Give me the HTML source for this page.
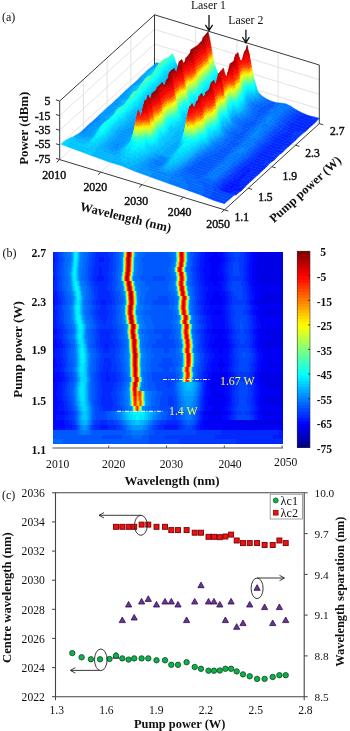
<!DOCTYPE html>
<html lang="en"><head><meta charset="utf-8"><title>Dual-wavelength laser spectra</title>
<style>html,body{margin:0;padding:0;background:#fff}svg{display:block}text{font-family:"Liberation Serif","DejaVu Serif",serif}</style></head>
<body>
<svg width="350" height="731" viewBox="0 0 350 731" font-size="12" fill="#111">
<rect width="350" height="731" fill="#fff"/>
<g id="pa-frame">
<path d="M59.7 144.9L154.5 58.7" stroke="#dcdcdc" stroke-width="0.8" fill="none"/>
<path d="M154.5 58.7L319.3 109" stroke="#dcdcdc" stroke-width="0.8" fill="none"/>
<path d="M83.4 138L83.4 79.4" stroke="#dcdcdc" stroke-width="0.8" fill="none"/>
<path d="M195.7 86L195.7 27.4" stroke="#dcdcdc" stroke-width="0.8" fill="none"/>
<path d="M100.9 172.2L195.7 86" stroke="#dcdcdc" stroke-width="0.8" fill="none"/>
<path d="M83.4 138L248.2 188.2" stroke="#dcdcdc" stroke-width="0.8" fill="none"/>
<path d="M59.7 130.3L154.5 44.1" stroke="#dcdcdc" stroke-width="0.8" fill="none"/>
<path d="M154.5 44.1L319.3 94.3" stroke="#dcdcdc" stroke-width="0.8" fill="none"/>
<path d="M107.1 116.5L107.1 57.9" stroke="#dcdcdc" stroke-width="0.8" fill="none"/>
<path d="M236.9 98.5L236.9 39.9" stroke="#dcdcdc" stroke-width="0.8" fill="none"/>
<path d="M142.1 184.7L236.9 98.5" stroke="#dcdcdc" stroke-width="0.8" fill="none"/>
<path d="M107.1 116.5L271.9 166.7" stroke="#dcdcdc" stroke-width="0.8" fill="none"/>
<path d="M59.7 115.6L154.5 29.4" stroke="#dcdcdc" stroke-width="0.8" fill="none"/>
<path d="M154.5 29.4L319.3 79.7" stroke="#dcdcdc" stroke-width="0.8" fill="none"/>
<path d="M130.8 94.9L130.8 36.3" stroke="#dcdcdc" stroke-width="0.8" fill="none"/>
<path d="M278.1 111L278.1 52.4" stroke="#dcdcdc" stroke-width="0.8" fill="none"/>
<path d="M183.3 197.2L278.1 111" stroke="#dcdcdc" stroke-width="0.8" fill="none"/>
<path d="M130.8 94.9L295.6 145.2" stroke="#dcdcdc" stroke-width="0.8" fill="none"/>
<path d="M59.7 159.6L154.5 73.4" stroke="#dcdcdc" stroke-width="0.8" fill="none"/>
<path d="M154.5 73.4L319.3 123.6" stroke="#dcdcdc" stroke-width="0.8" fill="none"/>
<path d="M59.7 101L154.5 14.8" stroke="#3a3a3a" stroke-width="1" fill="none"/>
<path d="M154.5 14.8L319.3 65" stroke="#3a3a3a" stroke-width="1" fill="none"/>
<path d="M154.5 73.4L154.5 14.8" stroke="#3a3a3a" stroke-width="1" fill="none"/>
<path d="M59.7 159.6L59.7 101" stroke="#3a3a3a" stroke-width="1" fill="none"/>
<path d="M319.3 123.6L319.3 65" stroke="#3a3a3a" stroke-width="1" fill="none"/>
<path d="M59.7 159.6L224.5 209.8" stroke="#3a3a3a" stroke-width="1" fill="none"/>
<path d="M224.5 209.8L319.3 123.6" stroke="#3a3a3a" stroke-width="1" fill="none"/>
<path d="M59.7 159.6L56.7 162.3" stroke="#3a3a3a" stroke-width="1" fill="none"/>
<path d="M224.5 209.8L228.3 211" stroke="#3a3a3a" stroke-width="1" fill="none"/>
<path d="M59.7 159.6L55.9 158.4" stroke="#3a3a3a" stroke-width="1" fill="none"/>
<path d="M100.9 172.2L97.9 174.8" stroke="#3a3a3a" stroke-width="1" fill="none"/>
<path d="M248.2 188.2L252 189.4" stroke="#3a3a3a" stroke-width="1" fill="none"/>
<path d="M59.7 144.9L55.9 143.8" stroke="#3a3a3a" stroke-width="1" fill="none"/>
<path d="M142.1 184.7L139.1 187.4" stroke="#3a3a3a" stroke-width="1" fill="none"/>
<path d="M271.9 166.7L275.7 167.9" stroke="#3a3a3a" stroke-width="1" fill="none"/>
<path d="M59.7 130.3L55.9 129.1" stroke="#3a3a3a" stroke-width="1" fill="none"/>
<path d="M183.3 197.2L180.3 199.9" stroke="#3a3a3a" stroke-width="1" fill="none"/>
<path d="M295.6 145.2L299.4 146.3" stroke="#3a3a3a" stroke-width="1" fill="none"/>
<path d="M59.7 115.6L55.9 114.5" stroke="#3a3a3a" stroke-width="1" fill="none"/>
<path d="M224.5 209.8L221.5 212.5" stroke="#3a3a3a" stroke-width="1" fill="none"/>
<path d="M319.3 123.6L323.1 124.8" stroke="#3a3a3a" stroke-width="1" fill="none"/>
<path d="M59.7 101L55.9 99.8" stroke="#3a3a3a" stroke-width="1" fill="none"/>
</g>
<g id="pa-surf" fill="currentColor" stroke="currentColor" stroke-width=".5" stroke-linejoin="round">
<path color="#0097ff" d="M153.7 65.2l2 .3 2.4-2.4-2.1-.3z"/>
<path color="#00a7ff" d="M155.7 65.5l3.6 .1 2.4-2.5-3.6 0z"/>
<path color="#28ffd7" d="M168.6 57.4l1-.2 2.4-2.6-1 .2z"/>
<path color="#38ffc7" d="M169.6 57.2l1.1-.1 2.3-2.6-1 .1z"/>
<path color="#28ffd7" d="M170.7 57.1l.5 1.3 2.4-2.6-.6-1.3z"/>
<path color="#18ffe7" d="M171.2 58.4l.5 1.6 2.4-2.8-.5-1.4z"/>
<path color="#08fff7" d="M171.7 60l.5 1.7 2.4-2.7-.5-1.8z"/>
<path color="#00f7ff" d="M172.2 61.7l.5 1.7 2.4-2.6-.5-1.8z"/>
<path color="#00e7ff" d="M172.7 63.4l.5 1.1 2.4-2.6-.5-1.1z"/>
<path color="#00d7ff" d="M173.2 64.5l1.1 2.3 2.3-2.7-1-2.2z"/>
<path color="#00c7ff" d="M174.3 66.8l.5 1.2 2 1.5 2.4-2.7-2-1.5-.6-1.2z"/>
<path color="#00b7ff" d="M176.8 69.5l3.7 2.6 2.3-2.5-3.6-2.8z"/>
<path color="#970000" d="M205.7 34.5l.5 2.3 2.4-2.8-.5-2.4z"/>
<path color="#a70000" d="M206.2 36.8l.5 2.4 2.4-2.9-.5-2.3z"/>
<path color="#b70000" d="M206.7 39.2l.5 2.3 2.4-2.8-.5-2.4z"/>
<path color="#d70000" d="M207.2 41.5l.6 2.4 2.3-2.9-.5-2.3z"/>
<path color="#e70000" d="M207.8 43.9l.5 3.1 2.3-2.9-.5-3.1z"/>
<path color="#ff0800" d="M208.3 47l.5 3.1 2.4-2.9-.6-3.1z"/>
<path color="#ff2800" d="M208.8 50.1l.5 3 2.4-2.8-.5-3.1z"/>
<path color="#ff5800" d="M209.3 53.1l.5 3.1 2.4-2.8-.5-3.1z"/>
<path color="#ffa700" d="M209.8 56.2l.5 2.5 2.4-2.8-.5-2.5z"/>
<path color="#ffe700" d="M210.3 58.7l.5 2.6 2.4-2.9-.5-2.5z"/>
<path color="#d7ff28" d="M210.8 61.3l.6 2.5 2.3-2.9-.5-2.5z"/>
<path color="#a7ff58" d="M211.4 63.8l.5 2.5 2.3-2.8-.5-2.6z"/>
<path color="#87ff78" d="M211.9 66.3l.5 1.5 2.4-2.8-.6-1.5z"/>
<path color="#58ffa7" d="M212.4 67.8l.5 1.5 2.4-2.8-.5-1.5z"/>
<path color="#38ffc7" d="M212.9 69.3l.5 1.5 2.4-2.8-.5-1.5z"/>
<path color="#28ffd7" d="M213.4 70.8l.5 1.7 2.4-3-.5-1.5z"/>
<path color="#08fff7" d="M213.9 72.5l1.1 2.4 2.3-2.9-1-2.5z"/>
<path color="#00f7ff" d="M215 74.9l.5 1.2 2.3-2.9-.5-1.2z"/>
<path color="#00e7ff" d="M215.5 76.1l.5 1.2 1 1.1 2.4-2.7-1-1.2-.6-1.3z"/>
<path color="#c70000" d="M245.4 53.9l.5-2.3 .8-4.1-.5 2z"/>
<path color="#b70000" d="M245.9 51.6l.5-2.3 .8-3.8-.5 2z"/>
<path color="#a70000" d="M246.4 49.3l.5 .9 .8-2.4-.5-2.3z"/>
<path color="#b70000" d="M246.9 50.2l.5 .9 .8-.9-.5-2.4z"/>
<path color="#c70000" d="M247.4 51.1l.6 .9 .7 .5-.5-2.3z"/>
<path color="#d70000" d="M248 52l.5 .9 .8 2-.6-2.4z"/>
<path color="#f70000" d="M248.5 52.9l.5 2.8 .8 2.3-.5-3.1z"/>
<path color="#ff0800" d="M249 55.7l.5 2.9 .8 2.4-.5-3z"/>
<path color="#ff2800" d="M249.5 58.6l.5 2.8 .8 2.7-.5-3.1z"/>
<path color="#ff5800" d="M250 61.4l.5 2.9 .8 2.9-.5-3.1z"/>
<path color="#ff9700" d="M250.5 64.3l.5 2.7 .8 2.7-.5-2.5z"/>
<path color="#ffe700" d="M251 67l.6 2.7 .8 2.6-.6-2.6z"/>
<path color="#d7ff28" d="M251.6 69.7l.5 2.7 .8 2.4-.5-2.5z"/>
<path color="#a7ff58" d="M252.1 72.4l.5 2.7 .8 2.2-.5-2.5z"/>
<path color="#78ff87" d="M252.6 75.1l.5 1.9 .8 1.9-.5-1.6z"/>
<path color="#58ffa7" d="M253.1 77l.5 1.9 .8 1.6-.5-1.6z"/>
<path color="#28ffd7" d="M253.6 78.9l.5 1.9 .8 1.5-.5-1.8z"/>
<path color="#18ffe7" d="M254.1 80.8l.6 2.1 .7 1.6-.5-2.2z"/>
<path color="#00f7ff" d="M254.7 82.9l.5 1.7 .8 1.4-.6-1.5z"/>
<path color="#00e7ff" d="M255.2 84.6l.5 1.7 .8 1.2-.5-1.5z"/>
<path color="#00d7ff" d="M255.7 86.3l.5 1.7 .8 1-.5-1.5z"/>
<path color="#d70000" d="M247.7 50.9l.5 2.6 .8 2.2-.5-2.8z"/>
<path color="#e70000" d="M248.2 53.5l.5 2.6 .8 2.5-.5-2.9z"/>
<path color="#ff0800" d="M248.7 56.1l.5 2.6 .8 2.7-.5-2.8z"/>
<path color="#ff2800" d="M249.2 58.7l.5 2.6 .8 3-.5-2.9z"/>
<path color="#ff3800" d="M249.7 61.3l.6 2.9 .7 2.8-.5-2.7z"/>
<path color="#ff8700" d="M250.3 64.2l.5 2.9 .8 2.6-.6-2.7z"/>
<path color="#ffd700" d="M250.8 67.1l.5 2.9 .8 2.4-.5-2.7z"/>
<path color="#e7ff18" d="M251.3 70l.5 2.9 .8 2.2-.5-2.7z"/>
<path color="#b7ff48" d="M251.8 72.9l.5 2.2 .8 1.9-.5-1.9z"/>
<path color="#87ff78" d="M252.3 75.1l.5 2.2 .8 1.6-.5-1.9z"/>
<path color="#68ff97" d="M252.8 77.3l.5 2.2 .8 1.3-.5-1.9z"/>
<path color="#38ffc7" d="M253.3 79.5l.6 2.3 .8 1.1-.6-2.1z"/>
<path color="#18ffe7" d="M253.9 81.8l.5 1.4 .8 1.4-.5-1.7z"/>
<path color="#00f7ff" d="M254.4 83.2l.5 2 .8 1.1-.5-1.7z"/>
<path color="#00f7ff" d="M254.9 85.2l.5 1.9 .8 .9-.5-1.7z"/>
<path color="#b70000" d="M246.9 49l.5 2.3 .8 2.2-.5-2.6z"/>
<path color="#d70000" d="M247.4 51.3l.5 2.4 .8 2.4-.5-2.6z"/>
<path color="#e70000" d="M247.9 53.7l.5 2.3 .8 2.7-.5-2.6z"/>
<path color="#f70000" d="M248.4 56l.6 2.4 .7 2.9-.5-2.6z"/>
<path color="#ff1800" d="M248.9 58.4l.5 3.1 .8 2.7-.6-2.9z"/>
<path color="#ff3800" d="M249.5 61.5l.5 3 .8 2.6-.5-2.9z"/>
<path color="#ff7800" d="M250 64.5l.5 3.1 .8 2.4-.5-2.9z"/>
<path color="#ffc700" d="M250.5 67.6l.5 3.1 .8 2.2-.5-2.9z"/>
<path color="#f7ff08" d="M251 70.7l.5 2.5 .8 1.9-.5-2.2z"/>
<path color="#c7ff38" d="M251.5 73.2l.5 2.6 .8 1.5-.5-2.2z"/>
<path color="#97ff68" d="M252 75.8l.6 2.5 .7 1.2-.5-2.2z"/>
<path color="#58ffa7" d="M252.6 78.3l.5 2.5 .8 1-.6-2.3z"/>
<path color="#38ffc7" d="M253.1 80.8l.5 1.6 .8 .8-.5-1.4z"/>
<path color="#18ffe7" d="M253.6 82.4l.5 1.6 .8 1.2-.5-2z"/>
<path color="#08fff7" d="M254.1 84l.5 2.1 .8 1-.5-1.9z"/>
<path color="#00e7ff" d="M254.6 86.1l.5 2.2 2.4 2.2-.5-1.5z"/>
<path color="#00d7ff" d="M255.1 88.3l.5 1.5 2.4 1.6-.5-.9z"/>
<path color="#00c7ff" d="M255.6 89.8l1.1 3 2.3 .3-1-1.7z"/>
<path color="#00b7ff" d="M256.7 92.8l.5 1.4 2.4-.4-.6-.7z"/>
<path color="#00a7ff" d="M257.2 94.2l1 1.7 2.4-1.2-1-.9z"/>
<path color="#0097ff" d="M258.2 95.9l1.6 1.8 2.3-1.7-1.5-1.3z"/>
<path color="#0087ff" d="M259.8 97.7l2 1.6 2.4-1.8-2.1-1.5z"/>
<path color="#0078ff" d="M261.8 99.3l2.6 1.8 2.4-2-2.6-1.6z"/>
<path color="#0068ff" d="M264.4 101.1l4.6 2.5 2.4-2.3-4.6-2.2z"/>
<path color="#0058ff" d="M269 103.6l5.2 1.6 2.4-2.4-5.2-1.5z"/>
<path color="#0068ff" d="M274.2 105.2l4.1 .4 2.4-2.5-4.1-.3z"/>
<path color="#0078ff" d="M278.3 105.6l3.6 .2 2.1 .5 4.1 2 2.4-2.2-4.2-2.1-2-.6-3.6-.3z"/>
<path color="#0068ff" d="M288.1 108.3l2.6 1.7 2.3-2.2-2.5-1.7z"/>
<path color="#0058ff" d="M290.7 110l3.1 2 2.3-2.3-3.1-1.9z"/>
<path color="#0048ff" d="M293.8 112l3.6 2.1 2.3-2.4-3.6-2z"/>
<path color="#0038ff" d="M297.4 114.1l4.1 2.2 2.3-2.6-4.1-2z"/>
<path color="#0028ff" d="M301.5 116.3l5.1 1.9 5.2 1.2 2.4-2.5-5.2-1.2-5.2-2z"/>
<path color="#0038ff" d="M311.8 119.4l5.1 1.4 2.4-2.5-5.1-1.4z"/>
<path color="#0097ff" d="M151.3 67.2l2.6 .2 2.3-1.9-2.5-.3z"/>
<path color="#00a7ff" d="M153.9 67.4l2.6 0 2.3-1.8-2.6-.1z"/>
<path color="#28ffd7" d="M166.2 58.5l.6 .2 2.3-1.4-.5 .1z"/>
<path color="#38ffc7" d="M166.8 58.7l1.5 .6 2.4-2.2-1.6 .2z"/>
<path color="#28ffd7" d="M168.3 59.3l.5 1.4 2.4-2.3-.5-1.3z"/>
<path color="#18ffe7" d="M168.8 60.7l.5 1.8 2.4-2.5-.5-1.6z"/>
<path color="#00f7ff" d="M169.3 62.5l.5 1.8 2.4-2.6-.5-1.7z"/>
<path color="#00e7ff" d="M169.8 64.3l.6 1.9 2.3-2.8-.5-1.7z"/>
<path color="#00e7ff" d="M170.4 66.2l.5 .9 2.3-2.6-.5-1.1z"/>
<path color="#00d7ff" d="M170.9 67.1l1 1.9 2.4-2.2-1.1-2.3z"/>
<path color="#00c7ff" d="M171.9 69l.5 .9 2.1 1.5 2.3-1.9-2-1.5-.5-1.2z"/>
<path color="#00b7ff" d="M174.5 71.4l3.1 2.4 2.3-2-3.1-2.3z"/>
<path color="#970000" d="M203.3 37.2l.5 2.3 2.4-2.7-.5-2.3z"/>
<path color="#b70000" d="M203.8 39.5l.6 2.4 2.3-2.7-.5-2.4z"/>
<path color="#c70000" d="M204.3 41.9l.5 2.4 2.3-2.8-.5-2.3z"/>
<path color="#d70000" d="M204.9 44.3l.5 2.3 2.4-2.7-.6-2.4z"/>
<path color="#f70000" d="M205.4 46.6l.5 3.1 2.4-2.7-.5-3.1z"/>
<path color="#ff1800" d="M205.9 49.7l.5 3.1 2.4-2.7-.5-3.1z"/>
<path color="#ff3800" d="M206.4 52.8l.5 3.1 2.4-2.8-.5-3z"/>
<path color="#ff6800" d="M206.9 55.9l.5 3 2.4-2.7-.5-3.1z"/>
<path color="#ffb700" d="M207.4 58.9l.6 2.6 2.3-2.8-.5-2.5z"/>
<path color="#fff700" d="M208 61.5l.5 2.5 2.3-2.7-.5-2.6z"/>
<path color="#c7ff38" d="M208.5 64l.5 2.5 2.4-2.7-.6-2.5z"/>
<path color="#97ff68" d="M209 66.5l.5 2.5 2.4-2.7-.5-2.5z"/>
<path color="#78ff87" d="M209.5 69l.5 1.4 2.4-2.6-.5-1.5z"/>
<path color="#58ffa7" d="M210 70.4l.5 1.5 2.4-2.6-.5-1.5z"/>
<path color="#38ffc7" d="M210.5 71.9l.5 1.5 2.4-2.6-.5-1.5z"/>
<path color="#18ffe7" d="M211 73.4l.6 1.9 2.3-2.8-.5-1.7z"/>
<path color="#08fff7" d="M211.6 75.3l.5 1.1 2.3-2.7-.5-1.2z"/>
<path color="#00f7ff" d="M212.1 76.4l1 2.3 2.4-2.6-1.1-2.4z"/>
<path color="#00e7ff" d="M213.1 78.7l1 1.7 2.4-2.5-1-1.8z"/>
<path color="#00d7ff" d="M214.1 80.4l1.6 1.5 1.5 .9 2.4-2.3-1.6-.9-1.5-1.7z"/>
<path color="#a70000" d="M244.5 51.7l.5 2.4 2.4-2.8-.5-2.3z"/>
<path color="#c70000" d="M245 54.1l.6 2.3 2.3-2.7-.5-2.4z"/>
<path color="#d70000" d="M245.6 56.4l.5 2.4 2.3-2.8-.5-2.3z"/>
<path color="#f70000" d="M246.1 58.8l.5 2.3 2.4-2.7-.6-2.4z"/>
<path color="#ff0800" d="M246.6 61.1l.5 3.1 2.4-2.7-.5-3.1z"/>
<path color="#ff2800" d="M247.1 64.2l.5 3.1 2.4-2.8-.5-3z"/>
<path color="#ff4800" d="M247.6 67.3l.5 3.1 2.4-2.8-.5-3.1z"/>
<path color="#ffa700" d="M248.1 70.4l.5 3.1 2.4-2.8-.5-3.1z"/>
<path color="#fff700" d="M248.6 73.5l.6 2.5 2.3-2.8-.5-2.5z"/>
<path color="#d7ff28" d="M249.2 76l.5 2.5 2.3-2.7-.5-2.6z"/>
<path color="#a7ff58" d="M249.7 78.5l.5 2.5 2.4-2.7-.6-2.5z"/>
<path color="#68ff97" d="M250.2 81l.5 2.6 2.4-2.8-.5-2.5z"/>
<path color="#38ffc7" d="M250.7 83.6l.5 1.5 2.4-2.7-.5-1.6z"/>
<path color="#28ffd7" d="M251.2 85.1l.5 1.8 2.4-2.9-.5-1.6z"/>
<path color="#08fff7" d="M251.7 86.9l.5 2.2 2.4-3-.5-2.1z"/>
<path color="#00f7ff" d="M252.2 89.1l.6 2.1 2.3-2.9-.5-2.2z"/>
<path color="#00e7ff" d="M252.8 91.2l.5 1.4 2.3-2.8-.5-1.5z"/>
<path color="#00d7ff" d="M253.3 92.6l.5 1.5 2.4-2.8-.6-1.5z"/>
<path color="#00c7ff" d="M253.8 94.1l.5 1.5 2.4-2.8-.5-1.5z"/>
<path color="#00b7ff" d="M254.3 95.6l1 2.2 2.4-2.7-1-2.3z"/>
<path color="#00a7ff" d="M255.3 97.8l1.1 1.3 2.3-2.6-1-1.4z"/>
<path color="#0097ff" d="M256.4 99.1l1 1 2.4-2.4-1.1-1.2z"/>
<path color="#0087ff" d="M257.4 100.1l2.1 1.6 2.3-2.4-2-1.6z"/>
<path color="#0078ff" d="M259.5 101.7l2.5 1.7 2.4-2.3-2.6-1.8z"/>
<path color="#0068ff" d="M262 103.4l4.2 2.1 2.3-2.2-4.1-2.2z"/>
<path color="#0058ff" d="M266.2 105.5l3 1.2 3.6 .7 2.4-2-3.6-.8-3.1-1.3z"/>
<path color="#0068ff" d="M272.8 107.4l3.6 .1 2.4-1.9-3.6-.2z"/>
<path color="#0078ff" d="M276.4 107.5l3.1 .3 2.1 .6 3.6 2 2.4-2.4-3.6-1.7-2.1-.5-3.1-.2z"/>
<path color="#0068ff" d="M285.2 110.4l2.6 1.7 2.4-2.4-2.6-1.7z"/>
<path color="#0058ff" d="M287.8 112.1l3.1 1.9 2.3-2.3-3-2z"/>
<path color="#0048ff" d="M290.9 114l3.1 1.8 2.3-2.2-3.1-1.9z"/>
<path color="#0038ff" d="M294 115.8l4.1 2.3 2.4-2.3-4.2-2.2z"/>
<path color="#0028ff" d="M298.1 118.1l6.2 2.4 10.3 2.6 2.3-2.3-10.3-2.6-6.1-2.4z"/>
<path color="#0097ff" d="M148.9 69.1l1.1 0 2.3-1.8-1-.1z"/>
<path color="#00a7ff" d="M150 69.1l3.1-.1 2.3-1.6-3.1-.1z"/>
<path color="#00b7ff" d="M153.1 69l3-.6 2.4-1.3-3.1 .3z"/>
<path color="#48ffb7" d="M163.9 59.5l.5 .5 2.4-1.3-.6-.2z"/>
<path color="#38ffc7" d="M164.4 60l1.5 1.5 2.4-2.2-1.5-.6z"/>
<path color="#28ffd7" d="M165.9 61.5l.5 1.4 2.4-2.2-.5-1.4z"/>
<path color="#18ffe7" d="M166.4 62.9l.6 1.9 2.3-2.3-.5-1.8z"/>
<path color="#00f7ff" d="M167 64.8l.5 1.9 2.3-2.4-.5-1.8z"/>
<path color="#00e7ff" d="M167.5 66.7l.5 1.9 2.4-2.4-.6-1.9z"/>
<path color="#00e7ff" d="M168 68.6l.5 .7 2.4-2.2-.5-.9z"/>
<path color="#00d7ff" d="M168.5 69.3l1 1.5 2.4-1.8-1-1.9z"/>
<path color="#00c7ff" d="M169.5 70.8l3.1 2.7 2.4-1.7-2.6-1.9-.5-.9z"/>
<path color="#a70000" d="M202 43.1l.5-2.3 .8-3.6-.5 2z"/>
<path color="#a70000" d="M202.5 40.8l.5 .9 .8-2.2-.5-2.3z"/>
<path color="#b70000" d="M203 41.7l.6 .9 .8-.7-.6-2.4z"/>
<path color="#c70000" d="M203.6 42.6l.5 .8 .8 .9-.5-2.4z"/>
<path color="#d70000" d="M204.1 43.4l.5 .9 .8 2.3-.5-2.3z"/>
<path color="#e70000" d="M204.6 44.3l.5 2.9 .8 2.5-.5-3.1z"/>
<path color="#ff0800" d="M205.1 47.2l.5 2.8 .8 2.8-.5-3.1z"/>
<path color="#ff2800" d="M205.6 50l.5 2.9 .8 3-.5-3.1z"/>
<path color="#ff3800" d="M206.1 52.9l.5 2.8 .8 3.2-.5-3z"/>
<path color="#ff8700" d="M206.7 55.7l.6 2.7 .8 3.1-.6-2.6z"/>
<path color="#ffc700" d="M207.2 58.4l.5 2.7 .8 2.9-.5-2.5z"/>
<path color="#e7ff18" d="M207.7 61.1l.5 2.7 .8 2.7-.5-2.5z"/>
<path color="#b7ff48" d="M208.2 63.8l.5 2.7 .8 2.5-.5-2.5z"/>
<path color="#87ff78" d="M208.7 66.5l.5 1.8 .8 2.1-.5-1.4z"/>
<path color="#68ff97" d="M209.2 68.3l.5 1.8 .8 1.8-.5-1.5z"/>
<path color="#48ffb7" d="M209.7 70.1l.6 1.8 .7 1.5-.5-1.5z"/>
<path color="#28ffd7" d="M210.3 71.9l.5 1.9 .8 1.5-.6-1.9z"/>
<path color="#08fff7" d="M211.3 74.9l.5 1.4 .8 1.3-.5-1.2z"/>
<path color="#00f7ff" d="M211.8 76.3l.5 1.4 .8 1-.5-1.1z"/>
<path color="#c70000" d="M203.8 42.1l.5 2.6 .8 2.5-.5-2.9z"/>
<path color="#e70000" d="M204.3 44.7l.5 2.6 .8 2.7-.5-2.8z"/>
<path color="#f70000" d="M204.8 47.3l.5 2.5 .8 3.1-.5-2.9z"/>
<path color="#ff1800" d="M205.3 49.8l.6 2.6 .7 3.3-.5-2.8z"/>
<path color="#ff3800" d="M205.9 52.4l.5 2.9 .8 3.1-.6-2.7z"/>
<path color="#ff6800" d="M206.4 55.3l.5 2.9 .8 2.9-.5-2.7z"/>
<path color="#ffb700" d="M206.9 58.2l.5 2.9 .8 2.7-.5-2.7z"/>
<path color="#fff700" d="M207.4 61.1l.5 2.9 .8 2.5-.5-2.7z"/>
<path color="#d7ff28" d="M207.9 64l.5 2.2 .8 2.1-.5-1.8z"/>
<path color="#a7ff58" d="M208.4 66.2l.6 2.1 .7 1.8-.5-1.8z"/>
<path color="#87ff78" d="M208.9 68.3l.5 2.2 .8 1.4-.6-1.8z"/>
<path color="#58ffa7" d="M209.5 70.5l.5 2.2 .8 1.1-.5-1.9z"/>
<path color="#38ffc7" d="M210 72.7l.5 1.2 .8 1-.5-1.1z"/>
<path color="#18ffe7" d="M210.5 73.9l.5 1.3 .8 1.1-.5-1.4z"/>
<path color="#08fff7" d="M211 75.2l.5 1.6 .8 .9-.5-1.4z"/>
<path color="#a70000" d="M203 39.8l.5 2.3 .8 2.6-.5-2.6z"/>
<path color="#c70000" d="M203.5 42.1l.5 2.4 .8 2.8-.5-2.6z"/>
<path color="#d70000" d="M204 44.5l.6 2.3 .7 3-.5-2.5z"/>
<path color="#f70000" d="M204.6 46.8l.5 2.4 .8 3.2-.6-2.6z"/>
<path color="#ff0800" d="M205.1 49.2l.5 3.1 .8 3-.5-2.9z"/>
<path color="#ff2800" d="M205.6 52.3l.5 3.1 .8 2.8-.5-2.9z"/>
<path color="#ff4800" d="M206.1 55.4l.5 3.1 .8 2.6-.5-2.9z"/>
<path color="#ff9700" d="M206.6 58.5l.5 3 .8 2.5-.5-2.9z"/>
<path color="#ffe700" d="M207.1 61.5l.5 2.5 .8 2.2-.5-2.2z"/>
<path color="#e7ff18" d="M207.6 64l.6 2.6 .8 1.7-.6-2.1z"/>
<path color="#b7ff48" d="M208.2 66.6l.5 2.5 .8 1.4-.5-2.2z"/>
<path color="#87ff78" d="M208.7 69.1l.5 2.5 .8 1.1-.5-2.2z"/>
<path color="#58ffa7" d="M209.2 71.6l.5 1.4 .8 .9-.5-1.2z"/>
<path color="#38ffc7" d="M209.7 73l.5 1.5 .8 .7-.5-1.3z"/>
<path color="#28ffd7" d="M210.2 74.5l.5 1.5 .8 .8-.5-1.6z"/>
<path color="#00f7ff" d="M210.7 76l.5 1.8 2.4 2-.5-1.1z"/>
<path color="#00f7ff" d="M211.2 77.8l.6 1.2 2.3 1.4-.5-.6z"/>
<path color="#00e7ff" d="M211.8 79l1 2.3 2.4 .1-1.1-1z"/>
<path color="#00d7ff" d="M212.8 81.3l.5 1.2 2.6 2.4 2.4-1.5-3.1-2z"/>
<path color="#e70000" d="M242.5 59.2l.5-1 .5-2.4-.5 2z"/>
<path color="#d70000" d="M243 58.2l.5-1 .5-3.5-.5 2.1z"/>
<path color="#c70000" d="M243.5 57.2l.5-1 .5-4.5-.5 2z"/>
<path color="#c70000" d="M244 56.2l.6 2.4 .4-4.5-.5-2.4z"/>
<path color="#d70000" d="M244.6 58.6l.5 2.4 .5-4.6-.6-2.3z"/>
<path color="#f70000" d="M245.1 61l.5 2.4 .5-4.6-.5-2.4z"/>
<path color="#ff0800" d="M245.6 63.4l.5 2.4 .5-4.7-.5-2.3z"/>
<path color="#ff2800" d="M246.1 65.8l.5 2.7 .5-4.3-.5-3.1z"/>
<path color="#ff3800" d="M246.6 68.5l.5 2.8 .5-4-.5-3.1z"/>
<path color="#ff8700" d="M247.1 71.3l.6 2.8 .4-3.7-.5-3.1z"/>
<path color="#ffd700" d="M247.7 74.1l.5 2.8 .4-3.4-.5-3.1z"/>
<path color="#e7ff18" d="M248.2 76.9l.5 2.2 .5-3.1-.6-2.5z"/>
<path color="#b7ff48" d="M248.7 79.1l.5 2.2 .5-2.8-.5-2.5z"/>
<path color="#87ff78" d="M249.2 81.3l.5 2.3 .5-2.6-.5-2.5z"/>
<path color="#48ffb7" d="M249.7 83.6l.5 2.2 .5-2.2-.5-2.6z"/>
<path color="#28ffd7" d="M250.2 85.8l.5 1.7 .5-2.4-.5-1.5z"/>
<path color="#08fff7" d="M250.7 87.5l.6 1.9 .4-2.5-.5-1.8z"/>
<path color="#00f7ff" d="M251.3 89.4l.5 1.8 .4-2.1-.5-2.2z"/>
<path color="#00e7ff" d="M251.8 91.2l.5 1.9 .5-1.9-.6-2.1z"/>
<path color="#00d7ff" d="M252.3 93.1l.5 1.3 .5-1.8-.5-1.4z"/>
<path color="#00c7ff" d="M252.8 94.4l1 2.5 .5-1.3-1-3z"/>
<path color="#f70000" d="M241.5 60.7l.5 0 .5-1.5-.5 1.1z"/>
<path color="#f70000" d="M242 60.7l.5 0 .5-2.5-.5 1z"/>
<path color="#e70000" d="M242.5 60.7l.6 0 .4-3.5-.5 1z"/>
<path color="#e70000" d="M243.1 60.7l.5 0 .4-4.5-.5 1z"/>
<path color="#e70000" d="M243.6 60.7l.5 2.4 .5-4.5-.6-2.4z"/>
<path color="#ff0800" d="M244.1 63.1l.5 2.4 .5-4.5-.5-2.4z"/>
<path color="#ff1800" d="M244.6 65.5l.5 2.5 .5-4.6-.5-2.4z"/>
<path color="#ff3800" d="M245.1 68l.5 2.4 .5-4.6-.5-2.4z"/>
<path color="#ff5800" d="M245.6 70.4l.5 2.5 .5-4.4-.5-2.7z"/>
<path color="#ffa700" d="M246.1 72.9l.6 2.4 .4-4-.5-2.8z"/>
<path color="#ffe700" d="M246.7 75.3l.5 2.5 .5-3.7-.6-2.8z"/>
<path color="#d7ff28" d="M247.2 77.8l.5 2.5 .5-3.4-.5-2.8z"/>
<path color="#a7ff58" d="M247.7 80.3l.5 1.9 .5-3.1-.5-2.2z"/>
<path color="#78ff87" d="M248.2 82.2l.5 2 .5-2.9-.5-2.2z"/>
<path color="#48ffb7" d="M248.7 84.2l.5 1.9 .5-2.5-.5-2.3z"/>
<path color="#28ffd7" d="M249.2 86.1l.6 2.5 .4-2.8-.5-2.2z"/>
<path color="#08fff7" d="M249.8 88.6l.5 1.6 .4-2.7-.5-1.7z"/>
<path color="#00f7ff" d="M250.3 90.2l.5 1.6 .5-2.4-.6-1.9z"/>
<path color="#00e7ff" d="M250.8 91.8l.5 1.6 .5-2.2-.5-1.8z"/>
<path color="#00d7ff" d="M251.3 93.4l.5 1.6 .5-1.9-.5-1.9z"/>
<path color="#00c7ff" d="M251.8 95l1 2.2 .5-1.5-1-2.6z"/>
<path color="#00b7ff" d="M252.8 97.2l.6 1 .4-1.3-.5-1.2z"/>
<path color="#f70000" d="M240.5 60.8l.5 .3 .6 1 .4-1.4-.5 0-.5 .7z"/>
<path color="#ff0800" d="M241.6 62.1l1.5 3.1 .5-4.5-1.6 0z"/>
<path color="#ff1800" d="M243.1 65.2l.5 2.5 .5-4.6-.5-2.4z"/>
<path color="#ff2800" d="M243.6 67.7l.5 2.4 .5-4.6-.5-2.4z"/>
<path color="#ff5800" d="M244.1 70.1l.5 2.5 .5-4.6-.5-2.5z"/>
<path color="#ff9700" d="M244.6 72.6l.6 2.4 .4-4.6-.5-2.4z"/>
<path color="#ffd700" d="M245.2 75l.5 2.2 .4-4.3-.5-2.5z"/>
<path color="#f7ff08" d="M245.7 77.2l.5 2.1 .5-4-.6-2.4z"/>
<path color="#c7ff38" d="M246.2 79.3l.5 2.2 .5-3.7-.5-2.5z"/>
<path color="#97ff68" d="M246.7 81.5l.5 2.2 .5-3.4-.5-2.5z"/>
<path color="#68ff97" d="M247.2 83.7l.5 1.6 .5-3.1-.5-1.9z"/>
<path color="#38ffc7" d="M247.7 85.3l.5 1.8 .5-2.9-.5-2z"/>
<path color="#18ffe7" d="M248.2 87.1l.6 2.2 .4-3.2-.5-1.9z"/>
<path color="#00f7ff" d="M248.8 89.3l.5 2.3 .5-3-.6-2.5z"/>
<path color="#00e7ff" d="M249.3 91.6l1 2.7 .5-2.5-1-3.2z"/>
<path color="#00d7ff" d="M250.3 94.3l.5 1.3 .5-2.2-.5-1.6z"/>
<path color="#00c7ff" d="M250.8 95.6l.5 1.4 .5-2-.5-1.6z"/>
<path color="#00b7ff" d="M251.3 97l1.1 1.6 .4-1.4-1-2.2z"/>
<path color="#00a7ff" d="M252.4 98.6l.5 .7 .5-1.1-.6-1z"/>
<path color="#f70000" d="M240 60.1l.6 1.4 .4-.4-.5-.3z"/>
<path color="#ff0800" d="M240.6 61.5l.5 2 .5-1.4-.6-1z"/>
<path color="#ff1800" d="M241.1 63.5l.5 2.1 .5-2.5-.5-1z"/>
<path color="#ff2800" d="M241.6 65.6l.5 2 .5-3.4-.5-1.1z"/>
<path color="#ff2800" d="M242.1 67.6l.5 2.1 .5-4.5-.5-1z"/>
<path color="#ff4800" d="M242.6 69.7l.5 2.5 .5-4.5-.5-2.5z"/>
<path color="#ff8700" d="M243.1 72.2l.6 2.5 .4-4.6-.5-2.4z"/>
<path color="#ffc700" d="M243.7 74.7l.5 2.5 .4-4.6-.5-2.5z"/>
<path color="#f7ff08" d="M244.2 77.2l.5 2.5 .5-4.7-.6-2.4z"/>
<path color="#c7ff38" d="M244.7 79.7l.5 1.8 .5-4.3-.5-2.2z"/>
<path color="#a7ff58" d="M245.2 81.5l.5 1.9 .5-4.1-.5-2.1z"/>
<path color="#78ff87" d="M245.7 83.4l.5 1.8 .5-3.7-.5-2.2z"/>
<path color="#48ffb7" d="M246.2 85.2l.5 2 .5-3.5-.5-2.2z"/>
<path color="#28ffd7" d="M246.7 87.2l.6 1.8 .4-3.7-.5-1.6z"/>
<path color="#08fff7" d="M247.3 89l.5 1.9 .4-3.8-.5-1.8z"/>
<path color="#00f7ff" d="M247.8 90.9l.5 1.8 .5-3.4-.6-2.2z"/>
<path color="#00e7ff" d="M248.3 92.7l.5 1.8 .5-2.9-.5-2.3z"/>
<path color="#00d7ff" d="M248.8 94.5l.5 1.1 .5-2.7-.5-1.3z"/>
<path color="#00c7ff" d="M249.3 95.6l1 2.2 .5-2.2-1-2.7z"/>
<path color="#00b7ff" d="M250.3 97.8l1.1 1.5 .5-1.4-1.1-2.3z"/>
<path color="#00a7ff" d="M251.4 99.3l1 1.1 .5-1.1-1-1.4z"/>
<path color="#e70000" d="M239.1 57.1l.5 2.4 .4 .6-.5-1.3z"/>
<path color="#f70000" d="M239.6 59.5l.5 2.4 .5-.4-.6-1.4z"/>
<path color="#ff0800" d="M240.1 61.9l.5 3 .5-1.4-.5-2z"/>
<path color="#ff2800" d="M240.6 64.9l.5 3.1 .5-2.4-.5-2.1z"/>
<path color="#ff3800" d="M241.1 68l.5 3.1 .5-3.5-.5-2z"/>
<path color="#ff7800" d="M241.6 71.1l.6 3.1 .4-4.5-.5-2.1z"/>
<path color="#ffb700" d="M242.2 74.2l.5 2.5 .4-4.5-.5-2.5z"/>
<path color="#fff700" d="M242.7 76.7l.5 2.5 .5-4.5-.6-2.5z"/>
<path color="#c7ff38" d="M243.2 79.2l.5 2.6 .5-4.6-.5-2.5z"/>
<path color="#97ff68" d="M243.7 81.8l.5 2.5 .5-4.6-.5-2.5z"/>
<path color="#68ff97" d="M244.2 84.3l.5 1.5 .5-4.3-.5-1.8z"/>
<path color="#48ffb7" d="M244.7 85.8l.5 1.8 .5-4.2-.5-1.9z"/>
<path color="#28ffd7" d="M245.2 87.6l.6 2.1 .4-4.5-.5-1.8z"/>
<path color="#08fff7" d="M245.8 89.7l.5 2.1 .4-4.6-.5-2z"/>
<path color="#00f7ff" d="M246.3 91.8l.5 1.4 .5-4.2-.6-1.8z"/>
<path color="#00e7ff" d="M246.8 93.2l.5 1.4 .5-3.7-.5-1.9z"/>
<path color="#00d7ff" d="M247.3 94.6l.5 1.5 .5-3.4-.5-1.8z"/>
<path color="#00c7ff" d="M247.8 96.1l.5 1.4 .5-3-.5-1.8z"/>
<path color="#00c7ff" d="M248.3 97.5l.5 .8 .5-2.7-.5-1.1z"/>
<path color="#00b7ff" d="M248.8 98.3l1.1 1.3 .4-1.8-1-2.2z"/>
<path color="#00a7ff" d="M249.9 99.6l1 1.1 .5-1.4-1.1-1.5z"/>
<path color="#0097ff" d="M250.9 100.7l1 .8 .5-1.1-1-1.1z"/>
<path color="#00a7ff" d="M251.9 101.5l.5 .4 2.4-4.9-.5-1.4z"/>
<path color="#0097ff" d="M252.4 101.9l1.1 .7 2.3-4.2-1-1.4z"/>
<path color="#0087ff" d="M253.5 102.6l2 1.4 2.4-3.5-2.1-2.1z"/>
<path color="#0078ff" d="M255.5 104l2.6 1.4 2.4-3-2.6-1.9z"/>
<path color="#0068ff" d="M258.1 105.4l4.1 1.9 2.4-2.5-4.1-2.4z"/>
<path color="#0058ff" d="M262.2 107.3l4.7 1.5 2.5 .5 2.4-2-2.6-.6-4.6-1.9z"/>
<path color="#0068ff" d="M269.4 109.3l4.2 .3 2.3-2.1-4.1-.2z"/>
<path color="#0078ff" d="M273.6 109.6l3.6 .3 2 .7 3.1 1.7 2.4-2.2-3.1-1.7-2.1-.6-3.6-.3z"/>
<path color="#0068ff" d="M282.3 112.3l3.1 2 2.4-2.2-3.1-2z"/>
<path color="#0058ff" d="M285.4 114.3l2.6 1.6 2.4-2.2-2.6-1.6z"/>
<path color="#0048ff" d="M288 115.9l3.6 2 2.4-2.1-3.6-2.1z"/>
<path color="#0038ff" d="M291.6 117.9l3.6 2 2.4-2.1-3.6-2z"/>
<path color="#0028ff" d="M295.2 119.9l6.7 2.7 10.3 2.6 2.4-2.1-10.3-2.6-6.7-2.7z"/>
<path color="#00a7ff" d="M146.6 71l3.1-.1 2.3-1.8-3.1 0z"/>
<path color="#00b7ff" d="M149.7 70.9l3-.7 2.4-1.6-3.1 .5z"/>
<path color="#00c7ff" d="M152.7 70.2l3.1-.7 2.4-1.5-3.1 .6z"/>
<path color="#58ffa7" d="M161 61.7l.5-.7 .5 .7 2.4-1.7-.5-.5-.5 .8z"/>
<path color="#48ffb7" d="M162 61.7l1 1.3 2.4-2-1-1z"/>
<path color="#38ffc7" d="M163 63l.6 .6 2.3-2.1-.5-.5z"/>
<path color="#28ffd7" d="M163.6 63.6l.5 1.4 2.3-2.1-.5-1.4z"/>
<path color="#18ffe7" d="M164.1 65l.5 1.8 2.4-2-.6-1.9z"/>
<path color="#00f7ff" d="M164.6 66.8l.5 1.9 2.4-2-.5-1.9z"/>
<path color="#00e7ff" d="M165.1 68.7l.5 1.9 2.4-2-.5-1.9z"/>
<path color="#00e7ff" d="M165.6 70.6l.5 .6 2.4-1.9-.5-.7z"/>
<path color="#00d7ff" d="M166.1 71.2l1.6 2 2.3-1.7-1.5-2.2z"/>
<path color="#00c7ff" d="M167.7 73.2l3.6 3 2.4-1.8-3.7-2.9z"/>
<path color="#970000" d="M200.6 42l.6 2.3 2.3-2.2-.5-2.3z"/>
<path color="#b70000" d="M201.2 44.3l.5 2.4 2.3-2.2-.5-2.4z"/>
<path color="#c70000" d="M201.7 46.7l.5 2.3 2.4-2.2-.6-2.3z"/>
<path color="#d70000" d="M202.2 49l.5 2.4 2.4-2.2-.5-2.4z"/>
<path color="#f70000" d="M202.7 51.4l.5 3.1 2.4-2.2-.5-3.1z"/>
<path color="#ff1800" d="M203.2 54.5l.5 3.1 2.4-2.2-.5-3.1z"/>
<path color="#ff3800" d="M203.7 57.6l.5 3 2.4-2.1-.5-3.1z"/>
<path color="#ff6800" d="M204.2 60.6l.6 3.1 2.3-2.2-.5-3z"/>
<path color="#ffb700" d="M204.8 63.7l.5 2.5 2.3-2.2-.5-2.5z"/>
<path color="#fff700" d="M205.3 66.2l.5 2.5 2.4-2.1-.6-2.6z"/>
<path color="#c7ff38" d="M205.8 68.7l.5 2.6 2.4-2.2-.5-2.5z"/>
<path color="#97ff68" d="M206.3 71.3l.5 2.5 2.4-2.2-.5-2.5z"/>
<path color="#68ff97" d="M206.8 73.8l.5 1.4 2.4-2.2-.5-1.4z"/>
<path color="#48ffb7" d="M207.3 75.2l.5 1.5 2.4-2.2-.5-1.5z"/>
<path color="#38ffc7" d="M207.8 76.7l.6 1.5 2.3-2.2-.5-1.5z"/>
<path color="#18ffe7" d="M208.4 78.2l.5 1.8 2.3-2.2-.5-1.8z"/>
<path color="#08fff7" d="M208.9 80l.5 1.2 2.4-2.2-.6-1.2z"/>
<path color="#00f7ff" d="M209.4 81.2l1 2.3 2.4-2.2-1-2.3z"/>
<path color="#00e7ff" d="M210.4 83.5l1.1 1.7 2.3-2.2-1-1.7z"/>
<path color="#a70000" d="M235.7 54.7l.5 2.3 2.3-2.2-.5-2.4z"/>
<path color="#c70000" d="M236.2 57l.5 2.4 2.4-2.3-.6-2.3z"/>
<path color="#d70000" d="M236.7 59.4l.5 2.3 2.4-2.2-.5-2.4z"/>
<path color="#f70000" d="M237.2 61.7l.5 2.4 2.4-2.2-.5-2.4z"/>
<path color="#ff0800" d="M237.7 64.1l.5 3.1 2.4-2.3-.5-3z"/>
<path color="#ff2800" d="M238.2 67.2l.6 3 2.3-2.2-.5-3.1z"/>
<path color="#ff5800" d="M238.8 70.2l.5 3.1 2.3-2.2-.5-3.1z"/>
<path color="#ffa700" d="M239.3 73.3l.5 3.1 2.4-2.2-.6-3.1z"/>
<path color="#fff700" d="M239.8 76.4l.5 2.5 2.4-2.2-.5-2.5z"/>
<path color="#d7ff28" d="M240.3 78.9l.5 2.6 2.4-2.3-.5-2.5z"/>
<path color="#a7ff58" d="M240.8 81.5l.5 2.5 2.4-2.2-.5-2.6z"/>
<path color="#68ff97" d="M241.3 84l.5 2.5 2.4-2.2-.5-2.5z"/>
<path color="#38ffc7" d="M241.8 86.5l.6 1.6 2.3-2.3-.5-1.5z"/>
<path color="#18ffe7" d="M242.4 88.1l.5 1.7 2.3-2.2-.5-1.8z"/>
<path color="#08fff7" d="M242.9 89.8l.5 2.1 2.4-2.2-.6-2.1z"/>
<path color="#00f7ff" d="M243.4 91.9l.5 2.1 2.4-2.2-.5-2.1z"/>
<path color="#00e7ff" d="M243.9 94l.5 1.4 2.4-2.2-.5-1.4z"/>
<path color="#00d7ff" d="M244.4 95.4l.5 1.5 2.4-2.3-.5-1.4z"/>
<path color="#00c7ff" d="M244.9 96.9l.5 1.4 2.4-2.2-.5-1.5z"/>
<path color="#00b7ff" d="M245.4 98.3l1.1 2.2 2.3-2.2-1-2.2z"/>
<path color="#00a7ff" d="M246.5 100.5l1 1.3 2.4-2.2-1.1-1.3z"/>
<path color="#0097ff" d="M247.5 101.8l1.5 1.5 2.4-2.2-1.5-1.5z"/>
<path color="#0087ff" d="M249.1 103.3l2.1 1.5 2.4-2.2-2.1-1.5z"/>
<path color="#0078ff" d="M251.1 104.8l3.1 1.9 2.4-2.1-3.1-2z"/>
<path color="#0068ff" d="M254.2 106.7l4.6 2.3 2.4-2.2-4.6-2.2z"/>
<path color="#0058ff" d="M258.8 109l5.7 2 2.6 .5 2.3-2.2-2.5-.5-5.7-2z"/>
<path color="#0068ff" d="M267.1 111.5l3.6 .3 2.3-2.3-3.6-.2z"/>
<path color="#0078ff" d="M270.7 111.8l4.1 .3 2.1 .6 3.6 2 2.3-2.1-3.6-2-2-.7-4.2-.4z"/>
<path color="#0068ff" d="M280.5 114.7l2.5 1.7 2.4-2.1-2.6-1.7z"/>
<path color="#0058ff" d="M283 116.4l2.6 1.6 2.4-2.1-2.6-1.6z"/>
<path color="#0048ff" d="M285.6 118l3.6 2.1 2.4-2.2-3.6-2z"/>
<path color="#0038ff" d="M289.2 120.1l4.1 2.2 2.4-2.1-4.1-2.3z"/>
<path color="#0028ff" d="M293.3 122.3l6.2 2.5 10.3 2.5 2.4-2.1-10.3-2.6-6.2-2.4z"/>
<path color="#00a7ff" d="M144.2 73.5l3.1-.1 2.4-2.5-3.1 .1z"/>
<path color="#00b7ff" d="M147.3 73.4l2.6-.5 2.3-2.6-2.5 .6z"/>
<path color="#00c7ff" d="M149.9 72.9l3.6-.7 2.3-2.7-3.6 .8z"/>
<path color="#00d7ff" d="M153.5 72.2l1.5-.4 .5-1.1 2.4-3-.5 1.3-1.6 .5z"/>
<path color="#58ffa7" d="M158.6 64.4l.5-.8 1.1 1 2.3-2.3-1-1.3-.5 .7z"/>
<path color="#48ffb7" d="M160.2 64.6l.5 .4 2.3-2-.5-.7z"/>
<path color="#38ffc7" d="M160.7 65l.5 .5 2.4-1.9-.6-.6z"/>
<path color="#28ffd7" d="M161.2 65.5l.5 1.4 2.4-1.9-.5-1.4z"/>
<path color="#18ffe7" d="M161.7 66.9l.5 1.7 2.4-1.8-.5-1.8z"/>
<path color="#00f7ff" d="M162.2 68.6l.5 1.9 2.4-1.8-.5-1.9z"/>
<path color="#00e7ff" d="M162.7 70.5l.5 1.8 2.4-1.7-.5-1.9z"/>
<path color="#00e7ff" d="M163.2 72.3l.6 .8 2.3-1.9-.5-.6z"/>
<path color="#00d7ff" d="M163.8 73.1l1.5 2.5 2.4-2.4-1.6-2z"/>
<path color="#00c7ff" d="M165.3 75.6l3.6 2.9 2.4-2.3-3.6-3z"/>
<path color="#970000" d="M198.3 44.7l.5 2.4 2.4-2.8-.6-2.3z"/>
<path color="#b70000" d="M198.8 47.1l.5 2.3 2.4-2.7-.5-2.4z"/>
<path color="#c70000" d="M199.3 49.4l.5 2.4 2.4-2.8-.5-2.3z"/>
<path color="#e70000" d="M199.8 51.8l.5 2.3 2.4-2.7-.5-2.4z"/>
<path color="#f70000" d="M200.3 54.1l.5 3.1 2.4-2.7-.5-3.1z"/>
<path color="#ff1800" d="M200.8 57.2l.6 3.1 2.3-2.7-.5-3.1z"/>
<path color="#ff3800" d="M201.4 60.3l.5 3.1 2.3-2.8-.5-3z"/>
<path color="#ff7800" d="M201.9 63.4l.5 3.1 2.4-2.8-.6-3.1z"/>
<path color="#ffc700" d="M202.4 66.5l.5 2.5 2.4-2.8-.5-2.5z"/>
<path color="#f7ff08" d="M202.9 69l.5 2.5 2.4-2.8-.5-2.5z"/>
<path color="#c7ff38" d="M203.4 71.5l.5 2.5 2.4-2.7-.5-2.6z"/>
<path color="#97ff68" d="M203.9 74l.5 2.5 2.4-2.7-.5-2.5z"/>
<path color="#68ff97" d="M204.4 76.5l.6 1.4 2.3-2.7-.5-1.4z"/>
<path color="#48ffb7" d="M205 77.9l.5 1.5 2.3-2.7-.5-1.5z"/>
<path color="#28ffd7" d="M205.5 79.4l.5 1.5 2.4-2.7-.6-1.5z"/>
<path color="#18ffe7" d="M206 80.9l.5 2 2.4-2.9-.5-1.8z"/>
<path color="#00f7ff" d="M206.5 82.9l1 2.2 2.4-2.8-1-2.3z"/>
<path color="#00e7ff" d="M207.5 85.1l1.1 2.2 2.3-2.6-1-2.4z"/>
<path color="#00d7ff" d="M208.6 87.3l2.5 2.4 2.4-2.6-2.6-2.4z"/>
<path color="#e70000" d="M233.3 65.4l.5-2.3 .8-4.4-.5 2.1z"/>
<path color="#d70000" d="M233.8 63.1l.6-2.3 .7-4.1-.5 2z"/>
<path color="#c70000" d="M234.4 60.8l.5-2.3 .8-3.8-.6 2z"/>
<path color="#b70000" d="M234.9 58.5l.5 .9 .8-2.4-.5-2.3z"/>
<path color="#c70000" d="M235.4 59.4l.5 .9 .8-.9-.5-2.4z"/>
<path color="#d70000" d="M235.9 60.3l.5 .9 .8 .5-.5-2.3z"/>
<path color="#e70000" d="M236.4 61.2l.5 .9 .8 2-.5-2.4z"/>
<path color="#f70000" d="M236.9 62.1l.5 2.8 .8 2.3-.5-3.1z"/>
<path color="#ff1800" d="M237.4 64.9l.6 2.9 .8 2.4-.6-3z"/>
<path color="#ff3800" d="M238 67.8l.5 2.8 .8 2.7-.5-3.1z"/>
<path color="#ff7800" d="M238.5 70.6l.5 2.8 .8 3-.5-3.1z"/>
<path color="#ffc700" d="M239 73.4l.5 2.7 .8 2.8-.5-2.5z"/>
<path color="#f7ff08" d="M239.5 76.1l.5 2.8 .8 2.6-.5-2.6z"/>
<path color="#c7ff38" d="M240 78.9l.5 2.7 .8 2.4-.5-2.5z"/>
<path color="#87ff78" d="M240.5 81.6l.5 2.7 .8 2.2-.5-2.5z"/>
<path color="#58ffa7" d="M241.1 84.3l.6 1.8 .8 2-.6-1.6z"/>
<path color="#38ffc7" d="M241.6 86.1l.5 1.9 .8 1.8-.5-1.7z"/>
<path color="#18ffe7" d="M242.1 88l.5 1.9 .8 2-.5-2.1z"/>
<path color="#00f7ff" d="M242.6 89.9l.5 2.5 .8 1.6-.5-2.1z"/>
<path color="#00e7ff" d="M243.1 92.4l.5 1.7 .8 1.3-.5-1.4z"/>
<path color="#00d7ff" d="M243.6 94.1l1.1 3.3 .7 .9-1-2.9z"/>
<path color="#e70000" d="M233.6 64.9l.5-2.5 .8-3.9-.5 2.3z"/>
<path color="#d70000" d="M234.1 62.4l2-2.3 .8 2-2-3.6z"/>
<path color="#e70000" d="M236.1 60.1l.6 2.6 .7 2.2-.5-2.8z"/>
<path color="#f70000" d="M236.7 62.7l.5 2.6 .8 2.5-.6-2.9z"/>
<path color="#ff1800" d="M237.2 65.3l.5 2.6 .8 2.7-.5-2.8z"/>
<path color="#ff2800" d="M237.7 67.9l.5 2.6 .8 2.9-.5-2.8z"/>
<path color="#ff5800" d="M238.2 70.5l.5 2.8 .8 2.8-.5-2.7z"/>
<path color="#ffa700" d="M238.7 73.3l.5 2.9 .8 2.7-.5-2.8z"/>
<path color="#fff700" d="M239.2 76.2l.5 2.9 .8 2.5-.5-2.7z"/>
<path color="#c7ff38" d="M239.7 79.1l.6 2.9 .7 2.3-.5-2.7z"/>
<path color="#97ff68" d="M240.3 82l.5 2.2 .8 1.9-.6-1.8z"/>
<path color="#78ff87" d="M240.8 84.2l.5 2.2 .8 1.6-.5-1.9z"/>
<path color="#48ffb7" d="M241.3 86.4l.5 2.2 .8 1.3-.5-1.9z"/>
<path color="#18ffe7" d="M241.8 88.6l.5 2.2 .8 1.6-.5-2.5z"/>
<path color="#08fff7" d="M242.3 90.8l.5 1.9 .8 1.4-.5-1.7z"/>
<path color="#00f7ff" d="M242.8 92.7l.6 1.9 .7 1.1-.5-1.6z"/>
<path color="#00e7ff" d="M243.3 94.6l.5 1.8 .8 1-.6-1.7z"/>
<path color="#c70000" d="M235.3 58l.5 2.4 .8 2.3-.6-2.6z"/>
<path color="#d70000" d="M235.9 60.4l.5 2.4 .8 2.5-.5-2.6z"/>
<path color="#f70000" d="M236.4 62.8l.5 2.3 .8 2.8-.5-2.6z"/>
<path color="#ff0800" d="M236.9 65.1l.5 2.4 .8 3-.5-2.6z"/>
<path color="#ff2800" d="M237.4 67.5l.5 3.1 .8 2.7-.5-2.8z"/>
<path color="#ff4800" d="M237.9 70.6l.5 3 .8 2.6-.5-2.9z"/>
<path color="#ff9700" d="M238.4 73.6l.6 3.1 .7 2.4-.5-2.9z"/>
<path color="#ffe700" d="M239 76.7l.5 3.1 .8 2.2-.6-2.9z"/>
<path color="#d7ff28" d="M239.5 79.8l.5 2.5 .8 1.9-.5-2.2z"/>
<path color="#a7ff58" d="M240 82.3l.5 2.6 .8 1.5-.5-2.2z"/>
<path color="#78ff87" d="M240.5 84.9l.5 2.5 .8 1.2-.5-2.2z"/>
<path color="#48ffb7" d="M241 87.4l.5 2.5 .8 .9-.5-2.2z"/>
<path color="#18ffe7" d="M241.5 89.9l.5 1.5 .8 1.3-.5-1.9z"/>
<path color="#08fff7" d="M242 91.4l.6 2 .8 1.2-.6-1.9z"/>
<path color="#00f7ff" d="M242.6 93.4l.5 2.1 .8 .9-.5-1.8z"/>
<path color="#00d7ff" d="M243.1 95.5l.5 2.1 2.4 2.1-.6-1.4z"/>
<path color="#00c7ff" d="M243.6 97.6l.5 1.4 2.4 1.5-.5-.8z"/>
<path color="#00b7ff" d="M244.1 99l1 2.9 2.4-.1-1-1.3z"/>
<path color="#00a7ff" d="M245.1 101.9l1.1 2 2.3-1.1-1-1z"/>
<path color="#0097ff" d="M246.2 103.9l1 1.2 2.4-1.4-1.1-.9z"/>
<path color="#0087ff" d="M247.2 105.1l2.1 1.9 2.3-1.9-2-1.4z"/>
<path color="#0078ff" d="M249.3 107l2.5 1.7 2.4-2-2.6-1.6z"/>
<path color="#0068ff" d="M251.8 108.7l4.7 2.5 2.3-2.2-4.6-2.3z"/>
<path color="#0058ff" d="M256.5 111.2l5.6 2.2 3.6 .7 2.4-2.4-3.6-.7-5.7-2z"/>
<path color="#0068ff" d="M265.7 114.1l3.1 .1 2.4-2.4-3.1-.1z"/>
<path color="#0078ff" d="M268.8 114.2l3.6 .2 2.1 .6 3.6 1.9 2.4-2.2-3.6-2-2.1-.6-3.6-.3z"/>
<path color="#0068ff" d="M278.1 116.9l2.6 1.8 2.3-2.3-2.5-1.7z"/>
<path color="#0058ff" d="M280.7 118.7l2.5 1.6 2.4-2.3-2.6-1.6z"/>
<path color="#0048ff" d="M283.2 120.3l3.1 1.9 2.4-2.4-3.1-1.8z"/>
<path color="#0038ff" d="M286.3 122.2l3.6 2 2.4-2.4-3.6-2z"/>
<path color="#0028ff" d="M289.9 124.2l3.1 1.5 4.2 1.5 10.2 2.5 2.4-2.4-10.3-2.5-4.1-1.5-3.1-1.5z"/>
<path color="#0097ff" d="M141.8 75.7l1.1 .1 2.3-2.3-1 0z"/>
<path color="#00a7ff" d="M142.9 75.8l3 .1 2.4-2.6-3.1 .2z"/>
<path color="#00b7ff" d="M145.9 75.9l3.1-.4 2.4-2.9-3.1 .7z"/>
<path color="#00c7ff" d="M149 75.5l3.1-.5 2.4-3.1-3.1 .7z"/>
<path color="#38ffc7" d="M156.2 68l.6-1 2.3-3.4-.5 .8z"/>
<path color="#48ffb7" d="M156.8 67l2 .2 2.4-1.7-2.1-1.9z"/>
<path color="#38ffc7" d="M158.8 67.2l.5 1.2 2.4-1.5-.5-1.4z"/>
<path color="#18ffe7" d="M159.3 68.4l.5 1.3 2.4-1.1-.5-1.7z"/>
<path color="#08fff7" d="M159.8 69.7l.6 1.6 2.3-.8-.5-1.9z"/>
<path color="#00f7ff" d="M160.4 71.3l.5 1.7 2.3-.7-.5-1.8z"/>
<path color="#00e7ff" d="M160.9 73l1 2.4 2.4-1.4-1.1-1.7z"/>
<path color="#00d7ff" d="M161.9 75.4l1 2.5 2.4-2.3-1-1.6z"/>
<path color="#00c7ff" d="M162.9 77.9l3.1 2.5 2.4-2.3-3.1-2.5z"/>
<path color="#00b7ff" d="M166 80.4l3.1 2.4 2.4-2.1-3.1-2.6z"/>
<path color="#a70000" d="M195.9 46.6l.5 2.4 2.4-1.9-.5-2.4z"/>
<path color="#b70000" d="M196.4 49l.5 2.4 2.4-2-.5-2.3z"/>
<path color="#c70000" d="M196.9 51.4l.5 2.3 2.4-1.9-.5-2.4z"/>
<path color="#e70000" d="M197.4 53.7l.6 2.4 2.3-2-.5-2.3z"/>
<path color="#f70000" d="M198 56.1l.5 3 2.3-1.9-.5-3.1z"/>
<path color="#ff1800" d="M198.5 59.1l.5 3.1 2.4-1.9-.6-3.1z"/>
<path color="#ff3800" d="M199 62.2l.5 3.1 2.4-1.9-.5-3.1z"/>
<path color="#ff7800" d="M199.5 65.3l.5 3.1 2.4-1.9-.5-3.1z"/>
<path color="#ffc700" d="M200 68.4l.5 2.5 2.4-1.9-.5-2.5z"/>
<path color="#f7ff08" d="M200.5 70.9l.5 2.5 2.4-1.9-.5-2.5z"/>
<path color="#c7ff38" d="M201.1 73.4l.6 2.5 2.3-1.9-.5-2.5z"/>
<path color="#87ff78" d="M201.6 75.9l.5 2.5 2.3-1.9-.5-2.5z"/>
<path color="#68ff97" d="M202.1 78.4l.5 1.5 2.4-2-.6-1.4z"/>
<path color="#48ffb7" d="M202.6 79.9l.5 1.4 2.4-1.9-.5-1.5z"/>
<path color="#28ffd7" d="M203.1 81.3l.5 1.5 2.4-1.9-.5-1.5z"/>
<path color="#08fff7" d="M203.6 82.8l.5 1.9 2.4-1.8-.5-2z"/>
<path color="#00f7ff" d="M204.1 84.7l1.1 2.3 2.3-1.9-1-2.2z"/>
<path color="#00e7ff" d="M205.2 87l1 2.2 2.4-1.9-1.1-2.2z"/>
<path color="#00d7ff" d="M206.2 89.2l2.6 2.4 2.3-1.9-2.5-2.4z"/>
<path color="#c70000" d="M234 63.9l.6-2.3 .8-3.6-.6 2.1z"/>
<path color="#c70000" d="M234.6 61.6l.5 .9 .8-2.1-.5-2.4z"/>
<path color="#c70000" d="M235.1 62.5l.5 .9 .8-.6-.5-2.4z"/>
<path color="#d70000" d="M235.6 63.4l.5 .9 .8 .8-.5-2.3z"/>
<path color="#e70000" d="M236.1 64.3l.5 .9 .8 2.3-.5-2.4z"/>
<path color="#ff0800" d="M236.6 65.2l.5 2.8 .8 2.6-.5-3.1z"/>
<path color="#ff1800" d="M237.1 68l.5 2.9 .8 2.7-.5-3z"/>
<path color="#ff3800" d="M237.7 70.9l.6 2.8 .8 3-.6-3.1z"/>
<path color="#ff8700" d="M238.2 73.7l.5 2.9 .8 3.2-.5-3.1z"/>
<path color="#ffc700" d="M238.7 76.6l.5 2.7 .8 3-.5-2.5z"/>
<path color="#e7ff18" d="M239.2 79.3l.5 2.7 .8 2.9-.5-2.6z"/>
<path color="#b7ff48" d="M239.7 82l.5 2.7 .8 2.7-.5-2.5z"/>
<path color="#87ff78" d="M240.2 84.7l.5 2.7 .8 2.5-.5-2.5z"/>
<path color="#58ffa7" d="M240.7 87.4l.6 1.9 .7 2.1-.5-1.5z"/>
<path color="#28ffd7" d="M241.3 89.3l.5 1.8 .8 2.3-.6-2z"/>
<path color="#18ffe7" d="M241.8 91.1l.5 2 .8 2.4-.5-2.1z"/>
<path color="#00f7ff" d="M242.3 93.1l.5 2.6 .8 1.9-.5-2.1z"/>
<path color="#00e7ff" d="M242.8 95.7l.5 1.6 .8 1.7-.5-1.4z"/>
<path color="#00d7ff" d="M243.3 97.3l.5 1.7 .8 1.5-.5-1.5z"/>
<path color="#00c7ff" d="M243.8 99l.5 1.6 .8 1.3-.5-1.4z"/>
<path color="#00b7ff" d="M244.3 100.6l.6 1.7 .7 .9-.5-1.3z"/>
<path color="#e70000" d="M235.8 62.9l.5 2.6 .8 2.5-.5-2.8z"/>
<path color="#f70000" d="M236.3 65.5l.6 2.6 .7 2.8-.5-2.9z"/>
<path color="#ff1800" d="M236.9 68.1l.5 2.6 .8 3-.6-2.8z"/>
<path color="#ff3800" d="M237.4 70.7l.5 2.6 .8 3.3-.5-2.9z"/>
<path color="#ff5800" d="M237.9 73.3l.5 2.9 .8 3.1-.5-2.7z"/>
<path color="#ffa700" d="M238.4 76.2l.5 2.9 .8 2.9-.5-2.7z"/>
<path color="#fff700" d="M238.9 79.1l.5 2.9 .8 2.7-.5-2.7z"/>
<path color="#c7ff38" d="M239.4 82l.6 2.9 .7 2.5-.5-2.7z"/>
<path color="#97ff68" d="M239.9 84.9l.5 2.2 .8 2.2-.6-1.9z"/>
<path color="#68ff97" d="M240.5 87.1l.5 2.2 .8 1.8-.5-1.8z"/>
<path color="#38ffc7" d="M241 89.3l.5 2.2 .8 1.6-.5-2z"/>
<path color="#18ffe7" d="M241.5 91.5l.5 2.2 .8 2-.5-2.6z"/>
<path color="#00f7ff" d="M242 93.7l.5 1.9 .8 1.7-.5-1.6z"/>
<path color="#00e7ff" d="M242.5 95.6l.5 1.9 .8 1.5-.5-1.7z"/>
<path color="#00e7ff" d="M243 97.5l.6 1.9 .7 1.2-.5-1.6z"/>
<path color="#00d7ff" d="M243.6 99.4l.5 1.8 .8 1.1-.6-1.7z"/>
<path color="#c70000" d="M235 60.6l.6 2.4 .7 2.5-.5-2.6z"/>
<path color="#d70000" d="M235.6 63l.5 2.4 .8 2.7-.6-2.6z"/>
<path color="#f70000" d="M236.1 65.4l.5 2.3 .8 3-.5-2.6z"/>
<path color="#ff0800" d="M236.6 67.7l.5 2.4 .8 3.2-.5-2.6z"/>
<path color="#ff2800" d="M237.1 70.1l.5 3.1 .8 3-.5-2.9z"/>
<path color="#ff4800" d="M237.6 73.2l.5 3 .8 2.9-.5-2.9z"/>
<path color="#ff9700" d="M238.1 76.2l.5 3.1 .8 2.7-.5-2.9z"/>
<path color="#ffe700" d="M238.6 79.3l.6 3.1 .8 2.5-.6-2.9z"/>
<path color="#d7ff28" d="M239.2 82.4l.5 2.5 .8 2.2-.5-2.2z"/>
<path color="#a7ff58" d="M239.7 84.9l.5 2.6 .8 1.8-.5-2.2z"/>
<path color="#78ff87" d="M240.2 87.5l.5 2.5 .8 1.5-.5-2.2z"/>
<path color="#48ffb7" d="M240.7 90l.5 2.5 .8 1.2-.5-2.2z"/>
<path color="#28ffd7" d="M241.2 92.5l.5 1.6 .8 1.5-.5-1.9z"/>
<path color="#08fff7" d="M241.7 94.1l.5 1.9 .8 1.5-.5-1.9z"/>
<path color="#00f7ff" d="M242.2 96l.6 2.1 .8 1.3-.6-1.9z"/>
<path color="#00e7ff" d="M242.8 98.1l.5 2.1 .8 1-.5-1.8z"/>
<path color="#00c7ff" d="M243.3 100.2l.5 1.4 2.4 2.3-.6-.7z"/>
<path color="#00b7ff" d="M243.8 101.6l1 2.9 2.4 .6-1-1.2z"/>
<path color="#00a7ff" d="M244.8 104.5l.5 1.4 2.4-.1-.5-.7z"/>
<path color="#0097ff" d="M245.3 105.9l1.6 2 2.4-.9-1.6-1.2z"/>
<path color="#0087ff" d="M246.9 107.9l1.5 1.4 2.4-1.3-1.5-1z"/>
<path color="#0078ff" d="M248.4 109.3l2.6 1.8 2.4-1.5-2.6-1.6z"/>
<path color="#0068ff" d="M251 111.1l4.1 2.3 2.4-1.7-4.1-2.1z"/>
<path color="#0058ff" d="M255.1 113.4l4.7 1.9 3.6 .7 2.3-1.9-3.6-.7-4.6-1.7z"/>
<path color="#0068ff" d="M263.4 116l3.6 .2 2.3-2-3.6-.1z"/>
<path color="#0078ff" d="M267 116.2l3.1 .2 2 .6 3.6 1.9 2.4-2-3.6-1.9-2.1-.6-3.1-.2z"/>
<path color="#0068ff" d="M275.7 118.9l2.6 1.7 2.4-1.9-2.6-1.8z"/>
<path color="#0058ff" d="M278.3 120.6l2.6 1.7 2.3-2-2.5-1.6z"/>
<path color="#0048ff" d="M280.9 122.3l3.1 1.8 2.3-1.9-3.1-1.9z"/>
<path color="#0038ff" d="M284 124.1l3.6 2 2.3-1.9-3.6-2z"/>
<path color="#0028ff" d="M287.6 126.1l3.1 1.6 4.1 1.5 10.3 2.5 2.3-2-10.2-2.5-4.2-1.5-3.1-1.5z"/>
<path color="#0097ff" d="M139.5 77.9l1.5 .3 2.4-2.3-1.6-.2z"/>
<path color="#00a7ff" d="M141 78.2l3.6 .2 2.4-2.6-3.6 .1z"/>
<path color="#00b7ff" d="M144.6 78.4l3.6-.3 2.4-2.9-3.6 .6z"/>
<path color="#00c7ff" d="M148.2 78.1l2.1-.2 .5-.3 2.4-3.4-.6 .7-2 .3z"/>
<path color="#28ffd7" d="M153.9 72.2l.5-1.4 2.4-3.8-.6 1z"/>
<path color="#28ffd7" d="M154.4 70.8l.5-.3 2.4-3.5-.5 0z"/>
<path color="#38ffc7" d="M154.9 70.5l1-.7 2.4-2.6-1-.2z"/>
<path color="#48ffb7" d="M155.9 69.8l.5-.3 2.4-2.3-.5 0z"/>
<path color="#38ffc7" d="M156.4 69.5l.6 .9 2.3-2-.5-1.2z"/>
<path color="#28ffd7" d="M157 70.4l.5 .9 2.3-1.6-.5-1.3z"/>
<path color="#18ffe7" d="M157.5 71.3l.5 1.1 2.4-1.1-.6-1.6z"/>
<path color="#08fff7" d="M158 72.4l.5 1.2 2.4-.6-.5-1.7z"/>
<path color="#00f7ff" d="M158.5 73.6l.5 1.6 2.4-1-.5-1.2z"/>
<path color="#00e7ff" d="M159 75.2l1.1 3.2 2.3-1.7-1-2.5z"/>
<path color="#00d7ff" d="M160.1 78.4l.5 1.6 2.3-2.1-.5-1.2z"/>
<path color="#00c7ff" d="M160.6 80l3.1 2.7 2.3-2.3-3.1-2.5z"/>
<path color="#00b7ff" d="M163.7 82.7l3.1 2.3 2.3-2.2-3.1-2.4z"/>
<path color="#970000" d="M193.5 47.9l.5 2.3 2.4-1.2-.5-2.4z"/>
<path color="#b70000" d="M194 50.2l.6 2.4 2.3-1.2-.5-2.4z"/>
<path color="#c70000" d="M194.6 52.6l.5 2.4 2.3-1.3-.5-2.3z"/>
<path color="#d70000" d="M195.1 55l.5 2.3 2.4-1.2-.6-2.4z"/>
<path color="#f70000" d="M195.6 57.3l.5 3.1 2.4-1.3-.5-3z"/>
<path color="#ff1800" d="M196.1 60.4l.5 3.1 2.4-1.3-.5-3.1z"/>
<path color="#ff3800" d="M196.6 63.5l.5 3.1 2.4-1.3-.5-3.1z"/>
<path color="#ff6800" d="M197.1 66.6l.5 3.1 2.4-1.3-.5-3.1z"/>
<path color="#ffb700" d="M197.6 69.7l.6 2.5 2.3-1.3-.5-2.5z"/>
<path color="#fff700" d="M198.2 72.2l.5 2.5 2.3-1.3-.5-2.5z"/>
<path color="#c7ff38" d="M198.7 74.7l.5 2.5 2.4-1.3-.6-2.5z"/>
<path color="#97ff68" d="M199.2 77.2l.5 2.5 2.4-1.3-.5-2.5z"/>
<path color="#78ff87" d="M199.7 79.7l.5 1.5 2.4-1.3-.5-1.5z"/>
<path color="#58ffa7" d="M200.2 81.2l.5 1.5 2.4-1.4-.5-1.4z"/>
<path color="#38ffc7" d="M200.7 82.7l.6 1.5 2.3-1.4-.5-1.5z"/>
<path color="#18ffe7" d="M201.3 84.2l.5 1.6 2.3-1.1-.5-1.9z"/>
<path color="#08fff7" d="M201.8 85.8l.5 1.2 2.4-1.2-.6-1.1z"/>
<path color="#00f7ff" d="M202.3 87l1 2.4 2.4-1.3-1-2.3z"/>
<path color="#00e7ff" d="M203.3 89.4l1 1.8 2.4-1.5-1-1.6z"/>
<path color="#00d7ff" d="M204.3 91.2l1.6 1.8 1.5 .9 2.4-1.7-1.5-.9-1.6-1.6z"/>
<path color="#a70000" d="M232.7 61.9l.5 2.4 2.4-1.3-.6-2.4z"/>
<path color="#c70000" d="M233.2 64.3l.5 2.3 2.4-1.2-.5-2.4z"/>
<path color="#d70000" d="M233.7 66.6l.5 2.4 2.4-1.3-.5-2.3z"/>
<path color="#f70000" d="M234.2 69l.5 2.3 2.4-1.2-.5-2.4z"/>
<path color="#ff0800" d="M234.7 71.3l.5 3.1 2.4-1.2-.5-3.1z"/>
<path color="#ff2800" d="M235.2 74.4l.6 3.1 2.3-1.3-.5-3z"/>
<path color="#ff5800" d="M235.8 77.5l.5 3.1 2.3-1.3-.5-3.1z"/>
<path color="#ffa700" d="M236.3 80.6l.5 3.1 2.4-1.3-.6-3.1z"/>
<path color="#fff700" d="M236.8 83.7l.5 2.5 2.4-1.3-.5-2.5z"/>
<path color="#d7ff28" d="M237.3 86.2l.5 2.5 2.4-1.2-.5-2.6z"/>
<path color="#97ff68" d="M237.8 88.7l.5 2.6 2.4-1.3-.5-2.5z"/>
<path color="#68ff97" d="M238.3 91.3l.5 2.5 2.4-1.3-.5-2.5z"/>
<path color="#38ffc7" d="M238.8 93.8l.6 1.6 2.3-1.3-.5-1.6z"/>
<path color="#18ffe7" d="M239.4 95.4l.5 1.6 2.3-1-.5-1.9z"/>
<path color="#08fff7" d="M239.9 97l.5 2.1 2.4-1-.6-2.1z"/>
<path color="#00f7ff" d="M240.4 99.1l.5 2.1 2.4-1-.5-2.1z"/>
<path color="#00e7ff" d="M240.9 101.2l.5 1.5 2.4-1.1-.5-1.4z"/>
<path color="#00d7ff" d="M241.4 102.7l.5 1.5 2.4-1.1-.5-1.5z"/>
<path color="#00c7ff" d="M241.9 104.2l.6 1.5 2.3-1.2-.5-1.4z"/>
<path color="#00b7ff" d="M242.5 105.7l1 2.3 2.4-1.4-1.1-2.1z"/>
<path color="#00a7ff" d="M243.5 108l1 1.4 2.4-1.5-1-1.3z"/>
<path color="#0097ff" d="M244.5 109.4l1 1.1 2.4-1.6-1-1z"/>
<path color="#0087ff" d="M245.5 110.5l2.1 1.6 2.4-1.7-2.1-1.5z"/>
<path color="#0078ff" d="M247.6 112.1l2.6 1.7 2.4-1.7-2.6-1.7z"/>
<path color="#0068ff" d="M250.2 113.8l5.1 2.6 2.4-1.8-5.1-2.5z"/>
<path color="#0058ff" d="M255.3 116.4l4.7 1.4 2.3-1.9-4.6-1.3z"/>
<path color="#0068ff" d="M260 117.8l3.6 .3 2.3-2-3.6-.2z"/>
<path color="#0078ff" d="M263.6 118.1l4.1 .3 2.4-2-4.2-.3z"/>
<path color="#0087ff" d="M267.7 118.4l2.6 .7 2.3-1.9-2.5-.8z"/>
<path color="#0078ff" d="M270.3 119.1l3.6 2 2.3-1.9-3.6-2z"/>
<path color="#0068ff" d="M273.9 121.1l2.5 1.7 2.4-1.9-2.6-1.7z"/>
<path color="#0058ff" d="M276.4 122.8l3.1 1.9 2.4-1.8-3.1-2z"/>
<path color="#0048ff" d="M279.5 124.7l3.1 1.8 2.4-1.8-3.1-1.8z"/>
<path color="#0038ff" d="M282.6 126.5l4.1 2.2 2.4-1.8-4.1-2.2z"/>
<path color="#0028ff" d="M286.7 128.7l5.7 2.2 7.2 1.7 2.4-1.8-7.2-1.6-5.7-2.3z"/>
<path color="#0038ff" d="M299.6 132.6l3.1 .9 2.4-1.8-3.1-.9z"/>
<path color="#0097ff" d="M137.1 80.4l3.1 .5 2.3-2.6-3-.4z"/>
<path color="#00a7ff" d="M140.2 80.9l3.6 .2 2.3-2.7-3.6-.1z"/>
<path color="#08fff7" d="M152 76.2l.5-1.1 2.4-4.6-.5 .3z"/>
<path color="#18ffe7" d="M152.5 75.1l.5-1.1 2.4-3.8-.5 .3z"/>
<path color="#28ffd7" d="M153 74l.6-1 2.3-3.2-.5 .4z"/>
<path color="#38ffc7" d="M153.6 73l.5-.7 .5 .4 2.4-2.3-.6-.9-.5 .3z"/>
<path color="#28ffd7" d="M154.6 72.7l1 .7 2.4-1-1-2z"/>
<path color="#18ffe7" d="M155.6 73.4l.5 .4 2.4-.2-.5-1.2z"/>
<path color="#08fff7" d="M156.1 73.8l.6 1.6 2.3-.2-.5-1.6z"/>
<path color="#00f7ff" d="M156.7 75.4l.5 1.7 2.3-.3-.5-1.6z"/>
<path color="#00e7ff" d="M157.2 77.1l.5 1.8 2.4-.5-.6-1.6z"/>
<path color="#00d7ff" d="M157.7 78.9l.5 1.7 2.4-.6-.5-1.6z"/>
<path color="#00d7ff" d="M158.2 80.6l.5 .9 2.4-1-.5-.5z"/>
<path color="#00c7ff" d="M158.7 81.5l1.6 2.6 .5 .4 2.3-2.2-2-1.8z"/>
<path color="#00b7ff" d="M160.8 84.5l3.6 2.6 2.4-2.1-3.7-2.7z"/>
<path color="#970000" d="M191.2 49.5l.5 2.3 2.3-1.6-.5-2.3z"/>
<path color="#a70000" d="M191.7 51.8l.5 2.4 2.4-1.6-.6-2.4z"/>
<path color="#b70000" d="M192.2 54.2l.5 2.3 2.4-1.5-.5-2.4z"/>
<path color="#d70000" d="M192.7 56.5l.5 2.4 2.4-1.6-.5-2.3z"/>
<path color="#e70000" d="M193.2 58.9l.5 3.1 2.4-1.6-.5-3.1z"/>
<path color="#ff0800" d="M193.7 62l.5 3.1 2.4-1.6-.5-3.1z"/>
<path color="#ff2800" d="M194.2 65.1l.6 3 2.3-1.5-.5-3.1z"/>
<path color="#ff5800" d="M194.8 68.1l.5 3.1 2.3-1.5-.5-3.1z"/>
<path color="#ffa700" d="M195.3 71.2l.5 2.6 2.4-1.6-.6-2.5z"/>
<path color="#ffe700" d="M195.8 73.8l.5 2.5 2.4-1.6-.5-2.5z"/>
<path color="#d7ff28" d="M196.3 76.3l.5 2.5 2.4-1.6-.5-2.5z"/>
<path color="#a7ff58" d="M196.8 78.8l.5 2.5 2.4-1.6-.5-2.5z"/>
<path color="#87ff78" d="M197.3 81.3l.6 1.5 2.3-1.6-.5-1.5z"/>
<path color="#68ff97" d="M197.9 82.8l.5 1.5 2.3-1.6-.5-1.5z"/>
<path color="#38ffc7" d="M198.4 84.3l.5 1.5 2.4-1.6-.6-1.5z"/>
<path color="#28ffd7" d="M198.9 85.8l.5 1.6 2.4-1.6-.5-1.6z"/>
<path color="#18ffe7" d="M199.4 87.4l.5 1.2 2.4-1.6-.5-1.2z"/>
<path color="#08fff7" d="M199.9 88.6l.5 1.3 2.4-1.7-.5-1.2z"/>
<path color="#00f7ff" d="M200.4 89.9l.5 1.3 2.4-1.8-.5-1.2z"/>
<path color="#00e7ff" d="M200.9 91.2l.6 1.3 1 1.3 2.4-2-1.1-1.2-.5-1.2z"/>
<path color="#00d7ff" d="M202.5 93.8l1 1.2 2.1 1.5 2.4-2.2-2.1-1.3-1-1.2z"/>
<path color="#a70000" d="M230.3 63.5l.5 2.4 2.4-1.6-.5-2.4z"/>
<path color="#b70000" d="M230.8 65.9l.5 2.3 2.4-1.6-.5-2.3z"/>
<path color="#d70000" d="M231.3 68.2l.5 2.4 2.4-1.6-.5-2.4z"/>
<path color="#e70000" d="M231.8 70.6l.6 2.4 2.3-1.7-.5-2.3z"/>
<path color="#ff0800" d="M232.4 73l.5 3 2.3-1.6-.5-3.1z"/>
<path color="#ff2800" d="M232.9 76l.5 3.1 2.4-1.6-.6-3.1z"/>
<path color="#ff3800" d="M233.4 79.1l.5 3.1 2.4-1.6-.5-3.1z"/>
<path color="#ff9700" d="M233.9 82.2l.5 3.1 2.4-1.6-.5-3.1z"/>
<path color="#ffe700" d="M234.4 85.3l.5 2.5 2.4-1.6-.5-2.5z"/>
<path color="#e7ff18" d="M234.9 87.8l.5 2.6 2.4-1.7-.5-2.5z"/>
<path color="#a7ff58" d="M235.4 90.4l.6 2.5 2.3-1.6-.5-2.6z"/>
<path color="#78ff87" d="M236 92.9l.5 2.5 2.3-1.6-.5-2.5z"/>
<path color="#48ffb7" d="M236.5 95.4l.5 1.6 2.4-1.6-.6-1.6z"/>
<path color="#28ffd7" d="M237 97l.5 1.6 2.4-1.6-.5-1.6z"/>
<path color="#18ffe7" d="M237.5 98.6l.5 1.9 2.4-1.4-.5-2.1z"/>
<path color="#00f7ff" d="M238 100.5l.5 2.2 2.4-1.5-.5-2.1z"/>
<path color="#00e7ff" d="M238.5 102.7l.6 1.5 2.3-1.5-.5-1.5z"/>
<path color="#00d7ff" d="M239.1 104.2l1 3 2.4-1.5-1.1-3z"/>
<path color="#00c7ff" d="M240.1 107.2l.5 1.5 2.4-1.6-.5-1.4z"/>
<path color="#00b7ff" d="M240.6 108.7l1 1.8 2.4-1.8-1-1.6z"/>
<path color="#00a7ff" d="M241.6 110.5l1.1 1.4 2.3-1.8-1-1.4z"/>
<path color="#0097ff" d="M242.7 111.9l1.5 1.4 2.4-2-1.6-1.2z"/>
<path color="#0087ff" d="M244.2 113.3l2.1 1.6 2.3-2.1-2-1.5z"/>
<path color="#0078ff" d="M246.3 114.9l2.5 1.6 2.4-2-2.6-1.7z"/>
<path color="#0068ff" d="M248.8 116.5l5.2 2.5 2.4-2.2-5.2-2.3z"/>
<path color="#0058ff" d="M254 119l3.1 1.1 2.3-2.4-3-.9z"/>
<path color="#0068ff" d="M257.1 120.1l4.6 .6 2.4-2.6-4.7-.4z"/>
<path color="#0078ff" d="M261.7 120.7l4.1 .2 2.4-2.4-4.1-.4z"/>
<path color="#0087ff" d="M265.8 120.9l3.1 .8 2.4-2.1-3.1-1.1z"/>
<path color="#0078ff" d="M268.9 121.7l3.6 1.9 2.4-1.8-3.6-2.2z"/>
<path color="#0068ff" d="M272.5 123.6l2.6 1.7 2.4-1.9-2.6-1.6z"/>
<path color="#0058ff" d="M275.1 125.3l2.6 1.7 2.3-1.9-2.5-1.7z"/>
<path color="#0048ff" d="M277.7 127l3.6 2.1 2.4-2-3.7-2z"/>
<path color="#0038ff" d="M281.3 129.1l4.6 2.4 2.4-2.1-4.6-2.3z"/>
<path color="#0028ff" d="M285.9 131.5l7.7 2.3 2.4-2-3.6-.9-4.1-1.5z"/>
<path color="#0038ff" d="M293.6 133.8l6.7 1.7 2.4-2-6.7-1.7z"/>
<path color="#0097ff" d="M134.7 82.6l4.1 .6 2.4-2.2-4.1-.6z"/>
<path color="#00a7ff" d="M138.8 83.2l3.1 .1 2.4-2.2-3.1-.1z"/>
<path color="#38ffc7" d="M151.7 74.5l1 .3 2.4-1.7-1-.8z"/>
<path color="#28ffd7" d="M152.7 74.8l1.1 .2 2.3-1.2-1-.7z"/>
<path color="#28ffd7" d="M153.8 75l.5 1.2 2.4-.8-.6-1.6z"/>
<path color="#08fff7" d="M154.3 76.2l.5 1.4 2.4-.5-.5-1.7z"/>
<path color="#00f7ff" d="M154.8 77.6l.5 1.6 2.4-.3-.5-1.8z"/>
<path color="#00e7ff" d="M155.3 79.2l.5 1.6 2.4-.2-.5-1.7z"/>
<path color="#00e7ff" d="M155.8 80.8l.5 1.2 2.4-.5-.5-.9z"/>
<path color="#00d7ff" d="M156.3 82l1.1 2.4 2.3-1.2-1-1.7z"/>
<path color="#00c7ff" d="M157.4 84.4l.5 1.3 1 .8 2.4-1.6-1-.8-.6-.9z"/>
<path color="#970000" d="M189.9 55.4l.5-2.3 .8-3.6-.6 2z"/>
<path color="#970000" d="M190.4 53.1l.5 .9 .8-2.2-.5-2.3z"/>
<path color="#a70000" d="M190.9 54l.5 .9 .8-.7-.5-2.4z"/>
<path color="#b70000" d="M191.4 54.9l.5 .9 .8 .7-.5-2.3z"/>
<path color="#c70000" d="M191.9 55.8l.5 .9 .8 2.2-.5-2.4z"/>
<path color="#d70000" d="M192.4 56.7l.5 2.8 .8 2.5-.5-3.1z"/>
<path color="#f70000" d="M192.9 59.5l.6 2.8 .7 2.8-.5-3.1z"/>
<path color="#ff1800" d="M193.5 62.3l.5 2.9 .8 2.9-.6-3z"/>
<path color="#ff3800" d="M194 65.2l.5 2.8 .8 3.2-.5-3.1z"/>
<path color="#ff6800" d="M194.5 68l.5 2.7 .8 3.1-.5-2.6z"/>
<path color="#ffa700" d="M195 70.7l.5 2.7 .8 2.9-.5-2.5z"/>
<path color="#fff700" d="M195.5 73.4l.5 2.8 .8 2.6-.5-2.5z"/>
<path color="#d7ff28" d="M196 76.2l.6 2.7 .7 2.4-.5-2.5z"/>
<path color="#87ff78" d="M197.1 80.7l.5 1.9 .8 1.7-.5-1.5z"/>
<path color="#68ff97" d="M197.6 82.6l.5 1.8 .8 1.4-.5-1.5z"/>
<path color="#38ffc7" d="M198.1 84.4l.5 1.9 .8 1.1-.5-1.6z"/>
<path color="#28ffd7" d="M198.6 86.3l.5 1.1 .8 1.2-.5-1.2z"/>
<path color="#18ffe7" d="M199.1 87.4l.5 1.2 .8 1.3-.5-1.3z"/>
<path color="#08fff7" d="M199.6 88.6l.6 1.5 .7 1.1-.5-1.3z"/>
<path color="#b70000" d="M191.6 54.4l.6 2.6 .7 2.5-.5-2.8z"/>
<path color="#d70000" d="M192.2 57l.5 2.6 .8 2.7-.6-2.8z"/>
<path color="#f70000" d="M192.7 59.6l.5 2.6 .8 3-.5-2.9z"/>
<path color="#ff0800" d="M193.2 62.2l.5 2.6 .8 3.2-.5-2.8z"/>
<path color="#ff2800" d="M193.7 64.8l.5 2.9 .8 3-.5-2.7z"/>
<path color="#ff4800" d="M194.2 67.7l.5 2.9 .8 2.8-.5-2.7z"/>
<path color="#ff8700" d="M194.7 70.6l.5 2.9 .8 2.7-.5-2.8z"/>
<path color="#ffd700" d="M195.2 73.5l.6 2.9 .8 2.5-.6-2.7z"/>
<path color="#e7ff18" d="M195.8 76.4l.5 2.2 .8 2.1-.5-1.8z"/>
<path color="#c7ff38" d="M196.3 78.6l.5 2.2 .8 1.8-.5-1.9z"/>
<path color="#97ff68" d="M196.8 80.8l.5 2.2 .8 1.4-.5-1.8z"/>
<path color="#68ff97" d="M197.3 83l.5 2.2 .8 1.1-.5-1.9z"/>
<path color="#48ffb7" d="M197.8 85.2l.5 1.3 .8 .9-.5-1.1z"/>
<path color="#38ffc7" d="M198.3 86.5l.5 1.3 .8 .8-.5-1.2z"/>
<path color="#18ffe7" d="M198.8 87.8l.6 1.4 .8 .9-.6-1.5z"/>
<path color="#970000" d="M190.8 52.2l.6 2.4 .8 2.4-.6-2.6z"/>
<path color="#b70000" d="M191.4 54.6l.5 2.3 .8 2.7-.5-2.6z"/>
<path color="#c70000" d="M191.9 56.9l.5 2.4 .8 2.9-.5-2.6z"/>
<path color="#e70000" d="M192.4 59.3l.5 2.3 .8 3.2-.5-2.6z"/>
<path color="#f70000" d="M192.9 61.6l.5 3.1 .8 3-.5-2.9z"/>
<path color="#ff1800" d="M193.4 64.7l.5 3.1 .8 2.8-.5-2.9z"/>
<path color="#ff3800" d="M193.9 67.8l.6 3.1 .7 2.6-.5-2.9z"/>
<path color="#ff7800" d="M194.5 70.9l.5 3.1 .8 2.4-.6-2.9z"/>
<path color="#ffc700" d="M195 74l.5 2.5 .8 2.1-.5-2.2z"/>
<path color="#f7ff08" d="M195.5 76.5l.5 2.5 .8 1.8-.5-2.2z"/>
<path color="#c7ff38" d="M196 79l.5 2.5 .8 1.5-.5-2.2z"/>
<path color="#97ff68" d="M196.5 81.5l.5 2.6 .8 1.1-.5-2.2z"/>
<path color="#78ff87" d="M197 84.1l.5 1.5 .8 .9-.5-1.3z"/>
<path color="#58ffa7" d="M197.5 85.6l.6 1.5 .7 .7-.5-1.3z"/>
<path color="#38ffc7" d="M198.1 87.1l.5 1.5 .8 .6-.6-1.4z"/>
<path color="#08fff7" d="M198.6 88.6l.5 1.5 2.4 2.4-.6-1.3z"/>
<path color="#00f7ff" d="M199.1 90.1l1 2.6 2.4 1.1-1-1.3z"/>
<path color="#00e7ff" d="M200.1 92.7l1 2.6 2.4-.3-1-1.2z"/>
<path color="#00d7ff" d="M201.1 95.3l2.1 2.6 1 .8 2.4-1.6-3.1-2.1z"/>
<path color="#ff1800" d="M226.9 78.9l.5-2.6 .8-4.6-.5 2.8z"/>
<path color="#f70000" d="M227.4 76.3l.6-2.3 .8-4.3-.6 2z"/>
<path color="#b70000" d="M229 69.5l.5-2.3 .8-3.7-.5 2.1z"/>
<path color="#b70000" d="M229.5 67.2l.5 .9 .8-2.2-.5-2.4z"/>
<path color="#b70000" d="M230 68.1l.5 .9 .8-.8-.5-2.3z"/>
<path color="#c70000" d="M230.5 69l.6 .8 .7 .8-.5-2.4z"/>
<path color="#d70000" d="M231.1 69.8l.5 .9 .8 2.3-.6-2.4z"/>
<path color="#f70000" d="M231.6 70.7l.5 2.9 .8 2.4-.5-3z"/>
<path color="#ff0800" d="M232.1 73.6l.5 2.8 .8 2.7-.5-3.1z"/>
<path color="#ff2800" d="M232.6 76.4l.5 2.9 .8 2.9-.5-3.1z"/>
<path color="#ff5800" d="M233.1 79.3l.5 2.8 .8 3.2-.5-3.1z"/>
<path color="#ffa700" d="M233.6 82.1l.5 2.7 .8 3-.5-2.5z"/>
<path color="#ffe700" d="M234.1 84.8l.6 2.7 .7 2.9-.5-2.6z"/>
<path color="#d7ff28" d="M234.7 87.5l.5 2.7 .8 2.7-.6-2.5z"/>
<path color="#a7ff58" d="M235.2 90.2l.5 2.8 .8 2.4-.5-2.5z"/>
<path color="#78ff87" d="M235.7 93l.5 1.9 .8 2.1-.5-1.6z"/>
<path color="#58ffa7" d="M236.2 94.9l.5 1.9 .8 1.8-.5-1.6z"/>
<path color="#28ffd7" d="M236.7 96.8l.5 1.8 .8 1.9-.5-1.9z"/>
<path color="#08fff7" d="M237.2 98.6l.6 2.1 .7 2-.5-2.2z"/>
<path color="#00f7ff" d="M237.8 100.7l.5 1.8 .8 1.7-.6-1.5z"/>
<path color="#00e7ff" d="M238.3 102.5l.5 1.7 .8 1.5-.5-1.5z"/>
<path color="#00d7ff" d="M238.8 104.2l.5 1.7 .8 1.3-.5-1.5z"/>
<path color="#00d7ff" d="M239.3 105.9l.5 1.8 .8 1-.5-1.5z"/>
<path color="#ff0800" d="M227.2 78.4l.5-2.5 .8-4.2-.5 2.3z"/>
<path color="#e70000" d="M227.7 75.9l.5-2.5 .8-3.9-.5 2.2z"/>
<path color="#d70000" d="M228.2 73.4l.5-2.6 .8-3.6-.5 2.3z"/>
<path color="#c70000" d="M228.7 70.8l2.1-2.3 .8 2.2-2.1-3.5z"/>
<path color="#d70000" d="M230.8 68.5l.5 2.6 .8 2.5-.5-2.9z"/>
<path color="#e70000" d="M231.3 71.1l.5 2.6 .8 2.7-.5-2.8z"/>
<path color="#ff0800" d="M231.8 73.7l.5 2.6 .8 3-.5-2.9z"/>
<path color="#ff2800" d="M232.3 76.3l.5 2.6 .8 3.2-.5-2.8z"/>
<path color="#ff3800" d="M232.8 78.9l.6 2.9 .7 3-.5-2.7z"/>
<path color="#ff8700" d="M233.4 81.8l.5 2.9 .8 2.8-.6-2.7z"/>
<path color="#ffc700" d="M233.9 84.7l.5 2.9 .8 2.6-.5-2.7z"/>
<path color="#e7ff18" d="M234.4 87.6l.5 2.9 .8 2.5-.5-2.8z"/>
<path color="#b7ff48" d="M234.9 90.5l.5 2.2 .8 2.2-.5-1.9z"/>
<path color="#97ff68" d="M235.4 92.7l.5 2.2 .8 1.9-.5-1.9z"/>
<path color="#68ff97" d="M235.9 94.9l.5 2.3 .8 1.4-.5-1.8z"/>
<path color="#38ffc7" d="M236.4 97.2l.6 2.2 .8 1.3-.6-2.1z"/>
<path color="#18ffe7" d="M237 99.4l.5 1.4 .8 1.7-.5-1.8z"/>
<path color="#08fff7" d="M237.5 100.8l.5 1.9 .8 1.5-.5-1.7z"/>
<path color="#00f7ff" d="M238 102.7l.5 1.9 .8 1.3-.5-1.7z"/>
<path color="#00e7ff" d="M238.5 104.6l.5 2 .8 1.1-.5-1.8z"/>
<path color="#d70000" d="M227.9 74.5l.5-2.1 .8-2.1-.5 .5z"/>
<path color="#b70000" d="M230 66.3l.5 2.4 .8 2.4-.5-2.6z"/>
<path color="#c70000" d="M230.5 68.7l.5 2.3 .8 2.7-.5-2.6z"/>
<path color="#e70000" d="M231 71l.5 2.4 .8 2.9-.5-2.6z"/>
<path color="#f70000" d="M231.5 73.4l.5 2.3 .8 3.2-.5-2.6z"/>
<path color="#ff1800" d="M232.1 75.7l.6 3.1 .8 3-.6-2.9z"/>
<path color="#ff3800" d="M232.6 78.8l.5 3.1 .8 2.8-.5-2.9z"/>
<path color="#ff6800" d="M233.1 81.9l.5 3.1 .8 2.6-.5-2.9z"/>
<path color="#ffb700" d="M233.6 85l.5 3.1 .8 2.4-.5-2.9z"/>
<path color="#f7ff08" d="M234.1 88.1l.5 2.5 .8 2.1-.5-2.2z"/>
<path color="#c7ff38" d="M234.6 90.6l.5 2.5 .8 1.8-.5-2.2z"/>
<path color="#97ff68" d="M235.1 93.1l.6 2.6 .7 1.5-.5-2.3z"/>
<path color="#68ff97" d="M235.7 95.7l.5 2.5 .8 1.2-.6-2.2z"/>
<path color="#38ffc7" d="M236.2 98.2l.5 1.6 .8 1-.5-1.4z"/>
<path color="#28ffd7" d="M236.7 99.8l.5 1.6 .8 1.3-.5-1.9z"/>
<path color="#08fff7" d="M237.2 101.4l.5 1.9 .8 1.3-.5-1.9z"/>
<path color="#00f7ff" d="M237.7 103.3l.5 2.2 .8 1.1-.5-2z"/>
<path color="#00d7ff" d="M238.2 105.5l.5 1.5 2.4 2.7-.5-1z"/>
<path color="#00c7ff" d="M238.7 107l1.1 3.1 2.3 1.1-1-1.5z"/>
<path color="#00b7ff" d="M239.8 110.1l.5 1.5 2.4 .3-.6-.7z"/>
<path color="#00a7ff" d="M240.3 111.6l1 1.8 2.4-.6-1-.9z"/>
<path color="#0097ff" d="M241.3 113.4l1.6 1.9 2.3-1.2-1.5-1.3z"/>
<path color="#0087ff" d="M242.9 115.3l2 1.7 2.4-1.4-2.1-1.5z"/>
<path color="#0078ff" d="M244.9 117l2.6 1.8 2.4-1.7-2.6-1.5z"/>
<path color="#0068ff" d="M247.5 118.8l4.6 2.5 2.4-2.1-4.6-2.1z"/>
<path color="#0058ff" d="M252.1 121.3l4.7 1.5 2.3-2.3-4.6-1.3z"/>
<path color="#0068ff" d="M256.8 122.8l4.1 .4 2.4-2.4-4.2-.3z"/>
<path color="#0078ff" d="M260.9 123.2l4.1 .3 2.4-2.3-4.1-.4z"/>
<path color="#0087ff" d="M265 123.5l2.1 .6 2.3-2.2-2-.7z"/>
<path color="#0078ff" d="M267.1 124.1l3.6 1.9 2.3-2.1-3.6-2z"/>
<path color="#0068ff" d="M270.7 126l2.5 1.7 2.4-2-2.6-1.8z"/>
<path color="#0058ff" d="M273.2 127.7l2.6 1.7 2.4-2.1-2.6-1.6z"/>
<path color="#0048ff" d="M275.8 129.4l3.1 1.9 2.4-2.2-3.1-1.8z"/>
<path color="#0038ff" d="M278.9 131.3l5.2 2.6 2.3-2.2-5.1-2.6z"/>
<path color="#0028ff" d="M284.1 133.9l6.7 2 2.3-2.2-6.7-2z"/>
<path color="#0038ff" d="M290.8 135.9l7.2 1.8 2.3-2.2-7.2-1.8z"/>
<path color="#0097ff" d="M132.3 84.8l4.2 .4 2.3-2-4.1-.6z"/>
<path color="#00a7ff" d="M136.5 85.2l2.5-.1 2.4-1.8-2.6-.1z"/>
<path color="#00b7ff" d="M139 85.1l3.6-.6 2.4-1.5-3.6 .3z"/>
<path color="#38ffc7" d="M148.8 76.5l.5-.8 2.1 1.3 2.4-2-2.1-.5-.5 .9z"/>
<path color="#28ffd7" d="M151.4 77l.5 1.3 2.4-2.1-.5-1.2z"/>
<path color="#18ffe7" d="M151.9 78.3l.5 1.5 2.4-2.2-.5-1.4z"/>
<path color="#08fff7" d="M152.4 79.8l.5 1.7 2.4-2.3-.5-1.6z"/>
<path color="#00f7ff" d="M152.9 81.5l.6 1.7 2.3-2.4-.5-1.6z"/>
<path color="#00e7ff" d="M153.5 83.2l1 2.1 2.4-2.1-1.1-2.4z"/>
<path color="#00d7ff" d="M154.5 85.3l.5 1.1 2.4-2-.5-1.2z"/>
<path color="#00c7ff" d="M155 86.4l.5 1.1 2.1 1.6 2.4-1.8-2.1-1.6-.5-1.3z"/>
<path color="#970000" d="M188.5 55.1l.5 2.4 2.4-2.9-.6-2.4z"/>
<path color="#a70000" d="M189 57.5l.5 2.3 2.4-2.9-.5-2.3z"/>
<path color="#b70000" d="M189.5 59.8l.5 2.4 2.4-2.9-.5-2.4z"/>
<path color="#d70000" d="M190 62.2l.5 2.3 2.4-2.9-.5-2.3z"/>
<path color="#e70000" d="M190.5 64.5l.6 3.1 2.3-2.9-.5-3.1z"/>
<path color="#ff0800" d="M191.1 67.6l.5 3.1 2.3-2.9-.5-3.1z"/>
<path color="#ff2800" d="M191.6 70.7l.5 3.1 2.4-2.9-.6-3.1z"/>
<path color="#ff5800" d="M192.1 73.8l.5 3.1 2.4-2.9-.5-3.1z"/>
<path color="#ffa700" d="M192.6 76.9l.5 2.5 2.4-2.9-.5-2.5z"/>
<path color="#ffe700" d="M193.1 79.4l.5 2.5 2.4-2.9-.5-2.5z"/>
<path color="#d7ff28" d="M193.6 81.9l.5 2.5 2.4-2.9-.5-2.5z"/>
<path color="#a7ff58" d="M194.1 84.4l.6 2.5 2.3-2.8-.5-2.6z"/>
<path color="#87ff78" d="M194.7 86.9l.5 1.5 2.3-2.8-.5-1.5z"/>
<path color="#58ffa7" d="M195.2 88.4l.5 1.5 2.4-2.8-.6-1.5z"/>
<path color="#38ffc7" d="M195.7 89.9l.5 1.5 2.4-2.8-.5-1.5z"/>
<path color="#28ffd7" d="M196.2 91.4l.5 1.8 2.4-3.1-.5-1.5z"/>
<path color="#08fff7" d="M196.7 93.2l.5 1.2 2.4-3-.5-1.3z"/>
<path color="#00f7ff" d="M197.2 94.4l1.1 2.5 2.3-2.9-1-2.6z"/>
<path color="#00e7ff" d="M198.3 96.9l1 1.8 2.4-2.7-1.1-2z"/>
<path color="#d70000" d="M228 74l.5-1 .5-2.6-.6 2z"/>
<path color="#c70000" d="M228.5 73l.5-1 .5-3.6-.5 2z"/>
<path color="#b70000" d="M229 72l.5-1 .5-4.7-.5 2.1z"/>
<path color="#b70000" d="M229.5 71l.5 2.4 .5-4.7-.5-2.4z"/>
<path color="#d70000" d="M230 73.4l.5 2.4 .5-4.8-.5-2.3z"/>
<path color="#e70000" d="M230.5 75.8l.6 2.4 .4-4.8-.5-2.4z"/>
<path color="#f70000" d="M231.1 78.2l.5 2.4 .4-4.9-.5-2.3z"/>
<path color="#ff1800" d="M231.6 80.6l.5 2.7 .5-4.5-.6-3.1z"/>
<path color="#ff3800" d="M232.1 83.3l.5 2.8 .5-4.2-.5-3.1z"/>
<path color="#ff6800" d="M232.6 86.1l.5 2.8 .5-3.9-.5-3.1z"/>
<path color="#ffb700" d="M233.1 88.9l.5 2.8 .5-3.6-.5-3.1z"/>
<path color="#f7ff08" d="M233.6 91.7l.6 2.2 .4-3.3-.5-2.5z"/>
<path color="#c7ff38" d="M234.2 93.9l.5 2.3 .4-3.1-.5-2.5z"/>
<path color="#97ff68" d="M234.7 96.2l.5 2.2 .5-2.7-.6-2.6z"/>
<path color="#68ff97" d="M235.2 98.4l.5 2.3 .5-2.5-.5-2.5z"/>
<path color="#38ffc7" d="M235.7 100.7l.5 1.3 .5-2.2-.5-1.6z"/>
<path color="#28ffd7" d="M236.2 102l.5 1.9 .5-2.5-.5-1.6z"/>
<path color="#08fff7" d="M236.7 103.9l.5 1.9 .5-2.5-.5-1.9z"/>
<path color="#00f7ff" d="M237.2 105.8l.6 1.9 .4-2.2-.5-2.2z"/>
<path color="#00e7ff" d="M237.8 107.7l.5 1.4 .4-2.1-.5-1.5z"/>
<path color="#00d7ff" d="M238.3 109.1l.5 1.3 .5-1.9-.6-1.5z"/>
<path color="#00c7ff" d="M238.8 110.4l1 2.7 .5-1.5-1-3.1z"/>
<path color="#f70000" d="M227 75.6l.5 .1 .5-1.7-.5 1.1z"/>
<path color="#e70000" d="M227.5 75.7l.5 0 .5-2.7-.5 1z"/>
<path color="#e70000" d="M228 75.7l.5 0 .5-3.7-.5 1z"/>
<path color="#d70000" d="M228.5 75.7l.5 0 .5-4.7-.5 1z"/>
<path color="#e70000" d="M229 75.7l.6 2.4 .4-4.7-.5-2.4z"/>
<path color="#f70000" d="M229.6 78.1l.5 2.4 .4-4.7-.5-2.4z"/>
<path color="#ff1800" d="M230.1 80.5l.5 2.5 .5-4.8-.6-2.4z"/>
<path color="#ff2800" d="M230.6 83l.5 2.4 .5-4.8-.5-2.4z"/>
<path color="#ff4800" d="M231.1 85.4l.5 2.5 .5-4.6-.5-2.7z"/>
<path color="#ff8700" d="M231.6 87.9l.5 2.4 .5-4.2-.5-2.8z"/>
<path color="#ffd700" d="M232.1 90.3l.5 2.5 .5-3.9-.5-2.8z"/>
<path color="#e7ff18" d="M232.6 92.8l.6 2.5 .4-3.6-.5-2.8z"/>
<path color="#b7ff48" d="M233.2 95.3l.5 1.9 .5-3.3-.6-2.2z"/>
<path color="#87ff78" d="M233.7 97.2l.5 2 .5-3-.5-2.3z"/>
<path color="#68ff97" d="M234.2 99.2l.5 2 .5-2.8-.5-2.2z"/>
<path color="#38ffc7" d="M234.7 101.2l.5 2.2 .5-2.7-.5-2.3z"/>
<path color="#18ffe7" d="M235.2 103.4l.5 1.7 .5-3.1-.5-1.3z"/>
<path color="#00f7ff" d="M235.7 105.1l.6 1.6 .4-2.8-.5-1.9z"/>
<path color="#00f7ff" d="M236.3 106.7l.5 1.6 .4-2.5-.5-1.9z"/>
<path color="#00e7ff" d="M236.8 108.3l.5 1.7 .5-2.3-.6-1.9z"/>
<path color="#00d7ff" d="M237.3 110l.5 1.1 .5-2-.5-1.4z"/>
<path color="#00c7ff" d="M237.8 111.1l1 2.3 .5-1.7-1-2.6z"/>
<path color="#00b7ff" d="M238.8 113.4l.5 .9 .5-1.2-.5-1.4z"/>
<path color="#f70000" d="M225.5 75.6l1 .6 1 2.1 .5-2.6-1-.1-1 1.5z"/>
<path color="#ff0800" d="M227.5 78.3l1.1 2.1 .4-4.7-1 0z"/>
<path color="#ff1800" d="M228.6 80.4l.5 2.4 .5-4.7-.6-2.4z"/>
<path color="#ff2800" d="M229.1 82.8l.5 2.5 .5-4.8-.5-2.4z"/>
<path color="#ff3800" d="M229.6 85.3l.5 2.4 .5-4.7-.5-2.5z"/>
<path color="#ff8700" d="M230.1 87.7l.5 2.5 .5-4.8-.5-2.4z"/>
<path color="#ffc700" d="M230.6 90.2l.5 2.2 .5-4.5-.5-2.5z"/>
<path color="#f7ff08" d="M231.1 92.4l.6 2.2 .4-4.3-.5-2.4z"/>
<path color="#d7ff28" d="M231.7 94.6l.5 2.1 .4-3.9-.5-2.5z"/>
<path color="#a7ff58" d="M232.2 96.7l.5 2.2 .5-3.6-.6-2.5z"/>
<path color="#78ff87" d="M232.7 98.9l.5 1.7 .5-3.4-.5-1.9z"/>
<path color="#48ffb7" d="M233.2 100.6l.5 1.6 .5-3-.5-2z"/>
<path color="#28ffd7" d="M233.7 102.2l.5 2.2 .5-3.2-.5-2z"/>
<path color="#08fff7" d="M234.2 104.4l.5 2.3 .5-3.3-.5-2.2z"/>
<path color="#00f7ff" d="M234.7 106.7l.6 1.4 .4-3-.5-1.7z"/>
<path color="#00e7ff" d="M235.3 108.1l.5 1.4 .5-2.8-.6-1.6z"/>
<path color="#00d7ff" d="M235.8 109.5l.5 1.3 .5-2.5-.5-1.6z"/>
<path color="#00c7ff" d="M236.3 110.8l1 2.4 .5-2.1-1-2.8z"/>
<path color="#00b7ff" d="M237.3 113.2l1.1 1.6 .4-1.4-1-2.3z"/>
<path color="#00a7ff" d="M238.4 114.8l.5 .7 .4-1.2-.5-.9z"/>
<path color="#f70000" d="M225.5 75.5l.5 1.3 .5-.6-.5-.3z"/>
<path color="#f70000" d="M226 76.8l.5 2.1 .5-1.6-.5-1.1z"/>
<path color="#ff0800" d="M226.5 78.9l.6 2 .4-2.6-.5-1z"/>
<path color="#ff1800" d="M227.1 80.9l.5 2.1 .5-3.7-.6-1z"/>
<path color="#ff2800" d="M227.6 83l.5 2.1 .5-4.7-.5-1.1z"/>
<path color="#ff3800" d="M228.1 85.1l.5 2.5 .5-4.8-.5-2.4z"/>
<path color="#ff7800" d="M228.6 87.6l.5 2.4 .5-4.7-.5-2.5z"/>
<path color="#ffb700" d="M229.1 90l.5 2.5 .5-4.8-.5-2.4z"/>
<path color="#fff700" d="M229.6 92.5l.6 2.5 .4-4.8-.5-2.5z"/>
<path color="#d7ff28" d="M230.2 95l.5 1.9 .4-4.5-.5-2.2z"/>
<path color="#a7ff58" d="M230.7 96.9l.5 1.9 .5-4.2-.6-2.2z"/>
<path color="#87ff78" d="M231.2 98.8l.5 1.8 .5-3.9-.5-2.1z"/>
<path color="#58ffa7" d="M231.7 100.6l.5 1.9 .5-3.6-.5-2.2z"/>
<path color="#28ffd7" d="M232.2 102.5l.5 1.9 .5-3.8-.5-1.7z"/>
<path color="#18ffe7" d="M232.7 104.4l.5 1.8 .5-4-.5-1.6z"/>
<path color="#00f7ff" d="M233.2 106.2l.6 1.9 .4-3.7-.5-2.2z"/>
<path color="#00e7ff" d="M233.8 108.1l.5 1.9 .4-3.3-.5-2.3z"/>
<path color="#00d7ff" d="M234.3 110l1 2.2 .5-2.7-1.1-2.8z"/>
<path color="#00c7ff" d="M235.3 112.2l.5 1.2 .5-2.6-.5-1.3z"/>
<path color="#00b7ff" d="M235.8 113.4l1 1.5 .5-1.7-1-2.4z"/>
<path color="#00a7ff" d="M236.8 114.9l1.1 1.2 .5-1.3-1.1-1.6z"/>
<path color="#0097ff" d="M237.9 116.1l.5 .5 .5-1.1-.5-.7z"/>
<path color="#e70000" d="M224.5 72.7l.5 2.4 .5 .4-.5-1.3z"/>
<path color="#f70000" d="M225 75.1l.6 2.3 .4-.6-.5-1.3z"/>
<path color="#ff0800" d="M225.6 77.4l.5 3.1 .4-1.6-.5-2.1z"/>
<path color="#ff1800" d="M226.1 80.5l.5 3.1 .5-2.7-.6-2z"/>
<path color="#ff3800" d="M226.6 83.6l.5 3.1 .5-3.7-.5-2.1z"/>
<path color="#ff6800" d="M227.1 86.7l.5 3.1 .5-4.7-.5-2.1z"/>
<path color="#ffb700" d="M227.6 89.8l.5 2.5 .5-4.7-.5-2.5z"/>
<path color="#fff700" d="M228.1 92.3l.5 2.5 .5-4.8-.5-2.4z"/>
<path color="#d7ff28" d="M228.6 94.8l.6 2.5 .4-4.8-.5-2.5z"/>
<path color="#a7ff58" d="M229.2 97.3l.5 2.6 .5-4.9-.6-2.5z"/>
<path color="#78ff87" d="M229.7 99.9l.5 1.5 .5-4.5-.5-1.9z"/>
<path color="#48ffb7" d="M230.2 101.4l.5 1.7 .5-4.3-.5-1.9z"/>
<path color="#28ffd7" d="M230.7 103.1l.5 2.1 .5-4.6-.5-1.8z"/>
<path color="#08fff7" d="M231.2 105.2l.5 2.2 .5-4.9-.5-1.9z"/>
<path color="#00f7ff" d="M231.7 107.4l.6 1.4 .4-4.4-.5-1.9z"/>
<path color="#00e7ff" d="M232.3 108.8l.5 1.5 .4-4.1-.5-1.8z"/>
<path color="#00d7ff" d="M232.8 110.3l.5 1.5 .5-3.7-.6-1.9z"/>
<path color="#00c7ff" d="M233.3 111.8l.5 1.4 .5-3.2-.5-1.9z"/>
<path color="#00c7ff" d="M233.8 113.2l.5 .9 .5-3-.5-1.1z"/>
<path color="#00b7ff" d="M234.3 114.1l1 1.3 .5-2-1-2.3z"/>
<path color="#00a7ff" d="M235.3 115.4l.6 .7 .4-1.7-.5-1z"/>
<path color="#0097ff" d="M235.9 116.1l1.5 1.3 .5-1.3-1.6-1.7z"/>
<path color="#0087ff" d="M237.4 117.4l.5 .4 .5-1.2-.5-.5z"/>
<path color="#00a7ff" d="M237.9 117.8l.5 .3 2.4-5.6-.5-.9z"/>
<path color="#0097ff" d="M238.4 118.1l1.1 .8 2.3-4.8-1-1.6z"/>
<path color="#0087ff" d="M239.5 118.9l2 1.3 2.4-4-2.1-2.1z"/>
<path color="#0078ff" d="M241.5 120.2l2.1 1.1 2.4-3.5-2.1-1.6z"/>
<path color="#0068ff" d="M243.6 121.3l4.6 2.1 2.4-2.8-4.6-2.8z"/>
<path color="#0058ff" d="M248.2 123.4l4.1 1.3 3.1 .6 2.4-2.3-3.1-.7-4.1-1.7z"/>
<path color="#0068ff" d="M255.4 125.3l3.6 .1 2.4-2.2-3.6-.2z"/>
<path color="#0078ff" d="M259 125.4l3.6 .4 2.1 .6 3.6 2 2.4-2.4-3.6-1.9-2.1-.6-3.6-.3z"/>
<path color="#0068ff" d="M268.3 128.4l2.6 1.8 2.3-2.5-2.5-1.7z"/>
<path color="#0058ff" d="M270.9 130.2l2 1.4 2.4-2.5-2.1-1.4z"/>
<path color="#0048ff" d="M272.9 131.6l3.1 1.9 2.4-2.5-3.1-1.9z"/>
<path color="#0038ff" d="M276 133.5l4.2 2.2 2.3-2.5-4.1-2.2z"/>
<path color="#0028ff" d="M280.1 135.7l5.1 2 5.7 1.3 2.3-2.5-5.6-1.4-5.2-1.9z"/>
<path color="#0038ff" d="M291 139l4.6 1.2 2.4-2.5-4.7-1.2z"/>
<path color="#0097ff" d="M130 86.5l2.5 .3 2.4-1.7-2.6-.3z"/>
<path color="#00a7ff" d="M132.5 86.8l3.1-.2 2.4-1.5-3.1 0z"/>
<path color="#00b7ff" d="M135.6 86.6l3.1-.7 2.4-1.2-3.1 .4z"/>
<path color="#00c7ff" d="M138.7 85.9l3.1-.8 2.4-1-3.1 .6z"/>
<path color="#58ffa7" d="M147 77l.5 .4 2.4-1.4-.6-.3z"/>
<path color="#48ffb7" d="M147.5 77.4l1.5 1.2 2.4-1.6-1.5-1z"/>
<path color="#38ffc7" d="M149 78.6l.5 1.3 2.4-1.6-.5-1.3z"/>
<path color="#18ffe7" d="M149.5 79.9l.6 1.4 2.3-1.5-.5-1.5z"/>
<path color="#08fff7" d="M150.1 81.3l.5 1.7 2.3-1.5-.5-1.7z"/>
<path color="#00f7ff" d="M150.6 83l.5 1.7 2.4-1.5-.6-1.7z"/>
<path color="#00e7ff" d="M151.1 84.7l1 2 2.4-1.4-1-2.1z"/>
<path color="#00d7ff" d="M152.1 86.7l1 2 2.4-1.2-1-2.2z"/>
<path color="#00c7ff" d="M153.1 88.7l3.1 2.6 2.4-1.4-3.1-2.4z"/>
<path color="#970000" d="M186.1 57.8l.5 2.3 2.4-2.6-.5-2.4z"/>
<path color="#a70000" d="M186.6 60.1l.5 2.4 2.4-2.7-.5-2.3z"/>
<path color="#c70000" d="M187.1 62.5l.6 2.3 2.3-2.6-.5-2.4z"/>
<path color="#d70000" d="M187.7 64.8l.5 2.4 2.3-2.7-.5-2.3z"/>
<path color="#f70000" d="M188.2 67.2l.5 3.1 2.4-2.7-.6-3.1z"/>
<path color="#ff1800" d="M188.7 70.3l.5 3.1 2.4-2.7-.5-3.1z"/>
<path color="#ff3800" d="M189.2 73.4l.5 3 2.4-2.6-.5-3.1z"/>
<path color="#ff6800" d="M189.7 76.4l.5 3.1 2.4-2.6-.5-3.1z"/>
<path color="#ffb700" d="M190.2 79.5l.5 2.5 2.4-2.6-.5-2.5z"/>
<path color="#fff700" d="M190.7 82l.6 2.5 2.3-2.6-.5-2.5z"/>
<path color="#c7ff38" d="M191.3 84.5l.5 2.5 2.3-2.6-.5-2.5z"/>
<path color="#97ff68" d="M191.8 87l.5 2.6 2.4-2.7-.6-2.5z"/>
<path color="#78ff87" d="M192.3 89.6l.5 1.4 2.4-2.6-.5-1.5z"/>
<path color="#58ffa7" d="M192.8 91l.5 1.5 2.4-2.6-.5-1.5z"/>
<path color="#38ffc7" d="M193.3 92.5l.5 1.5 2.4-2.6-.5-1.5z"/>
<path color="#18ffe7" d="M193.8 94l.5 1.8 2.4-2.6-.5-1.8z"/>
<path color="#08fff7" d="M194.3 95.8l.6 1.1 2.3-2.5-.5-1.2z"/>
<path color="#00f7ff" d="M194.9 96.9l1 2.3 2.4-2.3-1.1-2.5z"/>
<path color="#00e7ff" d="M195.9 99.2l1 1.7 2.4-2.2-1-1.8z"/>
<path color="#00d7ff" d="M196.9 100.9l1.6 1.7 1 .6 2.4-1.9-1.1-.7-1.5-1.9z"/>
<path color="#b70000" d="M221.1 70.7l.5 2.3 2.4-2.7-.5-2.3z"/>
<path color="#c70000" d="M221.6 73l.6 2.4 2.3-2.7-.5-2.4z"/>
<path color="#d70000" d="M222.2 75.4l.5 2.3 2.3-2.6-.5-2.4z"/>
<path color="#f70000" d="M222.7 77.7l.5 2.4 2.4-2.7-.6-2.3z"/>
<path color="#ff0800" d="M223.2 80.1l.5 3.1 2.4-2.7-.5-3.1z"/>
<path color="#ff2800" d="M223.7 83.2l.5 3.1 2.4-2.7-.5-3.1z"/>
<path color="#ff5800" d="M224.2 86.3l.5 3 2.4-2.6-.5-3.1z"/>
<path color="#ffa700" d="M224.7 89.3l.5 3.1 2.4-2.6-.5-3.1z"/>
<path color="#fff700" d="M225.2 92.4l.6 2.5 2.3-2.6-.5-2.5z"/>
<path color="#d7ff28" d="M225.8 94.9l.5 2.6 2.3-2.7-.5-2.5z"/>
<path color="#97ff68" d="M226.3 97.5l.5 2.5 2.4-2.7-.6-2.5z"/>
<path color="#68ff97" d="M226.8 100l.5 2.5 2.4-2.6-.5-2.6z"/>
<path color="#38ffc7" d="M227.3 102.5l.5 1.6 2.4-2.7-.5-1.5z"/>
<path color="#18ffe7" d="M227.8 104.1l.5 1.8 2.4-2.8-.5-1.7z"/>
<path color="#08fff7" d="M228.3 105.9l.6 2.1 2.3-2.8-.5-2.1z"/>
<path color="#00f7ff" d="M228.9 108l.5 2.1 2.3-2.7-.5-2.2z"/>
<path color="#00e7ff" d="M229.4 110.1l.5 1.4 2.4-2.7-.6-1.4z"/>
<path color="#00d7ff" d="M229.9 111.5l.5 1.5 2.4-2.7-.5-1.5z"/>
<path color="#00c7ff" d="M230.4 113l.5 1.4 2.4-2.6-.5-1.5z"/>
<path color="#00b7ff" d="M230.9 114.4l1 2.1 2.4-2.4-1-2.3z"/>
<path color="#00a7ff" d="M231.9 116.5l1.1 1.2 2.3-2.3-1-1.3z"/>
<path color="#0097ff" d="M233 117.7l1 1.1 2.4-2.3-1.1-1.1z"/>
<path color="#0087ff" d="M234 118.8l2.1 1.5 2.3-2.2-2-1.6z"/>
<path color="#0078ff" d="M236.1 120.3l3.1 1.9 2.3-2-3.1-2.1z"/>
<path color="#0068ff" d="M239.2 122.2l4.6 2.2 2.4-1.9-4.7-2.3z"/>
<path color="#0058ff" d="M243.8 124.4l4.1 1.5 4.6 1.2 2.4-1.9-4.6-1.1-4.1-1.6z"/>
<path color="#0068ff" d="M252.5 127.1l3.7 .2 2.3-1.9-3.6-.2z"/>
<path color="#0078ff" d="M256.1 127.3l4.1 .3 2 .6 3.6 2 2.4-1.8-3.6-2-2.1-.6-4.1-.4z"/>
<path color="#0068ff" d="M265.9 130.2l2.6 1.8 2.4-1.8-2.6-1.8z"/>
<path color="#0058ff" d="M268.5 132l2.1 1.5 2.3-1.9-2-1.4z"/>
<path color="#0048ff" d="M270.6 133.5l2.5 1.6 2.4-1.9-2.6-1.6z"/>
<path color="#0038ff" d="M273.1 135.1l3.7 2.1 2.3-2-3.6-2z"/>
<path color="#0028ff" d="M276.8 137.2l6.1 2.5 7.8 1.8 2.3-2-7.7-1.8-6.2-2.5z"/>
<path color="#0038ff" d="M290.7 141.5l2.5 .7 2.4-2-2.6-.7z"/>
<path color="#0097ff" d="M127.6 88.9l2.1 .3 2.3-2.5-2-.2z"/>
<path color="#00a7ff" d="M129.7 89.2l3.1 0 2.3-2.5-3.1 0z"/>
<path color="#00b7ff" d="M132.8 89.2l3-.4 2.4-2.8-3.1 .7z"/>
<path color="#00c7ff" d="M135.8 88.8l3.1-.7 2.4-2.8-3.1 .7z"/>
<path color="#58ffa7" d="M144.6 79.6l.5 .4 2.4-2.6-.5-.4z"/>
<path color="#48ffb7" d="M145.1 80l1.6 1.2 2.3-2.6-1.5-1.2z"/>
<path color="#38ffc7" d="M146.7 81.2l.5 1.3 2.3-2.6-.5-1.3z"/>
<path color="#18ffe7" d="M147.2 82.5l.5 1.4 2.4-2.6-.6-1.4z"/>
<path color="#08fff7" d="M147.7 83.9l.5 1.7 2.4-2.6-.5-1.7z"/>
<path color="#00f7ff" d="M148.2 85.6l.5 1.7 2.4-2.6-.5-1.7z"/>
<path color="#00e7ff" d="M148.7 87.3l1.1 2.1 2.3-2.7-1-2z"/>
<path color="#00d7ff" d="M149.8 89.4l1 2.1 2.3-2.8-1-2z"/>
<path color="#00c7ff" d="M150.8 91.5l3.6 2.9 2.4-2.7-3.7-3z"/>
<path color="#c70000" d="M183.8 63.2l.5-.5 .8-.8-.5 2z"/>
<path color="#a70000" d="M184.8 62.1l.5-.6 .8-3.7-.5 2z"/>
<path color="#a70000" d="M185.3 61.5l.5 2.6 .8-4-.5-2.3z"/>
<path color="#c70000" d="M185.8 64.1l.6 2.6 .7-4.2-.5-2.4z"/>
<path color="#d70000" d="M186.3 66.7l.5 2.6 .8-4.5-.6-2.3z"/>
<path color="#f70000" d="M186.9 69.3l.5 2.6 .8-4.7-.5-2.4z"/>
<path color="#ff0800" d="M187.4 71.9l.5 2.9 .8-4.5-.5-3.1z"/>
<path color="#ff2800" d="M187.9 74.8l.5 2.9 .8-4.3-.5-3.1z"/>
<path color="#ff4800" d="M188.4 77.7l.5 2.9 .8-4.2-.5-3z"/>
<path color="#ffa700" d="M188.9 80.6l.5 2.9 .8-4-.5-3.1z"/>
<path color="#ffe700" d="M189.4 83.5l.6 2.1 .7-3.6-.5-2.5z"/>
<path color="#e7ff18" d="M190 85.6l.5 2.2 .8-3.3-.6-2.5z"/>
<path color="#b7ff48" d="M190.5 87.8l.5 2.2 .8-3-.5-2.5z"/>
<path color="#87ff78" d="M191 90l.5 2.1 .8-2.5-.5-2.6z"/>
<path color="#58ffa7" d="M191.5 92.1l.5 1.3 .8-2.4-.5-1.4z"/>
<path color="#38ffc7" d="M192 93.4l.5 1.3 .8-2.2-.5-1.5z"/>
<path color="#28ffd7" d="M192.5 94.7l.5 1.6 .8-2.3-.5-1.5z"/>
<path color="#b70000" d="M182.5 61.7l2 3.6 .8-3.8-2 2.3z"/>
<path color="#c70000" d="M184.5 65.3l.5 2.8 .8-4-.5-2.6z"/>
<path color="#e70000" d="M185 68.1l.6 2.9 .8-4.3-.6-2.6z"/>
<path color="#f70000" d="M185.6 71l.5 2.8 .8-4.5-.5-2.6z"/>
<path color="#ff1800" d="M186.1 73.8l.5 2.8 .8-4.7-.5-2.6z"/>
<path color="#ff3800" d="M186.6 76.6l.5 2.7 .8-4.5-.5-2.9z"/>
<path color="#ff6800" d="M187.1 79.3l.5 2.7 .8-4.3-.5-2.9z"/>
<path color="#ffb700" d="M187.6 82l.5 2.7 .8-4.1-.5-2.9z"/>
<path color="#f7ff08" d="M188.1 84.7l.5 2.7 .8-3.9-.5-2.9z"/>
<path color="#c7ff38" d="M188.6 87.4l.6 1.9 .8-3.7-.6-2.1z"/>
<path color="#a7ff58" d="M189.2 89.3l.5 1.8 .8-3.3-.5-2.2z"/>
<path color="#78ff87" d="M189.7 91.1l.5 1.8 .8-2.9-.5-2.2z"/>
<path color="#48ffb7" d="M190.2 92.9l.5 1.8 .8-2.6-.5-2.1z"/>
<path color="#28ffd7" d="M190.7 94.7l.5 1.2 .8-2.5-.5-1.3z"/>
<path color="#18ffe7" d="M191.2 95.9l.5 1.4 .8-2.6-.5-1.3z"/>
<path color="#08fff7" d="M191.7 97.3l.6 1.4 .7-2.4-.5-1.6z"/>
<path color="#a70000" d="M181.7 59.6l.5 2.4 .8 .6-.5-.9z"/>
<path color="#b70000" d="M182.2 62l.5 2.3 .8-.8-.5-.9z"/>
<path color="#c70000" d="M182.7 64.3l.5 2.4 .8-2.3-.5-.9z"/>
<path color="#d70000" d="M183.2 66.7l.5 2.3 .8-3.7-.5-.9z"/>
<path color="#e70000" d="M183.7 69l.6 3.1 .7-4-.5-2.8z"/>
<path color="#ff0800" d="M184.3 72.1l.5 3.1 .8-4.2-.6-2.9z"/>
<path color="#ff2800" d="M184.8 75.2l.5 3.1 .8-4.5-.5-2.8z"/>
<path color="#ff4800" d="M185.3 78.3l.5 3.1 .8-4.8-.5-2.8z"/>
<path color="#ff8700" d="M185.8 81.4l.5 2.5 .8-4.6-.5-2.7z"/>
<path color="#ffd700" d="M186.3 83.9l.5 2.5 .8-4.4-.5-2.7z"/>
<path color="#e7ff18" d="M186.8 86.4l.5 2.5 .8-4.2-.5-2.7z"/>
<path color="#b7ff48" d="M187.3 88.9l.6 2.5 .7-4-.5-2.7z"/>
<path color="#87ff78" d="M187.9 91.4l.5 1.5 .8-3.6-.6-1.9z"/>
<path color="#68ff97" d="M188.4 92.9l.5 1.4 .8-3.2-.5-1.8z"/>
<path color="#48ffb7" d="M188.9 94.3l.5 1.5 .8-2.9-.5-1.8z"/>
<path color="#28ffd7" d="M189.4 95.8l.5 2 .8-3.1-.5-1.8z"/>
<path color="#08fff7" d="M189.9 97.8l.5 1.1 .8-3-.5-1.2z"/>
<path color="#00f7ff" d="M190.4 98.9l1.1 2.3 .8-2.5-1.1-2.8z"/>
<path color="#00f7ff" d="M191.5 101.2l.5 1.1 2.3-6.5-.5-1.8z"/>
<path color="#00e7ff" d="M192 102.3l1.5 1.6 2.4-4.7-1.6-3.4z"/>
<path color="#00d7ff" d="M193.5 103.9l2.6 1.8 2.4-3.1-2.1-2.2-.5-1.2z"/>
<path color="#b70000" d="M218.8 73.2l.5 2.3 2.3-2.5-.5-2.3z"/>
<path color="#c70000" d="M219.3 75.5l.5 2.4 2.4-2.5-.6-2.4z"/>
<path color="#e70000" d="M219.8 77.9l.5 2.3 2.4-2.5-.5-2.3z"/>
<path color="#f70000" d="M220.3 80.2l.5 2.4 2.4-2.5-.5-2.4z"/>
<path color="#ff1800" d="M220.8 82.6l.5 3.1 2.4-2.5-.5-3.1z"/>
<path color="#ff2800" d="M221.3 85.7l.5 3 2.4-2.4-.5-3.1z"/>
<path color="#ff6800" d="M221.9 88.7l.6 3.1 2.3-2.5-.5-3z"/>
<path color="#ffb700" d="M222.4 91.8l.5 3.1 2.3-2.5-.5-3.1z"/>
<path color="#f7ff08" d="M222.9 94.9l.5 2.5 2.4-2.5-.6-2.5z"/>
<path color="#c7ff38" d="M223.4 97.4l.5 2.6 2.4-2.5-.5-2.6z"/>
<path color="#97ff68" d="M223.9 100l.5 2.5 2.4-2.5-.5-2.5z"/>
<path color="#58ffa7" d="M224.4 102.5l.5 2.5 2.4-2.5-.5-2.5z"/>
<path color="#38ffc7" d="M224.9 105l.6 1.5 2.3-2.4-.5-1.6z"/>
<path color="#18ffe7" d="M225.5 106.5l.5 2 2.3-2.6-.5-1.8z"/>
<path color="#00f7ff" d="M226 108.5l.5 2.1 2.4-2.6-.6-2.1z"/>
<path color="#00e7ff" d="M226.5 110.6l.5 2.1 2.4-2.6-.5-2.1z"/>
<path color="#00d7ff" d="M227 112.7l1 2.9 2.4-2.6-1-2.9z"/>
<path color="#00c7ff" d="M228 115.6l.5 1.4 2.4-2.6-.5-1.4z"/>
<path color="#00b7ff" d="M228.5 117l.6 1.3 2.3-2.5-.5-1.4z"/>
<path color="#00a7ff" d="M229.1 118.3l1 1.3 2.4-2.5-1.1-1.3z"/>
<path color="#0097ff" d="M230.1 119.6l1.5 1.6 2.4-2.4-1.5-1.7z"/>
<path color="#0087ff" d="M231.6 121.2l2.1 1.5 2.4-2.4-2.1-1.5z"/>
<path color="#0078ff" d="M233.7 122.7l2.6 1.6 2.3-2.4-2.5-1.6z"/>
<path color="#0068ff" d="M236.3 124.3l5.1 2.5 2.4-2.4-5.2-2.5z"/>
<path color="#0058ff" d="M241.4 126.8l4.1 1.5 4.7 1.2 2.3-2.4-4.6-1.2-4.1-1.5z"/>
<path color="#0068ff" d="M250.2 129.5l3.6 .2 2.4-2.4-3.7-.2z"/>
<path color="#0078ff" d="M253.8 129.7l3.6 .2 2.4-2.4-3.6-.2z"/>
<path color="#0087ff" d="M257.4 129.9l3.1 .9 2.3-2.3-3-1z"/>
<path color="#0078ff" d="M260.5 130.8l3.1 1.8 2.3-2.4-3.1-1.7z"/>
<path color="#0068ff" d="M263.6 132.6l2.5 1.8 2.4-2.4-2.6-1.8z"/>
<path color="#0058ff" d="M266.1 134.4l2.1 1.4 2.4-2.3-2.1-1.5z"/>
<path color="#0048ff" d="M268.2 135.8l2.6 1.7 2.3-2.4-2.5-1.6z"/>
<path color="#0038ff" d="M270.8 137.5l3.6 2.1 2.4-2.4-3.7-2.1z"/>
<path color="#0028ff" d="M274.4 139.6l6.2 2.5 10.3 2.5 2.3-2.4-10.3-2.5-6.1-2.5z"/>
<path color="#0097ff" d="M125.2 91l3.1 .5 2.4-2.3-3.1-.3z"/>
<path color="#00a7ff" d="M128.3 91.5l3.1 .1 2.4-2.4-3.1 0z"/>
<path color="#00b7ff" d="M131.4 91.6l3.6-.3 2.4-2.8-3.6 .7z"/>
<path color="#00c7ff" d="M135 91.3l3.1-.7 2.4-3.1-3.1 1z"/>
<path color="#48ffb7" d="M142.2 82.7l1.1 .3 2.3-2.6-1-.8z"/>
<path color="#38ffc7" d="M143.3 83l1 .3 .5 1.1 2.4-1.9-.5-1.3-1.1-.8z"/>
<path color="#18ffe7" d="M144.8 84.4l.5 1.2 2.4-1.7-.5-1.4z"/>
<path color="#08fff7" d="M145.3 85.6l.5 1.5 2.4-1.5-.5-1.7z"/>
<path color="#00f7ff" d="M145.8 87.1l.6 1.4 2.3-1.2-.5-1.7z"/>
<path color="#00e7ff" d="M146.4 88.5l1 2.6 2.4-1.7-1.1-2.1z"/>
<path color="#00d7ff" d="M147.4 91.1l1 2.7 2.4-2.3-1-2.1z"/>
<path color="#00c7ff" d="M148.4 93.8l2.6 2.1 2.4-2.3-2.6-2.1z"/>
<path color="#00b7ff" d="M151 95.9l3.6 2.7 2.4-2.1-3.6-2.9z"/>
<path color="#970000" d="M179.3 61.4l.5 2.3 2.4-1.7-.5-2.4z"/>
<path color="#b70000" d="M179.8 63.7l.5 2.4 2.4-1.8-.5-2.3z"/>
<path color="#c70000" d="M180.3 66.1l.6 2.3 2.3-1.7-.5-2.4z"/>
<path color="#d70000" d="M180.9 68.4l.5 2.4 2.3-1.8-.5-2.3z"/>
<path color="#f70000" d="M181.4 70.8l.5 3.1 2.4-1.8-.6-3.1z"/>
<path color="#ff1800" d="M181.9 73.9l.5 3 2.4-1.7-.5-3.1z"/>
<path color="#ff3800" d="M182.4 76.9l.5 3.1 2.4-1.7-.5-3.1z"/>
<path color="#ff7800" d="M182.9 80l.5 3.1 2.4-1.7-.5-3.1z"/>
<path color="#ffc700" d="M183.4 83.1l.5 2.5 2.4-1.7-.5-2.5z"/>
<path color="#f7ff08" d="M183.9 85.6l.6 2.5 2.3-1.7-.5-2.5z"/>
<path color="#c7ff38" d="M184.5 88.1l.5 2.5 2.3-1.7-.5-2.5z"/>
<path color="#97ff68" d="M185 90.6l.5 2.6 2.4-1.8-.6-2.5z"/>
<path color="#68ff97" d="M185.5 93.2l.5 1.4 2.4-1.7-.5-1.5z"/>
<path color="#48ffb7" d="M186 94.6l.5 1.5 2.4-1.8-.5-1.4z"/>
<path color="#28ffd7" d="M186.5 96.1l.5 1.5 2.4-1.8-.5-1.5z"/>
<path color="#18ffe7" d="M187 97.6l.6 1.8 2.3-1.6-.5-2z"/>
<path color="#08fff7" d="M187.6 99.4l.5 1.2 2.3-1.7-.5-1.1z"/>
<path color="#00f7ff" d="M188.1 100.6l.5 1.1 2.4-1.7-.6-1.1z"/>
<path color="#00e7ff" d="M188.6 101.7l1 2.4 2.4-1.8-1-2.3z"/>
<path color="#00d7ff" d="M189.6 104.1l2.6 2.5 2.4-1.8-2.6-2.5z"/>
<path color="#00c7ff" d="M192.2 106.6l3.6 2 6.2 2.9 2.3-2.2-6.1-2.6-3.6-1.9z"/>
<path color="#ff2800" d="M215.7 88.4l.5-2.5 .5-4.6-.5 2.8z"/>
<path color="#ff0800" d="M216.2 85.9l.5-2.1 .5-4.5-.5 2z"/>
<path color="#f70000" d="M216.7 83.8l.6-2 .4-4.6-.5 2.1z"/>
<path color="#e70000" d="M217.3 81.8l.5-2.1 .4-4.5-.5 2z"/>
<path color="#c70000" d="M217.8 79.7l.5-2.1 .5-4.4-.6 2z"/>
<path color="#c70000" d="M218.3 77.6l.5 1.3 .5-3.4-.5-2.3z"/>
<path color="#d70000" d="M218.8 78.9l.5 1.4 .5-2.4-.5-2.4z"/>
<path color="#f70000" d="M217.3 84.2l.5-2.1 .5-4.5-.5 2.1z"/>
<path color="#e70000" d="M217.8 82.1l.5 .3 .5-3.5-.5-1.3z"/>
<path color="#00c7ff" d="M229.2 116.5l.5 1.6 .5 1.1-.5-1.3z"/>
<path color="#00b7ff" d="M229.7 118.1l1 2.1 .5 .5-1-1.5z"/>
<path color="#00a7ff" d="M230.7 120.2l.5 .9 .5 .3-.5-.7z"/>
<path color="#18ffe7" d="M226.6 107.3l.6 2.2 .4 2.2-.5-2.6z"/>
<path color="#00e7ff" d="M228.2 113.2l.5 1.8 .5 1.5-.5-1.6z"/>
<path color="#b7ff48" d="M225.1 100.5l.6 2.5 .4 2.1-.5-2.3z"/>
<path color="#87ff78" d="M225.7 103l.5 2.5 .4 1.8-.5-2.2z"/>
<path color="#48ffb7" d="M226.2 105.5l.5 2.6 .5 1.4-.6-2.2z"/>
<path color="#00f7ff" d="M227.7 111.5l.5 2.1 .5 1.4-.5-1.8z"/>
<path color="#00c7ff" d="M229.3 117.2l1 2.9 .5 .6-1.1-2.5z"/>
<path color="#0097ff" d="M230.3 120.1l.5 1.4 1 1.4 2.4 .1-1.5-1z"/>
<path color="#0087ff" d="M231.8 122.9l1.6 1.6 2.4-.5-1.6-1z"/>
<path color="#0078ff" d="M233.4 124.5l2.6 1.9 2.3-1-2.5-1.4z"/>
<path color="#0068ff" d="M236 126.4l4.6 2.6 2.4-1.6-4.7-2z"/>
<path color="#0058ff" d="M240.6 129l4.6 1.9 3.1 .7 2.4-2.1-3.1-.5-4.6-1.6z"/>
<path color="#0068ff" d="M248.3 131.6l3.6 .3 2.4-2.2-3.6-.2z"/>
<path color="#0078ff" d="M251.9 131.9l4.1 .3 2.4-2.1-4.1-.4z"/>
<path color="#0087ff" d="M256 132.2l2.1 .5 2.4-1.9-2.1-.7z"/>
<path color="#0078ff" d="M258.1 132.7l3.6 1.8 2.4-1.6-3.6-2.1z"/>
<path color="#0068ff" d="M261.7 134.5l2.6 1.8 2.4-1.6-2.6-1.8z"/>
<path color="#0058ff" d="M264.3 136.3l2 1.6 2.4-1.7-2-1.5z"/>
<path color="#0048ff" d="M266.3 137.9l2.6 1.7 2.4-1.8-2.6-1.6z"/>
<path color="#0038ff" d="M268.9 139.6l3.1 1.9 2.4-1.9-3.1-1.8z"/>
<path color="#0028ff" d="M272 141.5l6.2 2.5 9.8 2.4 2.3-1.9-9.7-2.4-6.2-2.5z"/>
<path color="#0038ff" d="M288 146.4l.5 .1 2.4-1.9-.6-.1z"/>
<path color="#0097ff" d="M122.9 93.2l3.6 .7 2.3-2.4-3.6-.5z"/>
<path color="#00a7ff" d="M126.5 93.9l3.6 .3 2.3-2.6-3.6-.1z"/>
<path color="#00b7ff" d="M130.1 94.2l4.1-.2 2.4-3-4.2 .6z"/>
<path color="#18ffe7" d="M138.8 88.7l.5-1.3 2.4-3.8-.5 .9z"/>
<path color="#28ffd7" d="M139.3 87.4l.6-1.2 .5-.1 2.3-3.2-.5-.2-.5 .9z"/>
<path color="#38ffc7" d="M140.4 86.1l1.5-.4 .5 .9 2.4-2.2-.5-1.1-1.6-.4z"/>
<path color="#28ffd7" d="M142.4 86.6l.6 .8 2.3-1.8-.5-1.2z"/>
<path color="#18ffe7" d="M143 87.4l.5 1.2 2.3-1.5-.5-1.5z"/>
<path color="#08fff7" d="M143.5 88.6l.5 1.2 2.4-1.3-.6-1.4z"/>
<path color="#00f7ff" d="M144 89.8l.5 1.5 2.4-1.5-.5-1.3z"/>
<path color="#00e7ff" d="M144.5 91.3l.5 1.5 2.4-1.7-.5-1.3z"/>
<path color="#00d7ff" d="M145 92.8l1 3 2.4-2-1-2.7z"/>
<path color="#00c7ff" d="M146 95.8l2.1 2.3 2.4-2.5-2.1-1.8z"/>
<path color="#00b7ff" d="M148.1 98.1l3.6 2.5 2.4-2.3-3.6-2.7z"/>
<path color="#ff0800" d="M176.3 76.7l.5-2.5 .4-4.7-.5 2.8z"/>
<path color="#f70000" d="M176.8 74.2l.5-2.1 .5-4.6-.6 2z"/>
<path color="#d70000" d="M177.3 72.1l.5-2 .5-4.7-.5 2.1z"/>
<path color="#c70000" d="M177.8 70.1l.5-2.1 .5-4.6-.5 2z"/>
<path color="#b70000" d="M178.3 68l.5-2.1 .5-4.5-.5 2z"/>
<path color="#a70000" d="M178.8 65.9l.6 1.3 .4-3.5-.5-2.3z"/>
<path color="#b70000" d="M179.4 67.2l.5 1.4 .4-2.5-.5-2.4z"/>
<path color="#f70000" d="M177.3 74.7l.5-2.1 .5-4.6-.5 2.1z"/>
<path color="#d70000" d="M177.8 72.6l.6-2.1 .4-4.6-.5 2.1z"/>
<path color="#d70000" d="M178.4 70.5l.5 .3 .5-3.6-.6-1.3z"/>
<path color="#00e7ff" d="M189.7 102.7l1.5 2.9 .5 .5-1.5-2.2z"/>
<path color="#28ffd7" d="M187.7 97.2l.5 1.8 .5 1.4-.6-1.7z"/>
<path color="#00f7ff" d="M189.2 101.5l1 2.8 .5 .6-1-2.2z"/>
<path color="#87ff78" d="M186.7 93.5l.5 2.2 .5 1.5-.5-1.9z"/>
<path color="#58ffa7" d="M187.2 95.7l.5 2.2 .5 1.1-.5-1.8z"/>
<path color="#28ffd7" d="M188.2 99.1l.5 1.3 .5 1.1-.5-1.4z"/>
<path color="#ff9700" d="M184.7 83.6l.5 3.1 .5 2.4-.6-2.7z"/>
<path color="#e7ff18" d="M185.7 89.2l.5 2.5 .5 1.8-.5-2.2z"/>
<path color="#b7ff48" d="M186.2 91.7l.5 2.5 .5 1.5-.5-2.2z"/>
<path color="#87ff78" d="M186.7 94.2l.5 2.5 .5 1.2-.5-2.2z"/>
<path color="#08fff7" d="M188.8 101.1l.5 1.9 .5 .6-.5-1.7z"/>
<path color="#00f7ff" d="M189.3 103l.5 1.1 .5 .5-.5-1z"/>
<path color="#00e7ff" d="M189.8 104.1l.5 1.2 2.4 1.6-.5-.3z"/>
<path color="#b70000" d="M218.1 78.5l.6 2.4 2.3-2.4-.5-2.3z"/>
<path color="#c70000" d="M218.7 80.9l.5 2.3 2.3-2.3-.5-2.4z"/>
<path color="#d70000" d="M219.2 83.2l.5 2.4 2.4-2.3-.6-2.4z"/>
<path color="#f70000" d="M219.7 85.6l.5 2.3 2.4-2.3-.5-2.3z"/>
<path color="#ff0800" d="M220.2 87.9l.5 3.1 2.4-2.3-.5-3.1z"/>
<path color="#ff2800" d="M220.7 91l.5 3.1 2.4-2.3-.5-3.1z"/>
<path color="#ff5800" d="M221.2 94.1l.5 3.1 2.4-2.3-.5-3.1z"/>
<path color="#ffb700" d="M221.7 97.2l.6 3.1 2.3-2.3-.5-3.1z"/>
<path color="#f7ff08" d="M222.3 100.3l.5 2.5 2.3-2.3-.5-2.5z"/>
<path color="#c7ff38" d="M222.8 102.8l.5 2.5 2.4-2.3-.6-2.5z"/>
<path color="#97ff68" d="M223.3 105.3l.5 2.6 2.4-2.4-.5-2.5z"/>
<path color="#68ff97" d="M223.8 107.9l.5 2.5 2.4-2.3-.5-2.6z"/>
<path color="#38ffc7" d="M224.3 110.4l.5 1.5 2.4-2.3-.5-1.5z"/>
<path color="#18ffe7" d="M224.8 111.9l.6 2 2.3-2.4-.5-1.9z"/>
<path color="#00f7ff" d="M225.4 113.9l.5 2.1 2.3-2.4-.5-2.1z"/>
<path color="#00e7ff" d="M225.9 116l.5 2.1 2.4-2.4-.6-2.1z"/>
<path color="#00d7ff" d="M226.4 118.1l1 2.9 2.4-2.4-1-2.9z"/>
<path color="#00c7ff" d="M227.4 121l.5 1.4 2.4-2.3-.5-1.5z"/>
<path color="#00b7ff" d="M227.9 122.4l.5 1.4 2.4-2.3-.5-1.4z"/>
<path color="#00a7ff" d="M228.4 123.8l1.1 1.3 2.3-2.2-1-1.4z"/>
<path color="#0097ff" d="M229.5 125.1l1 1.3 2.4-2.3-1.1-1.2z"/>
<path color="#0087ff" d="M230.5 126.4l2.1 1.5 2.3-2.2-2-1.6z"/>
<path color="#0078ff" d="M232.6 127.9l3 2 2.4-2.2-3.1-2z"/>
<path color="#0068ff" d="M235.7 129.9l5.2 2.4 2.4-2.1-5.2-2.5z"/>
<path color="#0058ff" d="M240.8 132.3l4.6 1.4 2.4-2.1-4.6-1.4z"/>
<path color="#0068ff" d="M245.4 133.7l4.2 .4 2.3-2.2-4.1-.3z"/>
<path color="#0078ff" d="M249.6 134.1l3.6 .1 2.3-2.2-3.6-.1z"/>
<path color="#0087ff" d="M253.2 134.2l4.1 1.2 2.4-2.1-4.2-1.3z"/>
<path color="#0078ff" d="M257.3 135.4l3.1 1.9 2.3-2.1-3-1.9z"/>
<path color="#0068ff" d="M260.4 137.3l2 1.5 2.4-2.1-2.1-1.5z"/>
<path color="#0058ff" d="M262.4 138.8l2.1 1.5 2.4-2.1-2.1-1.5z"/>
<path color="#0048ff" d="M264.5 140.3l2.6 1.8 2.3-2.1-2.5-1.8z"/>
<path color="#0038ff" d="M267.1 142.1l3.6 2.1 2.3-2.2-3.6-2z"/>
<path color="#0028ff" d="M270.7 144.2l5.1 2 6.2 1.4 2.4-2.2-6.2-1.4-5.2-2z"/>
<path color="#0038ff" d="M282 147.6l4.1 1.1 2.4-2.2-4.1-1.1z"/>
<path color="#0097ff" d="M120.5 95.4l5.1 1.1 2.4-2.4-5.1-.9z"/>
<path color="#00a7ff" d="M125.6 96.5l3.6 .3 2.4-2.6-3.6-.1z"/>
<path color="#00b7ff" d="M129.2 96.8l4.2-.3 2.3-2.7-4.1 .4z"/>
<path color="#18ffe7" d="M137.5 91.2l1-1.8 2.4-3.4-1 .2z"/>
<path color="#28ffd7" d="M138.5 89.4l1.1-1.4 2.3-2.3-1 .3z"/>
<path color="#38ffc7" d="M139.6 88l.5 .4 2.3-1.8-.5-.9z"/>
<path color="#28ffd7" d="M140.1 88.4l.5 .3 2.4-1.3-.6-.8z"/>
<path color="#18ffe7" d="M140.6 88.7l1 .7 2.4 .4-1-2.4z"/>
<path color="#08fff7" d="M141.6 89.4l.5 1.4 2.4 .5-.5-1.5z"/>
<path color="#00f7ff" d="M142.1 90.8l.5 1.5 2.4 .5-.5-1.5z"/>
<path color="#00e7ff" d="M142.6 92.3l.6 1.6 2.3 .4-.5-1.5z"/>
<path color="#00d7ff" d="M143.2 93.9l1.5 3.7 2.4-.7-1.1-1.1-.5-1.5z"/>
<path color="#00c7ff" d="M144.7 97.6l1 2.1 2.4-1.6-1-1.2z"/>
<path color="#00b7ff" d="M145.7 99.7l4.2 3 2.3-1.8-4.1-2.8z"/>
<path color="#970000" d="M178.7 67.3l.5 2.4 2.4-2.4-.5-2.4z"/>
<path color="#b70000" d="M179.2 69.7l.5 2.3 2.4-2.4-.5-2.3z"/>
<path color="#c70000" d="M179.7 72l.5 2.4 2.4-2.4-.5-2.4z"/>
<path color="#e70000" d="M180.2 74.4l.6 2.3 2.3-2.4-.5-2.3z"/>
<path color="#f70000" d="M180.8 76.7l.5 3.1 2.3-2.4-.5-3.1z"/>
<path color="#ff1800" d="M181.3 79.8l.5 3.1 2.4-2.4-.6-3.1z"/>
<path color="#ff3800" d="M181.8 82.9l.5 3.1 2.4-2.4-.5-3.1z"/>
<path color="#ff7800" d="M182.3 86l.5 3.1 2.4-2.4-.5-3.1z"/>
<path color="#ffc700" d="M182.8 89.1l.5 2.5 2.4-2.4-.5-2.5z"/>
<path color="#f7ff08" d="M183.3 91.6l.5 2.5 2.4-2.4-.5-2.5z"/>
<path color="#c7ff38" d="M183.8 94.1l.6 2.5 2.3-2.4-.5-2.5z"/>
<path color="#97ff68" d="M184.4 96.6l.5 2.5 2.3-2.4-.5-2.5z"/>
<path color="#68ff97" d="M184.9 99.1l.5 1.4 2.4-2.3-.6-1.5z"/>
<path color="#48ffb7" d="M185.4 100.5l.5 1.5 2.4-2.4-.5-1.4z"/>
<path color="#28ffd7" d="M185.9 102l.5 1.4 2.4-2.3-.5-1.5z"/>
<path color="#18ffe7" d="M186.4 103.4l.5 2 2.4-2.4-.5-1.9z"/>
<path color="#08fff7" d="M186.9 105.4l.5 1.1 2.4-2.4-.5-1.1z"/>
<path color="#00f7ff" d="M187.4 106.5l.6 1.1 2.3-2.3-.5-1.2z"/>
<path color="#00e7ff" d="M188 107.6l1 2.3 2.4-2.3-1.1-2.3z"/>
<path color="#d70000" d="M215.8 84l.5-.6 .8-.8-.5 2z"/>
<path color="#b70000" d="M216.8 82.8l.6-.5 .7-3.8-.5 2.1z"/>
<path color="#c70000" d="M217.4 82.3l.5 2.6 .8-4-.6-2.4z"/>
<path color="#d70000" d="M217.9 84.9l.5 2.6 .8-4.3-.5-2.3z"/>
<path color="#f70000" d="M218.4 87.5l.5 2.6 .8-4.5-.5-2.4z"/>
<path color="#ff0800" d="M218.9 90.1l.5 2.6 .8-4.8-.5-2.3z"/>
<path color="#ff2800" d="M219.4 92.7l.5 2.9 .8-4.6-.5-3.1z"/>
<path color="#ff4800" d="M219.9 95.6l.5 2.9 .8-4.4-.5-3.1z"/>
<path color="#ff9700" d="M220.4 98.5l.6 2.8 .7-4.1-.5-3.1z"/>
<path color="#ffe700" d="M221 101.3l.5 2.9 .8-3.9-.6-3.1z"/>
<path color="#d7ff28" d="M221.5 104.2l.5 2.2 .8-3.6-.5-2.5z"/>
<path color="#a7ff58" d="M222 106.4l.5 2.2 .8-3.3-.5-2.5z"/>
<path color="#78ff87" d="M222.5 108.6l.5 2.2 .8-2.9-.5-2.6z"/>
<path color="#48ffb7" d="M223 110.8l.5 2.3 .8-2.7-.5-2.5z"/>
<path color="#18ffe7" d="M223.5 113.1l.5 1.8 .8-3-.5-1.5z"/>
<path color="#08fff7" d="M224 114.9l.6 1.9 .8-2.9-.6-2z"/>
<path color="#00f7ff" d="M224.6 116.8l.5 1.9 .8-2.7-.5-2.1z"/>
<path color="#00e7ff" d="M225.1 118.7l.5 1.9 .8-2.5-.5-2.1z"/>
<path color="#d70000" d="M214.5 82.4l2.1 3.6 .8-3.7-2.1 2.3z"/>
<path color="#e70000" d="M216.6 86l.5 2.8 .8-3.9-.5-2.6z"/>
<path color="#f70000" d="M217.1 88.8l.5 2.9 .8-4.2-.5-2.6z"/>
<path color="#ff1800" d="M217.6 91.7l.5 2.8 .8-4.4-.5-2.6z"/>
<path color="#ff3800" d="M218.1 94.5l.5 2.9 .8-4.7-.5-2.6z"/>
<path color="#ff6800" d="M218.6 97.4l.5 2.7 .8-4.5-.5-2.9z"/>
<path color="#ffa700" d="M219.1 100.1l.5 2.7 .8-4.3-.5-2.9z"/>
<path color="#fff700" d="M219.7 102.8l.6 2.7 .8-4.2-.6-2.8z"/>
<path color="#c7ff38" d="M220.2 105.5l.5 2.7 .8-4-.5-2.9z"/>
<path color="#97ff68" d="M220.7 108.2l.5 1.9 .8-3.7-.5-2.2z"/>
<path color="#68ff97" d="M221.2 110.1l.5 1.8 .8-3.3-.5-2.2z"/>
<path color="#38ffc7" d="M221.7 111.9l.5 2 .8-3.1-.5-2.2z"/>
<path color="#18ffe7" d="M222.2 113.9l.5 2.6 .8-3.4-.5-2.3z"/>
<path color="#00f7ff" d="M222.7 116.5l.6 1.6 .7-3.2-.5-1.8z"/>
<path color="#00e7ff" d="M223.3 118.1l.5 1.7 .8-3-.6-1.9z"/>
<path color="#00d7ff" d="M223.8 119.8l.5 1.6 .8-2.7-.5-1.9z"/>
<path color="#00d7ff" d="M224.3 121.4l.5 1.7 .8-2.5-.5-1.9z"/>
<path color="#c70000" d="M213.7 80.3l.5 2.4 .8 .6-.5-.9z"/>
<path color="#d70000" d="M214.2 82.7l.5 2.3 .8-.8-.5-.9z"/>
<path color="#d70000" d="M214.7 85l.6 2.4 .7-2.3-.5-.9z"/>
<path color="#e70000" d="M215.3 87.4l.5 2.3 .8-3.7-.6-.9z"/>
<path color="#ff0800" d="M215.8 89.7l.5 3.1 .8-4-.5-2.8z"/>
<path color="#ff1800" d="M216.3 92.8l.5 3.1 .8-4.2-.5-2.9z"/>
<path color="#ff3800" d="M216.8 95.9l.5 3.1 .8-4.5-.5-2.8z"/>
<path color="#ff8700" d="M217.3 99l.5 3.1 .8-4.7-.5-2.9z"/>
<path color="#ffd700" d="M217.8 102.1l.5 2.5 .8-4.5-.5-2.7z"/>
<path color="#e7ff18" d="M218.3 104.6l.6 2.5 .7-4.3-.5-2.7z"/>
<path color="#b7ff48" d="M218.9 107.1l.5 2.5 .8-4.1-.6-2.7z"/>
<path color="#87ff78" d="M219.4 109.6l.5 2.6 .8-4-.5-2.7z"/>
<path color="#48ffb7" d="M219.9 112.2l.5 1.5 .8-3.6-.5-1.9z"/>
<path color="#28ffd7" d="M220.4 113.7l.5 2 .8-3.8-.5-1.8z"/>
<path color="#08fff7" d="M220.9 115.7l.5 2.1 .8-3.9-.5-2z"/>
<path color="#00f7ff" d="M221.4 117.8l.6 2.1 .7-3.4-.5-2.6z"/>
<path color="#00e7ff" d="M221.9 119.9l.5 1.4 .8-3.2-.6-1.6z"/>
<path color="#00d7ff" d="M222.5 121.3l.5 1.4 .8-2.9-.5-1.7z"/>
<path color="#00c7ff" d="M223 122.7l.5 1.4 .8-2.7-.5-1.6z"/>
<path color="#00b7ff" d="M223.5 124.1l.5 1.4 .8-2.4-.5-1.7z"/>
<path color="#00c7ff" d="M224 125.5l.5 .6 2.4-6.6-.5-1.4z"/>
<path color="#00b7ff" d="M224.5 126.1l1.1 1.2 2.3-4.9-1-2.9z"/>
<path color="#00a7ff" d="M225.6 127.3l.5 .6 2.3-4.1-.5-1.4z"/>
<path color="#0097ff" d="M226.1 127.9l1.5 1.2 2.4-3.4-1.6-1.9z"/>
<path color="#0087ff" d="M227.6 129.1l1.6 1 2.3-2.9-1.5-1.5z"/>
<path color="#0078ff" d="M229.2 130.1l3 1.8 2.4-2.6-3.1-2.1z"/>
<path color="#0068ff" d="M232.2 131.9l5.7 2.5 2.4-2.3-5.7-2.8z"/>
<path color="#0058ff" d="M237.9 134.4l5.7 1.6 2.4-2.2-5.7-1.7z"/>
<path color="#0068ff" d="M243.6 136l4.1 .4 2.4-2.3-4.1-.3z"/>
<path color="#0078ff" d="M247.7 136.4l3.6 .1 2.4-2.2-3.6-.2z"/>
<path color="#0087ff" d="M251.3 136.5l1.5 .3 2.6 .9 2.4-2-2.6-1.1-1.5-.3z"/>
<path color="#0078ff" d="M255.4 137.7l3.1 1.9 2.4-1.9-3.1-2z"/>
<path color="#0068ff" d="M258.5 139.6l2.1 1.6 2.3-2-2-1.5z"/>
<path color="#0058ff" d="M260.6 141.2l2 1.6 2.4-2.1-2.1-1.5z"/>
<path color="#0048ff" d="M262.6 142.8l2.1 1.4 2.4-2.1-2.1-1.4z"/>
<path color="#0038ff" d="M264.7 144.2l3.1 1.9 2.4-2.2-3.1-1.8z"/>
<path color="#0028ff" d="M267.8 146.1l5.6 2.3 7.3 1.7 2.3-2.3-7.2-1.6-5.6-2.3z"/>
<path color="#0038ff" d="M280.7 150.1l3.1 .8 2.3-2.2-3.1-.9z"/>
<path color="#0097ff" d="M118.1 97.9l6.2 1.1 2.4-2.4-6.2-1.2z"/>
<path color="#00a7ff" d="M124.3 99l3.6 0 2.4-2.2-3.6-.2z"/>
<path color="#00b7ff" d="M127.9 99l3.6-.6 2.4-2.1-3.6 .5z"/>
<path color="#38ffc7" d="M137.2 90l.5 .4 2.4-2-.5-.4z"/>
<path color="#28ffd7" d="M137.7 90.4l1.5 1.3 2.4-2.3-1.5-1z"/>
<path color="#18ffe7" d="M139.2 91.7l.6 1.5 2.3-2.4-.5-1.4z"/>
<path color="#08fff7" d="M139.8 93.2l.5 1.6 2.3-2.5-.5-1.5z"/>
<path color="#00f7ff" d="M140.3 94.8l.5 1.6 2.4-2.5-.6-1.6z"/>
<path color="#00e7ff" d="M140.8 96.4l.5 1.5 2.4-2.5-.5-1.5z"/>
<path color="#00d7ff" d="M141.3 97.9l1 2.1 2.4-2.4-1-2.2z"/>
<path color="#00c7ff" d="M142.3 100l1.1 2 .5 .4 2.3-2.3-.5-.4-1-2.1z"/>
<path color="#00b7ff" d="M143.9 102.4l3.6 2.7 2.4-2.4-3.7-2.6z"/>
<path color="#a70000" d="M177.4 71.4l.5-.5 .8-3.6-.5 2z"/>
<path color="#a70000" d="M177.9 70.9l.5 2.6 .8-3.8-.5-2.4z"/>
<path color="#c70000" d="M178.4 73.5l.5 2.6 .8-4.1-.5-2.3z"/>
<path color="#d70000" d="M178.9 76.1l.5 2.6 .8-4.3-.5-2.4z"/>
<path color="#f70000" d="M179.4 78.7l.6 2.6 .8-4.6-.6-2.3z"/>
<path color="#ff0800" d="M180 81.3l.5 2.9 .8-4.4-.5-3.1z"/>
<path color="#ff2800" d="M180.5 84.2l.5 2.9 .8-4.2-.5-3.1z"/>
<path color="#ff5800" d="M181 87.1l.5 2.8 .8-3.9-.5-3.1z"/>
<path color="#ffa700" d="M181.5 89.9l.5 2.9 .8-3.7-.5-3.1z"/>
<path color="#fff700" d="M182 92.8l.5 2.2 .8-3.4-.5-2.5z"/>
<path color="#d7ff28" d="M182.5 95l.5 2.2 .8-3.1-.5-2.5z"/>
<path color="#a7ff58" d="M183.1 97.2l.6 2.1 .8-2.7-.6-2.5z"/>
<path color="#78ff87" d="M183.6 99.3l.5 2.2 .8-2.4-.5-2.5z"/>
<path color="#58ffa7" d="M184.1 101.5l.5 1.3 .8-2.3-.5-1.4z"/>
<path color="#38ffc7" d="M184.6 102.8l.5 1.2 .8-2-.5-1.5z"/>
<path color="#18ffe7" d="M185.1 104l.5 1.7 .8-2.3-.5-1.4z"/>
<path color="#b70000" d="M175 70.9l2.1 3.5 .8-3.5-2.1 2.3z"/>
<path color="#c70000" d="M177.1 74.4l.5 2.9 .8-3.8-.5-2.6z"/>
<path color="#e70000" d="M177.6 77.3l.5 2.8 .8-4-.5-2.6z"/>
<path color="#f70000" d="M178.1 80.1l.6 2.9 .7-4.3-.5-2.6z"/>
<path color="#ff1800" d="M178.7 83l.5 2.8 .8-4.5-.6-2.6z"/>
<path color="#ff3800" d="M179.2 85.8l.5 2.7 .8-4.3-.5-2.9z"/>
<path color="#ff6800" d="M179.7 88.5l.5 2.7 .8-4.1-.5-2.9z"/>
<path color="#ffb700" d="M180.2 91.2l.5 2.7 .8-4-.5-2.8z"/>
<path color="#f7ff08" d="M180.7 93.9l.5 2.7 .8-3.8-.5-2.9z"/>
<path color="#c7ff38" d="M181.2 96.6l.5 1.8 .8-3.4-.5-2.2z"/>
<path color="#a7ff58" d="M181.7 98.4l.6 1.9 .7-3.1-.5-2.2z"/>
<path color="#78ff87" d="M182.3 100.3l.5 1.8 .8-2.8-.6-2.1z"/>
<path color="#48ffb7" d="M182.8 102.1l.5 1.8 .8-2.4-.5-2.2z"/>
<path color="#28ffd7" d="M183.3 103.9l.5 1.2 .8-2.3-.5-1.3z"/>
<path color="#18ffe7" d="M183.8 105.1l.5 1.5 .8-2.6-.5-1.2z"/>
<path color="#08fff7" d="M184.3 106.6l.5 1.4 .8-2.3-.5-1.7z"/>
<path color="#a70000" d="M174.3 68.6l.5 2.3 .8 .9-.6-.9z"/>
<path color="#b70000" d="M174.8 70.9l.5 2.4 .8-.6-.5-.9z"/>
<path color="#c70000" d="M175.3 73.3l.5 2.4 .8-2.2-.5-.8z"/>
<path color="#d70000" d="M175.8 75.7l.5 2.3 .8-3.6-.5-.9z"/>
<path color="#e70000" d="M176.3 78l.5 3.1 .8-3.8-.5-2.9z"/>
<path color="#ff0800" d="M176.8 81.1l.6 3.1 .7-4.1-.5-2.8z"/>
<path color="#ff2800" d="M177.4 84.2l.5 3.1 .8-4.3-.6-2.9z"/>
<path color="#ff3800" d="M177.9 87.3l.5 3 .8-4.5-.5-2.8z"/>
<path color="#ff8700" d="M178.4 90.3l.5 2.6 .8-4.4-.5-2.7z"/>
<path color="#ffd700" d="M178.9 92.9l.5 2.5 .8-4.2-.5-2.7z"/>
<path color="#e7ff18" d="M179.4 95.4l.5 2.5 .8-4-.5-2.7z"/>
<path color="#b7ff48" d="M179.9 97.9l.5 2.5 .8-3.8-.5-2.7z"/>
<path color="#87ff78" d="M180.4 100.4l.6 1.5 .7-3.5-.5-1.8z"/>
<path color="#68ff97" d="M181 101.9l.5 1.5 .8-3.1-.6-1.9z"/>
<path color="#48ffb7" d="M181.5 103.4l.5 1.4 .8-2.7-.5-1.8z"/>
<path color="#28ffd7" d="M182 104.8l.5 2 .8-2.9-.5-1.8z"/>
<path color="#08fff7" d="M182.5 106.8l.5 1.2 .8-2.9-.5-1.2z"/>
<path color="#00f7ff" d="M183 108l1 2.4 .8-2.4-1-2.9z"/>
<path color="#00f7ff" d="M184 110.4l.6 1.2 2.3-6.2-.5-2z"/>
<path color="#00e7ff" d="M184.6 111.6l1.5 1.7 2.4-4.5-1.6-3.4z"/>
<path color="#00d7ff" d="M186.1 113.3l1.5 1.3 2.4-3.6-1-1.1-.5-1.1z"/>
<path color="#b70000" d="M211.3 82.3l.6 2.3 2.3-1.9-.5-2.4z"/>
<path color="#c70000" d="M211.9 84.6l.5 2.4 2.3-2-.5-2.3z"/>
<path color="#e70000" d="M212.4 87l.5 2.3 2.4-1.9-.6-2.4z"/>
<path color="#f70000" d="M212.9 89.3l.5 2.4 2.4-2-.5-2.3z"/>
<path color="#ff1800" d="M213.4 91.7l.5 3.1 2.4-2-.5-3.1z"/>
<path color="#ff2800" d="M213.9 94.8l.5 3 2.4-1.9-.5-3.1z"/>
<path color="#ff6800" d="M214.4 97.8l.5 3.1 2.4-1.9-.5-3.1z"/>
<path color="#ffb700" d="M214.9 100.9l.6 3.1 2.3-1.9-.5-3.1z"/>
<path color="#f7ff08" d="M215.5 104l.5 2.5 2.3-1.9-.5-2.5z"/>
<path color="#c7ff38" d="M216 106.5l.5 2.6 2.4-2-.6-2.5z"/>
<path color="#97ff68" d="M216.5 109.1l.5 2.5 2.4-2-.5-2.5z"/>
<path color="#58ffa7" d="M217 111.6l.5 2.5 2.4-1.9-.5-2.6z"/>
<path color="#28ffd7" d="M217.5 114.1l.5 1.6 2.4-2-.5-1.5z"/>
<path color="#18ffe7" d="M218 115.7l.6 1.9 2.3-1.9-.5-2z"/>
<path color="#00f7ff" d="M218.6 117.6l.5 2.1 2.3-1.9-.5-2.1z"/>
<path color="#00e7ff" d="M219.1 119.7l.5 2.2 2.4-2-.6-2.1z"/>
<path color="#00d7ff" d="M219.6 121.9l.5 1.4 2.4-2-.5-1.4z"/>
<path color="#00c7ff" d="M220.1 123.3l1 2.9 2.4-2.1-1-2.8z"/>
<path color="#00b7ff" d="M221.1 126.2l.5 1.4 2.4-2.1-.5-1.4z"/>
<path color="#00a7ff" d="M221.6 127.6l1.1 1.3 2.3-2.2-1-1.2z"/>
<path color="#0097ff" d="M222.7 128.9l1 1.3 2.4-2.3-1.1-1.2z"/>
<path color="#0087ff" d="M223.7 130.2l2.1 1.6 2.3-2.3-2-1.6z"/>
<path color="#0078ff" d="M225.8 131.8l2.5 1.6 2.4-2.3-2.6-1.6z"/>
<path color="#0068ff" d="M228.3 133.4l4.7 2.4 2.3-2.5-4.6-2.2z"/>
<path color="#0058ff" d="M233 135.8l5.1 1.9 4.7 1.1 2.3-2.5-4.6-1.1-5.2-1.9z"/>
<path color="#0068ff" d="M242.8 138.8l3.6 .2 2.3-2.6-3.6-.1z"/>
<path color="#0078ff" d="M246.4 139l4.1 .3 2.3-2.5-4.1-.4z"/>
<path color="#0087ff" d="M250.5 139.3l.5 .2 2.4-2.5-.6-.2z"/>
<path color="#0078ff" d="M251 139.5l1.5 .5 3.1 1.7 2.4-2.4-3.1-1.8-1.5-.5z"/>
<path color="#0068ff" d="M255.6 141.7l2.1 1.5 2.4-2.4-2.1-1.5z"/>
<path color="#0058ff" d="M257.7 143.2l2.1 1.6 2.3-2.4-2-1.6z"/>
<path color="#0048ff" d="M259.8 144.8l2 1.5 2.4-2.4-2.1-1.5z"/>
<path color="#0038ff" d="M261.8 146.3l3.1 1.9 2.4-2.4-3.1-1.9z"/>
<path color="#0028ff" d="M264.9 148.2l6.2 2.6 10.3 2.5 2.4-2.4-10.4-2.5-6.1-2.6z"/>
<path color="#0097ff" d="M115.8 99.8l5.6 .8 2.4-1.6-5.7-1.1z"/>
<path color="#00a7ff" d="M121.4 100.6l3.1-.1 2.4-1.4-3.1-.1z"/>
<path color="#00b7ff" d="M124.5 100.5l3.6-.7 2.4-1-3.6 .3z"/>
<path color="#38ffc7" d="M134.3 91.6l.5-.4 1 1.1 2.4-1.4-1-.9-.5 .5z"/>
<path color="#28ffd7" d="M135.8 92.3l1.1 1.1 2.3-1.7-1-.8z"/>
<path color="#18ffe7" d="M136.9 93.4l.5 1.3 2.4-1.5-.6-1.5z"/>
<path color="#08fff7" d="M137.4 94.7l.5 1.7 2.4-1.6-.5-1.6z"/>
<path color="#00f7ff" d="M137.9 96.4l.5 1.6 2.4-1.6-.5-1.6z"/>
<path color="#00e7ff" d="M138.4 98l1 2.6 2.4-1.6-1-2.6z"/>
<path color="#00d7ff" d="M139.4 100.6l1.1 1.8 2.3-1.4-1-2z"/>
<path color="#00c7ff" d="M140.5 102.4l.5 1 1 .8 2.4-1.3-1-.9-.6-1z"/>
<path color="#00b7ff" d="M142 104.2l3.6 2.8 2.4-1.6-3.6-2.5z"/>
<path color="#970000" d="M171.9 69.9l.5 2.4 2.4-1.4-.5-2.3z"/>
<path color="#a70000" d="M172.4 72.3l.5 2.3 2.4-1.3-.5-2.4z"/>
<path color="#c70000" d="M172.9 74.6l.5 2.4 2.4-1.3-.5-2.4z"/>
<path color="#d70000" d="M173.4 77l.6 2.4 2.3-1.4-.5-2.3z"/>
<path color="#f70000" d="M173.9 79.4l.5 3 2.3-1.3-.5-3.1z"/>
<path color="#ff1800" d="M174.5 82.4l.5 3.1 2.4-1.3-.6-3.1z"/>
<path color="#ff2800" d="M175 85.5l.5 3.1 2.4-1.3-.5-3.1z"/>
<path color="#ff6800" d="M175.5 88.6l.5 3.1 2.4-1.4-.5-3z"/>
<path color="#ffb700" d="M176 91.7l.5 2.5 2.4-1.3-.5-2.6z"/>
<path color="#fff700" d="M176.5 94.2l.5 2.5 2.4-1.3-.5-2.5z"/>
<path color="#d7ff28" d="M177 96.7l.6 2.5 2.3-1.3-.5-2.5z"/>
<path color="#97ff68" d="M177.6 99.2l.5 2.6 2.3-1.4-.5-2.5z"/>
<path color="#78ff87" d="M178.1 101.8l.5 1.5 2.4-1.4-.6-1.5z"/>
<path color="#58ffa7" d="M178.6 103.3l.5 1.5 2.4-1.4-.5-1.5z"/>
<path color="#38ffc7" d="M179.1 104.8l.5 1.5 2.4-1.5-.5-1.4z"/>
<path color="#18ffe7" d="M179.6 106.3l.5 1.6 2.4-1.1-.5-2z"/>
<path color="#08fff7" d="M180.1 107.9l.5 1.3 2.4-1.2-.5-1.2z"/>
<path color="#00f7ff" d="M180.6 109.2l1.1 2.5 2.3-1.3-1-2.4z"/>
<path color="#00e7ff" d="M181.7 111.7l.5 1.3 2.4-1.4-.6-1.2z"/>
<path color="#00d7ff" d="M182.2 113l2 2.5 2.4-1.6-2-2.3z"/>
<path color="#00c7ff" d="M184.2 115.5l6.2 3.8 2.4-1.9-6.2-3.5z"/>
<path color="#d70000" d="M209.5 90.2l.5-2.3 .8-3.6-.5 2z"/>
<path color="#b70000" d="M210.6 85.6l.5 .9 .8-1.9-.6-2.3z"/>
<path color="#c70000" d="M211.1 86.5l.5 .9 .8-.4-.5-2.4z"/>
<path color="#d70000" d="M211.6 87.4l.5 .9 .8 1-.5-2.3z"/>
<path color="#e70000" d="M212.1 88.3l.5 .9 .8 2.5-.5-2.4z"/>
<path color="#ff0800" d="M212.6 89.2l.5 2.8 .8 2.8-.5-3.1z"/>
<path color="#ff1800" d="M213.1 92l.5 2.9 .8 2.9-.5-3z"/>
<path color="#ff3800" d="M213.6 94.9l.6 2.8 .7 3.2-.5-3.1z"/>
<path color="#ff7800" d="M214.2 97.7l.5 2.9 .8 3.4-.6-3.1z"/>
<path color="#ffc700" d="M214.7 100.6l.5 2.7 .8 3.2-.5-2.5z"/>
<path color="#f7ff08" d="M215.2 103.3l.5 2.7 .8 3.1-.5-2.6z"/>
<path color="#b7ff48" d="M215.7 106l.5 2.7 .8 2.9-.5-2.5z"/>
<path color="#87ff78" d="M216.2 108.7l.5 2.7 .8 2.7-.5-2.5z"/>
<path color="#58ffa7" d="M216.7 111.4l.5 1.9 .8 2.4-.5-1.6z"/>
<path color="#38ffc7" d="M217.2 113.3l.6 1.9 .8 2.4-.6-1.9z"/>
<path color="#18ffe7" d="M217.8 115.2l.5 1.9 .8 2.6-.5-2.1z"/>
<path color="#00f7ff" d="M218.3 117.1l.5 2.5 .8 2.3-.5-2.2z"/>
<path color="#00e7ff" d="M218.8 119.6l.5 1.7 .8 2-.5-1.4z"/>
<path color="#00d7ff" d="M219.3 121.3l.5 1.7 .8 1.8-.5-1.5z"/>
<path color="#00c7ff" d="M219.8 123l1 3.3 .8 1.3-1-2.8z"/>
<path color="#00b7ff" d="M220.8 126.3l.6 1.1 .8 .8-.6-.6z"/>
<path color="#00a7ff" d="M221.4 127.4l.5 1 .8 .5-.5-.7z"/>
<path color="#d70000" d="M209.2 91.6l.6-2.6 .8-3.4-.6 2.3z"/>
<path color="#d70000" d="M209.8 89l2-2.3 .8 2.5-2-3.6z"/>
<path color="#d70000" d="M211.8 86.7l.5 2.6 .8 2.7-.5-2.8z"/>
<path color="#f70000" d="M212.3 89.3l.5 2.6 .8 3-.5-2.9z"/>
<path color="#ff1800" d="M212.8 91.9l.6 2.6 .8 3.2-.6-2.8z"/>
<path color="#ff2800" d="M213.4 94.5l.5 2.6 .8 3.5-.5-2.9z"/>
<path color="#ff5800" d="M213.9 97.1l.5 2.9 .8 3.3-.5-2.7z"/>
<path color="#ffa700" d="M214.4 100l.5 2.9 .8 3.1-.5-2.7z"/>
<path color="#ffe700" d="M214.9 102.9l.5 2.9 .8 2.9-.5-2.7z"/>
<path color="#d7ff28" d="M215.4 105.8l.5 2.9 .8 2.7-.5-2.7z"/>
<path color="#a7ff58" d="M215.9 108.7l.6 2.2 .7 2.4-.5-1.9z"/>
<path color="#78ff87" d="M216.5 110.9l.5 2.2 .8 2.1-.6-1.9z"/>
<path color="#48ffb7" d="M217 113.1l.5 2.2 .8 1.8-.5-1.9z"/>
<path color="#28ffd7" d="M217.5 115.3l.5 2.2 .8 2.1-.5-2.5z"/>
<path color="#08fff7" d="M218 117.5l.5 1.8 .8 2-.5-1.7z"/>
<path color="#00f7ff" d="M218.5 119.3l.5 1.9 .8 1.8-.5-1.7z"/>
<path color="#00e7ff" d="M219 121.2l.5 1.9 .8 1.5-.5-1.6z"/>
<path color="#00d7ff" d="M219.5 123.1l.6 1.9 .7 1.3-.5-1.7z"/>
<path color="#00c7ff" d="M220.1 125l.5 1.3 .8 1.1-.6-1.1z"/>
<path color="#00b7ff" d="M220.6 126.3l.5 1.2 .8 .9-.5-1z"/>
<path color="#b70000" d="M211 84.3l.5 2.3 .8 2.7-.5-2.6z"/>
<path color="#d70000" d="M211.5 86.6l.6 2.4 .7 2.9-.5-2.6z"/>
<path color="#e70000" d="M212.1 89l.5 2.3 .8 3.2-.6-2.6z"/>
<path color="#ff0800" d="M212.6 91.3l.5 2.4 .8 3.4-.5-2.6z"/>
<path color="#ff1800" d="M213.1 93.7l.5 3.1 .8 3.2-.5-2.9z"/>
<path color="#ff3800" d="M213.6 96.8l.5 3.1 .8 3-.5-2.9z"/>
<path color="#ff8700" d="M214.1 99.9l.5 3 .8 2.9-.5-2.9z"/>
<path color="#ffd700" d="M214.6 102.9l.6 3.1 .7 2.7-.5-2.9z"/>
<path color="#e7ff18" d="M215.2 106l.5 2.6 .8 2.3-.6-2.2z"/>
<path color="#b7ff48" d="M215.7 108.6l.5 2.5 .8 2-.5-2.2z"/>
<path color="#87ff78" d="M216.2 111.1l.5 2.5 .8 1.7-.5-2.2z"/>
<path color="#58ffa7" d="M216.7 113.6l.5 2.5 .8 1.4-.5-2.2z"/>
<path color="#28ffd7" d="M217.2 116.1l.5 1.6 .8 1.6-.5-1.8z"/>
<path color="#18ffe7" d="M217.7 117.7l.5 1.7 .8 1.8-.5-1.9z"/>
<path color="#00f7ff" d="M218.2 119.4l.6 2.1 .7 1.6-.5-1.9z"/>
<path color="#00e7ff" d="M218.8 121.5l.5 2.2 .8 1.3-.6-1.9z"/>
<path color="#00d7ff" d="M219.3 123.7l.5 1.5 .8 1.1-.5-1.3z"/>
<path color="#00c7ff" d="M219.8 125.2l.5 1.4 .8 .9-.5-1.2z"/>
<path color="#00b7ff" d="M220.3 126.6l.5 1.5 2.4 1.4-.5-.6z"/>
<path color="#00a7ff" d="M220.8 128.1l1 2.4 2.4 .1-1-1.1z"/>
<path color="#0097ff" d="M221.8 130.5l1.1 1.3 2.3-.4-1-.8z"/>
<path color="#0087ff" d="M222.9 131.8l1.5 1.5 2.4-.8-1.6-1.1z"/>
<path color="#0078ff" d="M224.4 133.3l2.6 2 2.4-1.3-2.6-1.5z"/>
<path color="#0068ff" d="M227 135.3l4.6 2.6 2.4-1.6-4.6-2.3z"/>
<path color="#0058ff" d="M231.6 137.9l4.2 1.7 5.1 1.1 2.4-1.8-3.1-.6-6.2-2z"/>
<path color="#0068ff" d="M240.9 140.7l3.1 .2 2.4-1.9-3.1-.1z"/>
<path color="#0078ff" d="M244 140.9l4.1 .3 2.1 .7 3.1 1.7 2.3-1.9-3.1-1.7-2-.7-4.1-.3z"/>
<path color="#0068ff" d="M253.3 143.6l2 1.5 2.4-1.9-2.1-1.5z"/>
<path color="#0058ff" d="M255.3 145.1l2.1 1.5 2.4-1.8-2.1-1.6z"/>
<path color="#0048ff" d="M257.4 146.6l2.6 1.8 2.3-1.8-2.5-1.8z"/>
<path color="#0038ff" d="M260 148.4l3 1.8 2.4-1.7-3.1-1.9z"/>
<path color="#0028ff" d="M263 150.2l5.7 2.3 8.3 2 2.3-1.8-8.2-1.9-5.7-2.3z"/>
<path color="#0038ff" d="M276.9 154.5l2 .6 2.4-1.8-2.1-.6z"/>
<path color="#0097ff" d="M113.4 102.2l5.1 .8 2.4-2.4-5.1-.8z"/>
<path color="#00a7ff" d="M118.5 103l3.1 0 2.4-2.5-3.1 .1z"/>
<path color="#00b7ff" d="M121.6 103l3.1-.5 2.4-2.5-3.1 .5z"/>
<path color="#00c7ff" d="M124.7 102.5l1.6-.3 1-.5 2.4-2.9-1.1 .9-1.5 .3z"/>
<path color="#18ffe7" d="M130.4 96.4l.5-.9 2.4-3.1-.5 .4z"/>
<path color="#28ffd7" d="M130.9 95.5l.5-.7 2.4-2.8-.5 .4z"/>
<path color="#38ffc7" d="M131.4 94.8l.5-.6 2.4-2.6-.5 .4z"/>
<path color="#48ffb7" d="M131.9 94.2l.5-.7 1.1 .6 2.3-1.8-1-1.1-.5 .4z"/>
<path color="#38ffc7" d="M133.5 94.1l1 .5 2.4-1.2-1.1-1.1z"/>
<path color="#28ffd7" d="M134.5 94.6l.5 1.1 2.4-1-.5-1.3z"/>
<path color="#18ffe7" d="M135 95.7l.5 1.2 2.4-.5-.5-1.7z"/>
<path color="#08fff7" d="M135.5 96.9l.5 1.4 2.4-.3-.5-1.6z"/>
<path color="#00f7ff" d="M136 98.3l.6 1.5 2.3-.2-.5-1.6z"/>
<path color="#00e7ff" d="M136.6 99.8l1 2.6 2.4-.9-1.1-1.9z"/>
<path color="#00d7ff" d="M137.6 102.4l1 2.6 2.4-1.6-1-1.9z"/>
<path color="#00c7ff" d="M138.6 105l2.1 1.9 2.3-1.9-2-1.6z"/>
<path color="#00b7ff" d="M140.7 106.9l3.6 2.8 2.4-2-3.7-2.7z"/>
<path color="#970000" d="M169.5 72.2l.5 2.4 2.4-2.3-.5-2.4z"/>
<path color="#a70000" d="M170 74.6l.6 2.4 2.3-2.4-.5-2.3z"/>
<path color="#c70000" d="M170.6 77l.5 2.3 2.3-2.3-.5-2.4z"/>
<path color="#d70000" d="M171.1 79.3l.5 2.4 2.4-2.3-.6-2.4z"/>
<path color="#f70000" d="M171.6 81.7l.5 3 2.4-2.3-.5-3z"/>
<path color="#ff0800" d="M172.1 84.7l.5 3.1 2.4-2.3-.5-3.1z"/>
<path color="#ff2800" d="M172.6 87.8l.5 3.1 2.4-2.3-.5-3.1z"/>
<path color="#ff5800" d="M173.1 90.9l.5 3.1 2.4-2.3-.5-3.1z"/>
<path color="#ffa700" d="M173.6 94l.6 2.5 2.3-2.3-.5-2.5z"/>
<path color="#ffe700" d="M174.2 96.5l.5 2.5 2.3-2.3-.5-2.5z"/>
<path color="#d7ff28" d="M174.7 99l.5 2.6 2.4-2.4-.6-2.5z"/>
<path color="#a7ff58" d="M175.2 101.6l.5 2.5 2.4-2.3-.5-2.6z"/>
<path color="#78ff87" d="M175.7 104.1l.5 1.5 2.4-2.3-.5-1.5z"/>
<path color="#58ffa7" d="M176.2 105.6l.5 1.5 2.4-2.3-.5-1.5z"/>
<path color="#38ffc7" d="M176.7 107.1l.5 1.5 2.4-2.3-.5-1.5z"/>
<path color="#18ffe7" d="M177.2 108.6l.6 1.7 2.3-2.4-.5-1.6z"/>
<path color="#08fff7" d="M177.8 110.3l.5 1.3 2.3-2.4-.5-1.3z"/>
<path color="#00f7ff" d="M178.3 111.6l1 2.5 2.4-2.4-1.1-2.5z"/>
<path color="#00e7ff" d="M179.3 114.1l1 1.9 2.4-2.4-1-1.9z"/>
<path color="#00d7ff" d="M180.3 116l2.1 2.3 2.4-2.4-2.1-2.3z"/>
<path color="#00c7ff" d="M182.4 118.3l5.7 3.5 2.3-2.5-5.6-3.4z"/>
<path color="#b70000" d="M210.2 88l.6 .9 .7-2.3-.5-2.3z"/>
<path color="#c70000" d="M210.8 88.9l.5 .9 .8-.8-.6-2.4z"/>
<path color="#d70000" d="M211.3 89.8l.5 .8 .8 .7-.5-2.3z"/>
<path color="#e70000" d="M211.8 90.6l.5 .9 .8 2.2-.5-2.4z"/>
<path color="#f70000" d="M212.3 91.5l.5 2.9 .8 2.4-.5-3.1z"/>
<path color="#ff1800" d="M212.8 94.4l.5 2.8 .8 2.7-.5-3.1z"/>
<path color="#ff3800" d="M213.3 97.2l.5 2.9 .8 2.8-.5-3z"/>
<path color="#ff6800" d="M213.8 100.1l.6 2.8 .8 3.1-.6-3.1z"/>
<path color="#ffb700" d="M214.4 102.9l.5 2.7 .8 3-.5-2.6z"/>
<path color="#fff700" d="M214.9 105.6l.5 2.7 .8 2.8-.5-2.5z"/>
<path color="#c7ff38" d="M215.4 108.3l.5 2.7 .8 2.6-.5-2.5z"/>
<path color="#97ff68" d="M215.9 111l.5 2.8 .8 2.3-.5-2.5z"/>
<path color="#68ff97" d="M216.4 113.8l.5 1.8 .8 2.1-.5-1.6z"/>
<path color="#38ffc7" d="M216.9 115.6l.5 1.9 .8 1.9-.5-1.7z"/>
<path color="#18ffe7" d="M217.5 117.5l.6 1.9 .8 2.1-.6-2.1z"/>
<path color="#08fff7" d="M218 119.4l.5 2.4 .8 1.9-.5-2.2z"/>
<path color="#00e7ff" d="M218.5 121.8l.5 1.7 .8 1.7-.5-1.5z"/>
<path color="#00e7ff" d="M219 123.5l.5 1.7 .8 1.4-.5-1.4z"/>
<path color="#00d7ff" d="M219.5 125.2l.5 1.7 .8 1.2-.5-1.5z"/>
<path color="#00c7ff" d="M220 126.9l.5 1.8 .8 .9-.5-1.5z"/>
<path color="#d70000" d="M211.5 89.4l.5 2.6 .8 2.4-.5-2.9z"/>
<path color="#f70000" d="M212 92l.5 2.6 .8 2.6-.5-2.8z"/>
<path color="#ff0800" d="M212.5 94.6l.6 2.6 .7 2.9-.5-2.9z"/>
<path color="#ff2800" d="M213.1 97.2l.5 2.6 .8 3.1-.6-2.8z"/>
<path color="#ff4800" d="M213.6 99.8l.5 2.9 .8 2.9-.5-2.7z"/>
<path color="#ff9700" d="M214.1 102.7l.5 2.9 .8 2.7-.5-2.7z"/>
<path color="#ffe700" d="M214.6 105.6l.5 2.9 .8 2.5-.5-2.7z"/>
<path color="#d7ff28" d="M215.1 108.5l.5 2.9 .8 2.4-.5-2.8z"/>
<path color="#a7ff58" d="M215.6 111.4l.5 2.2 .8 2-.5-1.8z"/>
<path color="#78ff87" d="M216.1 113.6l.6 2.2 .7 1.7-.5-1.9z"/>
<path color="#58ffa7" d="M216.7 115.8l.5 2.2 .8 1.4-.6-1.9z"/>
<path color="#28ffd7" d="M217.2 118l.5 2.2 .8 1.6-.5-2.4z"/>
<path color="#08fff7" d="M217.7 120.2l.5 1.7 .8 1.6-.5-1.7z"/>
<path color="#00f7ff" d="M218.2 121.9l.5 1.9 .8 1.4-.5-1.7z"/>
<path color="#00e7ff" d="M218.7 123.8l.5 2 .8 1.1-.5-1.7z"/>
<path color="#00d7ff" d="M219.2 125.8l.6 1.9 .7 1-.5-1.8z"/>
<path color="#b70000" d="M210.7 87.2l.5 2.4 .8 2.4-.5-2.6z"/>
<path color="#d70000" d="M211.2 89.6l.6 2.3 .7 2.7-.5-2.6z"/>
<path color="#e70000" d="M211.8 91.9l.5 2.4 .8 2.9-.6-2.6z"/>
<path color="#ff0800" d="M212.3 94.3l.5 2.3 .8 3.2-.5-2.6z"/>
<path color="#ff1800" d="M212.8 96.6l.5 3.1 .8 3-.5-2.9z"/>
<path color="#ff3800" d="M213.3 99.7l.5 3.1 .8 2.8-.5-2.9z"/>
<path color="#ff8700" d="M213.8 102.8l.5 3.1 .8 2.6-.5-2.9z"/>
<path color="#ffd700" d="M214.3 105.9l.5 3.1 .8 2.4-.5-2.9z"/>
<path color="#e7ff18" d="M214.8 109l.6 2.5 .7 2.1-.5-2.2z"/>
<path color="#b7ff48" d="M215.4 111.5l.5 2.5 .8 1.8-.6-2.2z"/>
<path color="#87ff78" d="M215.9 114l.5 2.6 .8 1.4-.5-2.2z"/>
<path color="#58ffa7" d="M216.4 116.6l.5 2.5 .8 1.1-.5-2.2z"/>
<path color="#28ffd7" d="M216.9 119.1l.5 1.6 .8 1.2-.5-1.7z"/>
<path color="#18ffe7" d="M217.4 120.7l.5 1.7 .8 1.4-.5-1.9z"/>
<path color="#00f7ff" d="M217.9 122.4l.5 2.2 .8 1.2-.5-2z"/>
<path color="#00e7ff" d="M218.4 124.6l.6 2.1 .8 1-.6-1.9z"/>
<path color="#00c7ff" d="M219 126.7l1 3 2.4 1.4-1.1-1.5z"/>
<path color="#00b7ff" d="M220 129.7l.5 1.5 2.4 .6-.5-.7z"/>
<path color="#00a7ff" d="M220.5 131.2l1 2.3 2.4-.6-1-1.1z"/>
<path color="#0097ff" d="M221.5 133.5l1.1 1.3 2.3-1-1-.9z"/>
<path color="#0087ff" d="M222.6 134.8l2 2 2.4-1.5-2.1-1.5z"/>
<path color="#0078ff" d="M224.6 136.8l2.1 1.5 2.4-1.8-2.1-1.2z"/>
<path color="#0068ff" d="M226.7 138.3l4.6 2.6 2.4-2.1-4.6-2.3z"/>
<path color="#0058ff" d="M231.3 140.9l4.1 1.6 2.6 .6 2.4-2.4-2.6-.5-4.1-1.4z"/>
<path color="#0068ff" d="M238 143.1l4.1 .3 2.4-2.5-4.1-.2z"/>
<path color="#0078ff" d="M242.1 143.4l3.6 .2 2.1 .6 3.6 1.9 2.4-2.1-3.6-2.1-2.1-.7-3.6-.3z"/>
<path color="#0068ff" d="M251.4 146.1l2.1 1.6 2.3-2.2-2-1.5z"/>
<path color="#0058ff" d="M253.5 147.7l2 1.5 2.4-2.2-2.1-1.5z"/>
<path color="#0048ff" d="M255.5 149.2l2.1 1.5 2.4-2.3-2.1-1.4z"/>
<path color="#0038ff" d="M257.6 150.7l3.6 2.1 2.4-2.3-3.6-2.1z"/>
<path color="#0028ff" d="M261.2 152.8l5.1 2 6.2 1.5 2.4-2.4-6.2-1.4-5.1-2z"/>
<path color="#0038ff" d="M272.5 156.3l4.1 1.1 2.4-2.3-4.1-1.2z"/>
<path color="#0087ff" d="M111 104.6l1 .2 2.4-2.4-1-.2z"/>
<path color="#0097ff" d="M112 104.8l5.7 .9 2.4-2.7-5.7-.6z"/>
<path color="#00a7ff" d="M117.7 105.7l2.6 0 2.4-2.8-2.6 .1z"/>
<path color="#00b7ff" d="M120.3 105.7l3.6-.3 2.4-3.2-3.6 .7z"/>
<path color="#18ffe7" d="M128.5 100.1l.5-1.2 2.4-4.1-.5 .7z"/>
<path color="#28ffd7" d="M129 98.9l.6-1.1 2.3-3.6-.5 .6z"/>
<path color="#38ffc7" d="M129.6 97.8l.5-.8 2-.1 .5 .8 2.4-2-.5-1.1-2.1-1.1-.5 .7z"/>
<path color="#28ffd7" d="M132.6 97.7l.6 .9 2.3-1.7-.5-1.2z"/>
<path color="#18ffe7" d="M133.2 98.6l.5 1 2.3-1.3-.5-1.4z"/>
<path color="#08fff7" d="M133.7 99.6l.5 1.2 2.4-1-.6-1.5z"/>
<path color="#00f7ff" d="M134.2 100.8l.5 1.5 2.4-1.2-.5-1.3z"/>
<path color="#00e7ff" d="M134.7 102.3l1 3.1 2.4-1.7-1-2.6z"/>
<path color="#00d7ff" d="M135.7 105.4l.5 1.5 2.4-1.9-.5-1.3z"/>
<path color="#00c7ff" d="M136.2 106.9l2.1 2.5 2.4-2.5-2.1-1.9z"/>
<path color="#00b7ff" d="M138.3 109.4l3.6 2.7 2.4-2.4-3.6-2.8z"/>
<path color="#00a7ff" d="M141.9 112.1l3.6 2.1 2.4-2.5-3.6-2z"/>
<path color="#d70000" d="M167.5 83.2l.5-2.1 .5-4.8-.5 2.1z"/>
<path color="#c70000" d="M168 81.1l.5-2.1 .5-4.7-.5 2z"/>
<path color="#a70000" d="M168.5 79l.5-2.1 .5-4.7-.5 2.1z"/>
<path color="#a70000" d="M169 76.9l.6 1.4 .4-3.7-.5-2.4z"/>
<path color="#b70000" d="M169.6 78.3l.5 1.3 .5-2.6-.6-2.4z"/>
<path color="#00d7ff" d="M180.4 115.5l1.5 2.3 .5 .5-1.6-1.6z"/>
<path color="#d70000" d="M168.1 83.7l.5-2.1 .4-4.7-.5 2.1z"/>
<path color="#c70000" d="M168.6 81.6l.5 .3 .5-3.6-.6-1.4z"/>
<path color="#28ffd7" d="M177.9 108.6l.5 1.9 .5 1.4-.5-1.8z"/>
<path color="#00f7ff" d="M179.4 113.1l.5 1.5 .5 .9-.5-1.2z"/>
<path color="#00e7ff" d="M179.9 114.6l1.1 2.3 .4 .5-1-1.9z"/>
<path color="#87ff78" d="M176.9 105l.5 2.2 .5 1.4-.5-1.8z"/>
<path color="#58ffa7" d="M177.4 107.2l.5 2.2 .5 1.1-.5-1.9z"/>
<path color="#18ffe7" d="M178.4 110.7l.6 1.3 .4 1.1-.5-1.5z"/>
<path color="#08fff7" d="M179 112l.5 1.6 .4 1-.5-1.5z"/>
<path color="#00f7ff" d="M179.5 113.6l.5 1.8 .5 .6-.6-1.4z"/>
<path color="#00e7ff" d="M180 115.4l.5 1 .5 .5-.5-.9z"/>
<path color="#ffa700" d="M174.9 95.2l.5 3 .5 2.4-.6-2.8z"/>
<path color="#ffe700" d="M175.4 98.2l.5 2.6 .5 2-.5-2.2z"/>
<path color="#d7ff28" d="M175.9 100.8l.5 2.5 .5 1.7-.5-2.2z"/>
<path color="#a7ff58" d="M176.4 103.3l.5 2.5 .5 1.4-.5-2.2z"/>
<path color="#78ff87" d="M176.9 105.8l.5 2.5 .5 1.1-.5-2.2z"/>
<path color="#58ffa7" d="M177.4 108.3l.6 1.5 .4 .9-.5-1.3z"/>
<path color="#38ffc7" d="M178 109.8l.5 1.5 .5 .7-.6-1.3z"/>
<path color="#18ffe7" d="M178.5 111.3l.5 1.5 .5 .8-.5-1.6z"/>
<path color="#08fff7" d="M179 112.8l.5 2 .5 .6-.5-1.8z"/>
<path color="#00e7ff" d="M180 116l.5 1.2 2.4 1.5-.5-.4z"/>
<path color="#00d7ff" d="M180.5 117.2l1.6 3.1 2.4-.6-1.6-1z"/>
<path color="#00c7ff" d="M182.1 120.3l1.5 1.8 2.1 1.5 2.4-1.8-3.6-2.1z"/>
<path color="#00b7ff" d="M185.7 123.6l4.1 2.4 4.1 1.8 2.1 .6 2-.6 2.4-2.9-2 .8-2.1-.3-4.1-1.6-4.1-2z"/>
<path color="#b70000" d="M208.3 90.2l.5 2.4 2.3-3-.5-2.4z"/>
<path color="#c70000" d="M208.9 92.6l.5 2.4 2.4-3.1-.6-2.3z"/>
<path color="#d70000" d="M209.4 95l.5 2.3 2.4-3-.5-2.4z"/>
<path color="#f70000" d="M209.9 97.3l.5 2.4 2.4-3.1-.5-2.3z"/>
<path color="#ff0800" d="M210.4 99.7l.5 3 2.4-3-.5-3.1z"/>
<path color="#ff2800" d="M210.9 102.7l.5 3.1 2.4-3-.5-3.1z"/>
<path color="#ff5800" d="M211.4 105.8l.6 3.1 2.3-3-.5-3.1z"/>
<path color="#ffb700" d="M212 108.9l.5 3.1 2.3-3-.5-3.1z"/>
<path color="#f7ff08" d="M212.5 112l.5 2.5 2.4-3-.6-2.5z"/>
<path color="#c7ff38" d="M213 114.5l.5 2.6 2.4-3.1-.5-2.5z"/>
<path color="#97ff68" d="M213.5 117.1l.5 2.5 2.4-3-.5-2.6z"/>
<path color="#68ff97" d="M214 119.6l.5 2.5 2.4-3-.5-2.5z"/>
<path color="#38ffc7" d="M214.5 122.1l.5 1.6 2.4-3-.5-1.6z"/>
<path color="#18ffe7" d="M215 123.7l.6 2.1 2.3-3.4-.5-1.7z"/>
<path color="#00f7ff" d="M215.6 125.8l.5 2.1 2.3-3.3-.5-2.2z"/>
<path color="#00e7ff" d="M216.1 127.9l.5 2.1 2.4-3.3-.6-2.1z"/>
<path color="#00d7ff" d="M216.6 130l1 2.9 2.4-3.2-1-3z"/>
<path color="#00c7ff" d="M217.6 132.9l.5 1.5 2.4-3.2-.5-1.5z"/>
<path color="#00b7ff" d="M218.1 134.4l.5 1.3 2.4-3-.5-1.5z"/>
<path color="#00a7ff" d="M218.6 135.7l1.1 1.3 2.3-2.8-1-1.5z"/>
<path color="#0097ff" d="M219.7 137l1 1.3 2.4-2.8-1.1-1.3z"/>
<path color="#0087ff" d="M220.7 138.3l1.6 1.2 2.3-2.7-1.5-1.3z"/>
<path color="#0078ff" d="M222.3 139.5l2 1.4 2.4-2.6-2.1-1.5z"/>
<path color="#0068ff" d="M224.3 140.9l3.6 2 2.4-2.5-3.6-2.1z"/>
<path color="#0058ff" d="M227.9 142.9l5.2 2.1 4.6 .8 2.4-2.5-4.7-.8-5.1-2.1z"/>
<path color="#0068ff" d="M237.7 145.8l3.1 .1 2.4-2.5-3.1-.1z"/>
<path color="#0078ff" d="M240.8 145.9l2.6 .1 2 .5 3.1 1.6 2.4-2.3-3.1-1.6-2.1-.6-2.5-.2z"/>
<path color="#0068ff" d="M248.5 148.1l2.6 1.8 2.4-2.2-2.6-1.9z"/>
<path color="#0058ff" d="M251.1 149.9l2.1 1.6 2.3-2.3-2-1.5z"/>
<path color="#0048ff" d="M253.2 151.5l2 1.6 2.4-2.4-2.1-1.5z"/>
<path color="#0038ff" d="M255.2 153.1l2.6 1.7 2.4-2.5-2.6-1.6z"/>
<path color="#0028ff" d="M257.8 154.8l6.2 2.6 10.3 2.5 2.3-2.5-10.3-2.6-6.1-2.5z"/>
<path color="#0087ff" d="M108.6 106.4l.6 .1 2.3-1.8-.5-.1z"/>
<path color="#0097ff" d="M109.2 106.5l6.7 1.3 2.3-2.1-2.6-.1-4.1-.9z"/>
<path color="#00a7ff" d="M115.9 107.8l3.6 .2 2.3-2.3-3.6 0z"/>
<path color="#00b7ff" d="M119.5 108l3.1-.4 2.3-2.5-3.1 .6z"/>
<path color="#28ffd7" d="M127.7 99.7l1-.1 2.4-2.7-1 .1z"/>
<path color="#38ffc7" d="M128.7 99.6l1.1-.1 .5 .8 2.3-2.6-.5-.8-1 0z"/>
<path color="#28ffd7" d="M130.3 100.3l.5 .8 2.4-2.5-.6-.9z"/>
<path color="#18ffe7" d="M130.8 101.1l.5 1.1 2.4-2.6-.5-1z"/>
<path color="#08fff7" d="M131.3 102.2l.5 1 2.4-2.4-.5-1.2z"/>
<path color="#00f7ff" d="M131.8 103.2l.5 1.5 2.4-2.4-.5-1.5z"/>
<path color="#00e7ff" d="M132.3 104.7l1.1 3 2.3-2.3-1-3.1z"/>
<path color="#00d7ff" d="M133.4 107.7l.5 1.5 2.3-2.3-.5-1.5z"/>
<path color="#00c7ff" d="M133.9 109.2l1.5 2 2.4-2.4-1.6-1.9z"/>
<path color="#00b7ff" d="M135.4 111.2l.5 .7 3.1 2.1 2.4-2.2-3.6-3z"/>
<path color="#00a7ff" d="M139 114l3.6 1.9 2.4-2-3.6-2.1z"/>
<path color="#970000" d="M168.9 78.2l.5 2.4 2.4-1.8-.5-2.3z"/>
<path color="#b70000" d="M169.4 80.6l.5 2.4 2.4-1.8-.5-2.4z"/>
<path color="#c70000" d="M169.9 83l.5 2.3 2.4-1.7-.5-2.4z"/>
<path color="#d70000" d="M170.4 85.3l.6 2.4 2.3-1.8-.5-2.3z"/>
<path color="#f70000" d="M171 87.7l.5 3 2.3-1.7-.5-3.1z"/>
<path color="#ff1800" d="M171.5 90.7l.5 3.1 2.4-1.7-.6-3.1z"/>
<path color="#ff3800" d="M172 93.8l.5 3.1 2.4-1.7-.5-3.1z"/>
<path color="#ff7800" d="M172.5 96.9l.5 3.1 2.4-1.8-.5-3z"/>
<path color="#ffb700" d="M173 100l.5 2.5 2.4-1.7-.5-2.6z"/>
<path color="#f7ff08" d="M173.5 102.5l.5 2.5 2.4-1.7-.5-2.5z"/>
<path color="#c7ff38" d="M174.1 105l.6 2.5 2.3-1.7-.5-2.5z"/>
<path color="#97ff68" d="M174.6 107.5l.5 2.6 2.3-1.8-.5-2.5z"/>
<path color="#68ff97" d="M175.1 110.1l.5 1.4 2.4-1.7-.6-1.5z"/>
<path color="#48ffb7" d="M175.6 111.5l.5 1.5 2.4-1.7-.5-1.5z"/>
<path color="#28ffd7" d="M176.1 113l.5 1.5 2.4-1.7-.5-1.5z"/>
<path color="#18ffe7" d="M176.6 114.5l.5 1.9 2.4-1.6-.5-2z"/>
<path color="#08fff7" d="M177.1 116.4l.6 1.2 2.3-1.6-.5-1.2z"/>
<path color="#00f7ff" d="M177.7 117.6l.5 1.2 2.3-1.6-.5-1.2z"/>
<path color="#00e7ff" d="M178.2 118.8l1 2.5 2.4-1.7-1.1-2.4z"/>
<path color="#00d7ff" d="M179.2 121.3l1.5 1.8 2.4-1.6-1.5-1.9z"/>
<path color="#00c7ff" d="M180.7 123.1l3.7 2.8 2.3-1.7-3.6-2.7z"/>
<path color="#00b7ff" d="M184.3 125.9l3 1.8 4.2 1.9 2 .5 2.1-.6 2.3-1.7-2 .6-2.1-.6-4.1-1.8-3.1-1.8z"/>
<path color="#b70000" d="M206 92l.5 2.4 2.4-1.8-.5-2.4z"/>
<path color="#c70000" d="M206.5 94.4l.5 2.3 2.4-1.7-.5-2.4z"/>
<path color="#e70000" d="M207 96.7l.5 2.4 2.4-1.8-.5-2.3z"/>
<path color="#f70000" d="M207.5 99.1l.5 2.4 2.4-1.8-.5-2.4z"/>
<path color="#ff1800" d="M208 101.5l.6 3 2.3-1.8-.5-3z"/>
<path color="#ff2800" d="M208.6 104.5l.5 3.1 2.3-1.8-.5-3.1z"/>
<path color="#ff6800" d="M209.1 107.6l.5 3.1 2.4-1.8-.6-3.1z"/>
<path color="#ffb700" d="M209.6 110.7l.5 3.1 2.4-1.8-.5-3.1z"/>
<path color="#f7ff08" d="M210.1 113.8l.5 2.5 2.4-1.8-.5-2.5z"/>
<path color="#c7ff38" d="M210.6 116.3l.5 2.5 2.4-1.7-.5-2.6z"/>
<path color="#97ff68" d="M211.1 118.8l.5 2.6 2.4-1.8-.5-2.5z"/>
<path color="#58ffa7" d="M211.6 121.4l.6 2.5 2.3-1.8-.5-2.5z"/>
<path color="#28ffd7" d="M212.2 123.9l.5 1.6 2.3-1.8-.5-1.6z"/>
<path color="#18ffe7" d="M212.7 125.5l.5 1.9 2.4-1.6-.6-2.1z"/>
<path color="#00f7ff" d="M213.2 127.4l.5 2.1 2.4-1.6-.5-2.1z"/>
<path color="#00e7ff" d="M213.7 129.5l.5 2.2 2.4-1.7-.5-2.1z"/>
<path color="#00d7ff" d="M214.2 131.7l.5 1.4 2.4-1.6-.5-1.5z"/>
<path color="#00c7ff" d="M214.7 133.1l1.1 3 2.3-1.7-1-2.9z"/>
<path color="#00b7ff" d="M215.8 136.1l.5 1.4 2.3-1.8-.5-1.3z"/>
<path color="#00a7ff" d="M216.3 137.5l1 1.3 2.4-1.8-1.1-1.3z"/>
<path color="#0097ff" d="M217.3 138.8l.5 .6 2.4-1.8-.5-.6z"/>
<path color="#0087ff" d="M217.8 139.4l2.1 1.9 2.4-1.8-2.1-1.9z"/>
<path color="#0078ff" d="M219.9 141.3l2 1.4 2.4-1.8-2-1.4z"/>
<path color="#0068ff" d="M221.9 142.7l3.7 2 2.3-1.8-3.6-2z"/>
<path color="#0058ff" d="M225.6 144.7l5.1 2.1 4.6 .8 2.4-1.8-4.6-.8-5.2-2.1z"/>
<path color="#0068ff" d="M235.3 147.6l3.1 .1 2.4-1.8-3.1-.1z"/>
<path color="#0078ff" d="M238.4 147.7l4.7 .6 3.6 1.8 2.3-1.7-3.6-1.9-2-.5-2.6-.1z"/>
<path color="#0068ff" d="M246.7 150.1l2.5 1.9 2.4-1.7-2.6-1.9z"/>
<path color="#0058ff" d="M249.2 152l1.6 1.3 2.4-1.8-1.6-1.2z"/>
<path color="#0048ff" d="M250.8 153.3l2 1.5 2.4-1.7-2-1.6z"/>
<path color="#0038ff" d="M252.8 154.8l2.6 1.8 2.4-1.8-2.6-1.7z"/>
<path color="#0028ff" d="M255.4 156.6l2.1 1 4.1 1.6 10.3 2.5 2.4-1.8-10.3-2.5-6.2-2.6z"/>
<path color="#0097ff" d="M106.3 108.4l7.7 1.7 2.4-2.2-3.1-.4-4.7-1.1z"/>
<path color="#00a7ff" d="M114 110.1l3.6 .3 2.4-2.4-3.6-.1z"/>
<path color="#18ffe7" d="M125.3 103.3l1.1-.8 2.3-2.9-1 .1z"/>
<path color="#28ffd7" d="M126.4 102.5l1-.4 .5 .6 2.4-2.4-.5-.8-1.1 .1z"/>
<path color="#18ffe7" d="M127.9 102.7l1 1.5 2.4-2-1-1.9z"/>
<path color="#08fff7" d="M128.9 104.2l.5 .8 2.4-1.8-.5-1z"/>
<path color="#00f7ff" d="M129.4 105l1.1 2.9 2.3-1.7-1-3z"/>
<path color="#00e7ff" d="M130.5 107.9l.5 1.5 2.4-1.7-.6-1.5z"/>
<path color="#00d7ff" d="M131 109.4l.5 1.5 2.4-1.7-.5-1.5z"/>
<path color="#00c7ff" d="M131.5 110.9l1.6 2.4 2.3-2.1-1.5-2z"/>
<path color="#00b7ff" d="M133.1 113.3l.5 .9 3.1 2 2.3-2.2-3.1-2.1-.5-.7z"/>
<path color="#00a7ff" d="M136.7 116.2l4.1 2 2.4-2-4.2-2.2z"/>
<path color="#970000" d="M166.5 79.8l.5 2.4 2.4-1.6-.5-2.4z"/>
<path color="#a70000" d="M167 82.2l.6 2.3 2.3-1.5-.5-2.4z"/>
<path color="#c70000" d="M167.6 84.5l.5 2.4 2.3-1.6-.5-2.3z"/>
<path color="#d70000" d="M168.1 86.9l.5 2.3 2.4-1.5-.6-2.4z"/>
<path color="#f70000" d="M168.6 89.2l.5 3.1 2.4-1.6-.5-3z"/>
<path color="#ff1800" d="M169.1 92.3l.5 3.1 2.4-1.6-.5-3.1z"/>
<path color="#ff2800" d="M169.6 95.4l.5 3.1 2.4-1.6-.5-3.1z"/>
<path color="#ff6800" d="M170.1 98.5l.5 3.1 2.4-1.6-.5-3.1z"/>
<path color="#ffb700" d="M170.7 101.6l.6 2.5 2.3-1.6-.5-2.5z"/>
<path color="#fff700" d="M171.2 104.1l.5 2.5 2.3-1.6-.5-2.5z"/>
<path color="#d7ff28" d="M171.7 106.6l.5 2.5 2.4-1.6-.6-2.5z"/>
<path color="#a7ff58" d="M172.2 109.1l.5 2.5 2.4-1.5-.5-2.6z"/>
<path color="#78ff87" d="M172.7 111.6l.5 1.5 2.4-1.6-.5-1.4z"/>
<path color="#58ffa7" d="M173.2 113.1l.5 1.5 2.4-1.6-.5-1.5z"/>
<path color="#38ffc7" d="M173.7 114.6l.6 1.6 2.3-1.7-.5-1.5z"/>
<path color="#18ffe7" d="M174.3 116.2l.5 1.6 2.3-1.4-.5-1.9z"/>
<path color="#08fff7" d="M174.8 117.8l.5 1.3 2.4-1.5-.6-1.2z"/>
<path color="#00f7ff" d="M175.3 119.1l1 2.5 2.4-1.5-1-2.5z"/>
<path color="#00e7ff" d="M176.3 121.6l.5 1.3 2.4-1.6-.5-1.2z"/>
<path color="#00d7ff" d="M176.8 122.9l2.1 2.6 2.4-1.7-2.1-2.5z"/>
<path color="#00c7ff" d="M178.9 125.5l4.6 3.1 2.4-1.8-4.6-3z"/>
<path color="#00b7ff" d="M183.5 128.6l3.6 1.7 2.1 .6 2.1-.6 2.3-.2-4.1-1.4-3.6-1.9z"/>
<path color="#b70000" d="M204.7 96.1l.5-.6 .8-3.5-.5 2.1z"/>
<path color="#c70000" d="M205.2 95.5l.5 2.6 .8-3.7-.5-2.4z"/>
<path color="#d70000" d="M205.7 98.1l.5 2.6 .8-4-.5-2.3z"/>
<path color="#f70000" d="M206.2 100.7l.5 2.6 .8-4.2-.5-2.4z"/>
<path color="#ff0800" d="M206.7 103.3l.5 2.6 .8-4.4-.5-2.4z"/>
<path color="#ff2800" d="M207.2 105.9l.6 2.9 .8-4.3-.6-3z"/>
<path color="#ff3800" d="M207.8 108.8l.5 2.9 .8-4.1-.5-3.1z"/>
<path color="#ff8700" d="M208.3 111.7l.5 2.9 .8-3.9-.5-3.1z"/>
<path color="#ffe700" d="M208.8 114.6l.5 2.9 .8-3.7-.5-3.1z"/>
<path color="#d7ff28" d="M209.3 117.5l.5 2.2 .8-3.4-.5-2.5z"/>
<path color="#a7ff58" d="M209.8 119.7l.5 2.2 .8-3.1-.5-2.5z"/>
<path color="#78ff87" d="M210.3 121.9l.6 2.2 .7-2.7-.5-2.6z"/>
<path color="#48ffb7" d="M210.9 124.1l.5 2.2 .8-2.4-.6-2.5z"/>
<path color="#28ffd7" d="M211.4 126.3l.5 1.8 .8-2.6-.5-1.6z"/>
<path color="#08fff7" d="M211.9 128.1l.5 2 .8-2.7-.5-1.9z"/>
<path color="#00f7ff" d="M212.4 130.1l.5 1.9 .8-2.5-.5-2.1z"/>
<path color="#d70000" d="M202.3 95.4l2.1 3.6 .8-3.5-2.1 2.3z"/>
<path color="#d70000" d="M204.4 99l.5 2.8 .8-3.7-.5-2.6z"/>
<path color="#f70000" d="M204.9 101.8l.5 2.8 .8-3.9-.5-2.6z"/>
<path color="#ff1800" d="M205.4 104.6l.5 2.9 .8-4.2-.5-2.6z"/>
<path color="#ff2800" d="M205.9 107.5l.6 2.8 .7-4.4-.5-2.6z"/>
<path color="#ff5800" d="M206.5 110.3l.5 2.7 .8-4.2-.6-2.9z"/>
<path color="#ffa700" d="M207 113l.5 2.8 .8-4.1-.5-2.9z"/>
<path color="#ffe700" d="M207.5 115.8l.5 2.7 .8-3.9-.5-2.9z"/>
<path color="#d7ff28" d="M208 118.5l.5 2.7 .8-3.7-.5-2.9z"/>
<path color="#a7ff58" d="M208.5 121.2l.5 1.9 .8-3.4-.5-2.2z"/>
<path color="#78ff87" d="M209 123.1l.6 1.9 .7-3.1-.5-2.2z"/>
<path color="#48ffb7" d="M209.6 125l.5 1.8 .8-2.7-.6-2.2z"/>
<path color="#28ffd7" d="M210.1 126.8l.5 2.5 .8-3-.5-2.2z"/>
<path color="#08fff7" d="M210.6 129.3l.5 1.7 .8-2.9-.5-1.8z"/>
<path color="#00f7ff" d="M211.1 131l.5 1.7 .8-2.6-.5-2z"/>
<path color="#00e7ff" d="M211.6 132.7l.5 1.7 .8-2.4-.5-1.9z"/>
<path color="#b70000" d="M201.6 93l.5 2.4 .8 .9-.6-.9z"/>
<path color="#c70000" d="M202.1 95.4l.5 2.3 .8-.5-.5-.9z"/>
<path color="#d70000" d="M202.6 97.7l.5 2.4 .8-2-.5-.9z"/>
<path color="#e70000" d="M203.1 100.1l.5 2.3 .8-3.4-.5-.9z"/>
<path color="#f70000" d="M203.6 102.4l.5 3.1 .8-3.7-.5-2.8z"/>
<path color="#ff1800" d="M204.1 105.5l.5 3.1 .8-4-.5-2.8z"/>
<path color="#ff3800" d="M204.6 108.6l.6 3.1 .7-4.2-.5-2.9z"/>
<path color="#ff7800" d="M205.2 111.7l.5 3.1 .8-4.5-.6-2.8z"/>
<path color="#ffb700" d="M205.7 114.8l.5 2.5 .8-4.3-.5-2.7z"/>
<path color="#f7ff08" d="M206.2 117.3l.5 2.5 .8-4-.5-2.8z"/>
<path color="#c7ff38" d="M206.7 119.8l.5 2.5 .8-3.8-.5-2.7z"/>
<path color="#97ff68" d="M207.2 122.3l.5 2.6 .8-3.7-.5-2.7z"/>
<path color="#68ff97" d="M207.7 124.9l.5 1.5 .8-3.3-.5-1.9z"/>
<path color="#38ffc7" d="M208.2 126.4l.6 1.8 .8-3.2-.6-1.9z"/>
<path color="#18ffe7" d="M208.8 128.2l.5 2.1 .8-3.5-.5-1.8z"/>
<path color="#00f7ff" d="M209.3 130.3l.5 2.1 .8-3.1-.5-2.5z"/>
<path color="#00e7ff" d="M209.8 132.4l1 3 .8-2.7-1-3.4z"/>
<path color="#00d7ff" d="M210.8 135.4l.5 1.4 .8-2.4-.5-1.7z"/>
<path color="#00d7ff" d="M211.3 136.8l.5 1.5 2.4-6.6-.5-2.2z"/>
<path color="#00c7ff" d="M211.8 138.3l.6 .8 2.3-6-.5-1.4z"/>
<path color="#00b7ff" d="M212.4 139.1l1 1.4 2.4-4.4-1.1-3z"/>
<path color="#00a7ff" d="M213.4 140.5l1 1 2.4-3.4-1-2z"/>
<path color="#0097ff" d="M214.4 141.5l1.1 .8 2.3-2.9-1-1.3z"/>
<path color="#0087ff" d="M215.5 142.3l1.5 1.1 2.4-2.5-1.6-1.5z"/>
<path color="#0078ff" d="M217 143.4l3.1 1.9 2.4-2.3-3.1-2.1z"/>
<path color="#0068ff" d="M220.1 145.3l4.6 2.2 2.4-2.1-4.6-2.4z"/>
<path color="#0058ff" d="M224.7 147.5l6.7 2 2.4-2-3.1-.7-3.6-1.4z"/>
<path color="#0068ff" d="M231.4 149.5l4.1 .3 2.4-2.1-4.1-.2z"/>
<path color="#0078ff" d="M235.5 149.8l3.6 .2 2.4-2-3.6-.3z"/>
<path color="#0087ff" d="M239.1 150l3.7 1.1 2.3-1.9-3.6-1.2z"/>
<path color="#0078ff" d="M242.8 151.1l2.5 1.5 2.4-1.8-2.6-1.6z"/>
<path color="#0068ff" d="M245.3 152.6l2.1 1.6 2.4-1.8-2.1-1.6z"/>
<path color="#0058ff" d="M247.4 154.2l2 1.6 2.4-1.7-2-1.7z"/>
<path color="#0048ff" d="M249.4 155.8l2.1 1.6 2.4-1.8-2.1-1.5z"/>
<path color="#0038ff" d="M251.5 157.4l3.1 1.8 2.4-1.8-3.1-1.8z"/>
<path color="#0028ff" d="M254.6 159.2l4.6 1.8 5.2 1.2 2.4-1.8-5.2-1.2-4.6-1.8z"/>
<path color="#0038ff" d="M264.4 162.2l5.1 1.3 2.4-1.8-5.1-1.3z"/>
<path color="#0097ff" d="M103.9 110.7l4.6 1.3 3.6 .6 2.4-2.4-3.6-.6-4.6-1.2z"/>
<path color="#00a7ff" d="M112.1 112.6l4.2 .3 2.3-2.4-4.1-.3z"/>
<path color="#18ffe7" d="M123.5 105.4l1-.7 2.4-2.4-1.1 .6z"/>
<path color="#28ffd7" d="M124.5 104.7l.5-.3 .5 .6 2.4-2.3-.5-.6-.5 .2z"/>
<path color="#18ffe7" d="M125.5 105l1.1 1.6 2.3-2.4-1-1.5z"/>
<path color="#08fff7" d="M126.6 106.6l.5 .8 2.3-2.4-.5-.8z"/>
<path color="#00f7ff" d="M127.1 107.4l1 2.9 2.4-2.4-1.1-2.9z"/>
<path color="#00e7ff" d="M128.1 110.3l.5 1.5 2.4-2.4-.5-1.5z"/>
<path color="#00d7ff" d="M128.6 111.8l.5 1.5 2.4-2.4-.5-1.5z"/>
<path color="#00c7ff" d="M129.1 113.3l1.6 2.5 2.4-2.5-1.6-2.4z"/>
<path color="#00b7ff" d="M130.7 115.8l.5 .8 2.6 1.7 2.3-2.4-2.5-1.7-.5-.9z"/>
<path color="#00a7ff" d="M133.8 118.3l4.1 2.1 2.4-2.4-4.2-2.1z"/>
<path color="#b70000" d="M164.2 85.5l.5-.5 .8-1.1-.5 2z"/>
<path color="#a70000" d="M165.2 84.4l.5-.6 .8-4-.5 2.1z"/>
<path color="#a70000" d="M165.7 83.8l.6 2.6 .7-4.2-.5-2.4z"/>
<path color="#b70000" d="M166.3 86.4l.5 2.6 .8-4.5-.6-2.3z"/>
<path color="#d70000" d="M166.8 89l.5 2.6 .8-4.7-.5-2.4z"/>
<path color="#e70000" d="M167.3 91.6l.5 2.6 .8-5-.5-2.3z"/>
<path color="#ff0800" d="M167.8 94.2l.5 2.9 .8-4.8-.5-3.1z"/>
<path color="#ff2800" d="M168.3 97.1l.5 2.9 .8-4.6-.5-3.1z"/>
<path color="#ff3800" d="M168.8 100l.5 2.9 .8-4.4-.5-3.1z"/>
<path color="#ff8700" d="M169.3 102.9l.6 2.9 .7-4.2-.5-3.1z"/>
<path color="#ffd700" d="M169.9 105.8l.5 2.1 .8-3.8-.6-2.5z"/>
<path color="#e7ff18" d="M170.4 107.9l.5 2.2 .8-3.5-.5-2.5z"/>
<path color="#b7ff48" d="M170.9 110.1l.5 2.2 .8-3.2-.5-2.5z"/>
<path color="#87ff78" d="M171.4 112.3l.5 2.1 .8-2.8-.5-2.5z"/>
<path color="#68ff97" d="M171.9 114.4l.5 1.3 .8-2.6-.5-1.5z"/>
<path color="#48ffb7" d="M172.4 115.7l.6 1.3 .7-2.4-.5-1.5z"/>
<path color="#28ffd7" d="M172.9 117l.5 1.5 .8-2.3-.6-1.6z"/>
<path color="#18ffe7" d="M173.5 118.5l.5 1.8 .8-2.5-.5-1.6z"/>
<path color="#08fff7" d="M174 120.3l.5 1 .8-2.2-.5-1.3z"/>
<path color="#b70000" d="M162.9 84.2l2.1 3.6 .7-4-2 2.3z"/>
<path color="#c70000" d="M164.9 87.8l.5 2.8 .8-4.2-.6-2.6z"/>
<path color="#e70000" d="M165.5 90.6l.5 2.9 .8-4.5-.5-2.6z"/>
<path color="#f70000" d="M166 93.5l.5 2.8 .8-4.7-.5-2.6z"/>
<path color="#ff1800" d="M166.5 96.3l.5 2.9 .8-5-.5-2.6z"/>
<path color="#ff2800" d="M167 99.2l.5 2.7 .8-4.8-.5-2.9z"/>
<path color="#ff5800" d="M167.5 101.9l.5 2.7 .8-4.6-.5-2.9z"/>
<path color="#ffa700" d="M168 104.6l.6 2.7 .7-4.4-.5-2.9z"/>
<path color="#fff700" d="M168.6 107.3l.5 2.7 .8-4.2-.6-2.9z"/>
<path color="#d7ff28" d="M169.1 110l.5 1.8 .8-3.9-.5-2.1z"/>
<path color="#a7ff58" d="M169.6 111.8l.5 1.8 .8-3.5-.5-2.2z"/>
<path color="#87ff78" d="M170.1 113.6l.5 1.8 .8-3.1-.5-2.2z"/>
<path color="#58ffa7" d="M170.6 115.4l.5 1.9 .8-2.9-.5-2.1z"/>
<path color="#38ffc7" d="M171.1 117.3l.5 1.1 .8-2.7-.5-1.3z"/>
<path color="#28ffd7" d="M171.6 118.4l.6 1.5 .8-2.9-.6-1.3z"/>
<path color="#08fff7" d="M172.2 119.9l.5 1.4 .8-2.8-.5-1.5z"/>
<path color="#00f7ff" d="M172.7 121.3l.5 1.5 .8-2.5-.5-1.8z"/>
<path color="#00f7ff" d="M173.2 122.8l.5 .8 .8-2.3-.5-1z"/>
<path color="#a70000" d="M162.1 82.4l.5 2.3 .8 .4-.5-.9z"/>
<path color="#b70000" d="M162.6 84.7l.5 2.4 .8-1.1-.5-.9z"/>
<path color="#c70000" d="M163.1 87.1l.5 2.3 .8-2.5-.5-.9z"/>
<path color="#d70000" d="M163.6 89.4l.6 2.4 .8-4-.6-.9z"/>
<path color="#e70000" d="M164.2 91.8l.5 3.1 .8-4.3-.5-2.8z"/>
<path color="#ff0800" d="M164.7 94.9l.5 3.1 .8-4.5-.5-2.9z"/>
<path color="#ff2800" d="M165.2 98l.5 3 .8-4.7-.5-2.8z"/>
<path color="#ff3800" d="M165.7 101l.5 3.1 .8-4.9-.5-2.9z"/>
<path color="#ff8700" d="M166.2 104.1l.5 2.5 .8-4.7-.5-2.7z"/>
<path color="#ffd700" d="M166.7 106.6l.5 2.5 .8-4.5-.5-2.7z"/>
<path color="#e7ff18" d="M167.2 109.1l.6 2.6 .8-4.4-.6-2.7z"/>
<path color="#b7ff48" d="M167.8 111.7l.5 2.5 .8-4.2-.5-2.7z"/>
<path color="#87ff78" d="M168.3 114.2l.5 1.4 .8-3.8-.5-1.8z"/>
<path color="#68ff97" d="M168.8 115.6l.5 1.5 .8-3.5-.5-1.8z"/>
<path color="#48ffb7" d="M169.3 117.1l.5 1.5 .8-3.2-.5-1.8z"/>
<path color="#28ffd7" d="M169.8 118.6l.5 2 .8-3.3-.5-1.9z"/>
<path color="#08fff7" d="M170.3 120.6l1.1 2.3 .8-3-1.1-2.6z"/>
<path color="#00f7ff" d="M171.4 122.9l.5 1.2 .8-2.8-.5-1.4z"/>
<path color="#00e7ff" d="M171.9 124.1l1 1.8 .8-2.3-1-2.3z"/>
<path color="#00e7ff" d="M172.9 125.9l1 1.1 2.4-5.4-1-2.5z"/>
<path color="#00d7ff" d="M173.9 127l2.1 1.6 2.4-3.7-1.6-2-.5-1.3z"/>
<path color="#00c7ff" d="M176 128.6l4.6 2.6 2.4-2.9-4.1-2.8-.5-.6z"/>
<path color="#00b7ff" d="M180.6 131.2l4.2 1.8 2 .7 1-.2 2.4-2.9-1 .3-2.1-.6-4.1-2z"/>
<path color="#b70000" d="M199.2 96.2l.5 2.4 2.4-3.2-.5-2.4z"/>
<path color="#c70000" d="M199.7 98.6l.5 2.3 2.4-3.2-.5-2.3z"/>
<path color="#d70000" d="M200.2 100.9l.5 2.4 2.4-3.2-.5-2.4z"/>
<path color="#f70000" d="M200.7 103.3l.5 2.3 2.4-3.2-.5-2.3z"/>
<path color="#ff0800" d="M201.2 105.6l.6 3.1 2.3-3.2-.5-3.1z"/>
<path color="#ff2800" d="M201.8 108.7l.5 3.1 2.3-3.2-.5-3.1z"/>
<path color="#ff5800" d="M202.3 111.8l.5 3.1 2.4-3.2-.6-3.1z"/>
<path color="#ffb700" d="M202.8 114.9l.5 3.1 2.4-3.2-.5-3.1z"/>
<path color="#f7ff08" d="M203.3 118l.5 2.5 2.4-3.2-.5-2.5z"/>
<path color="#c7ff38" d="M203.8 120.5l.5 2.5 2.4-3.2-.5-2.5z"/>
<path color="#97ff68" d="M204.3 123l.5 2.5 2.4-3.2-.5-2.5z"/>
<path color="#58ffa7" d="M204.8 125.5l.6 2.6 2.3-3.2-.5-2.6z"/>
<path color="#38ffc7" d="M205.4 128.1l.5 1.5 2.3-3.2-.5-1.5z"/>
<path color="#18ffe7" d="M205.9 129.6l.5 2.1 2.4-3.5-.6-1.8z"/>
<path color="#00f7ff" d="M206.4 131.7l.5 2.1 2.4-3.5-.5-2.1z"/>
<path color="#00e7ff" d="M206.9 133.8l.5 2.1 2.4-3.5-.5-2.1z"/>
<path color="#00d7ff" d="M207.4 135.9l1 2.9 2.4-3.4-1-3z"/>
<path color="#00c7ff" d="M208.5 138.8l.6 1.4 2.3-3.4-.5-1.4z"/>
<path color="#00b7ff" d="M209 140.2l.5 1.3 2.3-3.2-.5-1.5z"/>
<path color="#00a7ff" d="M209.5 141.5l1 1.2 2.4-2.9-1.1-1.5z"/>
<path color="#0097ff" d="M210.5 142.7l1 1.2 2.4-2.8-1-1.3z"/>
<path color="#0087ff" d="M211.5 143.9l2.1 1.6 2.4-2.8-2.1-1.6z"/>
<path color="#0078ff" d="M213.6 145.5l2.6 1.6 2.3-2.7-2.5-1.7z"/>
<path color="#0068ff" d="M216.2 147.1l5.1 2.4 2.4-2.5-5.2-2.6z"/>
<path color="#0058ff" d="M221.3 149.5l4.7 1.7 3.6 .8 2.3-2.4-3.6-.9-4.6-1.7z"/>
<path color="#0068ff" d="M229.6 152l3.6 .2 2.3-2.4-3.6-.2z"/>
<path color="#0078ff" d="M233.2 152.2l3.6 .2 2.3-2.4-3.6-.2z"/>
<path color="#0087ff" d="M236.8 152.4l3.6 1 2.4-2.3-3.7-1.1z"/>
<path color="#0078ff" d="M240.4 153.4l3.1 2 2.3-2.4-3-1.9z"/>
<path color="#0068ff" d="M243.5 155.4l1.5 1.2 2.4-2.4-1.6-1.2z"/>
<path color="#0058ff" d="M245 156.6l2.1 1.7 2.3-2.5-2-1.6z"/>
<path color="#0048ff" d="M247.1 158.3l2 1.6 2.4-2.5-2.1-1.6z"/>
<path color="#0038ff" d="M249.1 159.9l3.1 1.9 2.4-2.6-3.1-1.8z"/>
<path color="#0028ff" d="M252.2 161.8l4.7 1.8 6.1 1.4 2.4-2.6-6.2-1.4-4.6-1.8z"/>
<path color="#0038ff" d="M263 165l4.2 1.1 2.3-2.6-4.1-1.1z"/>
<path color="#0097ff" d="M101.5 113l4.7 1.2 4.1 .5 2.4-2.1-4.2-.6-4.6-1.3z"/>
<path color="#00a7ff" d="M110.3 114.7l3.6 .2 2.4-2-3.6-.3z"/>
<path color="#18ffe7" d="M120.6 107.3l1.5-.9 2.4-1.7-1.5 1z"/>
<path color="#28ffd7" d="M122.1 106.4l.6-.2 .5 .6 2.3-1.8-.5-.6-.5 .3z"/>
<path color="#18ffe7" d="M123.2 106.8l1 1.3 2.4-1.5-1.1-1.6z"/>
<path color="#08fff7" d="M124.2 108.1l.5 .8 2.4-1.5-.5-.8z"/>
<path color="#00f7ff" d="M124.7 108.9l1 3 2.4-1.6-1-2.9z"/>
<path color="#00e7ff" d="M125.7 111.9l.6 1.5 2.3-1.6-.5-1.5z"/>
<path color="#00d7ff" d="M126.3 113.4l1 2.4 2.4-1.7-1.1-2.3z"/>
<path color="#00c7ff" d="M127.3 115.8l1 1.8 2.4-1.8-1-1.7z"/>
<path color="#00b7ff" d="M128.3 117.6l.5 .8 2.1 1.6 2.4-2-2.1-1.4-.5-.8z"/>
<path color="#00a7ff" d="M130.9 120l4.1 2.3 2.4-2.1-4.1-2.2z"/>
<path color="#0097ff" d="M135 122.3l2.1 .9 4.1 1.1 2.4-2.4-4.2-.9-2-.8z"/>
<path color="#a70000" d="M159.7 85.1l.5 2.3 2.4-2.7-.5-2.3z"/>
<path color="#b70000" d="M160.2 87.4l.6 2.4 2.3-2.7-.5-2.4z"/>
<path color="#c70000" d="M160.8 89.8l.5 2.3 2.3-2.7-.5-2.3z"/>
<path color="#e70000" d="M161.3 92.1l.5 2.4 2.4-2.7-.6-2.4z"/>
<path color="#f70000" d="M161.8 94.5l.5 3.1 2.4-2.7-.5-3.1z"/>
<path color="#ff1800" d="M162.3 97.6l.5 3.1 2.4-2.7-.5-3.1z"/>
<path color="#ff3800" d="M162.8 100.7l.5 3 2.4-2.7-.5-3z"/>
<path color="#ff8700" d="M163.3 103.7l.6 3.1 2.3-2.7-.5-3.1z"/>
<path color="#ffc700" d="M163.9 106.8l.5 2.5 2.3-2.7-.5-2.5z"/>
<path color="#f7ff08" d="M164.4 109.3l.5 2.5 2.3-2.7-.5-2.5z"/>
<path color="#b7ff48" d="M164.9 111.8l.5 2.5 2.4-2.6-.6-2.6z"/>
<path color="#87ff78" d="M165.4 114.3l.5 2.5 2.4-2.6-.5-2.5z"/>
<path color="#58ffa7" d="M165.9 116.8l.5 1.5 2.4-2.7-.5-1.4z"/>
<path color="#38ffc7" d="M166.4 118.3l.5 1.5 2.4-2.7-.5-1.5z"/>
<path color="#28ffd7" d="M166.9 119.8l.6 1.6 2.3-2.8-.5-1.5z"/>
<path color="#08fff7" d="M167.5 121.4l.5 2 2.3-2.8-.5-2z"/>
<path color="#00f7ff" d="M168 123.4l1 2.2 2.4-2.7-1.1-2.3z"/>
<path color="#00e7ff" d="M169 125.6l.5 1.2 2.4-2.7-.5-1.2z"/>
<path color="#00d7ff" d="M169.5 126.8l.5 1.1 1.6 1.6 2.3-2.5-1.5-1.7-.5-1.2z"/>
<path color="#00c7ff" d="M171.6 129.5l4.1 2.8 2.4-2.5-4.2-2.8z"/>
<path color="#00b7ff" d="M175.7 132.3l6.7 3.4 4.6 1.4 2.4-4.6-.5 .8-2.1 .4-4.1-1.5-4.6-2.4z"/>
<path color="#e70000" d="M197.4 104.6l.5-2.3 .8-4-.5 2z"/>
<path color="#c70000" d="M197.9 102.3l.5-2.2 .8-3.9-.5 2.1z"/>
<path color="#c70000" d="M198.4 100.1l.5 .8 .8-2.3-.5-2.4z"/>
<path color="#d70000" d="M198.9 100.9l.5 .9 .8-.9-.5-2.3z"/>
<path color="#e70000" d="M199.4 101.8l.5 .9 .8 .6-.5-2.4z"/>
<path color="#f70000" d="M199.9 102.7l.6 .9 .7 2-.5-2.3z"/>
<path color="#ff0800" d="M200.5 103.6l.5 2.9 .8 2.2-.6-3.1z"/>
<path color="#ff2800" d="M201 106.5l.5 2.8 .8 2.5-.5-3.1z"/>
<path color="#ff3800" d="M201.5 109.3l.5 2.8 .8 2.8-.5-3.1z"/>
<path color="#ff8700" d="M202 112.1l.5 2.9 .8 3-.5-3.1z"/>
<path color="#ffd700" d="M202.5 115l.5 2.7 .8 2.8-.5-2.5z"/>
<path color="#e7ff18" d="M203 117.7l.5 2.7 .8 2.6-.5-2.5z"/>
<path color="#a7ff58" d="M203.5 120.4l.6 2.7 .7 2.4-.5-2.5z"/>
<path color="#78ff87" d="M204.1 123.1l.5 2.7 .8 2.3-.6-2.6z"/>
<path color="#48ffb7" d="M204.6 125.8l.5 1.9 .8 1.9-.5-1.5z"/>
<path color="#28ffd7" d="M205.1 127.7l.5 1.9 .8 2.1-.5-2.1z"/>
<path color="#08fff7" d="M205.6 129.6l.5 2.2 .8 2-.5-2.1z"/>
<path color="#00f7ff" d="M206.1 131.8l.5 2.5 .8 1.6-.5-2.1z"/>
<path color="#00e7ff" d="M206.6 134.3l.5 1.7 .8 1.4-.5-1.5z"/>
<path color="#00d7ff" d="M207.1 136l.6 1.6 .7 1.2-.5-1.4z"/>
<path color="#00c7ff" d="M207.7 137.6l.5 1.7 .8 .9-.6-1.4z"/>
<path color="#e70000" d="M199.7 101.6l.5 2.6 .8 2.3-.5-2.9z"/>
<path color="#ff0800" d="M200.2 104.2l.5 2.6 .8 2.5-.5-2.8z"/>
<path color="#ff1800" d="M200.7 106.8l.5 2.6 .8 2.7-.5-2.8z"/>
<path color="#ff3800" d="M201.2 109.4l.5 2.6 .8 3-.5-2.9z"/>
<path color="#ff7800" d="M201.7 112l.5 2.9 .8 2.8-.5-2.7z"/>
<path color="#ffb700" d="M202.2 114.9l.6 2.9 .7 2.6-.5-2.7z"/>
<path color="#f7ff08" d="M202.8 117.8l.5 2.9 .8 2.4-.6-2.7z"/>
<path color="#b7ff48" d="M203.3 120.7l.5 2.9 .8 2.2-.5-2.7z"/>
<path color="#87ff78" d="M203.8 123.6l.5 2.2 .8 1.9-.5-1.9z"/>
<path color="#58ffa7" d="M204.3 125.8l.5 2.2 .8 1.6-.5-1.9z"/>
<path color="#38ffc7" d="M204.8 128l.5 2.2 .8 1.6-.5-2.2z"/>
<path color="#08fff7" d="M205.3 130.2l.5 2.5 .8 1.6-.5-2.5z"/>
<path color="#00f7ff" d="M205.8 132.7l.6 1.9 .7 1.4-.5-1.7z"/>
<path color="#00e7ff" d="M206.4 134.6l.5 1.9 .8 1.1-.6-1.6z"/>
<path color="#00d7ff" d="M206.9 136.5l.5 1.8 .8 1-.5-1.7z"/>
<path color="#c70000" d="M198.9 99.6l.5 2.3 .8 2.3-.5-2.6z"/>
<path color="#e70000" d="M199.4 101.9l.5 2.4 .8 2.5-.5-2.6z"/>
<path color="#f70000" d="M199.9 104.3l.5 2.3 .8 2.8-.5-2.6z"/>
<path color="#ff1800" d="M200.4 106.6l.5 2.4 .8 3-.5-2.6z"/>
<path color="#ff2800" d="M200.9 109l.5 3.1 .8 2.8-.5-2.9z"/>
<path color="#ff5800" d="M201.4 112.1l.6 3.1 .8 2.6-.6-2.9z"/>
<path color="#ffa700" d="M202 115.2l.5 3 .8 2.5-.5-2.9z"/>
<path color="#f7ff08" d="M202.5 118.2l.5 3.1 .8 2.3-.5-2.9z"/>
<path color="#c7ff38" d="M203 121.3l.5 2.6 .8 1.9-.5-2.2z"/>
<path color="#97ff68" d="M203.5 123.9l.5 2.5 .8 1.6-.5-2.2z"/>
<path color="#68ff97" d="M204 126.4l.5 2.5 .8 1.3-.5-2.2z"/>
<path color="#38ffc7" d="M204.5 128.9l.5 2.5 .8 1.3-.5-2.5z"/>
<path color="#08fff7" d="M205.1 131.4l.6 1.8 .8 1.4-.6-1.9z"/>
<path color="#00f7ff" d="M205.6 133.2l.5 2.1 .8 1.2-.5-1.9z"/>
<path color="#00e7ff" d="M206.1 135.3l.5 2.1 .8 .9-.5-1.8z"/>
<path color="#00c7ff" d="M206.6 137.4l.5 2.1 2.4 2-.5-1.3z"/>
<path color="#00b7ff" d="M207.1 139.5l1 2.8 2.4 .4-1-1.2z"/>
<path color="#00a7ff" d="M208.1 142.3l.6 1.4 2.3-.4-.5-.6z"/>
<path color="#0097ff" d="M208.7 143.7l1 1.6 2.4-1-1.1-1z"/>
<path color="#0087ff" d="M209.7 145.3l1.5 1.9 2.4-1.7-1.5-1.2z"/>
<path color="#0078ff" d="M211.2 147.2l2.6 1.8 2.4-1.9-2.6-1.6z"/>
<path color="#0068ff" d="M213.8 149l4.1 2.2 2.4-2.1-4.1-2z"/>
<path color="#0058ff" d="M217.9 151.2l5.7 2.2 4.6 .9 2.4-2.2-4.6-.9-5.7-2.1z"/>
<path color="#0068ff" d="M228.2 154.3l3.1 0 2.4-2.1-3.1-.1z"/>
<path color="#0078ff" d="M231.3 154.3l2.6 .1 2.1 .5 4.1 2.2 2.3-2.5-4.1-1.9-4.6-.5z"/>
<path color="#0068ff" d="M240.1 157.1l2 1.6 2.4-2.5-2.1-1.6z"/>
<path color="#0058ff" d="M242.1 158.7l2.1 1.7 2.4-2.5-2.1-1.7z"/>
<path color="#0048ff" d="M244.2 160.4l1.5 1.2 2.4-2.5-1.5-1.2z"/>
<path color="#0038ff" d="M245.7 161.6l2.6 1.7 2.4-2.4-2.6-1.8z"/>
<path color="#0028ff" d="M248.3 163.3l2.1 1.2 4.1 1.5 10.3 2.5 2.4-2.4-10.3-2.5-4.2-1.5-2-1.2z"/>
<path color="#0097ff" d="M99.2 115l4.6 1.1 3.1 .3 2.4-1.8-3.1-.4-4.7-1.2z"/>
<path color="#00a7ff" d="M106.9 116.4l3.6 .1 2.4-1.7-3.6-.2z"/>
<path color="#00b7ff" d="M110.5 116.5l3.1-.7 2.4-1.2-3.1 .2z"/>
<path color="#28ffd7" d="M118.7 108l1.1-.2 2.3-1.4-1 .5z"/>
<path color="#38ffc7" d="M119.8 107.8l.5-.1 2.4-1.5-.6 .2z"/>
<path color="#28ffd7" d="M120.3 107.7l1 1.5 2.4-1.8-1-1.2z"/>
<path color="#18ffe7" d="M121.3 109.2l1 1.7 2.4-2-1-1.5z"/>
<path color="#08fff7" d="M122.3 110.9l.6 1.5 2.3-2-.5-1.5z"/>
<path color="#00f7ff" d="M122.9 112.4l.5 1.5 2.3-2-.5-1.5z"/>
<path color="#00e7ff" d="M123.4 113.9l.5 1.5 2.4-2-.6-1.5z"/>
<path color="#00d7ff" d="M123.9 115.4l1 2.3 2.4-1.9-1-2.4z"/>
<path color="#00c7ff" d="M124.9 117.7l1.6 2.4 2.3-1.7-1.5-2.6z"/>
<path color="#00b7ff" d="M126.5 120.1l3.1 2.3 2.3-1.8-3.1-2.2z"/>
<path color="#00a7ff" d="M129.6 122.4l3.6 2.1 2.3-2-3.6-1.9z"/>
<path color="#0097ff" d="M133.2 124.5l3.6 1.4 2 .4 2.4-2-2.1-.5-3.6-1.3z"/>
<path color="#a70000" d="M157.4 87.1l.5 2.3 2.3-2-.5-2.3z"/>
<path color="#b70000" d="M157.9 89.4l.5 2.4 2.4-2-.6-2.4z"/>
<path color="#c70000" d="M158.4 91.8l.5 2.3 2.4-2-.5-2.3z"/>
<path color="#e70000" d="M158.9 94.1l.5 2.4 2.4-2-.5-2.4z"/>
<path color="#f70000" d="M159.4 96.5l.5 3.1 2.4-2-.5-3.1z"/>
<path color="#ff1800" d="M159.9 99.6l.6 3 2.3-1.9-.5-3.1z"/>
<path color="#ff3800" d="M160.5 102.6l.5 3.1 2.3-2-.5-3z"/>
<path color="#ff8700" d="M161 105.7l.5 3.1 2.4-2-.6-3.1z"/>
<path color="#ffd700" d="M161.5 108.8l.5 2.5 2.4-2-.5-2.5z"/>
<path color="#e7ff18" d="M162 111.3l.5 2.5 2.4-2-.5-2.5z"/>
<path color="#b7ff48" d="M162.5 113.8l.5 2.5 2.4-2-.5-2.5z"/>
<path color="#87ff78" d="M163 116.3l.5 2.5 2.4-2-.5-2.5z"/>
<path color="#58ffa7" d="M163.5 118.8l.6 1.5 2.3-2-.5-1.5z"/>
<path color="#38ffc7" d="M164.1 120.3l.5 1.5 2.3-2-.5-1.5z"/>
<path color="#28ffd7" d="M164.6 121.8l.5 1.5 2.4-1.9-.6-1.6z"/>
<path color="#08fff7" d="M165.1 123.3l.5 2 2.4-1.9-.5-2z"/>
<path color="#00f7ff" d="M165.6 125.3l1 2.3 2.4-2-1-2.2z"/>
<path color="#00e7ff" d="M166.6 127.6l.5 1.1 2.4-1.9-.5-1.2z"/>
<path color="#00d7ff" d="M167.1 128.7l.6 1.2 1 1.1 2.4-2-1.1-1.1-.5-1.1z"/>
<path color="#00c7ff" d="M168.7 131l1 1.1 3.6 2.2 2.4-2-3.6-2.2-1-1.1z"/>
<path color="#00b7ff" d="M173.3 134.3l6.7 3.4 4.1 1.4 2.1-.3 .5-.7 2.4-2-.5 .7-2.1 .3-4.6-1.7-6.2-3.1z"/>
<path color="#b70000" d="M196.5 101.6l.5 2.3 2.4-2-.5-2.3z"/>
<path color="#d70000" d="M197 103.9l.5 2.4 2.4-2-.5-2.4z"/>
<path color="#e70000" d="M197.5 106.3l.5 2.3 2.4-2-.5-2.3z"/>
<path color="#ff0800" d="M198 108.6l.6 2.4 2.3-2-.5-2.4z"/>
<path color="#ff1800" d="M198.6 111l.5 3.1 2.3-2-.5-3.1z"/>
<path color="#ff3800" d="M199.1 114.1l.5 3.1 2.4-2-.6-3.1z"/>
<path color="#ff7800" d="M199.6 117.2l.5 3.1 2.4-2.1-.5-3z"/>
<path color="#ffd700" d="M200.1 120.3l.5 3 2.4-2-.5-3.1z"/>
<path color="#e7ff18" d="M200.6 123.3l.5 2.6 2.4-2-.5-2.6z"/>
<path color="#b7ff48" d="M201.1 125.9l.6 2.5 2.3-2-.5-2.5z"/>
<path color="#87ff78" d="M201.7 128.4l.5 2.5 2.3-2-.5-2.5z"/>
<path color="#48ffb7" d="M202.2 130.9l.5 2.5 2.3-2-.5-2.5z"/>
<path color="#18ffe7" d="M202.7 133.4l.5 1.7 2.4-1.9-.6-1.8z"/>
<path color="#08fff7" d="M203.2 135.1l.5 2.2 2.4-2-.5-2.1z"/>
<path color="#00f7ff" d="M203.7 137.3l.5 2.1 2.4-2-.5-2.1z"/>
<path color="#00d7ff" d="M204.2 139.4l.5 2.1 2.4-2-.5-2.1z"/>
<path color="#00d7ff" d="M204.7 141.5l.6 1.4 2.3-2-.5-1.4z"/>
<path color="#00c7ff" d="M205.3 142.9l.5 1.4 2.3-2-.5-1.4z"/>
<path color="#00b7ff" d="M205.8 144.3l.5 1.4 2.4-2-.6-1.4z"/>
<path color="#00a7ff" d="M206.3 145.7l.5 1.1 2.4-2.1-.5-1z"/>
<path color="#0097ff" d="M206.8 146.8l1 1.2 2.4-2-1-1.3z"/>
<path color="#0087ff" d="M207.8 148l1.6 1.6 2.3-2.1-1.5-1.5z"/>
<path color="#0078ff" d="M209.4 149.6l2.6 1.7 2.3-2-2.6-1.8z"/>
<path color="#0068ff" d="M212 151.3l4.1 2.2 2.3-2.1-4.1-2.1z"/>
<path color="#0058ff" d="M216.1 153.5l5.1 2 4.1 .8 2.4-2-4.1-.9-5.2-2z"/>
<path color="#0068ff" d="M225.3 156.3l3.1 0 2.4-2-3.1 0z"/>
<path color="#0078ff" d="M228.4 156.3l3.1 .2 2.1 .5 4.1 2.2 2.4-2.1-4.1-2.2-2.1-.5-3.1-.1z"/>
<path color="#0068ff" d="M237.7 159.2l2.1 1.6 2.3-2.1-2-1.6z"/>
<path color="#0058ff" d="M239.8 160.8l1.5 1.2 2.4-2-1.6-1.3z"/>
<path color="#0048ff" d="M241.3 162l2.1 1.6 2.3-2-2-1.6z"/>
<path color="#0038ff" d="M243.4 163.6l2.5 1.8 2.4-2.1-2.6-1.7z"/>
<path color="#0028ff" d="M245.9 165.4l2.1 1.1 4.1 1.6 10.3 2.4 2.4-2-10.3-2.5-4.1-1.5-2.1-1.2z"/>
<path color="#0087ff" d="M96.8 117.5l1.5 .5 2.4-2.6-1.5-.4z"/>
<path color="#0097ff" d="M98.3 118l6.2 1 2.4-2.6-6.2-1z"/>
<path color="#00a7ff" d="M104.5 119l3.6 .1 2.4-2.6-3.6-.1z"/>
<path color="#00b7ff" d="M108.1 119.1l3.1-.4 2.4-2.9-3.1 .7z"/>
<path color="#28ffd7" d="M115.9 111.1l1.5-.8 2.4-2.5-1.6 .3z"/>
<path color="#38ffc7" d="M117.4 110.3l.5-.2 .5 .6 2.4-2.2-.5-.8-.5 .1z"/>
<path color="#28ffd7" d="M118.4 110.7l1.1 1.1 2.3-1.9-1-1.4z"/>
<path color="#18ffe7" d="M119.5 111.8l.5 .7 2.3-1.6-.5-1z"/>
<path color="#08fff7" d="M120 112.5l.5 1.5 2.4-1.6-.6-1.5z"/>
<path color="#00f7ff" d="M120.5 114l.5 1.4 2.4-1.5-.5-1.5z"/>
<path color="#00e7ff" d="M121 115.4l1 3 2.4-1.5-1-3z"/>
<path color="#00d7ff" d="M122 118.4l1.1 2 2.3-1.9-1-1.6z"/>
<path color="#00c7ff" d="M123.1 120.4l1 2 2.4-2.3-1.1-1.6z"/>
<path color="#00b7ff" d="M124.1 122.4l3.1 2.4 2.4-2.4-3.1-2.3z"/>
<path color="#00a7ff" d="M127.2 124.8l3.6 2.1 2.4-2.4-3.6-2.1z"/>
<path color="#0097ff" d="M130.8 126.9l3.6 1.5 3.1 .7 2.4-2.7-3.1-.5-3.6-1.4z"/>
<path color="#b70000" d="M156.1 92.9l.5-2.3 .8-3.5-.6 2z"/>
<path color="#a70000" d="M156.6 90.6l.5 .9 .8-2.1-.5-2.3z"/>
<path color="#b70000" d="M157.1 91.5l.5 .9 .8-.6-.5-2.4z"/>
<path color="#c70000" d="M157.6 92.4l.5 .9 .8 .8-.5-2.3z"/>
<path color="#d70000" d="M158.1 93.3l.5 .8 .8 2.4-.5-2.4z"/>
<path color="#e70000" d="M158.6 94.1l.5 2.9 .8 2.6-.5-3.1z"/>
<path color="#ff0800" d="M159.1 97l.6 2.8 .8 2.8-.6-3z"/>
<path color="#ff2800" d="M159.7 99.8l.5 2.9 .8 3-.5-3.1z"/>
<path color="#ff4800" d="M160.2 102.7l.5 2.8 .8 3.3-.5-3.1z"/>
<path color="#ff9700" d="M160.7 105.5l.5 2.7 .8 3.1-.5-2.5z"/>
<path color="#ffd700" d="M161.2 108.2l.5 2.7 .8 2.9-.5-2.5z"/>
<path color="#e7ff18" d="M161.7 110.9l.5 2.7 .8 2.7-.5-2.5z"/>
<path color="#a7ff58" d="M162.2 113.6l.6 2.7 .7 2.5-.5-2.5z"/>
<path color="#58ffa7" d="M163.3 118.1l.5 1.8 .8 1.9-.5-1.5z"/>
<path color="#38ffc7" d="M163.8 119.9l.5 1.8 .8 1.6-.5-1.5z"/>
<path color="#18ffe7" d="M164.3 121.7l.5 1.9 .8 1.7-.5-2z"/>
<path color="#08fff7" d="M164.8 123.6l.5 1.3 .8 1.5-.5-1.1z"/>
<path color="#00f7ff" d="M165.3 124.9l1.1 2.9 .7 .9-1-2.3z"/>
<path color="#c70000" d="M157.8 91.8l.6 2.6 .7 2.6-.5-2.9z"/>
<path color="#e70000" d="M158.4 94.4l.5 2.6 .8 2.8-.6-2.8z"/>
<path color="#ff0800" d="M158.9 97l.5 2.6 .8 3.1-.5-2.9z"/>
<path color="#ff1800" d="M159.4 99.6l.5 2.6 .8 3.3-.5-2.8z"/>
<path color="#ff3800" d="M159.9 102.2l.5 2.9 .8 3.1-.5-2.7z"/>
<path color="#ff7800" d="M160.4 105.1l.5 2.9 .8 2.9-.5-2.7z"/>
<path color="#ffb700" d="M160.9 108l.5 2.9 .8 2.7-.5-2.7z"/>
<path color="#f7ff08" d="M161.4 110.9l.6 2.9 .8 2.5-.6-2.7z"/>
<path color="#c7ff38" d="M162 113.8l.5 2.1 .8 2.2-.5-1.8z"/>
<path color="#97ff68" d="M162.5 115.9l.5 2.2 .8 1.8-.5-1.8z"/>
<path color="#78ff87" d="M163 118.1l.5 2.2 .8 1.4-.5-1.8z"/>
<path color="#48ffb7" d="M163.5 120.3l.5 2.1 .8 1.2-.5-1.9z"/>
<path color="#28ffd7" d="M164 122.4l.5 1.3 .8 1.2-.5-1.3z"/>
<path color="#18ffe7" d="M164.5 123.7l.5 1.3 .8 1.3-.5-1.4z"/>
<path color="#08fff7" d="M165.1 125l.6 1.8 .8 1-.6-1.5z"/>
<path color="#a70000" d="M157.1 89.5l.6 2.4 .8 2.5-.6-2.6z"/>
<path color="#c70000" d="M157.6 91.9l.5 2.3 .8 2.8-.5-2.6z"/>
<path color="#d70000" d="M158.1 94.2l.5 2.4 .8 3-.5-2.6z"/>
<path color="#f70000" d="M158.6 96.6l.5 2.3 .8 3.3-.5-2.6z"/>
<path color="#ff0800" d="M159.1 98.9l.5 3.1 .8 3.1-.5-2.9z"/>
<path color="#ff2800" d="M159.6 102l.5 3.1 .8 2.9-.5-2.9z"/>
<path color="#ff5800" d="M160.1 105.1l.6 3.1 .7 2.7-.5-2.9z"/>
<path color="#ffa700" d="M160.7 108.2l.5 3.1 .8 2.5-.6-2.9z"/>
<path color="#fff700" d="M161.2 111.3l.5 2.5 .8 2.1-.5-2.1z"/>
<path color="#d7ff28" d="M161.7 113.8l.5 2.5 .8 1.8-.5-2.2z"/>
<path color="#a7ff58" d="M162.2 116.3l.5 2.5 .8 1.5-.5-2.2z"/>
<path color="#78ff87" d="M162.7 118.8l.5 2.5 .8 1.1-.5-2.1z"/>
<path color="#48ffb7" d="M163.2 121.3l.5 1.5 .8 .9-.5-1.3z"/>
<path color="#38ffc7" d="M163.7 122.8l.6 1.5 .7 .7-.5-1.3z"/>
<path color="#18ffe7" d="M164.3 124.3l.5 1.5 .8 1-.6-1.8z"/>
<path color="#00f7ff" d="M164.8 125.8l.5 2 2.4 2.1-.6-1.2z"/>
<path color="#00e7ff" d="M165.3 127.8l1 2.5 2.4 .7-1-1.1z"/>
<path color="#00d7ff" d="M166.3 130.3l1.6 3.1 2.3-1-1.5-1.4z"/>
<path color="#00c7ff" d="M167.9 133.4l1.5 1.8 2.1 1.5 2.3-2.1-3.6-2.2z"/>
<path color="#00b7ff" d="M171.5 136.7l4.1 2.4 4.1 1.6 2.1 0 1-1.4 2.4-.3-1.1 .1-3.6-1.2-6.7-3.3z"/>
<path color="#c70000" d="M195.2 106l.5-.6 .8-3.8-.5 2z"/>
<path color="#c70000" d="M195.7 105.4l.5 2.6 .8-4.1-.5-2.3z"/>
<path color="#e70000" d="M196.2 108l.5 2.6 .8-4.3-.5-2.4z"/>
<path color="#f70000" d="M196.7 110.6l.6 2.6 .7-4.6-.5-2.3z"/>
<path color="#ff1800" d="M197.3 113.2l.5 2.6 .8-4.8-.6-2.4z"/>
<path color="#ff2800" d="M197.8 115.8l.5 2.9 .8-4.6-.5-3.1z"/>
<path color="#ff5800" d="M198.3 118.7l.5 2.9 .8-4.4-.5-3.1z"/>
<path color="#ffa700" d="M198.8 121.6l.5 2.9 .8-4.2-.5-3.1z"/>
<path color="#f7ff08" d="M199.3 124.5l.5 2.9 .8-4.1-.5-3z"/>
<path color="#c7ff38" d="M199.8 127.4l.5 2.2 .8-3.7-.5-2.6z"/>
<path color="#97ff68" d="M200.3 129.6l.6 2.2 .8-3.4-.6-2.5z"/>
<path color="#68ff97" d="M200.9 131.8l.5 2.2 .8-3.1-.5-2.5z"/>
<path color="#28ffd7" d="M201.4 134l.5 2.6 .8-3.2-.5-2.5z"/>
<path color="#08fff7" d="M201.9 136.6l.5 1.9 .8-3.4-.5-1.7z"/>
<path color="#00f7ff" d="M202.4 138.5l.5 1.8 .8-3-.5-2.2z"/>
<path color="#00e7ff" d="M202.9 140.3l.5 1.9 .8-2.8-.5-2.1z"/>
<path color="#00d7ff" d="M203.4 142.2l.6 1.8 .7-2.5-.5-2.1z"/>
<path color="#00c7ff" d="M203.9 144l.5 1.2 .8-2.3-.6-1.4z"/>
<path color="#e70000" d="M192.9 105.7l2 3.5 .8-3.8-2.1 2.3z"/>
<path color="#e70000" d="M194.9 109.2l.5 2.9 .8-4.1-.5-2.6z"/>
<path color="#ff0800" d="M195.4 112.1l.6 2.8 .7-4.3-.5-2.6z"/>
<path color="#ff2800" d="M196 114.9l.5 2.9 .8-4.6-.6-2.6z"/>
<path color="#ff3800" d="M196.5 117.8l.5 2.8 .8-4.8-.5-2.6z"/>
<path color="#ff7800" d="M197 120.6l.5 2.7 .8-4.6-.5-2.9z"/>
<path color="#ffc700" d="M197.5 123.3l.5 2.7 .8-4.4-.5-2.9z"/>
<path color="#e7ff18" d="M198 126l.5 2.7 .8-4.2-.5-2.9z"/>
<path color="#b7ff48" d="M198.5 128.7l.5 2.7 .8-4-.5-2.9z"/>
<path color="#87ff78" d="M199 131.4l.6 1.9 .7-3.7-.5-2.2z"/>
<path color="#58ffa7" d="M199.6 133.3l.5 1.9 .8-3.4-.6-2.2z"/>
<path color="#28ffd7" d="M200.1 135.2l.5 2.4 .8-3.6-.5-2.2z"/>
<path color="#08fff7" d="M200.6 137.6l.5 2.5 .8-3.5-.5-2.6z"/>
<path color="#00f7ff" d="M201.1 140.1l.5 1.7 .8-3.3-.5-1.9z"/>
<path color="#00e7ff" d="M201.6 141.8l.5 1.6 .8-3.1-.5-1.8z"/>
<path color="#00d7ff" d="M202.1 143.4l.5 1.6 .8-2.8-.5-1.9z"/>
<path color="#00c7ff" d="M202.6 145l.6 1.6 .8-2.6-.6-1.8z"/>
<path color="#00b7ff" d="M203.2 146.6l.5 .8 .8-2.2-.5-1.2z"/>
<path color="#c70000" d="M192.1 103.7l.5 2.3 .8 .6-.5-.9z"/>
<path color="#d70000" d="M192.6 106l.5 2.4 .8-.9-.5-.9z"/>
<path color="#e70000" d="M193.1 108.4l.5 2.3 .8-2.3-.5-.9z"/>
<path color="#f70000" d="M193.6 110.7l.5 2.4 .8-3.9-.5-.8z"/>
<path color="#ff0800" d="M194.1 113.1l.5 3.1 .8-4.1-.5-2.9z"/>
<path color="#ff2800" d="M194.6 116.2l.6 3 .8-4.3-.6-2.8z"/>
<path color="#ff5800" d="M195.2 119.2l.5 3.1 .8-4.5-.5-2.9z"/>
<path color="#ffa700" d="M195.7 122.3l.5 3.1 .8-4.8-.5-2.8z"/>
<path color="#fff700" d="M196.2 125.4l.5 2.5 .8-4.6-.5-2.7z"/>
<path color="#d7ff28" d="M196.7 127.9l.5 2.6 .8-4.5-.5-2.7z"/>
<path color="#97ff68" d="M197.2 130.5l.5 2.5 .8-4.3-.5-2.7z"/>
<path color="#68ff97" d="M197.7 133l.5 2.5 .8-4.1-.5-2.7z"/>
<path color="#38ffc7" d="M198.2 135.5l.6 1.9 .8-4.1-.6-1.9z"/>
<path color="#18ffe7" d="M198.8 137.4l.5 2.1 .8-4.3-.5-1.9z"/>
<path color="#00f7ff" d="M199.3 139.5l.5 2.1 .8-4-.5-2.4z"/>
<path color="#00e7ff" d="M199.8 141.6l.5 2.1 .8-3.6-.5-2.5z"/>
<path color="#00d7ff" d="M200.3 143.7l.5 1.4 .8-3.3-.5-1.7z"/>
<path color="#00c7ff" d="M200.8 145.1l.5 1.3 .8-3-.5-1.6z"/>
<path color="#00b7ff" d="M201.3 146.4l1.1 2.3 .8-2.1-1.1-3.2z"/>
<path color="#00a7ff" d="M202.4 148.7l.5 .6 .8-1.9-.5-.8z"/>
<path color="#00a7ff" d="M202.9 149.3l1 1.2 2.4-4.8-1-2.8z"/>
<path color="#0097ff" d="M203.9 150.5l.5 .6 2.4-4.3-.5-1.1z"/>
<path color="#0087ff" d="M204.4 151.1l1.6 1 2.3-3.5-1.5-1.8z"/>
<path color="#0078ff" d="M206 152.1l2 1.3 2.4-3.1-2.1-1.7z"/>
<path color="#0068ff" d="M208 153.4l4.2 2.1 2.3-2.8-4.1-2.4z"/>
<path color="#0058ff" d="M212.2 155.5l6.6 2.4 4.7 .9 2.4-2.5-4.7-.8-6.7-2.8z"/>
<path color="#0068ff" d="M223.5 158.8l3.1 0 2.3-2.5-3 0z"/>
<path color="#0078ff" d="M226.6 158.8l2.6 .2 2 .5 3.6 1.8 2.4-2.5-3.6-1.8-2.1-.5-2.6-.2z"/>
<path color="#0068ff" d="M234.8 161.3l2.1 1.5 2.3-2.4-2-1.6z"/>
<path color="#0058ff" d="M236.9 162.8l2 1.7 2.4-2.5-2.1-1.6z"/>
<path color="#0048ff" d="M238.9 164.5l2.1 1.6 2.4-2.5-2.1-1.6z"/>
<path color="#0038ff" d="M241 166.1l2.1 1.4 2.3-2.5-2-1.4z"/>
<path color="#0028ff" d="M243.1 167.5l2.5 1.4 3.6 1.4 2.4-2.4-3.6-1.4-2.6-1.5z"/>
<path color="#0018ff" d="M249.2 170.3l.6 .1 2.3-2.3-.5-.2z"/>
<path color="#0028ff" d="M249.8 170.4l10.2 2.5 2.4-2.4-10.3-2.4z"/>
<path color="#0087ff" d="M94.4 119.8l5.2 1.3 2.3-2.4-5.1-1.2z"/>
<path color="#0097ff" d="M99.6 121.1l4.6 .6 2.4-2.6-4.7-.4z"/>
<path color="#00a7ff" d="M104.2 121.7l3.1 .1 2.4-2.8-3.1 .1z"/>
<path color="#08fff7" d="M113 116.6l1-1.8 2.4-4-.5 .3-.6 1.2z"/>
<path color="#18ffe7" d="M114 114.8l1-1.3 2.4-3.2-1 .5z"/>
<path color="#28ffd7" d="M115 113.5l.5-.5 1.6 1 2.4-2.2-1.6-1.7-.5 .2z"/>
<path color="#18ffe7" d="M117.1 114l.5 .4 2.4-1.9-.5-.7z"/>
<path color="#08fff7" d="M117.6 114.4l.5 1.3 2.4-1.7-.5-1.5z"/>
<path color="#00f7ff" d="M118.1 115.7l1 2.6 2.4-1.4-1-2.9z"/>
<path color="#00e7ff" d="M119.1 118.3l.6 1.3 2.3-1.2-.5-1.5z"/>
<path color="#00d7ff" d="M119.7 119.6l1 2.5 2.4-1.7-1.1-2z"/>
<path color="#00c7ff" d="M120.7 122.1l1 2.5 2.4-2.2-1-2z"/>
<path color="#00b7ff" d="M121.7 124.6l2.6 2.2 2.4-2.3-2.6-2.1z"/>
<path color="#00a7ff" d="M124.3 126.8l3.6 2.1 2.4-2.3-3.6-2.1z"/>
<path color="#0097ff" d="M127.9 128.9l4.1 1.7 4.7 .8 2.3-2.1-4.6-.9-4.1-1.8z"/>
<path color="#970000" d="M154.7 91.2l.5 2.4 2.4-1.7-.6-2.4z"/>
<path color="#b70000" d="M155.2 93.6l.5 2.3 2.4-1.7-.5-2.3z"/>
<path color="#c70000" d="M155.7 95.9l.5 2.4 2.4-1.7-.5-2.4z"/>
<path color="#d70000" d="M156.2 98.3l.5 2.4 2.4-1.8-.5-2.3z"/>
<path color="#f70000" d="M156.7 100.7l.6 3 2.3-1.7-.5-3.1z"/>
<path color="#ff1800" d="M157.3 103.7l.5 3.1 2.3-1.7-.5-3.1z"/>
<path color="#ff3800" d="M157.8 106.8l.5 3.1 2.4-1.7-.6-3.1z"/>
<path color="#ff7800" d="M158.3 109.9l.5 3.1 2.4-1.7-.5-3.1z"/>
<path color="#ffc700" d="M158.8 113l.5 2.5 2.4-1.7-.5-2.5z"/>
<path color="#f7ff08" d="M159.3 115.5l.5 2.5 2.4-1.7-.5-2.5z"/>
<path color="#c7ff38" d="M159.8 118l.5 2.5 2.4-1.7-.5-2.5z"/>
<path color="#97ff68" d="M160.3 120.5l.6 2.6 2.3-1.8-.5-2.5z"/>
<path color="#68ff97" d="M160.9 123.1l.5 1.5 2.3-1.8-.5-1.5z"/>
<path color="#48ffb7" d="M161.4 124.6l.5 1.5 2.4-1.8-.6-1.5z"/>
<path color="#28ffd7" d="M161.9 126.1l.5 1.5 2.4-1.8-.5-1.5z"/>
<path color="#18ffe7" d="M162.4 127.6l.5 1.9 2.4-1.7-.5-2z"/>
<path color="#00f7ff" d="M162.9 129.5l1.1 2.6 2.3-1.8-1-2.5z"/>
<path color="#00e7ff" d="M164 132.1l.5 1.3 2.3-1.9-.5-1.2z"/>
<path color="#00d7ff" d="M164.5 133.4l.5 1.2 1 1.4 2.4-2-1-1.2-.6-1.3z"/>
<path color="#00c7ff" d="M166 136l1 1.3 2.1 1.5 2.4-2.1-2.1-1.5-1-1.2z"/>
<path color="#00b7ff" d="M169.1 138.8l6.2 3.5 2.4-2.3-6.2-3.3z"/>
<path color="#00a7ff" d="M175.3 142.3l2.6 .9 2.3-2.4-2.5-.8z"/>
<path color="#00b7ff" d="M177.9 143.2l1.5 .1 .5-.5 2.4-2.8-.5 .7-1.6 .1z"/>
<path color="#c70000" d="M189.7 106.7l.5 2.3 2.4-3-.5-2.3z"/>
<path color="#d70000" d="M190.2 109l.5 2.4 2.4-3-.5-2.4z"/>
<path color="#f70000" d="M190.7 111.4l.5 2.4 2.4-3.1-.5-2.3z"/>
<path color="#ff0800" d="M191.2 113.8l.6 2.3 2.3-3-.5-2.4z"/>
<path color="#ff2800" d="M191.8 116.1l.5 3.1 2.3-3-.5-3.1z"/>
<path color="#ff4800" d="M192.3 119.2l.5 3.1 2.4-3.1-.6-3z"/>
<path color="#ff9700" d="M192.8 122.3l.5 3.1 2.4-3.1-.5-3.1z"/>
<path color="#ffe700" d="M193.3 125.4l.5 3.1 2.4-3.1-.5-3.1z"/>
<path color="#d7ff28" d="M193.8 128.5l.5 2.5 2.4-3.1-.5-2.5z"/>
<path color="#a7ff58" d="M194.3 131l.6 2.5 2.3-3-.5-2.6z"/>
<path color="#68ff97" d="M194.9 133.5l.5 2.5 2.3-3-.5-2.5z"/>
<path color="#38ffc7" d="M195.4 136l.5 2.7 2.3-3.2-.5-2.5z"/>
<path color="#08fff7" d="M195.9 138.7l.5 2 2.4-3.3-.6-1.9z"/>
<path color="#00f7ff" d="M196.4 140.7l.5 2.1 2.4-3.3-.5-2.1z"/>
<path color="#00e7ff" d="M196.9 142.8l.5 2 2.4-3.2-.5-2.1z"/>
<path color="#00d7ff" d="M197.4 144.8l.5 2.1 2.4-3.2-.5-2.1z"/>
<path color="#00c7ff" d="M197.9 146.9l.6 1.3 2.3-3.1-.5-1.4z"/>
<path color="#00b7ff" d="M198.5 148.2l.5 1.3 2.3-3.1-.5-1.3z"/>
<path color="#00a7ff" d="M199 149.5l.5 .9 2.4-2.7-.6-1.3z"/>
<path color="#0097ff" d="M199.5 150.4l1 1.6 2.4-2.7-1-1.6z"/>
<path color="#0087ff" d="M200.5 152l1 1 2.4-2.5-1-1.2z"/>
<path color="#0078ff" d="M201.5 153l2.6 1.9 2.4-2.4-2.6-2z"/>
<path color="#0068ff" d="M204.1 154.9l3.6 1.9 2.4-2.3-3.6-2z"/>
<path color="#0058ff" d="M207.7 156.8l8.8 3.3 5.1 .9 2.4-2.2-5.2-.9-8.7-3.4z"/>
<path color="#0068ff" d="M221.6 161l3.1 0 2.4-2.2-3.1 0z"/>
<path color="#0078ff" d="M224.7 161l4.1 .7 3.1 1.5 2.4-2.2-3.1-1.5-4.1-.7z"/>
<path color="#0068ff" d="M231.9 163.2l2.6 1.8 2.4-2.2-2.6-1.8z"/>
<path color="#0058ff" d="M234.5 165l1.5 1.2 2.4-2.1-1.5-1.3z"/>
<path color="#0048ff" d="M236.1 166.2l2.1 1.6 2.4-2.1-2.1-1.6z"/>
<path color="#0038ff" d="M238.1 167.8l2.1 1.5 2.3-2.2-2-1.4z"/>
<path color="#0028ff" d="M240.2 169.3l4.6 2.4 2.4-2.2-4.7-2.4z"/>
<path color="#0018ff" d="M244.8 171.7l4.6 1.4 2.4-2.2-4.6-1.4z"/>
<path color="#0028ff" d="M249.4 173.1l8.3 2 2.3-2.2-8.2-2z"/>
<path color="#0087ff" d="M92.1 121.7l5.1 1.4 2.4-2-5.2-1.3z"/>
<path color="#0097ff" d="M97.2 123.1l5.2 .7 2.3-2.1-5.1-.6z"/>
<path color="#00a7ff" d="M102.4 123.8l3 .1 2.4-2.1-3.1-.1z"/>
<path color="#18ffe7" d="M112.1 116.2l1.1-.5 1.5 2.4 2.4-4.1-1.6-1-1 1.1z"/>
<path color="#08fff7" d="M114.7 118.1l1 2.2 2.4-4.6-.5-1.3-.5-.4z"/>
<path color="#00f7ff" d="M115.7 120.3l.6 1.4 2.3-4.7-.5-1.3z"/>
<path color="#00e7ff" d="M116.3 121.7l.5 1.4 2.3-4.8-.5-1.3z"/>
<path color="#00d7ff" d="M116.8 123.1l1 2.3 2.4-4.5-1.1-2.6z"/>
<path color="#00c7ff" d="M117.8 125.4l1 1.7 2.4-3.8-1-2.4z"/>
<path color="#00b7ff" d="M118.8 127.1l.6 .8 1.5 .9 2.4-2.7-1.6-1.5-.5-1.3z"/>
<path color="#00a7ff" d="M120.9 128.8l3.6 2 2.4-2.5-3.6-2.2z"/>
<path color="#0097ff" d="M124.5 130.8l5.1 1.9 4.2 .6 2.3-1.9-4.1-.8-5.1-2.3z"/>
<path color="#970000" d="M152.3 93l.5 2.3 2.4-1.7-.5-2.4z"/>
<path color="#a70000" d="M152.8 95.3l.5 2.4 2.4-1.8-.5-2.3z"/>
<path color="#c70000" d="M153.3 97.7l.6 2.3 2.3-1.7-.5-2.4z"/>
<path color="#d70000" d="M153.9 100l.5 2.4 2.3-1.7-.5-2.4z"/>
<path color="#f70000" d="M154.4 102.4l.5 3.1 2.4-1.8-.6-3z"/>
<path color="#ff1800" d="M154.9 105.5l.5 3 2.4-1.7-.5-3.1z"/>
<path color="#ff3800" d="M155.4 108.5l.5 3.1 2.4-1.7-.5-3.1z"/>
<path color="#ff6800" d="M155.9 111.6l.5 3.1 2.4-1.7-.5-3.1z"/>
<path color="#ffb700" d="M156.4 114.7l.5 2.5 2.4-1.7-.5-2.5z"/>
<path color="#fff700" d="M156.9 117.2l.6 2.5 2.3-1.7-.5-2.5z"/>
<path color="#d7ff28" d="M157.5 119.7l.5 2.6 2.3-1.8-.5-2.5z"/>
<path color="#97ff68" d="M158 122.3l.5 2.5 2.4-1.7-.6-2.6z"/>
<path color="#78ff87" d="M158.5 124.8l.5 1.5 2.4-1.7-.5-1.5z"/>
<path color="#58ffa7" d="M159 126.3l.5 1.5 2.4-1.7-.5-1.5z"/>
<path color="#38ffc7" d="M159.5 127.8l.5 1.5 2.4-1.7-.5-1.5z"/>
<path color="#18ffe7" d="M160 129.3l.6 1.8 2.3-1.6-.5-1.9z"/>
<path color="#08fff7" d="M160.6 131.1l.5 1.3 2.3-1.6-.5-1.3z"/>
<path color="#00f7ff" d="M161.1 132.4l.5 1.3 2.4-1.6-.6-1.3z"/>
<path color="#00e7ff" d="M161.6 133.7l1 2.6 2.4-1.7-1-2.5z"/>
<path color="#00d7ff" d="M162.6 136.3l1.6 2.1 2.3-1.8-1.5-2z"/>
<path color="#00c7ff" d="M164.2 138.4l3 2.6 2.4-1.8-3.1-2.6z"/>
<path color="#00b7ff" d="M167.2 141l5.2 3.3 2.4-2.2-5.2-2.9z"/>
<path color="#00a7ff" d="M172.4 144.3l5.1 2.1 2.4-3.6-.5 .5-2.1-.2-2.5-1z"/>
<path color="#00b7ff" d="M177.5 146.4l1.6 .1 2.4-5.5-1.6 1.8z"/>
<path color="#00c7ff" d="M179.1 146.5l.5-.3 2.4-6.7-.5 1.5z"/>
<path color="#00e7ff" d="M181.6 140.4l.6-1.4 .3-1.1-.5 1.6z"/>
<path color="#00f7ff" d="M182.2 139l.5-1.3 .3-1.4-.5 1.6z"/>
<path color="#e7ff18" d="M185.2 128.1l.6-2.4 .3-2.5-.5 2.7z"/>
<path color="#ffc700" d="M185.8 125.7l.5-2.4 .3-2.9-.5 2.8z"/>
<path color="#ff7800" d="M186.3 123.3l.5-2.4 .3-3.3-.5 2.8z"/>
<path color="#ff3800" d="M186.8 120.9l.5-2.4 .3-3.6-.5 2.7z"/>
<path color="#ff1800" d="M187.3 118.5l.5-1.8 .4-3.9-.6 2.1z"/>
<path color="#ff0800" d="M187.8 116.7l.5-1.7 .4-4.2-.5 2z"/>
<path color="#f70000" d="M188.3 115l.5-1.8 .4-4.5-.5 2.1z"/>
<path color="#e70000" d="M188.8 113.2l.6-1.7 .3-4.8-.5 2z"/>
<path color="#e70000" d="M189.4 111.5l.5 2 .3-4.5-.5-2.3z"/>
<path color="#f70000" d="M189.9 113.5l.5 2 .3-4.1-.5-2.4z"/>
<path color="#ff0800" d="M190.4 115.5l.5 2.1 .3-3.8-.5-2.4z"/>
<path color="#ff1800" d="M190.9 117.6l.5 2 .4-3.5-.6-2.3z"/>
<path color="#ff3800" d="M191.4 119.6l.5 2.7 .4-3.1-.5-3.1z"/>
<path color="#ff7800" d="M191.9 122.3l.6 2.7 .3-2.7-.5-3.1z"/>
<path color="#ffc700" d="M192.5 125l.5 2.7 .3-2.3-.5-3.1z"/>
<path color="#f7ff08" d="M193 127.7l.5 2.7 .3-1.9-.5-3.1z"/>
<path color="#b7ff48" d="M193.5 130.4l.5 2.2 .3-1.6-.5-2.5z"/>
<path color="#87ff78" d="M194 132.6l.5 2.3 .4-1.4-.6-2.5z"/>
<path color="#58ffa7" d="M194.5 134.9l.5 2.2 .4-1.1-.5-2.5z"/>
<path color="#28ffd7" d="M195 137.1l.5 2.6 .4-1-.5-2.7z"/>
<path color="#08fff7" d="M195.5 139.7l.6 1.9 .3-.9-.5-2z"/>
<path color="#00d7ff" d="M181.3 141.4l.5-1.2 .4-1.2-.6 1.4z"/>
<path color="#00e7ff" d="M181.8 140.2l.5-1.2 .4-1.3-.5 1.3z"/>
<path color="#00f7ff" d="M182.3 139l.5-1.3 .4-1.4-.5 1.4z"/>
<path color="#18ffe7" d="M182.8 137.7l.6-2.3 .3-1.5-.5 2.4z"/>
<path color="#38ffc7" d="M183.4 135.4l.5-1.8 .3-1.6-.5 1.9z"/>
<path color="#68ff97" d="M183.9 133.6l.5-1.6 .3-1.9-.5 1.9z"/>
<path color="#97ff68" d="M184.4 132l.5-1.7 .3-2.2-.5 2z"/>
<path color="#c7ff38" d="M184.9 130.3l.5-2 .4-2.6-.6 2.4z"/>
<path color="#f7ff08" d="M185.4 128.3l.5-2 .4-3-.5 2.4z"/>
<path color="#ffc700" d="M185.9 126.3l.5-2.1 .4-3.3-.5 2.4z"/>
<path color="#ff8700" d="M186.4 124.2l.6-2 .3-3.7-.5 2.4z"/>
<path color="#ff4800" d="M187 122.2l.5-1.5 .3-4-.5 1.8z"/>
<path color="#ff3800" d="M187.5 120.7l.5-1.5 .3-4.2-.5 1.7z"/>
<path color="#ff1800" d="M188 119.2l.5-1.5 .3-4.5-.5 1.8z"/>
<path color="#ff0800" d="M188.5 117.7l.5-1.5 .4-4.7-.6 1.7z"/>
<path color="#ff0800" d="M189 116.2l.5 1.8 .4-4.5-.5-2z"/>
<path color="#ff1800" d="M189.5 118l.6 1.7 .3-4.2-.5-2z"/>
<path color="#ff2800" d="M190.1 119.7l.5 1.7 .3-3.8-.5-2.1z"/>
<path color="#ff4800" d="M190.6 121.4l.5 1.7 .3-3.5-.5-2z"/>
<path color="#ff7800" d="M191.1 123.1l.5 2.3 .3-3.1-.5-2.7z"/>
<path color="#ffc700" d="M191.6 125.4l.5 2.3 .4-2.7-.6-2.7z"/>
<path color="#f7ff08" d="M192.1 127.7l.5 2.4 .4-2.4-.5-2.7z"/>
<path color="#c7ff38" d="M192.6 130.1l.5 2.3 .4-2-.5-2.7z"/>
<path color="#97ff68" d="M193.1 132.4l.6 1.9 .3-1.7-.5-2.2z"/>
<path color="#68ff97" d="M193.7 134.3l.5 2 .3-1.4-.5-2.3z"/>
<path color="#38ffc7" d="M194.2 136.3l.5 1.9 .3-1.1-.5-2.2z"/>
<path color="#18ffe7" d="M194.7 138.2l.5 2.6 .3-1.1-.5-2.6z"/>
<path color="#00f7ff" d="M195.2 140.8l.5 1.7 .4-.9-.6-1.9z"/>
<path color="#00e7ff" d="M181.5 141.3l1-2.1 .3-1.5-1 2.5z"/>
<path color="#00f7ff" d="M182.5 139.2l.5-2 .4-1.8-.6 2.3z"/>
<path color="#18ffe7" d="M183 137.2l.5-1.9 .4-1.7-.5 1.8z"/>
<path color="#38ffc7" d="M183.5 135.3l.5-1.4 .4-1.9-.5 1.6z"/>
<path color="#68ff97" d="M184 133.9l.6-1.3 .3-2.3-.5 1.7z"/>
<path color="#97ff68" d="M184.6 132.6l.5-1.7 .3-2.6-.5 2z"/>
<path color="#b7ff48" d="M185.1 130.9l.5-1.7 .3-2.9-.5 2z"/>
<path color="#e7ff18" d="M185.6 129.2l.5-1.7 .3-3.3-.5 2.1z"/>
<path color="#ffd700" d="M186.1 127.5l.5-1.7 .4-3.6-.6 2z"/>
<path color="#ffa700" d="M186.6 125.8l.5-1.2 .4-3.9-.5 1.5z"/>
<path color="#ff8700" d="M187.1 124.6l.6-1.2 .3-4.2-.5 1.5z"/>
<path color="#ff5800" d="M187.7 123.4l.5-1.2 .3-4.5-.5 1.5z"/>
<path color="#ff3800" d="M188.2 122.2l.5-1.2 .3-4.8-.5 1.5z"/>
<path color="#ff3800" d="M188.7 121l.5 1.4 .3-4.4-.5-1.8z"/>
<path color="#ff5800" d="M189.2 122.4l.5 1.4 .4-4.1-.6-1.7z"/>
<path color="#ff7800" d="M189.7 123.8l.5 1.4 .4-3.8-.5-1.7z"/>
<path color="#ffa700" d="M190.2 125.2l.5 1.4 .4-3.5-.5-1.7z"/>
<path color="#ffd700" d="M190.7 126.6l.6 2 .3-3.2-.5-2.3z"/>
<path color="#f7ff08" d="M191.3 128.6l.5 1.9 .3-2.8-.5-2.3z"/>
<path color="#c7ff38" d="M191.8 130.5l.5 1.9 .3-2.3-.5-2.4z"/>
<path color="#a7ff58" d="M192.3 132.4l.5 1.9 .3-1.9-.5-2.3z"/>
<path color="#78ff87" d="M192.8 134.3l.5 1.7 .4-1.7-.6-1.9z"/>
<path color="#48ffb7" d="M193.3 136l.5 1.7 .4-1.4-.5-2z"/>
<path color="#28ffd7" d="M193.8 137.7l.5 1.8 .4-1.3-.5-1.9z"/>
<path color="#08fff7" d="M194.3 139.5l.6 2.3 .3-1-.5-2.6z"/>
<path color="#00f7ff" d="M194.9 141.8l.5 1.6 .3-.9-.5-1.7z"/>
<path color="#00c7ff" d="M180.6 143.3l.5-.8 .4-1.2-.5 1.1z"/>
<path color="#00d7ff" d="M181.1 142.5l.6-.9 .3-1.3-.5 1z"/>
<path color="#00e7ff" d="M181.7 141.6l.5-.9 .3-1.5-.5 1.1z"/>
<path color="#08fff7" d="M182.7 139.1l.5-1.7 .3-2.1-.5 1.9z"/>
<path color="#28ffd7" d="M183.2 137.4l.5-1.5 .3-2-.5 1.4z"/>
<path color="#38ffc7" d="M183.7 135.9l.5-1.1 .4-2.2-.6 1.3z"/>
<path color="#68ff97" d="M184.2 134.8l.5-1.4 .4-2.5-.5 1.7z"/>
<path color="#87ff78" d="M184.7 133.4l.6-1.3 .3-2.9-.5 1.7z"/>
<path color="#a7ff58" d="M185.3 132.1l.5-1.3 .3-3.3-.5 1.7z"/>
<path color="#d7ff28" d="M185.8 130.8l.5-1.3 .3-3.7-.5 1.7z"/>
<path color="#f7ff08" d="M186.3 129.5l.5-1 .3-3.9-.5 1.2z"/>
<path color="#ffe700" d="M186.8 128.5l.5-.9 .4-4.2-.6 1.2z"/>
<path color="#ffc700" d="M187.3 127.6l.5-.9 .4-4.5-.5 1.2z"/>
<path color="#ffa700" d="M187.8 126.7l.5-.9 .4-4.8-.5 1.2z"/>
<path color="#ffa700" d="M188.3 125.8l.6 1.1 .3-4.5-.5-1.4z"/>
<path color="#ffc700" d="M188.9 126.9l.5 1.1 .3-4.2-.5-1.4z"/>
<path color="#ffe700" d="M189.4 128l.5 1.1 .3-3.9-.5-1.4z"/>
<path color="#f7ff08" d="M189.9 129.1l.5 1.1 .3-3.6-.5-1.4z"/>
<path color="#d7ff28" d="M190.4 130.2l.5 1.5 .4-3.1-.6-2z"/>
<path color="#b7ff48" d="M190.9 131.7l.5 1.5 .4-2.7-.5-1.9z"/>
<path color="#97ff68" d="M191.4 133.2l.6 1.5 .3-2.3-.5-1.9z"/>
<path color="#78ff87" d="M192 134.7l.5 1.6 .3-2-.5-1.9z"/>
<path color="#58ffa7" d="M192.5 136.3l.5 1.4 .3-1.7-.5-1.7z"/>
<path color="#38ffc7" d="M193 137.7l.5 1.4 .3-1.4-.5-1.7z"/>
<path color="#18ffe7" d="M193.5 139.1l.5 1.9 .3-1.5-.5-1.8z"/>
<path color="#00f7ff" d="M194 141l.5 1.9 .4-1.1-.6-2.3z"/>
<path color="#00e7ff" d="M194.5 142.9l.5 1.4 .4-.9-.5-1.6z"/>
<path color="#00c7ff" d="M180.3 144.3l.5-.7 .3-1.1-.5 .8z"/>
<path color="#00d7ff" d="M180.8 143.6l1-1.4 .4-1.5-1.1 1.8z"/>
<path color="#00e7ff" d="M181.8 142.2l.5-1.3 .4-1.8-.5 1.6z"/>
<path color="#00f7ff" d="M182.3 140.9l.6-1.2 .3-2.3-.5 1.7z"/>
<path color="#08fff7" d="M182.9 139.7l.5-1.3 .3-2.5-.5 1.5z"/>
<path color="#18ffe7" d="M183.4 138.4l.5-1.3 .3-2.3-.5 1.1z"/>
<path color="#38ffc7" d="M183.9 137.1l.5-1.1 .3-2.6-.5 1.4z"/>
<path color="#48ffb7" d="M184.4 136l.5-1 .4-2.9-.6 1.3z"/>
<path color="#68ff97" d="M184.9 135l.5-.9 .4-3.3-.5 1.3z"/>
<path color="#87ff78" d="M185.4 134.1l.5-1 .4-3.6-.5 1.3z"/>
<path color="#a7ff58" d="M185.9 133.1l.6-.6 .3-4-.5 1z"/>
<path color="#b7ff48" d="M186.5 132.5l.5-.7 .3-4.2-.5 .9z"/>
<path color="#c7ff38" d="M187 131.8l.5-.6 .3-4.5-.5 .9z"/>
<path color="#e7ff18" d="M187.5 131.2l.5-.6 .5 .8 .4-4.5-.6-1.1-.5 .9z"/>
<path color="#d7ff28" d="M188.5 131.4l.5 .7 .4-4.1-.5-1.1z"/>
<path color="#c7ff38" d="M189 132.1l.6 .8 .3-3.8-.5-1.1z"/>
<path color="#b7ff48" d="M189.6 132.9l.5 .8 .3-3.5-.5-1.1z"/>
<path color="#97ff68" d="M190.1 133.7l.5 1.1 .3-3.1-.5-1.5z"/>
<path color="#87ff78" d="M190.6 134.8l.5 1.1 .3-2.7-.5-1.5z"/>
<path color="#68ff97" d="M191.1 135.9l.5 1.2 .4-2.4-.6-1.5z"/>
<path color="#48ffb7" d="M191.6 137.1l.5 1.1 .4-1.9-.5-1.6z"/>
<path color="#28ffd7" d="M192.1 138.2l.5 1.2 .4-1.7-.5-1.4z"/>
<path color="#18ffe7" d="M192.6 139.4l.6 1.5 .3-1.8-.5-1.4z"/>
<path color="#08fff7" d="M193.2 140.9l.5 1.5 .3-1.4-.5-1.9z"/>
<path color="#00f7ff" d="M193.7 142.4l.5 1.5 .3-1-.5-1.9z"/>
<path color="#00e7ff" d="M194.2 143.9l.5 1.3 .3-.9-.5-1.4z"/>
<path color="#00c7ff" d="M179.9 145.3l1.6-1.6 .3-1.5-1.5 2.1z"/>
<path color="#00d7ff" d="M181.5 143.7l.5-.9 .3-1.9-.5 1.3z"/>
<path color="#00e7ff" d="M182 142.8l1-1.8 .4-2.6-1.1 2.5z"/>
<path color="#00f7ff" d="M183 141l.5-.9 .4-3-.5 1.3z"/>
<path color="#08fff7" d="M183.5 140.1l.6-.9 .3-3.2-.5 1.1z"/>
<path color="#18ffe7" d="M184.1 139.2l.5-.9 .3-3.3-.5 1z"/>
<path color="#28ffd7" d="M184.6 138.3l.5-.9 .3-3.3-.5 .9z"/>
<path color="#48ffb7" d="M185.1 137.4l.5-.6 .3-3.7-.5 1z"/>
<path color="#58ffa7" d="M185.6 136.8l.5-.4 .4-3.9-.6 .6z"/>
<path color="#68ff97" d="M186.1 136.4l.5-.3 .4-4.3-.5 .7z"/>
<path color="#78ff87" d="M186.6 136.1l.6-.4 .3-4.5-.5 .6z"/>
<path color="#87ff78" d="M187.2 135.7l.5-.3 .5 .4 .3-4.4-.5-.8-.5 .6z"/>
<path color="#78ff87" d="M188.2 135.8l1 .9 .4-3.8-1.1-1.5z"/>
<path color="#68ff97" d="M189.2 136.7l.5 .5 .4-3.5-.5-.8z"/>
<path color="#58ffa7" d="M189.7 137.2l.5 .7 .4-3.1-.5-1.1z"/>
<path color="#48ffb7" d="M190.2 137.9l.6 .8 .3-2.8-.5-1.1z"/>
<path color="#38ffc7" d="M190.8 138.7l.5 .8 .3-2.4-.5-1.2z"/>
<path color="#28ffd7" d="M191.3 139.5l.5 1 .3-2.3-.5-1.1z"/>
<path color="#18ffe7" d="M191.8 140.5l.5 1.1 .3-2.2-.5-1.2z"/>
<path color="#08fff7" d="M192.3 141.6l.5 1.1 .4-1.8-.6-1.5z"/>
<path color="#00f7ff" d="M192.8 142.7l.5 1.1 .4-1.4-.5-1.5z"/>
<path color="#00e7ff" d="M193.3 143.8l1.1 2.3 .3-.9-1-2.8z"/>
<path color="#00b7ff" d="M179.6 146.2l1-.7 .4-1.3-1.1 1.1z"/>
<path color="#00c7ff" d="M180.6 145.5l1.1-.9 .3-1.8-1 1.4z"/>
<path color="#00d7ff" d="M181.7 144.6l1-1 .3-2.6-1 1.8z"/>
<path color="#00e7ff" d="M182.7 143.6l1-.9 .4-3.5-1.1 1.8z"/>
<path color="#00f7ff" d="M183.7 142.7l1.1-.8 .3-4.5-1 1.8z"/>
<path color="#08fff7" d="M184.8 141.9l1-.6 .3-4.9-1 1z"/>
<path color="#18ffe7" d="M185.8 141.3l1-.3 .4-5.3-1.1 .7z"/>
<path color="#28ffd7" d="M186.8 141l1.6 .1 .3-4.8-1-.9-.5 .3z"/>
<path color="#18ffe7" d="M188.4 141.1l1.5 .7 .3-3.9-1.5-1.6z"/>
<path color="#08fff7" d="M189.9 141.8l1 .9 .4-3.2-1.1-1.6z"/>
<path color="#00f7ff" d="M190.9 142.7l1.6 1.9 .3-1.9-1.5-3.2z"/>
<path color="#00e7ff" d="M192.5 144.6l1 1.4 .3-1-1-2.3z"/>
<path color="#00d7ff" d="M193.5 146l.5 1 .4-.9-.6-1.1z"/>
<path color="#00e7ff" d="M194 147l.5 .9 2.4-5.1-.5-2.1z"/>
<path color="#00d7ff" d="M194.5 147.9l.6 1 2.3-4.1-.5-2z"/>
<path color="#00c7ff" d="M195.1 148.9l.5 1 2.3-3-.5-2.1z"/>
<path color="#00b7ff" d="M195.6 149.9l1 1.9 2.4-2.3-1.1-2.6z"/>
<path color="#00a7ff" d="M196.6 151.8l.5 .8 2.4-2.2-.5-.9z"/>
<path color="#0097ff" d="M197.1 152.6l1 1.5 2.4-2.1-1-1.6z"/>
<path color="#0087ff" d="M198.1 154.1l1.1 1.3 2.3-2.4-1-1z"/>
<path color="#0078ff" d="M199.2 155.4l1.5 1.4 2.4-2.5-1.6-1.3z"/>
<path color="#0068ff" d="M200.7 156.8l3.1 1.8 2.4-2.5-3.1-1.8z"/>
<path color="#0058ff" d="M203.8 158.6l10.3 3.5 5.2 .8 2.3-1.9-3.1-.4-4.1-1.1-8.2-3.4z"/>
<path color="#0068ff" d="M219.3 162.9l3.1 .1 2.3-2-3.1 0z"/>
<path color="#0078ff" d="M222.4 163l4.1 .6 3.6 1.9 2.3-2-3.6-1.8-4.1-.7z"/>
<path color="#0068ff" d="M230.1 165.5l2 1.5 2.4-2-2.1-1.5z"/>
<path color="#0058ff" d="M232.1 167l1.6 1.2 2.3-2-1.5-1.2z"/>
<path color="#0048ff" d="M233.7 168.2l2 1.6 2.4-2-2.1-1.6z"/>
<path color="#0038ff" d="M235.7 169.8l2.6 1.8 2.4-2-2.6-1.8z"/>
<path color="#0028ff" d="M238.3 171.6l4.7 2.4 2.3-2.1-4.6-2.3z"/>
<path color="#0018ff" d="M243 174l3 .9 2.4-2.1-3.1-.9z"/>
<path color="#0028ff" d="M246 174.9l9.3 2.2 2.4-2-9.3-2.3z"/>
<path color="#0087ff" d="M89.7 123.8l3.6 1.1 2.4-2.2-3.6-1z"/>
<path color="#0097ff" d="M93.3 124.9l6.7 1.2 2.4-2.3-6.7-1.1z"/>
<path color="#00a7ff" d="M100 126.1l3.6 .2 2.4-2.4-3.6-.1z"/>
<path color="#08fff7" d="M108.7 119.4l1.6-.6 2.4-2.8-1.6 .7z"/>
<path color="#18ffe7" d="M110.3 118.8l.5-.1 .5 .7 2.4-2.9-.5-.8-.5 .3z"/>
<path color="#08fff7" d="M111.3 119.4l1 1.6 2.4-2.9-1-1.6z"/>
<path color="#00f7ff" d="M112.3 121l1.1 2.1 2.3-2.8-1-2.2z"/>
<path color="#00e7ff" d="M113.4 123.1l.5 1.4 2.4-2.8-.6-1.4z"/>
<path color="#00d7ff" d="M113.9 124.5l1 2.7 2.4-2.6-1-2.9z"/>
<path color="#00c7ff" d="M114.9 127.2l1.1 1.6 2.3-2.6-1-1.6z"/>
<path color="#00b7ff" d="M116 128.8l1 1.5 2.4-2.4-1.1-1.7z"/>
<path color="#00a7ff" d="M117 130.3l3.6 2 2.4-2.3-3.6-2.1z"/>
<path color="#0097ff" d="M120.6 132.3l4.6 2 5.2 .9 2.3-2-5.1-1.1-4.6-2.1z"/>
<path color="#00a7ff" d="M130.4 135.2l3.6-.1 2.3-1.7-3.6-.2z"/>
<path color="#a70000" d="M151 97.5l.5-.6 .8-3.9-.5 2z"/>
<path color="#a70000" d="M151.5 96.9l.5 2.6 .8-4.2-.5-2.3z"/>
<path color="#b70000" d="M152 99.5l.5 2.6 .8-4.4-.5-2.4z"/>
<path color="#d70000" d="M152.5 102.1l.6 2.6 .8-4.7-.6-2.3z"/>
<path color="#e70000" d="M153.1 104.7l.5 2.6 .8-4.9-.5-2.4z"/>
<path color="#ff0800" d="M153.6 107.3l.5 2.9 .8-4.7-.5-3.1z"/>
<path color="#ff2800" d="M154.1 110.2l.5 2.9 .8-4.6-.5-3z"/>
<path color="#ff4800" d="M154.6 113.1l.5 2.9 .8-4.4-.5-3.1z"/>
<path color="#ff9700" d="M155.1 116l.5 2.8 .8-4.1-.5-3.1z"/>
<path color="#ffd700" d="M155.6 118.8l.6 2.2 .7-3.8-.5-2.5z"/>
<path color="#e7ff18" d="M156.2 121l.5 2.2 .8-3.5-.6-2.5z"/>
<path color="#b7ff48" d="M156.7 123.2l.5 2.2 .8-3.1-.5-2.6z"/>
<path color="#87ff78" d="M157.2 125.4l.5 2.1 .8-2.7-.5-2.5z"/>
<path color="#68ff97" d="M157.7 127.5l.5 1.4 .8-2.6-.5-1.5z"/>
<path color="#48ffb7" d="M158.2 128.9l.5 1.3 .8-2.4-.5-1.5z"/>
<path color="#28ffd7" d="M158.7 130.2l.5 1.6 .8-2.5-.5-1.5z"/>
<path color="#08fff7" d="M159.2 131.8l.6 1.7 .8-2.4-.6-1.8z"/>
<path color="#b70000" d="M148.7 97.2l2 3.6 .8-3.9-2 2.3z"/>
<path color="#c70000" d="M150.7 100.8l.5 2.8 .8-4.1-.5-2.6z"/>
<path color="#e70000" d="M151.2 103.6l.6 2.9 .7-4.4-.5-2.6z"/>
<path color="#f70000" d="M151.8 106.5l.5 2.8 .8-4.6-.6-2.6z"/>
<path color="#ff1800" d="M152.3 109.3l.5 2.9 .8-4.9-.5-2.6z"/>
<path color="#ff3800" d="M152.8 112.2l.5 2.7 .8-4.7-.5-2.9z"/>
<path color="#ff6800" d="M153.3 114.9l.5 2.7 .8-4.5-.5-2.9z"/>
<path color="#ffa700" d="M153.8 117.6l.5 2.7 .8-4.3-.5-2.9z"/>
<path color="#fff700" d="M154.3 120.3l.5 2.7 .8-4.2-.5-2.8z"/>
<path color="#d7ff28" d="M154.8 123l.6 1.8 .8-3.8-.6-2.2z"/>
<path color="#a7ff58" d="M155.4 124.8l.5 1.8 .8-3.4-.5-2.2z"/>
<path color="#87ff78" d="M155.9 126.6l.5 1.9 .8-3.1-.5-2.2z"/>
<path color="#58ffa7" d="M156.4 128.5l.5 1.8 .8-2.8-.5-2.1z"/>
<path color="#38ffc7" d="M156.9 130.3l.5 1.2 .8-2.6-.5-1.4z"/>
<path color="#18ffe7" d="M157.4 131.5l.5 1.5 .8-2.8-.5-1.3z"/>
<path color="#08fff7" d="M157.9 133l.6 1.5 .7-2.7-.5-1.6z"/>
<path color="#00f7ff" d="M158.5 134.5l.5 1.5 .8-2.5-.6-1.7z"/>
<path color="#a70000" d="M147.9 95.3l.5 2.4 .8 .4-.5-.9z"/>
<path color="#b70000" d="M148.4 97.7l.5 2.3 .8-1-.5-.9z"/>
<path color="#d70000" d="M149.4 102.4l.5 2.3 .8-3.9-.5-.9z"/>
<path color="#e70000" d="M149.9 104.7l.6 3.1 .7-4.2-.5-2.8z"/>
<path color="#ff0800" d="M150.5 107.8l.5 3.1 .8-4.4-.6-2.9z"/>
<path color="#ff2800" d="M151 110.9l.5 3.1 .8-4.7-.5-2.8z"/>
<path color="#ff3800" d="M151.5 114l.5 3.1 .8-4.9-.5-2.9z"/>
<path color="#ff8700" d="M152 117.1l.5 2.5 .8-4.7-.5-2.7z"/>
<path color="#ffd700" d="M152.5 119.6l.5 2.5 .8-4.5-.5-2.7z"/>
<path color="#e7ff18" d="M153 122.1l.5 2.5 .8-4.3-.5-2.7z"/>
<path color="#b7ff48" d="M153.5 124.6l.6 2.5 .7-4.1-.5-2.7z"/>
<path color="#87ff78" d="M154.1 127.1l.5 1.5 .8-3.8-.6-1.8z"/>
<path color="#68ff97" d="M154.6 128.6l.5 1.5 .8-3.5-.5-1.8z"/>
<path color="#48ffb7" d="M155.1 130.1l.5 1.5 .8-3.1-.5-1.9z"/>
<path color="#28ffd7" d="M155.6 131.6l.5 2 .8-3.3-.5-1.8z"/>
<path color="#08fff7" d="M156.1 133.6l.5 1.2 .8-3.3-.5-1.2z"/>
<path color="#00f7ff" d="M156.6 134.8l1.1 2.4 .8-2.7-1.1-3z"/>
<path color="#00e7ff" d="M157.7 137.2l.5 1.2 .8-2.4-.5-1.5z"/>
<path color="#00e7ff" d="M158.2 138.4l1.5 1.8 2.4-5.2-1.5-3.9z"/>
<path color="#00d7ff" d="M159.7 140.2l1.1 1 2.3-4.2-1-2z"/>
<path color="#00c7ff" d="M160.8 141.2l3.6 2.3 2.3-2.8-2-1.7-1.6-2z"/>
<path color="#00b7ff" d="M164.4 143.5l5.1 2.8 2.4-2.3-5.2-3.3z"/>
<path color="#00a7ff" d="M169.5 146.3l5.2 2.2 2.5 .1 2.4-2.4-.5 .3-2.1-.2-5.1-2.3z"/>
<path color="#00b7ff" d="M177.2 148.6l1.6-.8 2.4-2.7-1.6 1.1z"/>
<path color="#00c7ff" d="M178.8 147.8l1.5-1.5 2.4-2.7-1.5 1.5z"/>
<path color="#00d7ff" d="M180.3 146.3l1.1-.8 2.3-2.8-1 .9z"/>
<path color="#00e7ff" d="M181.4 145.5l2-1.3 2.4-2.9-2.1 1.4z"/>
<path color="#00f7ff" d="M183.4 144.2l1.6-.5 2 .6 2.1 1.7 2.4-2.9-2.1-1.7-2.1-.6-1.5 .5z"/>
<path color="#00e7ff" d="M189.1 146l1.5 2.1 2.4-2.8-1.5-2.2z"/>
<path color="#00d7ff" d="M190.6 148.1l1.1 1.7 2.3-2.8-1-1.7z"/>
<path color="#00c7ff" d="M191.7 149.8l1 1.9 2.4-2.8-1.1-1.9z"/>
<path color="#00b7ff" d="M192.7 151.7l1 1.9 2.4-2.7-1-2z"/>
<path color="#00a7ff" d="M193.7 153.6l1 1.5 2.4-2.5-1-1.7z"/>
<path color="#0097ff" d="M194.7 155.1l.6 .8 2.3-2.5-.5-.8z"/>
<path color="#0087ff" d="M195.3 155.9l1 1.2 2.4-2.4-1.1-1.3z"/>
<path color="#0078ff" d="M196.3 157.1l1 1.3 2.4-2.3-1-1.4z"/>
<path color="#0068ff" d="M197.3 158.4l3.1 1.9 2.4-2.2-3.1-2z"/>
<path color="#0058ff" d="M200.4 160.3l11.3 4 4.7 .8 2.3-2.2-4.6-.8-11.3-4z"/>
<path color="#0068ff" d="M216.4 165.1l3.1 0 2.3-2.1-3.1-.1z"/>
<path color="#0078ff" d="M219.5 165.1l2.5 .1 2.1 .5 3.6 1.9 2.4-2.1-3.6-1.9-2.1-.5-2.6-.1z"/>
<path color="#0068ff" d="M227.7 167.6l2.1 1.5 2.3-2.1-2-1.5z"/>
<path color="#0058ff" d="M229.8 169.1l2 1.7 2.4-2.2-2.1-1.6z"/>
<path color="#0048ff" d="M231.8 170.8l1.6 1.3 2.3-2.3-1.5-1.2z"/>
<path color="#0038ff" d="M233.4 172.1l2.5 1.8 2.4-2.3-2.6-1.8z"/>
<path color="#0028ff" d="M235.9 173.9l4.2 2.2 2.3-2.4-4.1-2.1z"/>
<path color="#0018ff" d="M240.1 176.1l4.1 1.3 2.4-2.4-4.2-1.3z"/>
<path color="#0028ff" d="M244.2 177.4l8.7 2 2.4-2.3-8.7-2.1z"/>
<path color="#0087ff" d="M87.3 125.9l2.6 .8 2.4-2.1-2.6-.8z"/>
<path color="#0097ff" d="M89.9 126.7l7.7 1.4 2.4-2-7.7-1.5z"/>
<path color="#00a7ff" d="M97.6 128.1l3.6 .1 2.4-1.9-3.6-.2z"/>
<path color="#00f7ff" d="M105.3 123l1.1-1.8 2.3-1.8-1 1.9z"/>
<path color="#08fff7" d="M106.4 121.2l1.5-.4 2.4-2-1.6 .6z"/>
<path color="#18ffe7" d="M107.9 120.8l.5-.1 2.4-2-.5 .1z"/>
<path color="#08fff7" d="M108.4 120.7l1.1 1.4 2.3-1.9-1-1.5z"/>
<path color="#00f7ff" d="M109.5 122.1l1.5 2.8 2.4-1.8-1.6-2.9z"/>
<path color="#00e7ff" d="M111 124.9l.5 1.3 2.4-1.7-.5-1.4z"/>
<path color="#00d7ff" d="M111.5 126.2l1.1 2.6 2.3-1.6-1-2.7z"/>
<path color="#00c7ff" d="M112.5 128.8l1 1.8 2.4-1.8-1.1-1.6z"/>
<path color="#00b7ff" d="M113.6 130.6l1 1.7 2.4-2-1-1.5z"/>
<path color="#00a7ff" d="M114.6 132.3l3.6 2.1 2.4-2.1-3.6-2z"/>
<path color="#0097ff" d="M118.2 134.4l4.6 2 5.7 1.4 2.4-2.6-5.7-.9-4.6-2z"/>
<path color="#00a7ff" d="M128.5 137.8l3.6 .3 2.4-3.1-3.6 .2z"/>
<path color="#f70000" d="M145.3 108l.6-2 .4-4.6-.5 2.1z"/>
<path color="#d70000" d="M145.9 106l.5-2.1 .5-4.5-.6 2z"/>
<path color="#c70000" d="M146.4 103.9l.5-2.1 .5-4.4-.5 2z"/>
<path color="#b70000" d="M146.9 101.8l.5-2.1 .5-4.4-.5 2.1z"/>
<path color="#b70000" d="M147.4 99.7l.5 1.4 .5-3.4-.5-2.4z"/>
<path color="#c70000" d="M147.9 101.1l.5 1.3 .5-2.4-.5-2.3z"/>
<path color="#d70000" d="M148.4 102.4l.6 1.3 .4-1.3-.5-2.4z"/>
<path color="#f70000" d="M145.9 108.4l.5-2.1 .5-4.5-.5 2.1z"/>
<path color="#d70000" d="M146.4 106.3l.5-2.1 .5-4.5-.5 2.1z"/>
<path color="#d70000" d="M146.9 104.2l.5 .3 .5-3.4-.5-1.4z"/>
<path color="#d70000" d="M147.4 104.5l.6 .3 .4-2.4-.5-1.3z"/>
<path color="#00d7ff" d="M159.3 139.1l1 1.4 .5 .5-1-1.1z"/>
<path color="#00e7ff" d="M158.3 136.7l1 2.4 .5 .7-1-1.9z"/>
<path color="#08fff7" d="M157.3 133.9l.5 1.6 .5 1.2-.5-1.5z"/>
<path color="#00f7ff" d="M157.8 135.5l.5 1.8 .5 .9-.5-1.5z"/>
<path color="#00f7ff" d="M158.3 137.3l.6 1.1 .4 .7-.5-.9z"/>
<path color="#00e7ff" d="M158.9 138.4l.5 1.1 .4 .5-.5-.9z"/>
<path color="#b7ff48" d="M154.8 125l.5 2.5 .5 1.6-.5-2.2z"/>
<path color="#87ff78" d="M155.3 127.5l.5 2.5 .5 1.3-.5-2.2z"/>
<path color="#58ffa7" d="M155.8 130l.5 1.5 .5 1.1-.5-1.3z"/>
<path color="#38ffc7" d="M156.3 131.5l.5 1.5 .5 .9-.5-1.3z"/>
<path color="#28ffd7" d="M156.8 133l.6 1.5 .4 1-.5-1.6z"/>
<path color="#08fff7" d="M157.4 134.5l.5 1.9 .4 .9-.5-1.8z"/>
<path color="#00f7ff" d="M157.9 136.4l1 2.6 .5 .5-1.1-2.2z"/>
<path color="#00d7ff" d="M158.9 139l1 2.5 2.4 .8-1-.7z"/>
<path color="#00c7ff" d="M159.9 141.5l2.1 2.7 1 .8 2.4-.9-3.1-1.8z"/>
<path color="#00b7ff" d="M163 145l4.7 3.3 2.3-1.8-4.6-2.4z"/>
<path color="#00a7ff" d="M167.7 148.3l4.6 2.3 2.6 .3 2.3-2.3-2.5-.1-4.7-2z"/>
<path color="#00b7ff" d="M174.9 150.9l2-1 2.4-2.6-2.1 1.3z"/>
<path color="#00c7ff" d="M176.9 149.9l1.1-.9 2.3-2.7-1 1z"/>
<path color="#00d7ff" d="M178 149l2-1.5 2.4-2.8-2.1 1.6z"/>
<path color="#00e7ff" d="M180 147.5l2.1-.8 2.3-2.8-2 .8z"/>
<path color="#00f7ff" d="M182.1 146.7l.5-.1 2 .5 .6 .4 2.3-2.8-.5-.4-2-.6-.6 .2z"/>
<path color="#00e7ff" d="M185.2 147.5l1.5 1.3 1 1.4 2.4-2.8-1-1.4-1.6-1.3z"/>
<path color="#00d7ff" d="M187.7 150.2l1.6 2.4 2.4-2.8-1.6-2.4z"/>
<path color="#00c7ff" d="M189.3 152.6l1 1.8 2.4-2.7-1-1.9z"/>
<path color="#00b7ff" d="M190.3 154.4l1 1.7 2.4-2.5-1-1.9z"/>
<path color="#00a7ff" d="M191.3 156.1l.6 .7 2.3-2.4-.5-.8z"/>
<path color="#0097ff" d="M191.9 156.8l1 1.5 2.4-2.4-1.1-1.5z"/>
<path color="#0087ff" d="M192.9 158.3l1 1.1 2.4-2.3-1-1.2z"/>
<path color="#0078ff" d="M193.9 159.4l1.1 1.2 2.3-2.2-1-1.3z"/>
<path color="#0068ff" d="M194.9 160.6l3 1.8 2.4-2.1-3.1-1.9z"/>
<path color="#0058ff" d="M198 162.4l11.4 3.9 4.6 .8 2.4-2-4.7-.8-11.3-4z"/>
<path color="#0068ff" d="M214 167.1l3.1 .1 2.4-2.1-3.1 0z"/>
<path color="#0078ff" d="M217.1 167.2l2.6 .1 2 .5 4.1 2.2 2.4-2.1-4.1-2.2-2.1-.5-2.5-.1z"/>
<path color="#0068ff" d="M225.9 170l1.6 1.2 2.4-2.1-1.6-1.2z"/>
<path color="#0058ff" d="M227.4 171.2l2.1 1.7 2.3-2.1-2-1.7z"/>
<path color="#0048ff" d="M229.5 172.9l1.5 1.2 2.4-2-1.6-1.3z"/>
<path color="#0038ff" d="M231 174.1l2.6 1.8 2.3-2-2.5-1.8z"/>
<path color="#0028ff" d="M233.6 175.9l4.1 2.1 2.4-1.9-4.2-2.2z"/>
<path color="#0018ff" d="M237.7 178l4.1 1.3 2.4-1.9-4.1-1.3z"/>
<path color="#0028ff" d="M241.8 179.3l8.8 2.1 2.3-2-8.7-2z"/>
<path color="#0087ff" d="M84.9 128.2l3.1 .9 2.4-2.3-3.1-.9z"/>
<path color="#0097ff" d="M88 129.1l7.2 1.2 2.4-2.2-7.2-1.3z"/>
<path color="#00a7ff" d="M95.2 130.3l3.1 0 2.4-2-3.1-.2z"/>
<path color="#08fff7" d="M103.5 123.7l.5-.8 1-.4 2.4-1.6-1 .3-.5 .9z"/>
<path color="#18ffe7" d="M105 122.5l1.1-.3 .5 .6 2.3-1.4-.5-.7-1 .2z"/>
<path color="#08fff7" d="M106.6 122.8l1 1.3 2.4-1.2-1.1-1.5z"/>
<path color="#00f7ff" d="M107.6 124.1l1 1.9 2.4-1.1-1-2z"/>
<path color="#00e7ff" d="M108.6 126l1.1 2.5 2.3-1-1-2.6z"/>
<path color="#00d7ff" d="M109.7 128.5l.5 1.3 2.4-1-.6-1.3z"/>
<path color="#00c7ff" d="M110.2 129.8l1.5 3.1 2.4-1.4-1.5-2.7z"/>
<path color="#00b7ff" d="M111.7 132.9l.5 1 1.1 .9 2.3-1.8-1-.7-.5-.8z"/>
<path color="#00a7ff" d="M113.3 134.8l3.1 1.9 2.3-2-3.1-1.7z"/>
<path color="#0097ff" d="M116.4 136.7l6.1 2.6 4.7 .7 2.3-2.1-4.6-.8-6.2-2.4z"/>
<path color="#00a7ff" d="M127.2 140l3.6 0 2.4-1.9-3.7-.2z"/>
<path color="#00b7ff" d="M130.8 140l2-.5 .6-.5 2.3-1.3-2.5 .4z"/>
<path color="#a70000" d="M148.3 102.5l.5-.5 .8-3.8-.5 2z"/>
<path color="#a70000" d="M148.8 102l.6 2.6 .7-4.1-.5-2.3z"/>
<path color="#c70000" d="M149.4 104.6l.5 2.6 .8-4.3-.6-2.4z"/>
<path color="#d70000" d="M149.9 107.2l.5 2.6 .8-4.6-.5-2.3z"/>
<path color="#e70000" d="M150.4 109.8l.5 2.6 .8-4.8-.5-2.4z"/>
<path color="#ff0800" d="M150.9 112.4l.5 2.9 .8-4.6-.5-3.1z"/>
<path color="#ff2800" d="M151.4 115.3l.5 2.9 .8-4.4-.5-3.1z"/>
<path color="#ff4800" d="M151.9 118.2l.5 2.8 .8-4.2-.5-3z"/>
<path color="#ff9700" d="M152.4 121l.6 2.9 .8-4-.6-3.1z"/>
<path color="#ffe700" d="M153 123.9l.5 2.2 .8-3.7-.5-2.5z"/>
<path color="#e7ff18" d="M153.5 126.1l.5 2.2 .8-3.3-.5-2.6z"/>
<path color="#b7ff48" d="M154 128.3l.5 2.2 .8-3-.5-2.5z"/>
<path color="#87ff78" d="M154.5 130.5l.5 2.1 .8-2.6-.5-2.5z"/>
<path color="#58ffa7" d="M155 132.6l.5 1.4 .8-2.5-.5-1.5z"/>
<path color="#38ffc7" d="M155.5 134l.5 1.3 .8-2.3-.5-1.5z"/>
<path color="#28ffd7" d="M156.1 135.3l.6 1.7 .8-2.5-.6-1.5z"/>
<path color="#08fff7" d="M156.6 137l.5 1.7 .8-2.3-.5-1.9z"/>
<path color="#b70000" d="M146 102.2l2 3.6 .8-3.8-2 2.3z"/>
<path color="#c70000" d="M148.1 105.8l.6 2.8 .8-4-.6-2.6z"/>
<path color="#e70000" d="M148.6 108.6l.5 2.9 .8-4.3-.5-2.6z"/>
<path color="#f70000" d="M149.1 111.5l.5 2.8 .8-4.5-.5-2.6z"/>
<path color="#ff1800" d="M149.6 114.3l.5 2.8 .8-4.7-.5-2.6z"/>
<path color="#ff3800" d="M150.1 117.1l.5 2.7 .8-4.5-.5-2.9z"/>
<path color="#ff6800" d="M150.6 119.8l.5 2.7 .8-4.3-.5-2.9z"/>
<path color="#ffb700" d="M151.1 122.5l.6 2.8 .7-4.3-.5-2.8z"/>
<path color="#fff700" d="M151.7 125.3l.5 2.7 .8-4.1-.6-2.9z"/>
<path color="#d7ff28" d="M152.2 128l.5 1.8 .8-3.7-.5-2.2z"/>
<path color="#a7ff58" d="M152.7 129.8l.5 1.8 .8-3.3-.5-2.2z"/>
<path color="#87ff78" d="M153.2 131.6l.5 1.9 .8-3-.5-2.2z"/>
<path color="#58ffa7" d="M153.7 133.5l.5 1.8 .8-2.7-.5-2.1z"/>
<path color="#28ffd7" d="M154.2 135.3l.5 1.2 .8-2.5-.5-1.4z"/>
<path color="#18ffe7" d="M154.7 136.5l.6 1.6 .7-2.8-.5-1.3z"/>
<path color="#08fff7" d="M155.3 138.1l.5 1.5 .8-2.6-.6-1.7z"/>
<path color="#00f7ff" d="M155.8 139.6l.5 1.5 .8-2.4-.5-1.7z"/>
<path color="#a70000" d="M145.2 100.2l.5 2.3 .8 .6-.5-.9z"/>
<path color="#b70000" d="M145.7 102.5l.5 2.4 .8-.9-.5-.9z"/>
<path color="#c70000" d="M146.2 104.9l.5 2.3 .8-2.3-.5-.9z"/>
<path color="#d70000" d="M146.7 107.2l.6 2.4 .7-3.8-.5-.9z"/>
<path color="#e70000" d="M147.3 109.6l.5 3.1 .8-4.1-.6-2.8z"/>
<path color="#ff0800" d="M147.8 112.7l.5 3 .8-4.2-.5-2.9z"/>
<path color="#ff2800" d="M148.3 115.7l.5 3.1 .8-4.5-.5-2.8z"/>
<path color="#ff3800" d="M148.8 118.8l.5 3.1 .8-4.8-.5-2.8z"/>
<path color="#ff8700" d="M149.3 121.9l.5 2.5 .8-4.6-.5-2.7z"/>
<path color="#ffd700" d="M149.8 124.4l.6 2.5 .7-4.4-.5-2.7z"/>
<path color="#e7ff18" d="M150.3 126.9l.5 2.6 .8-4.2-.6-2.8z"/>
<path color="#b7ff48" d="M150.9 129.5l.5 2.5 .8-4-.5-2.7z"/>
<path color="#87ff78" d="M151.4 132l.5 1.5 .8-3.7-.5-1.8z"/>
<path color="#68ff97" d="M151.9 133.5l.5 1.5 .8-3.4-.5-1.8z"/>
<path color="#48ffb7" d="M152.4 135l.5 1.5 .8-3-.5-1.9z"/>
<path color="#28ffd7" d="M152.9 136.5l.5 2 .8-3.2-.5-1.8z"/>
<path color="#08fff7" d="M153.4 138.5l.6 1.2 .7-3.2-.5-1.2z"/>
<path color="#00f7ff" d="M154 139.7l1 2.5 .8-2.6-1.1-3.1z"/>
<path color="#00e7ff" d="M155 142.2l.5 1.2 .8-2.3-.5-1.5z"/>
<path color="#00e7ff" d="M155.5 143.4l1 1.3 2.4-5.7-1-2.6z"/>
<path color="#00d7ff" d="M156.5 144.7l1.6 1.7 2.3-4.2-1.5-3.2z"/>
<path color="#00c7ff" d="M158.1 146.4l2.5 1.8 2.4-3.2-1-.8-1.6-2z"/>
<path color="#00b7ff" d="M160.6 148.2l4.7 2.7 2.4-2.6-4.7-3.3z"/>
<path color="#00a7ff" d="M165.3 150.9l4.6 2.1 2.1 .5 1-.2 2.4-2.5-1 .2-2.1-.4-4.6-2.3z"/>
<path color="#00b7ff" d="M173 153.3l1-.2 1.1-.8 2.3-2.9-2 1.4z"/>
<path color="#00c7ff" d="M175.1 152.3l1.5-1.1 2.4-3-1.6 1.2z"/>
<path color="#00d7ff" d="M176.6 151.2l1.6-1 2.3-3.1-1.5 1.1z"/>
<path color="#00e7ff" d="M178.2 150.2l2-.5 2.1 .5 2 1.7 2.4-3.1-2.1-1.7-2-.5-2.1 .5z"/>
<path color="#00d7ff" d="M184.3 151.9l1.6 2.1 2.4-3-1.6-2.2z"/>
<path color="#00c7ff" d="M185.9 154l1.5 2.5 2.4-3-1.5-2.5z"/>
<path color="#00b7ff" d="M187.4 156.5l1.1 1.6 2.3-2.8-1-1.8z"/>
<path color="#00a7ff" d="M188.5 158.1l1 1.4 2.4-2.7-1.1-1.5z"/>
<path color="#0097ff" d="M189.5 159.5l.5 .7 2.4-2.6-.5-.8z"/>
<path color="#0087ff" d="M190 160.2l1 1.2 2.4-2.5-1-1.3z"/>
<path color="#0078ff" d="M191 161.4l1.6 1.6 2.4-2.4-1.6-1.7z"/>
<path color="#0068ff" d="M192.6 163l2.6 1.5 2.3-2.4-2.5-1.5z"/>
<path color="#0058ff" d="M195.2 164.5l11.8 4.1 4.6 .9 2.4-2.4-4.6-.8-11.9-4.2z"/>
<path color="#0068ff" d="M211.6 169.5l3.1 0 2.4-2.3-3.1-.1z"/>
<path color="#0078ff" d="M214.7 169.5l2.6 .1 2.1 .5 3.6 1.9 2.3-2.3-3.6-1.9-2-.5-2.6-.1z"/>
<path color="#0068ff" d="M223 172l2 1.5 2.4-2.3-2.1-1.5z"/>
<path color="#0058ff" d="M225 173.5l2.1 1.7 2.4-2.3-2.1-1.7z"/>
<path color="#0048ff" d="M227.1 175.2l1.5 1.2 2.4-2.3-1.5-1.2z"/>
<path color="#0038ff" d="M228.6 176.4l2.6 1.9 2.4-2.4-2.6-1.8z"/>
<path color="#0028ff" d="M231.2 178.3l4.1 2.1 2.4-2.4-4.1-2.1z"/>
<path color="#0018ff" d="M235.3 180.4l4.7 1.4 2.3-2.4-4.6-1.4z"/>
<path color="#0028ff" d="M240 181.8l8.2 1.9 2.4-2.3-8.3-2z"/>
<path color="#0087ff" d="M82.6 130.4l4.1 1.1 2.4-2.2-4.2-1.1z"/>
<path color="#0097ff" d="M86.7 131.5l6.2 1 2.3-2.2-6.1-1z"/>
<path color="#00a7ff" d="M92.9 132.5l3.1 0 2.3-2.2-3.1 0z"/>
<path color="#00b7ff" d="M96 132.5l1.5-.6 2.4-2.3-1.6 .7z"/>
<path color="#08fff7" d="M101.1 126.2l1-1.2 2.4-2.3-.5 .2-.5 .8z"/>
<path color="#18ffe7" d="M102.1 125l1.6-.8 1.5 1.3 2.4-1.4-1.5-1.9-1.6 .5z"/>
<path color="#08fff7" d="M105.2 125.5l1.1 1.6 2.3-1.1-1-1.9z"/>
<path color="#00f7ff" d="M106.3 127.1l.5 1.1 2.4-.9-.6-1.3z"/>
<path color="#00e7ff" d="M106.8 128.2l1 2.2 2.4-.6-1-2.5z"/>
<path color="#00d7ff" d="M107.8 130.4l1 2.4 2.4-1-1-2z"/>
<path color="#00c7ff" d="M108.8 132.8l1.1 2.4 2.3-1.3-1-2.1z"/>
<path color="#00b7ff" d="M109.9 135.2l1.5 1.8 2.4-1.8-1.6-1.3z"/>
<path color="#00a7ff" d="M111.4 137l3.1 2 2.4-2-3.1-1.8z"/>
<path color="#0097ff" d="M114.5 139l5.7 2.5 5.1 1 2.4-2.5-5.2-.7-5.6-2.3z"/>
<path color="#00a7ff" d="M125.3 142.5l3.6 .3 2.4-2.9-3.6 .1z"/>
<path color="#00b7ff" d="M128.9 142.8l2.6-.3 2.4-3.9-1.1 .9-1.5 .4z"/>
<path color="#ff2800" d="M141.3 118.3l.5-2.6 .8-4.6-.5 2.8z"/>
<path color="#ff0800" d="M141.8 115.7l.6-2.6 .7-4.8-.5 2.8z"/>
<path color="#f70000" d="M142.3 113.1l.5-2.3 .8-4.5-.6 2z"/>
<path color="#d70000" d="M142.9 110.8l.5-2.3 .8-4.3-.5 2.1z"/>
<path color="#c70000" d="M143.4 108.5l.5-2.2 .8-4.1-.5 2z"/>
<path color="#a70000" d="M143.9 106.3l.5-2.3 .8-3.8-.5 2z"/>
<path color="#a70000" d="M144.4 104l.5 .9 .8-2.4-.5-2.3z"/>
<path color="#b70000" d="M144.9 104.9l.5 .9 .8-.9-.5-2.4z"/>
<path color="#c70000" d="M145.4 105.8l.6 .8 .7 .6-.5-2.3z"/>
<path color="#d70000" d="M146 106.6l.5 .9 .8 2.1-.6-2.4z"/>
<path color="#e70000" d="M146.5 107.5l.5 2.9 .8 2.3-.5-3.1z"/>
<path color="#ff0800" d="M147 110.4l.5 2.8 .8 2.5-.5-3z"/>
<path color="#ff2800" d="M147.5 113.2l.5 2.9 .8 2.7-.5-3.1z"/>
<path color="#ff4800" d="M148 116.1l.5 2.8 .8 3-.5-3.1z"/>
<path color="#ff8700" d="M148.5 118.9l.5 2.7 .8 2.8-.5-2.5z"/>
<path color="#ffd700" d="M149 121.6l.6 2.7 .8 2.6-.6-2.5z"/>
<path color="#e7ff18" d="M149.6 124.3l.5 2.7 .8 2.5-.5-2.6z"/>
<path color="#b7ff48" d="M150.1 127l.5 2.7 .8 2.3-.5-2.5z"/>
<path color="#87ff78" d="M150.6 129.7l.5 1.8 .8 2-.5-1.5z"/>
<path color="#68ff97" d="M151.1 131.5l.5 1.9 .8 1.6-.5-1.5z"/>
<path color="#38ffc7" d="M151.6 133.4l.5 1.8 .8 1.3-.5-1.5z"/>
<path color="#28ffd7" d="M152.1 135.2l.5 1.8 .8 1.5-.5-2z"/>
<path color="#08fff7" d="M152.7 137l.6 1.4 .8 1.3-.6-1.2z"/>
<path color="#00f7ff" d="M153.2 138.4l.5 1.5 .8 1-.5-1.2z"/>
<path color="#ff1800" d="M141.6 117.9l.5-2.5 .8-4.6-.5 2.3z"/>
<path color="#ff0800" d="M142.1 115.4l.5-2.6 .8-4.3-.5 2.3z"/>
<path color="#e70000" d="M142.6 112.8l.5-2.5 .8-4-.5 2.2z"/>
<path color="#c70000" d="M143.1 110.3l.5-2.5 .8-3.8-.5 2.3z"/>
<path color="#c70000" d="M143.6 107.8l2.1-2.3 .8 2-2.1-3.5z"/>
<path color="#c70000" d="M145.7 105.5l.5 2.6 .8 2.3-.5-2.9z"/>
<path color="#e70000" d="M146.2 108.1l.5 2.6 .8 2.5-.5-2.8z"/>
<path color="#ff0800" d="M146.7 110.7l.5 2.6 .8 2.8-.5-2.9z"/>
<path color="#ff1800" d="M147.2 113.3l.5 2.6 .8 3-.5-2.8z"/>
<path color="#ff3800" d="M147.7 115.9l.6 2.9 .7 2.8-.5-2.7z"/>
<path color="#ff7800" d="M148.3 118.8l.5 2.9 .8 2.6-.6-2.7z"/>
<path color="#ffb700" d="M148.8 121.7l.5 2.9 .8 2.4-.5-2.7z"/>
<path color="#f7ff08" d="M149.3 124.6l.5 2.9 .8 2.2-.5-2.7z"/>
<path color="#c7ff38" d="M149.8 127.5l.5 2.1 .8 1.9-.5-1.8z"/>
<path color="#97ff68" d="M150.3 129.6l.5 2.2 .8 1.6-.5-1.9z"/>
<path color="#78ff87" d="M150.8 131.8l.5 2.2 .8 1.2-.5-1.8z"/>
<path color="#48ffb7" d="M151.3 134l.6 2.1 .7 .9-.5-1.8z"/>
<path color="#28ffd7" d="M151.9 136.1l.5 1.3 .8 1-.6-1.4z"/>
<path color="#18ffe7" d="M152.4 137.4l.5 1.5 .8 1-.5-1.5z"/>
<path color="#d70000" d="M142.8 111.6l.5-2 .8-2.4-.5 .6z"/>
<path color="#b70000" d="M144.9 103.4l.5 2.4 .8 2.3-.5-2.6z"/>
<path color="#c70000" d="M145.4 105.8l.5 2.4 .8 2.5-.5-2.6z"/>
<path color="#e70000" d="M145.9 108.2l.5 2.3 .8 2.8-.5-2.6z"/>
<path color="#f70000" d="M146.4 110.5l.6 2.4 .7 3-.5-2.6z"/>
<path color="#ff1800" d="M146.9 112.9l.5 3.1 .8 2.8-.6-2.9z"/>
<path color="#ff2800" d="M147.5 116l.5 3 .8 2.7-.5-2.9z"/>
<path color="#ff5800" d="M148 119l.5 3.1 .8 2.5-.5-2.9z"/>
<path color="#ffb700" d="M148.5 122.1l.5 3.1 .8 2.3-.5-2.9z"/>
<path color="#fff700" d="M149 125.2l.5 2.5 .8 1.9-.5-2.1z"/>
<path color="#d7ff28" d="M149.5 127.7l.5 2.5 .8 1.6-.5-2.2z"/>
<path color="#a7ff58" d="M150 130.2l.6 2.5 .7 1.3-.5-2.2z"/>
<path color="#78ff87" d="M150.6 132.7l.5 2.5 .8 .9-.6-2.1z"/>
<path color="#48ffb7" d="M151.1 135.2l.5 1.5 .8 .7-.5-1.3z"/>
<path color="#28ffd7" d="M151.6 136.7l.5 1.5 .8 .7-.5-1.5z"/>
<path color="#00f7ff" d="M152.1 138.2l.5 1.6 2.4 2.4-.5-1.3z"/>
<path color="#00f7ff" d="M152.6 139.8l.5 2.1 2.4 1.5-.5-1.2z"/>
<path color="#00e7ff" d="M153.1 141.9l1.1 2.4 2.3 .4-1-1.3z"/>
<path color="#00d7ff" d="M154.2 144.3l1 2.4 2.4-.7-1.1-1.3z"/>
<path color="#00c7ff" d="M155.2 146.7l2.6 2.9 2.3-1.8-2.5-1.8z"/>
<path color="#00b7ff" d="M157.8 149.6l4.6 3.1 2.4-2.1-4.7-2.8z"/>
<path color="#00a7ff" d="M162.4 152.7l5.2 2.5 2 .6 1.6-.2 2.3-2.4-1.5 .3-2.1-.5-5.1-2.4z"/>
<path color="#00b7ff" d="M171.2 155.6l2-.9 2.4-2.8-2.1 1.3z"/>
<path color="#00c7ff" d="M173.2 154.7l1.6-1 2.3-2.8-1.5 1z"/>
<path color="#00d7ff" d="M174.8 153.7l1-.6 1.5-.4 2.4-2.9-1.5 .4-1.1 .7z"/>
<path color="#00e7ff" d="M177.3 152.7l.5-.1 2.1 .6 .5 .4 2.4-2.9-.5-.5-2.1-.5-.5 .1z"/>
<path color="#00d7ff" d="M180.4 153.6l1.6 1.3 1 1.3 2.4-2.9-1.1-1.4-1.5-1.2z"/>
<path color="#00c7ff" d="M183 156.2l1.5 2.3 2.4-2.9-1.5-2.3z"/>
<path color="#00b7ff" d="M184.5 158.5l1.1 1.5 2.3-2.6-1-1.8z"/>
<path color="#00a7ff" d="M185.6 160l1 1.3 2.4-2.5-1.1-1.4z"/>
<path color="#0097ff" d="M186.6 161.3l.5 .7 2.4-2.5-.5-.7z"/>
<path color="#0087ff" d="M187.1 162l1 1.3 2.4-2.4-1-1.4z"/>
<path color="#0078ff" d="M188.1 163.3l1.6 1.5 2.4-2.3-1.6-1.6z"/>
<path color="#0068ff" d="M189.7 164.8l2.6 1.7 2.3-2.3-2.5-1.7z"/>
<path color="#0058ff" d="M192.3 166.5l12.3 4.3 4.7 .8 2.3-2.1-4.6-.9-12.4-4.4z"/>
<path color="#0068ff" d="M209.3 171.6l3.1 .1 2.3-2.2-3.1 0z"/>
<path color="#0078ff" d="M212.4 171.7l2.5 .1 2.1 .5 3.6 1.8 2.4-2.1-3.6-1.9-2.1-.5-2.6-.1z"/>
<path color="#0068ff" d="M220.6 174.1l2.1 1.6 2.3-2.2-2-1.5z"/>
<path color="#0058ff" d="M222.7 175.7l1.5 1.3 2.4-2.2-1.6-1.3z"/>
<path color="#0048ff" d="M224.2 177l2.1 1.6 2.3-2.2-2-1.6z"/>
<path color="#0038ff" d="M226.3 178.6l2 1.6 2.4-2.3-2.1-1.5z"/>
<path color="#0028ff" d="M228.3 180.2l3.1 1.8 2.4-2.3-3.1-1.8z"/>
<path color="#0018ff" d="M231.4 182l4.1 1.6 3.6 .8 2.4-2.3-3.6-.8-4.1-1.6z"/>
<path color="#0028ff" d="M239.1 184.4l6.7 1.6 2.4-2.3-6.7-1.6z"/>
<path color="#0087ff" d="M80.2 132.4l4.6 1.4 2.4-2.1-4.6-1.3z"/>
<path color="#0097ff" d="M84.8 133.8l6.2 1.1 2.4-2.4-6.2-.8z"/>
<path color="#00a7ff" d="M91 134.9l3.1 0 2.4-2.6-3.1 .2z"/>
<path color="#00b7ff" d="M94.1 134.9l1-.1 .6-.6 2.3-3.1-.5 .8-1 .4z"/>
<path color="#00c7ff" d="M95.7 134.2l1-1.1 2.4-3.5-1.1 1.5z"/>
<path color="#00f7ff" d="M98.7 129.8l.6-.9 2.3-3.6-.5 .9z"/>
<path color="#08fff7" d="M99.3 128.9l1.5-1.5 2.4-3-1.6 .9z"/>
<path color="#18ffe7" d="M100.8 127.4l.5-.5 2.1 .6 2.4-1.5-2.1-1.8-.5 .2z"/>
<path color="#08fff7" d="M103.4 127.5l1 1.7 2.4-1-1-2.2z"/>
<path color="#00f7ff" d="M104.4 129.2l1 1.7 2.4-.5-1-2.2z"/>
<path color="#00e7ff" d="M105.4 130.9l.6 1.2 2.3-.5-.5-1.2z"/>
<path color="#00d7ff" d="M106 132.1l1 2.4 2.4-.5-1.1-2.4z"/>
<path color="#00c7ff" d="M107 134.5l1 2.1 2.4-.8-1-1.8z"/>
<path color="#00b7ff" d="M108 136.6l1.6 2.7 2.3-1.8-1.5-1.7z"/>
<path color="#00a7ff" d="M109.6 139.3l3 1.9 2.4-1.9-3.1-1.8z"/>
<path color="#0097ff" d="M112.7 141.2l5.2 2.2 6.2 1.4 2.4-2.2-6.2-1.1-5.2-2.2z"/>
<path color="#00a7ff" d="M124 144.8l3.6 .3 2.4-2.3-3.6-.2z"/>
<path color="#00c7ff" d="M130.2 143.6l1-2.5 2.4 .5-1.1 .7z"/>
<path color="#00d7ff" d="M131.2 141.1l.5-1.2 2.4 1.3-.5 .4z"/>
<path color="#e70000" d="M142.4 113l.6-1.2 .3-2.2-.5 2z"/>
<path color="#d70000" d="M143 111.8l.5-1.2 .4-3.1-.6 2.1z"/>
<path color="#c70000" d="M143.5 110.6l.5-1.2 .4-3.9-.5 2z"/>
<path color="#b70000" d="M144 109.4l.5-1.2 .4-4.8-.5 2.1z"/>
<path color="#b70000" d="M144.5 108.2l.5 2.4 .4-4.8-.5-2.4z"/>
<path color="#c70000" d="M145 110.6l.5 2.3 .4-4.7-.5-2.4z"/>
<path color="#e70000" d="M145.5 112.9l.5 2.4 .4-4.8-.5-2.3z"/>
<path color="#f70000" d="M146 115.3l.6 2.3 .4-4.7-.6-2.4z"/>
<path color="#ff1800" d="M146.6 117.6l.5 2.8 .4-4.4-.5-3.1z"/>
<path color="#ff3800" d="M147.1 120.4l.5 2.7 .4-4.1-.5-3z"/>
<path color="#ff6800" d="M147.6 123.1l.5 2.8 .4-3.8-.5-3.1z"/>
<path color="#ffb700" d="M148.1 125.9l.5 2.7 .4-3.4-.5-3.1z"/>
<path color="#fff700" d="M148.6 128.6l.5 2.2 .4-3.1-.5-2.5z"/>
<path color="#d7ff28" d="M149.1 130.8l.5 2.1 .4-2.7-.5-2.5z"/>
<path color="#a7ff58" d="M149.6 132.9l.6 2.2 .4-2.4-.6-2.5z"/>
<path color="#78ff87" d="M150.2 135.1l.5 2.1 .4-2-.5-2.5z"/>
<path color="#48ffb7" d="M150.7 137.2l.5 1.3 .4-1.8-.5-1.5z"/>
<path color="#28ffd7" d="M151.2 138.5l.5 1.4 .4-1.7-.5-1.5z"/>
<path color="#18ffe7" d="M151.7 139.9l.5 1.7 .4-1.8-.5-1.6z"/>
<path color="#00f7ff" d="M152.2 141.6l.5 1.8 .4-1.5-.5-2.1z"/>
<path color="#00f7ff" d="M152.7 143.4l.5 1 .4-1.3-.5-1.2z"/>
<path color="#00e7ff" d="M153.2 144.4l.6 1.1 .4-1.2-.6-1.2z"/>
<path color="#ff0800" d="M141.5 115.4l.5-1.1 .4-1.3-.5 1.9z"/>
<path color="#f70000" d="M142 114.3l.6-.3 .4-2.2-.6 1.2z"/>
<path color="#f70000" d="M142.6 114l.5-.3 .4-3.1-.5 1.2z"/>
<path color="#e70000" d="M143.1 113.7l.5-.4 .4-3.9-.5 1.2z"/>
<path color="#d70000" d="M143.6 113.3l.5-.3 .4-4.8-.5 1.2z"/>
<path color="#e70000" d="M144.1 113l.5 2.3 .4-4.7-.5-2.4z"/>
<path color="#f70000" d="M144.6 115.3l.5 2.4 .4-4.8-.5-2.3z"/>
<path color="#ff1800" d="M145.1 117.7l.5 2.4 .4-4.8-.5-2.4z"/>
<path color="#ff2800" d="M145.6 120.1l.6 2.3 .4-4.8-.6-2.3z"/>
<path color="#ff3800" d="M146.2 122.4l.5 2.4 .4-4.4-.5-2.8z"/>
<path color="#ff8700" d="M146.7 124.8l.5 2.4 .4-4.1-.5-2.7z"/>
<path color="#ffc700" d="M147.2 127.2l.5 2.4 .4-3.7-.5-2.8z"/>
<path color="#f7ff08" d="M147.7 129.6l.5 2.4 .4-3.4-.5-2.7z"/>
<path color="#c7ff38" d="M148.2 132l.5 1.8 .4-3-.5-2.2z"/>
<path color="#97ff68" d="M148.7 133.8l.5 1.8 .4-2.7-.5-2.1z"/>
<path color="#78ff87" d="M149.2 135.6l.6 1.8 .4-2.3-.6-2.2z"/>
<path color="#48ffb7" d="M149.8 137.4l.5 1.9 .4-2.1-.5-2.1z"/>
<path color="#28ffd7" d="M150.3 139.3l.5 1.3 .4-2.1-.5-1.3z"/>
<path color="#18ffe7" d="M150.8 140.6l.5 1.4 .4-2.1-.5-1.4z"/>
<path color="#08fff7" d="M151.3 142l.5 1.4 .4-1.8-.5-1.7z"/>
<path color="#00f7ff" d="M151.8 143.4l.5 1.5 .4-1.5-.5-1.8z"/>
<path color="#00e7ff" d="M152.3 144.9l1.1 1.7 .4-1.1-1.1-2.1z"/>
<path color="#ff0800" d="M141.1 115.9l.5-.2 .4-1.4-.5 1.1z"/>
<path color="#ff0800" d="M141.6 115.7l2.1 2.1 .4-4.8-2.1 1.3z"/>
<path color="#ff1800" d="M143.7 117.8l.5 2.3 .4-4.8-.5-2.3z"/>
<path color="#ff2800" d="M144.2 120.1l.5 2.4 .4-4.8-.5-2.4z"/>
<path color="#ff3800" d="M144.7 122.5l.5 2.3 .4-4.7-.5-2.4z"/>
<path color="#ff7800" d="M145.2 124.8l.6 2.4 .4-4.8-.6-2.3z"/>
<path color="#ffb700" d="M145.8 127.2l.5 2 .4-4.4-.5-2.4z"/>
<path color="#fff700" d="M146.3 129.2l.5 2.1 .4-4.1-.5-2.4z"/>
<path color="#d7ff28" d="M146.8 131.3l.5 2 .4-3.7-.5-2.4z"/>
<path color="#a7ff58" d="M147.3 133.3l.5 2.1 .4-3.4-.5-2.4z"/>
<path color="#87ff78" d="M147.8 135.4l.5 1.5 .4-3.1-.5-1.8z"/>
<path color="#68ff97" d="M148.3 136.9l.6 1.4 .3-2.7-.5-1.8z"/>
<path color="#38ffc7" d="M148.9 138.3l.5 1.5 .4-2.4-.6-1.8z"/>
<path color="#18ffe7" d="M149.4 139.8l.5 2 .4-2.5-.5-1.9z"/>
<path color="#08fff7" d="M149.9 141.8l.5 1.1 .4-2.3-.5-1.3z"/>
<path color="#00f7ff" d="M150.4 142.9l1 2.3 .4-1.8-1-2.8z"/>
<path color="#00e7ff" d="M151.4 145.2l.5 1.2 .4-1.5-.5-1.5z"/>
<path color="#00d7ff" d="M151.9 146.4l1.1 1.4 .4-1.2-1.1-1.7z"/>
<path color="#ff1800" d="M139.2 114.5l2 2.6 .4-1.4-2 .8z"/>
<path color="#ff1800" d="M141.2 117.1l.6 1.3 .4-2.2-.6-.5z"/>
<path color="#ff1800" d="M141.8 118.4l.5 1.4 .4-3.1-.5-.5z"/>
<path color="#ff2800" d="M142.3 119.8l.5 1.4 .4-4-.5-.5z"/>
<path color="#ff2800" d="M142.8 121.2l.5 1.3 .4-4.7-.5-.6z"/>
<path color="#ff3800" d="M143.3 122.5l.5 2.4 .4-4.8-.5-2.3z"/>
<path color="#ff7800" d="M143.8 124.9l.5 2.4 .4-4.8-.5-2.4z"/>
<path color="#ffb700" d="M144.3 127.3l.6 2.3 .3-4.8-.5-2.3z"/>
<path color="#fff700" d="M144.9 129.6l.5 2.4 .4-4.8-.6-2.4z"/>
<path color="#d7ff28" d="M145.4 132l.5 1.7 .4-4.5-.5-2z"/>
<path color="#b7ff48" d="M145.9 133.7l.5 1.7 .4-4.1-.5-2.1z"/>
<path color="#87ff78" d="M146.4 135.4l.5 1.7 .4-3.8-.5-2z"/>
<path color="#68ff97" d="M146.9 137.1l.5 1.7 .4-3.4-.5-2.1z"/>
<path color="#38ffc7" d="M147.4 138.8l.5 1.2 .4-3.1-.5-1.5z"/>
<path color="#28ffd7" d="M147.9 140l.6 1.5 .4-3.2-.6-1.4z"/>
<path color="#18ffe7" d="M148.5 141.5l.5 1.5 .4-3.2-.5-1.5z"/>
<path color="#00f7ff" d="M149 143l.5 1.5 .4-2.7-.5-2z"/>
<path color="#00f7ff" d="M149.5 144.5l.5 .8 .4-2.4-.5-1.1z"/>
<path color="#00e7ff" d="M150 145.3l1 1.7 .4-1.8-1-2.3z"/>
<path color="#00d7ff" d="M151 147l1.6 2 .4-1.2-1.6-2.6z"/>
<path color="#ff1800" d="M139.8 115.4l.5 1.5 .4-.5-.5-.6z"/>
<path color="#ff1800" d="M140.3 116.9l.6 1.5 .3-1.3-.5-.7z"/>
<path color="#ff2800" d="M140.9 118.4l.5 2.2 .4-2.2-.6-1.3z"/>
<path color="#ff3800" d="M141.4 120.6l.5 2.3 .4-3.1-.5-1.4z"/>
<path color="#ff5800" d="M141.9 122.9l.5 2.2 .4-3.9-.5-1.4z"/>
<path color="#ff8700" d="M142.4 125.1l.5 2.2 .4-4.8-.5-1.3z"/>
<path color="#ffb700" d="M142.9 127.3l.5 2.4 .4-4.8-.5-2.4z"/>
<path color="#fff700" d="M143.4 129.7l.5 2.3 .4-4.7-.5-2.4z"/>
<path color="#d7ff28" d="M143.9 132l.6 2.4 .4-4.8-.6-2.3z"/>
<path color="#a7ff58" d="M144.5 134.4l.5 2.3 .4-4.7-.5-2.4z"/>
<path color="#78ff87" d="M145 136.7l.5 1.4 .4-4.4-.5-1.7z"/>
<path color="#58ffa7" d="M145.5 138.1l.5 1.4 .4-4.1-.5-1.7z"/>
<path color="#38ffc7" d="M146 139.5l.5 1.7 .4-4.1-.5-1.7z"/>
<path color="#18ffe7" d="M146.5 141.2l.5 1.9 .4-4.3-.5-1.7z"/>
<path color="#08fff7" d="M147 143.1l.5 1 .4-4.1-.5-1.2z"/>
<path color="#00f7ff" d="M147.5 144.1l1.1 2 .4-3.1-1.1-3z"/>
<path color="#00e7ff" d="M148.6 146.1l.5 1 .4-2.6-.5-1.5z"/>
<path color="#00d7ff" d="M149.1 147.1l1.5 1.7 .4-1.8-1.5-2.5z"/>
<path color="#00c7ff" d="M150.6 148.8l1.6 1.4 .4-1.2-1.6-2z"/>
<path color="#e70000" d="M138.4 110.4l.5 2.3 .4 1.2-.5-1.5z"/>
<path color="#f70000" d="M138.9 112.7l.5 2.4 .4 .3-.5-1.5z"/>
<path color="#ff0800" d="M139.4 115.1l.5 2.3 .4-.5-.5-1.5z"/>
<path color="#ff1800" d="M139.9 117.4l.6 2.4 .4-1.4-.6-1.5z"/>
<path color="#ff3800" d="M140.5 119.8l.5 3.1 .4-2.3-.5-2.2z"/>
<path color="#ff6800" d="M141 122.9l.5 3 .4-3-.5-2.3z"/>
<path color="#ffb700" d="M141.5 125.9l.5 3.1 .4-3.9-.5-2.2z"/>
<path color="#fff700" d="M142 129l.5 3.1 .4-4.8-.5-2.2z"/>
<path color="#d7ff28" d="M142.5 132.1l.5 2.3 .4-4.7-.5-2.4z"/>
<path color="#a7ff58" d="M143 134.4l.6 2.4 .3-4.8-.5-2.3z"/>
<path color="#68ff97" d="M143.6 136.8l.5 2.4 .4-4.8-.6-2.4z"/>
<path color="#38ffc7" d="M144.1 139.2l.5 3 .4-5.5-.5-2.3z"/>
<path color="#18ffe7" d="M144.6 142.2l.5 1.4 .4-5.5-.5-1.4z"/>
<path color="#08fff7" d="M145.1 143.6l.5 1.4 .4-5.5-.5-1.4z"/>
<path color="#00f7ff" d="M145.6 145l.5 1.3 .4-5.1-.5-1.7z"/>
<path color="#00e7ff" d="M146.1 146.3l.5 1.4 .4-4.6-.5-1.9z"/>
<path color="#00d7ff" d="M146.6 147.7l1.6 1.6 .4-3.2-1.6-3z"/>
<path color="#00c7ff" d="M148.2 149.3l3.1 1.8 .4-1.3-2.6-2.7-.5-1z"/>
<path color="#00b7ff" d="M151.3 151.1l.5 .2 .4-1.1-.5-.4z"/>
<path color="#00c7ff" d="M151.8 151.3l2.6 1.2 2.3-3.9-1.5-1.9-1-2.4z"/>
<path color="#00b7ff" d="M154.4 152.5l5.1 2.3 2.4-2.4-5.2-3.8z"/>
<path color="#00a7ff" d="M159.5 154.8l5.7 2.5 2 .6 2.1 0 2.4-2.3-2.1 .2-2-.6-5.7-2.8z"/>
<path color="#00b7ff" d="M169.3 157.9l2.1-1 2.3-2.6-2 1.3z"/>
<path color="#00c7ff" d="M171.4 156.9l2-1.1 2.4-2.7-2.1 1.2z"/>
<path color="#00d7ff" d="M173.4 155.8l2.1-.4 2 .6 2.1 1.7 2.4-2.8-2.1-1.7-2.1-.6-2 .5z"/>
<path color="#00c7ff" d="M179.6 157.7l2.1 2.7 2.3-2.8-2-2.7z"/>
<path color="#00b7ff" d="M181.7 160.4l1 1.5 2.4-2.6-1.1-1.7z"/>
<path color="#00a7ff" d="M182.7 161.9l1 1.3 2.4-2.5-1-1.4z"/>
<path color="#0097ff" d="M183.7 163.2l1.1 1.2 2.3-2.4-1-1.3z"/>
<path color="#0087ff" d="M184.8 164.4l1 1.3 2.3-2.4-1-1.3z"/>
<path color="#0078ff" d="M185.8 165.7l1.5 1.4 2.4-2.3-1.6-1.5z"/>
<path color="#0068ff" d="M187.3 167.1l2.1 1.3 2.4-2.2-2.1-1.4z"/>
<path color="#0058ff" d="M189.4 168.4l10.8 4 4.1 1.1 2.6 .3 2.4-2.2-2.6-.3-4.1-1.1-10.8-4z"/>
<path color="#0068ff" d="M206.9 173.8l3.1 0 2.4-2.1-3.1-.1z"/>
<path color="#0078ff" d="M210 173.8l2.6 .1 2 .4 3.6 2 2.4-2.2-3.6-1.8-2.1-.5-2.5-.1z"/>
<path color="#0068ff" d="M218.2 176.3l2.1 1.6 2.4-2.2-2.1-1.6z"/>
<path color="#0058ff" d="M220.3 177.9l1.5 1.3 2.4-2.2-1.5-1.3z"/>
<path color="#0048ff" d="M221.8 179.2l1.6 1.3 2.3-2.3-1.5-1.2z"/>
<path color="#0038ff" d="M223.4 180.5l2 1.7 2.4-2.4-2.1-1.6z"/>
<path color="#0028ff" d="M225.4 182.2l2.6 1.8 2.4-2.6-2.6-1.6z"/>
<path color="#0018ff" d="M228 184l3.1 1.6 2.1 .7 6.1 1.2 2.4-2.6-6.2-1.3-5.1-2.2z"/>
<path color="#0028ff" d="M239.3 187.5l4.2 1 2.3-2.5-4.1-1.1z"/>
<path color="#0097ff" d="M77.8 134.2l6.7 2 5.2 1.2 2.4-2.4-5.2-.7-6.7-1.9z"/>
<path color="#00a7ff" d="M89.7 137.4l3.1 .2 2.3-2.8-3 .2z"/>
<path color="#00b7ff" d="M92.8 137.6l1.5-.9 2.4-3.6-1.6 1.7z"/>
<path color="#00c7ff" d="M94.3 136.7l1-1.2 2.4-3.9-1 1.5z"/>
<path color="#00d7ff" d="M95.3 135.5l1.1-1.5 2.3-4.2-1 1.8z"/>
<path color="#00e7ff" d="M96.4 134l.5-.7 2.4-4.4-.6 .9z"/>
<path color="#00f7ff" d="M96.9 133.3l1.5-1.6 2.4-4.3-1.5 1.5z"/>
<path color="#08fff7" d="M98.4 131.7l.6-.6 2 .2 1 1.3 2.4-3.4-1-1.7-2.1-.6-.5 .5z"/>
<path color="#00f7ff" d="M102 132.6l1.1 1.3 2.3-3-1-1.7z"/>
<path color="#00e7ff" d="M103.1 133.9l1 2.2 2.4-2.8-1.1-2.4z"/>
<path color="#00d7ff" d="M104.1 136.1l1 2.1 2.4-2.5-1-2.4z"/>
<path color="#00c7ff" d="M105.1 138.2l1.1 1.9 2.3-2.6-1-1.8z"/>
<path color="#00b7ff" d="M106.2 140.1l1 1.7 2.4-2.5-1.1-1.8z"/>
<path color="#00a7ff" d="M107.2 141.8l2.6 1.9 2.3-2.7-2.5-1.7z"/>
<path color="#0097ff" d="M109.8 143.7l5.1 2.5 2.4-2.9-5.2-2.3z"/>
<path color="#0087ff" d="M114.9 146.2l3.1 1.1 2.4-3.2-3.1-.8z"/>
<path color="#0097ff" d="M118 147.3l1.6 .3 3-.3 2.4-2.4-4.6-.8z"/>
<path color="#00a7ff" d="M122.6 147.3l2.1-.8 2.4-1.4-2.1-.2z"/>
<path color="#00b7ff" d="M124.7 146.5l1.5-1.1 2.4-.7-.5 .4-1 0z"/>
<path color="#00c7ff" d="M126.2 145.4l1.6-1.1 2.4-.7-1.6 1.1z"/>
<path color="#00d7ff" d="M127.8 144.3l1-.7 2.4-2.5-1 2.5z"/>
<path color="#00e7ff" d="M128.8 143.6l1-.7 2.4-4.2-1 2.4z"/>
<path color="#ffb700" d="M134.9 126.9l.5-2.3 .4-3.3-.5 2.8z"/>
<path color="#ff6800" d="M135.4 124.6l.5-2.4 .4-3.7-.5 2.8z"/>
<path color="#ff3800" d="M135.9 122.2l.6-1.7 .4-4-.6 2z"/>
<path color="#ff1800" d="M136.5 120.5l.5-1.6 .4-4.5-.5 2.1z"/>
<path color="#ff0800" d="M137 118.9l.5-1.7 .4-4.8-.5 2z"/>
<path color="#f70000" d="M137.5 117.2l.5-1.7 .4-5.1-.5 2z"/>
<path color="#f70000" d="M138 115.5l.5 1.9 .4-4.7-.5-2.3z"/>
<path color="#ff0800" d="M138.5 117.4l.5 2 .4-4.3-.5-2.4z"/>
<path color="#ff1800" d="M139 119.4l.6 2 .3-4-.5-2.3z"/>
<path color="#ff3800" d="M139.6 121.4l.5 2 .4-3.6-.6-2.4z"/>
<path color="#ff6800" d="M140.1 123.4l.5 2.6 .4-3.1-.5-3.1z"/>
<path color="#ffa700" d="M140.6 126l.5 2.6 .4-2.7-.5-3z"/>
<path color="#fff700" d="M141.1 128.6l.5 2.6 .4-2.2-.5-3.1z"/>
<path color="#c7ff38" d="M141.6 131.2l.5 2.6 .4-1.7-.5-3.1z"/>
<path color="#97ff68" d="M142.1 133.8l.5 2 .4-1.4-.5-2.3z"/>
<path color="#68ff97" d="M142.6 135.8l.6 2 .4-1-.6-2.4z"/>
<path color="#38ffc7" d="M143.2 137.8l.5 2 .4-.6-.5-2.4z"/>
<path color="#78ff87" d="M133 134.8l.5-1.4 .4-1.9-.5 1.7z"/>
<path color="#97ff68" d="M133.5 133.4l.5-1.9 .4-2.3-.5 2.3z"/>
<path color="#c7ff38" d="M134 131.5l.5-1.8 .4-2.8-.5 2.3z"/>
<path color="#fff700" d="M134.5 129.7l.5-1.9 .4-3.2-.5 2.3z"/>
<path color="#ffb700" d="M135 127.8l.5-1.8 .4-3.8-.5 2.4z"/>
<path color="#ff8700" d="M135.5 126l.6-1.4 .4-4.1-.6 1.7z"/>
<path color="#ff5800" d="M136.1 124.6l.5-1.3 .4-4.4-.5 1.6z"/>
<path color="#ff3800" d="M136.6 123.3l.5-1.4 .4-4.7-.5 1.7z"/>
<path color="#ff2800" d="M137.1 121.9l.5-1.3 .4-5.1-.5 1.7z"/>
<path color="#ff2800" d="M137.6 120.6l.5 1.6 .4-4.8-.5-1.9z"/>
<path color="#ff3800" d="M138.1 122.2l.5 1.6 .4-4.4-.5-2z"/>
<path color="#ff5800" d="M138.6 123.8l.6 1.6 .4-4-.6-2z"/>
<path color="#ff8700" d="M139.2 125.4l.5 1.6 .4-3.6-.5-2z"/>
<path color="#ffb700" d="M139.7 127l.5 2.1 .4-3.1-.5-2.6z"/>
<path color="#fff700" d="M140.2 129.1l.5 2.1 .4-2.6-.5-2.6z"/>
<path color="#d7ff28" d="M140.7 131.2l.5 2.1 .4-2.1-.5-2.6z"/>
<path color="#a7ff58" d="M141.2 133.3l.5 2.2 .4-1.7-.5-2.6z"/>
<path color="#78ff87" d="M141.7 135.5l.5 1.6 .4-1.3-.5-2z"/>
<path color="#58ffa7" d="M142.2 137.1l.6 1.7 .4-1-.6-2z"/>
<path color="#28ffd7" d="M142.8 138.8l.5 1.7 .4-.7-.5-2z"/>
<path color="#18ffe7" d="M131.6 139.2l.5-1.6 .4-1.3-.6 1.7z"/>
<path color="#28ffd7" d="M132.1 137.6l.5-1.2 .4-1.6-.5 1.5z"/>
<path color="#48ffb7" d="M132.6 136.4l.5-1.1 .4-1.9-.5 1.4z"/>
<path color="#78ff87" d="M133.1 135.3l.5-1.4 .4-2.4-.5 1.9z"/>
<path color="#97ff68" d="M133.6 133.9l.5-1.4 .4-2.8-.5 1.8z"/>
<path color="#c7ff38" d="M134.1 132.5l.5-1.4 .4-3.3-.5 1.9z"/>
<path color="#e7ff18" d="M134.6 131.1l.6-1.4 .3-3.7-.5 1.8z"/>
<path color="#ffe700" d="M135.2 129.7l.5-1 .4-4.1-.6 1.4z"/>
<path color="#ffc700" d="M135.7 128.7l.5-1 .4-4.4-.5 1.3z"/>
<path color="#ff9700" d="M136.2 127.7l.5-1 .4-4.8-.5 1.4z"/>
<path color="#ff7800" d="M136.7 126.7l.5-1 .4-5.1-.5 1.3z"/>
<path color="#ff7800" d="M137.2 125.7l.5 1.2 .4-4.7-.5-1.6z"/>
<path color="#ff9700" d="M137.7 126.9l.5 1.2 .4-4.3-.5-1.6z"/>
<path color="#ffb700" d="M138.2 128.1l.6 1.3 .4-4-.6-1.6z"/>
<path color="#ffe700" d="M138.8 129.4l.5 1.2 .4-3.6-.5-1.6z"/>
<path color="#f7ff08" d="M139.3 130.6l.5 1.6 .4-3.1-.5-2.1z"/>
<path color="#c7ff38" d="M139.8 132.2l.5 1.7 .4-2.7-.5-2.1z"/>
<path color="#a7ff58" d="M140.3 133.9l.5 1.6 .4-2.2-.5-2.1z"/>
<path color="#87ff78" d="M140.8 135.5l.5 1.7 .4-1.7-.5-2.2z"/>
<path color="#58ffa7" d="M141.3 137.2l.5 1.3 .4-1.4-.5-1.6z"/>
<path color="#38ffc7" d="M141.8 138.5l.6 1.3 .4-1-.6-1.7z"/>
<path color="#28ffd7" d="M142.4 139.8l.5 1.5 .4-.8-.5-1.7z"/>
<path color="#18ffe7" d="M131.7 139.2l.5-1.1 .4-1.7-.5 1.2z"/>
<path color="#28ffd7" d="M132.2 138.1l.5-.9 .4-1.9-.5 1.1z"/>
<path color="#48ffb7" d="M132.7 137.2l.5-.9 .4-2.4-.5 1.4z"/>
<path color="#68ff97" d="M133.2 136.3l.5-1 .4-2.8-.5 1.4z"/>
<path color="#87ff78" d="M133.7 135.3l.5-.9 .4-3.3-.5 1.4z"/>
<path color="#a7ff58" d="M134.2 134.4l.6-1 .4-3.7-.6 1.4z"/>
<path color="#c7ff38" d="M134.8 133.4l.5-.7 .4-4-.5 1z"/>
<path color="#d7ff28" d="M135.3 132.7l.5-.6 .4-4.4-.5 1z"/>
<path color="#e7ff18" d="M135.8 132.1l.5-.7 .4-4.7-.5 1z"/>
<path color="#fff700" d="M136.3 131.4l.5-.6 .4-5.1-.5 1z"/>
<path color="#fff700" d="M136.8 130.8l.5 .8 .4-4.7-.5-1.2z"/>
<path color="#f7ff08" d="M137.3 131.6l.6 .9 .3-4.4-.5-1.2z"/>
<path color="#d7ff28" d="M137.9 132.5l.5 .8 .4-3.9-.6-1.3z"/>
<path color="#c7ff38" d="M138.4 133.3l.5 .9 .4-3.6-.5-1.2z"/>
<path color="#b7ff48" d="M138.9 134.2l.5 1.2 .4-3.2-.5-1.6z"/>
<path color="#97ff68" d="M139.4 135.4l.5 1.1 .4-2.6-.5-1.7z"/>
<path color="#78ff87" d="M139.9 136.5l.5 1.2 .4-2.2-.5-1.6z"/>
<path color="#58ffa7" d="M140.4 137.7l.5 1.1 .4-1.6-.5-1.7z"/>
<path color="#48ffb7" d="M140.9 138.8l.6 1 .3-1.3-.5-1.3z"/>
<path color="#28ffd7" d="M141.5 139.8l.5 1 .4-1-.6-1.3z"/>
<path color="#18ffe7" d="M142 140.8l.5 1.3 .4-.8-.5-1.5z"/>
<path color="#00f7ff" d="M130.2 142.2l1.1-1.4 .4-1.6-1.1 2.3z"/>
<path color="#08fff7" d="M131.3 140.8l.5-.7 .4-2-.5 1.1z"/>
<path color="#18ffe7" d="M131.8 140.1l.5-.7 .4-2.2-.5 .9z"/>
<path color="#28ffd7" d="M132.3 139.4l.5-.7 .4-2.4-.5 .9z"/>
<path color="#38ffc7" d="M132.8 138.7l.5-.6 .4-2.8-.5 1z"/>
<path color="#48ffb7" d="M133.3 138.1l.5-.5 .4-3.2-.5 .9z"/>
<path color="#68ff97" d="M133.8 137.6l.6-.5 .4-3.7-.6 1z"/>
<path color="#78ff87" d="M134.4 137.1l.5-.3 .4-4.1-.5 .7z"/>
<path color="#87ff78" d="M134.9 136.8l.5-.3 .4-4.4-.5 .6z"/>
<path color="#97ff68" d="M135.4 136.5l1-.6 .4-5.1-1 1.3z"/>
<path color="#a7ff58" d="M136.4 135.9l.5 .4 .4-4.7-.5-.8z"/>
<path color="#97ff68" d="M136.9 136.3l.6 .5 .4-4.3-.6-.9z"/>
<path color="#87ff78" d="M137.5 136.8l.5 .5 .4-4-.5-.8z"/>
<path color="#78ff87" d="M138 137.3l.5 .5 .4-3.6-.5-.9z"/>
<path color="#68ff97" d="M138.5 137.8l.5 .7 .4-3.1-.5-1.2z"/>
<path color="#58ffa7" d="M139 138.5l.5 .7 .4-2.7-.5-1.1z"/>
<path color="#48ffb7" d="M139.5 139.2l.5 .7 .4-2.2-.5-1.2z"/>
<path color="#38ffc7" d="M140 139.9l.5 .6 .4-1.7-.5-1.1z"/>
<path color="#28ffd7" d="M140.5 140.5l.6 .7 .4-1.4-.6-1z"/>
<path color="#18ffe7" d="M141.1 141.2l1 1.6 .4-.7-1-2.3z"/>
<path color="#00e7ff" d="M129.8 142.9l.6-.2 .4-1.2-.6 .7z"/>
<path color="#00f7ff" d="M130.4 142.7l1.5-.7 .4-2.6-1.5 2.1z"/>
<path color="#08fff7" d="M131.9 142l1-.3 .4-3.6-1 1.3z"/>
<path color="#18ffe7" d="M132.9 141.7l1.1-.3 .4-4.3-1.1 1z"/>
<path color="#28ffd7" d="M134 141.4l1.5 0 .4-5.2-1.5 .9z"/>
<path color="#38ffc7" d="M135.5 141.4l1.6 .1 .4-4.7-1.1-.9-.5 .3z"/>
<path color="#28ffd7" d="M137.1 141.5l2 .7 .4-3-2-2.4z"/>
<path color="#18ffe7" d="M139.1 142.2l1.6 .7 .4-1.7-1.6-2z"/>
<path color="#08fff7" d="M140.7 142.9l1 .7 .4-.8-1-1.6z"/>
<path color="#08fff7" d="M141.7 143.6l.5 .4 2.4-1.8-.5-3z"/>
<path color="#00f7ff" d="M142.2 144l1 .9 2.4 .1-1-2.8z"/>
<path color="#00e7ff" d="M143.2 144.9l1.1 .9 2.3 1.9-1-2.7z"/>
<path color="#00d7ff" d="M144.3 145.8l2.5 2.9 2.4 1.4-2.6-2.4z"/>
<path color="#00c7ff" d="M146.8 148.7l3.1 4.2 2.4-1.3-3.1-1.5z"/>
<path color="#00b7ff" d="M149.9 152.9l2.1 2.7 2.4-3.1-2.1-.9z"/>
<path color="#00a7ff" d="M152 155.6l2.6 2.7 2.3-4.6-2.5-1.2z"/>
<path color="#0097ff" d="M154.6 158.3l3.1 2.2 2.3-5.5-3.1-1.3z"/>
<path color="#0087ff" d="M157.7 160.5l3.1 1.5 2 .6 2.6-.1 2.4-4.6-2.6-.6-5.2-2.3z"/>
<path color="#0097ff" d="M165.4 162.5l2-.7 2.4-4.1-2 .2z"/>
<path color="#00a7ff" d="M167.4 161.8l1.1-.6 2.3-4-1 .5z"/>
<path color="#00b7ff" d="M168.5 161.2l2-1.1 2.4-4-2.1 1.1z"/>
<path color="#00c7ff" d="M170.5 160.1l2.6-.9 2.4-3.8-2.6 .7z"/>
<path color="#00d7ff" d="M173.1 159.2l2.1 .6 .5 .4 2.4-3.8-.6-.4-2-.6z"/>
<path color="#00c7ff" d="M175.7 160.2l1.5 1.2 1.1 1.3 2.3-3.7-1-1.3-1.5-1.3z"/>
<path color="#00b7ff" d="M178.3 162.7l1.5 1.7 2.4-3.2-1.6-2.2z"/>
<path color="#00a7ff" d="M179.8 164.4l1 1.3 2.4-3.2-1-1.3z"/>
<path color="#0097ff" d="M180.8 165.7l1.1 1.2 2.3-3.1-1-1.3z"/>
<path color="#0087ff" d="M181.9 166.9l1 1.1 2.4-2.9-1.1-1.3z"/>
<path color="#0078ff" d="M182.9 168l1 1 2.4-2.9-1-1z"/>
<path color="#0068ff" d="M183.9 169l2.6 1.6 2.4-2.5-2.6-2z"/>
<path color="#0058ff" d="M186.5 170.6l13.4 4.7 5.1 .8 2.4-2.3-5.1-.8-10.3-3.5-3.1-1.4z"/>
<path color="#0068ff" d="M205 176.1l3.1 0 2.4-2.4-3.1 .1z"/>
<path color="#0078ff" d="M208.1 176.1l4.2 .6 3 1.6 2.4-2.4-3.1-1.6-4.1-.6z"/>
<path color="#0068ff" d="M215.3 178.3l2.1 1.5 2.4-2.4-2.1-1.5z"/>
<path color="#0058ff" d="M217.4 179.8l2.1 1.7 2.3-2.3-2-1.8z"/>
<path color="#0048ff" d="M219.5 181.5l1.5 1.4 2.4-2.4-1.6-1.3z"/>
<path color="#0038ff" d="M221 182.9l1.6 1.3 2.3-2.4-1.5-1.3z"/>
<path color="#0028ff" d="M222.5 184.2l2 1.5 2.4-2.3-2.1-1.6z"/>
<path color="#0018ff" d="M224.6 185.7l4.1 2.3 2.4-2.4-4.1-2.2z"/>
<path color="#0008ff" d="M228.7 188l3.1 .9 2.4-2.4-3.1-.9z"/>
<path color="#0018ff" d="M231.8 188.9l9.3 2 2.4-2.4-9.3-2z"/>
<path color="#00a7ff" d="M75.5 135.2l1 .3 2.4-1-1.1-.3z"/>
<path color="#0097ff" d="M76.5 135.5l7.2 2.3 2.4-1.2-7.2-2.1z"/>
<path color="#00a7ff" d="M83.7 137.8l6.7 1.4 2.4-1.6-2.1-.1-4.6-.9z"/>
<path color="#00b7ff" d="M90.4 139.2l2.1-1 2.3-1.9-2 1.3z"/>
<path color="#00e7ff" d="M94.5 135.9l1.6-1.3 2.3-2.9-1.5 1.6z"/>
<path color="#00f7ff" d="M96.1 134.6l.5-.5 2 .3 1.6 1.8 2.4-2.9-1.6-2-2-.2-.6 .6z"/>
<path color="#00e7ff" d="M100.2 136.2l1 1.5 2.4-2.7-1-1.7z"/>
<path color="#00d7ff" d="M101.2 137.7l1 1.8 2.4-2.4-1-2.1z"/>
<path color="#00c7ff" d="M102.2 139.5l1.6 2.5 2.4-1.9-1.6-3z"/>
<path color="#00b7ff" d="M103.8 142l1 1.6 2.4-1.8-1-1.7z"/>
<path color="#00a7ff" d="M104.8 143.6l2.6 1.7 2.4-1.6-2.6-1.9z"/>
<path color="#0097ff" d="M107.4 145.3l5.7 2.4 2.3-1.2-5.6-2.8z"/>
<path color="#0087ff" d="M113.1 147.7l3.6 1.2 2.3-1.4-3.6-1z"/>
<path color="#0097ff" d="M116.7 148.9l3.1 .3 2.3-1.8-3.1 .1z"/>
<path color="#00a7ff" d="M119.8 149.2l2-.3 2.4-2.1-2.1 .6z"/>
<path color="#00b7ff" d="M121.8 148.9l1.6-.7 2.3-2.4-1.5 1z"/>
<path color="#00c7ff" d="M123.4 148.2l2-1.2 2.4-2.7-2.1 1.5z"/>
<path color="#00d7ff" d="M125.4 147l1.6-.8 2.3-2.9-1.5 1z"/>
<path color="#00e7ff" d="M127 146.2l2.5-1.2 2.4-3-2.6 1.3z"/>
<path color="#00f7ff" d="M129.5 145l3.6-.5 2.4-3.1-3.6 .6z"/>
<path color="#08fff7" d="M133.1 144.5l2.6 .4 2.6 1.2 2.4-3.2-2.6-1.2-2.6-.3z"/>
<path color="#00f7ff" d="M138.3 146.1l3.6 2.8 2.4-3.1-3.6-2.9z"/>
<path color="#00e7ff" d="M141.9 148.9l2.1 2.2 2.3-3.1-2-2.2z"/>
<path color="#00d7ff" d="M144 151.1l2 2.5 2.4-2.9-2.1-2.7z"/>
<path color="#00c7ff" d="M146 153.6l1.6 2 2.3-2.7-1.5-2.2z"/>
<path color="#00b7ff" d="M147.6 155.6l1.5 1.8 2.4-2.4-1.6-2.1z"/>
<path color="#00a7ff" d="M149.1 157.4l1 1 2.4-2.2-1-1.2z"/>
<path color="#0097ff" d="M150.1 158.4l1.6 1.3 2.4-1.9-1.6-1.6z"/>
<path color="#0087ff" d="M151.7 159.7l2 1.5 2.4-1.7-2-1.7z"/>
<path color="#0078ff" d="M153.7 161.2l4.7 2.1 2 .7 2.6 .1 2.4-1.6-2.6 .1-2-.6-2.1-.9-2.6-1.6z"/>
<path color="#0087ff" d="M163 164.1l1.6-.2 2.3-1.9-1.5 .5z"/>
<path color="#0097ff" d="M164.6 163.9l1.5-.6 2.4-2.1-1.6 .8z"/>
<path color="#00a7ff" d="M166.1 163.3l1-.4 2.4-2.2-1 .5z"/>
<path color="#00b7ff" d="M167.1 162.9l2.1-.9 2.4-2.4-2.1 1.1z"/>
<path color="#00c7ff" d="M169.2 162l1.5-.4 2.1 .6 2.1 1.5 2.3-2.3-2-1.6-2.1-.6-1.5 .4z"/>
<path color="#00b7ff" d="M174.9 163.7l1.5 1.8 2.4-2.2-1.6-1.9z"/>
<path color="#00a7ff" d="M176.4 165.5l1.6 1.6 2.3-2-1.5-1.8z"/>
<path color="#0097ff" d="M178 167.1l1 1.2 2.4-2-1.1-1.2z"/>
<path color="#0087ff" d="M179 168.3l1 .9 2.4-1.8-1-1.1z"/>
<path color="#0078ff" d="M180 169.2l1.6 1.4 2.3-1.6-1.5-1.6z"/>
<path color="#0068ff" d="M181.6 170.6l3.6 1.9 2.3-1.4-2-1-1.6-1.1z"/>
<path color="#0058ff" d="M185.2 172.5l12.3 4.2 4.1 .9 2.4-1.5-4.1-.8-12.4-4.2z"/>
<path color="#0068ff" d="M201.6 177.6l3.1 .1 2.4-1.6-3.1 0z"/>
<path color="#0078ff" d="M204.7 177.7l3.1 .1 2.1 .5 3.6 1.9 2.4-1.6-3.6-1.9-2.1-.5-3.1-.1z"/>
<path color="#0068ff" d="M213.5 180.2l2 1.6 2.4-1.6-2-1.6z"/>
<path color="#0058ff" d="M215.5 181.8l1.6 1.3 2.4-1.6-1.6-1.3z"/>
<path color="#0048ff" d="M217.1 183.1l2.1 1.7 2.3-1.5-2-1.8z"/>
<path color="#0038ff" d="M219.2 184.8l1.5 1.3 2.4-1.5-1.6-1.3z"/>
<path color="#0028ff" d="M220.7 186.1l2.6 1.8 2.3-1.5-2.5-1.8z"/>
<path color="#0018ff" d="M223.3 187.9l3.1 1.6 2 .7 7.7 1.6 2.4-1.6-7.7-1.5-2.1-.7-3.1-1.6z"/>
<path color="#0028ff" d="M236.1 191.8l2.6 .7 2.4-1.6-2.6-.7z"/>
<path color="#00a7ff" d="M73.1 136.9l13.4 4.1 2.4-2-4.7-1.1-8.7-2.7z"/>
<path color="#00b7ff" d="M86.5 141l1.5 .3 2.1-.7 2.4-2.4-2.1 1-1.5-.2z"/>
<path color="#00c7ff" d="M90.1 140.6l1-.9 2.4-2.7-1 1.2z"/>
<path color="#00d7ff" d="M91.1 139.7l1.6-1.2 2.3-3.1-1.5 1.6z"/>
<path color="#00e7ff" d="M92.7 138.5l1.5-1 1 .2 2.4-3.4-1-.2-1.6 1.3z"/>
<path color="#00f7ff" d="M95.2 137.7l1.1 .1 .5 .6 2.4-3.4-.6-.6-1-.1z"/>
<path color="#00e7ff" d="M96.8 138.4l1.5 1.6 2.4-3.3-1.5-1.7z"/>
<path color="#00d7ff" d="M98.3 140l1.6 2.4 2.3-2.9-1.5-2.8z"/>
<path color="#00c7ff" d="M99.9 142.4l1.5 2.1 2.4-2.5-1.6-2.5z"/>
<path color="#00b7ff" d="M101.4 144.5l1.6 1.7 2.3-2.2-1.5-2z"/>
<path color="#00a7ff" d="M103 146.2l4.1 2 2.4-2-4.2-2.2z"/>
<path color="#0097ff" d="M107.1 148.2l5.7 2.2 4.6 1.1 2.4-2.3-2.6-.2-2.1-.5-5.6-2.3z"/>
<path color="#00a7ff" d="M117.4 151.5l2.6 .1 2.3-2.9-2.5 .5z"/>
<path color="#00b7ff" d="M120 151.6l2-.3 2.4-3.7-2.1 1.1z"/>
<path color="#00c7ff" d="M122 151.3l2.6-1 2.4-4.1-2.6 1.4z"/>
<path color="#00d7ff" d="M124.6 150.3l2.1-.7 2.3-4.3-2 .9z"/>
<path color="#00e7ff" d="M126.7 149.6l2.5-.5 1.6 0 2.3-4.6-1.5 .1-2.6 .7z"/>
<path color="#00f7ff" d="M130.8 149.1l2.6 .4 2.5 1.2 2.4-4.6-2.6-1.2-2.6-.4z"/>
<path color="#00e7ff" d="M135.9 150.7l3.6 2.6 2.4-4.4-3.6-2.8z"/>
<path color="#00d7ff" d="M139.5 153.3l2.6 2.6 2.4-4.2-2.6-2.8z"/>
<path color="#00c7ff" d="M142.1 155.9l2.1 2.3 2.3-4-2-2.5z"/>
<path color="#00b7ff" d="M144.2 158.2l1.5 1.4 2.4-3.4-1.6-2z"/>
<path color="#00a7ff" d="M145.7 159.6l1.6 1.3 2.3-3-1.5-1.7z"/>
<path color="#0097ff" d="M147.3 160.9l2 1.4 2.4-2.6-2.1-1.8z"/>
<path color="#0087ff" d="M149.3 162.3l3.1 1.6 2.4-2.1-3.1-2.1z"/>
<path color="#0078ff" d="M152.4 163.9l5.7 2.1 2.5 .4 2.4-2.3-2.6-.1-5.6-2.2z"/>
<path color="#0087ff" d="M160.6 166.4l2.1-.2 2.4-2.5-2.1 .4z"/>
<path color="#0097ff" d="M162.7 166.2l1-.3 2.4-2.6-1 .4z"/>
<path color="#00a7ff" d="M163.7 165.9l1.6-.4 2.3-2.8-1.5 .6z"/>
<path color="#00b7ff" d="M165.3 165.5l2.6-.5 2.3-3.3-1.5 .4-1.1 .6z"/>
<path color="#00c7ff" d="M167.9 165l2.5 .5 .5 .4 2.4-3.3-.5-.4-2.6-.5z"/>
<path color="#00b7ff" d="M170.9 165.9l2.6 2 2.4-2.9-2.6-2.4z"/>
<path color="#00a7ff" d="M173.5 167.9l1.6 1.4 2.3-2.7-1.5-1.6z"/>
<path color="#0097ff" d="M175.1 169.3l1 1 2.4-2.6-1.1-1.1z"/>
<path color="#0087ff" d="M176.1 170.3l1.5 1.4 2.4-2.5-1.5-1.5z"/>
<path color="#0078ff" d="M177.6 171.7l2.1 1.4 2.4-2.2-2.1-1.7z"/>
<path color="#0068ff" d="M179.7 173.1l3.1 1.5 9.8 3.4 2.3-2.1-9.7-3.4-3.1-1.6z"/>
<path color="#0058ff" d="M192.6 178l6.2 2.1 2.3-2.6-6.2-1.6z"/>
<path color="#0068ff" d="M198.8 180.1l12.8 4.7 2.4-4.2-4.1-2.3-2.1-.5-6.7-.3z"/>
<path color="#0058ff" d="M211.6 184.8l2.6 1.3 2.4-3.5-2.6-2z"/>
<path color="#0048ff" d="M214.2 186.1l2.1 1.2 2.3-2.9-2-1.8z"/>
<path color="#0038ff" d="M216.3 187.3l2.5 1.6 2.4-2.4-2.6-2.1z"/>
<path color="#0028ff" d="M218.8 188.9l2.6 1.6 2.4-2.3-2.6-1.7z"/>
<path color="#0018ff" d="M221.4 190.5l4.6 1.9 5.2 1.1 2.4-2.3-5.2-1-4.6-2z"/>
<path color="#0028ff" d="M231.2 193.5l5.2 1.3 2.3-2.3-5.1-1.3z"/>
<path color="#00b7ff" d="M70.7 137.7l12.9 4.5 2.1 .5 2 0 2.4-2.1-2.1 .7-2-.4-12.9-4z"/>
<path color="#00c7ff" d="M87.7 142.7l1.6-.6 2.3-2.8-1.5 1.3z"/>
<path color="#00d7ff" d="M89.3 142.1l2.5-.9 2.4-3.7-2.6 1.8z"/>
<path color="#00e7ff" d="M91.8 141.2l2.1 .5 .5 .4 2.4-3.7-.5-.6-2.1-.3z"/>
<path color="#00d7ff" d="M94.4 142.1l2.6 2.5 2.4-3-1.1-1.6-1.5-1.6z"/>
<path color="#00c7ff" d="M97 144.6l1.5 1.6 2.4-2.4-1.5-2.2z"/>
<path color="#00b7ff" d="M98.5 146.2l2.6 2 2.4-1.7-1.1-.7-1.5-2z"/>
<path color="#00a7ff" d="M101.1 148.2l9.3 3.6 2.4-1.4-6.2-2.4-3.1-1.5z"/>
<path color="#0097ff" d="M110.4 151.8l2.6 .8 2.3-1.5-2.5-.7z"/>
<path color="#00a7ff" d="M113 152.6l5.6 1.1 2.4-2.1-2.1 .1-3.6-.6z"/>
<path color="#00b7ff" d="M118.6 153.7l2.6-.4 2.4-2.6-2.6 .9z"/>
<path color="#00c7ff" d="M121.2 153.3l3.1-.6 2.4-3.1-3.1 1.1z"/>
<path color="#00d7ff" d="M124.3 152.7l4.6-.2 2.4-3.4-2.1 0-2.5 .5z"/>
<path color="#00e7ff" d="M128.9 152.5l4.1 1.3 2.4-3.4-2-.9-2.1-.4z"/>
<path color="#00d7ff" d="M133 153.8l4.2 2.8 2.3-3.3-4.1-2.9z"/>
<path color="#00c7ff" d="M137.2 156.6l2.5 2.3 2.4-3-2.6-2.6z"/>
<path color="#00b7ff" d="M139.7 158.9l2.6 2.3 2.4-2.5-2.6-2.8z"/>
<path color="#00a7ff" d="M142.3 161.2l2.1 1.4 2.3-2.2-2-1.7z"/>
<path color="#0097ff" d="M144.4 162.6l2.5 1.5 2.4-1.8-2.6-1.9z"/>
<path color="#0087ff" d="M146.9 164.1l6.2 2.6 2.4-1.5-3.6-1.5-2.6-1.4z"/>
<path color="#0078ff" d="M153.1 166.7l3.6 1.2 2.4-1.7-3.6-1z"/>
<path color="#0087ff" d="M156.7 167.9l4.1 .6 2.4-2.5-3.1 .4-1-.2z"/>
<path color="#0097ff" d="M160.8 168.5l2.1 0 2.4-3-2.1 .5z"/>
<path color="#00a7ff" d="M162.9 168.5l2.1 0 2.3-3.4-2 .4z"/>
<path color="#00b7ff" d="M165 168.5l3.1 .7 1 .6 2.4-3.6-1.1-.7-2-.6-1.1 .2z"/>
<path color="#00a7ff" d="M169.1 169.8l2.1 1.2 2.3-3.1-2-1.7z"/>
<path color="#0097ff" d="M171.2 171l2 1.5 2.4-2.7-2.1-1.9z"/>
<path color="#0087ff" d="M173.2 172.5l2.1 1.4 2.3-2.2-2-1.9z"/>
<path color="#0078ff" d="M175.3 173.9l3.1 1.5 2.3-1.7-3.1-2z"/>
<path color="#0068ff" d="M178.4 175.4l18 6.4 2.4-1.7-18.1-6.4z"/>
<path color="#0058ff" d="M196.4 181.8l14.4 5.2 2.4-1.4-3.6-1.7-10.8-3.8z"/>
<path color="#0048ff" d="M210.8 187l4.6 1.9 2.4-.6-4.6-2.7z"/>
<path color="#0038ff" d="M215.4 188.9l4.7 2 2.3 .1-4.6-2.7z"/>
<path color="#0028ff" d="M220.1 190.9l8.7 2.8 2.4-.2-5.2-1.1-3.6-1.4z"/>
<path color="#0038ff" d="M228.8 193.7l5.2 1.6 2.4-.5-5.2-1.3z"/>
<path color="#00c7ff" d="M68.4 139l5.6 2.1 2.4-1.3-5.7-2.1z"/>
<path color="#00b7ff" d="M74 141.1l7.2 2.6 3.1 .8 2.4-1.8-3.1-.5-7.2-2.4z"/>
<path color="#00c7ff" d="M84.3 144.5l4.1-.1 2.4-2.8-3.1 1.1-1 0z"/>
<path color="#00d7ff" d="M88.4 144.4l1.1 0 2 .5 1.6 1 2.3-2.9-1.5-1.3-2.1-.5-1 .4z"/>
<path color="#00c7ff" d="M93.1 145.9l3.1 2.5 2.3-2.2-3.1-3.2z"/>
<path color="#00b7ff" d="M96.2 148.4l1.5 1 4.1 1.9 2.4-1.7-4.1-2-1.6-1.4z"/>
<path color="#00a7ff" d="M101.8 151.3l8.3 2.9 5.6 1.6 2.4-2.2-5.7-1.1-8.2-2.9z"/>
<path color="#00b7ff" d="M115.7 155.8l4.7 .2 2.3-3-4.6 .6z"/>
<path color="#00c7ff" d="M120.4 156l4.1-.1 2.4-3.5-4.2 .6z"/>
<path color="#00d7ff" d="M124.5 155.9l4.1 .7 3.1 1.4 2.4-3.6-3.1-1.4-4.1-.6z"/>
<path color="#00c7ff" d="M131.7 158l4.1 2.8 2.4-3.3-4.1-3.1z"/>
<path color="#00b7ff" d="M135.8 160.8l3.1 2.3 2.4-2.7-3.1-2.9z"/>
<path color="#00a7ff" d="M138.9 163.1l2.6 1.5 2.4-2.3-2.6-1.9z"/>
<path color="#0097ff" d="M141.5 164.6l4.1 2 2.4-2-4.1-2.3z"/>
<path color="#0087ff" d="M145.6 166.6l7.7 2.9 5.7 1.5 2.4-2.5-3.6-.3-2.1-.6-7.7-3z"/>
<path color="#0097ff" d="M159 171l4.6 .7 2.4-3.1-4.6-.1z"/>
<path color="#00a7ff" d="M163.6 171.7l2.1 .7 2.4-3.2-2.1-.6z"/>
<path color="#0097ff" d="M165.7 172.4l3.6 1.8 2.4-2.8-3.6-2.2z"/>
<path color="#0087ff" d="M169.3 174.2l3.1 1.7 2.4-2.3-3.1-2.2z"/>
<path color="#0078ff" d="M172.4 175.9l8.7 3.4 2.4-2-5.1-1.9-3.6-1.8z"/>
<path color="#0068ff" d="M181.1 179.3l20.1 7 2.4-2-20.1-7z"/>
<path color="#0058ff" d="M201.2 186.3l10.8 4.2 2.4-2-10.8-4.2z"/>
<path color="#0048ff" d="M212 190.5l7.3 3.1 12.3 3.8 2.4-2.1-12.4-3.8-7.2-3z"/>
<path color="#00c7ff" d="M66 140.2l14.9 5.5 6.2 1.1 2.4-2.4-4.1 .2-2.1-.3-14.9-5.3z"/>
<path color="#00d7ff" d="M87.1 146.8l2.1 .6 2.3-2.5-2-.5z"/>
<path color="#00c7ff" d="M89.2 147.4l4.6 2.8 2.4-1.8-4.7-3.5z"/>
<path color="#00b7ff" d="M93.8 150.2l3.6 1.7 12.4 4.6 4.1 1.2 5.6 .9 2.4-2.7-5.1 0-4.7-1-10.3-3.6-4.1-1.9-1.5-1z"/>
<path color="#00c7ff" d="M119.5 158.6l6.7 1.2 5.2 2.5 2.4-3-3.1-1.8-2.1-.9-4.1-.7-2.6 0z"/>
<path color="#00b7ff" d="M131.4 162.3l4.1 2.5 2.4-2.4-4.1-3.1z"/>
<path color="#00a7ff" d="M135.5 164.8l3.6 1.8 2.4-2-3.6-2.2z"/>
<path color="#0097ff" d="M139.1 166.6l7.7 3.2 2.4-1.8-7.7-3.4z"/>
<path color="#0087ff" d="M146.8 169.8l22.7 8 2.4-2.2-6.2-3.2-2.1-.7-6.1-1-8.3-2.7z"/>
<path color="#0078ff" d="M169.5 177.8l14.4 5.1 2.4-1.8-10.3-3.7-4.1-1.8z"/>
<path color="#0068ff" d="M183.9 182.9l18 6.5 2.4-2-18-6.3z"/>
<path color="#0058ff" d="M201.9 189.4l8.8 3.5 2.4-1.9-8.8-3.6z"/>
<path color="#0048ff" d="M210.7 192.9l6.2 2.6 12.3 4 2.4-2.1-12.3-3.8-6.2-2.6z"/>
<path color="#00d7ff" d="M63.6 141.9l4.1 1.5 2.4-1.7-4.1-1.5z"/>
<path color="#00c7ff" d="M67.7 143.4l25.3 9.5 2.3-1.9-6.1-3.6-8.3-1.7-10.8-4z"/>
<path color="#00b7ff" d="M93 152.9l16.5 6.1 10.8 2.6 2.3-2.7-6.7-.8-4.1-.9-16.5-6.2z"/>
<path color="#00c7ff" d="M120.3 161.6l5.1 1.6 2.4-2.8-5.2-1.5z"/>
<path color="#00b7ff" d="M125.4 163.2l6.7 3.4 2.4-2.4-6.7-3.8z"/>
<path color="#00a7ff" d="M132.1 166.6l5.7 2.5 2.3-2-5.6-2.9z"/>
<path color="#0097ff" d="M137.8 169.1l12.8 4.7 2.4-1.8-12.9-4.9z"/>
<path color="#0087ff" d="M150.7 173.8l18.1 6.5 2.3-1.9-18-6.4z"/>
<path color="#0078ff" d="M168.7 180.3l18 6.4 2.4-1.9-18.1-6.4z"/>
<path color="#0068ff" d="M186.7 186.7l16 5.8 2.3-2-15.9-5.7z"/>
<path color="#0058ff" d="M202.7 192.5l7.2 3.1 2.3-2-7.2-3.1z"/>
<path color="#0048ff" d="M209.9 195.6l6.7 2.6 10.3 3.2 2.3-1.9-10.3-3.2-6.7-2.7z"/>
<path color="#00d7ff" d="M61.2 144.3l5.7 2.1 2.4-2.4-5.7-2.1z"/>
<path color="#00c7ff" d="M66.9 146.4l23.7 8.9 2.4-2.4-23.7-8.9z"/>
<path color="#00b7ff" d="M90.6 155.3l18.5 6.8 12.4 3.6 6.7 2.8 2.4-2.7-6.7-3.2-14.4-3.6-16.5-6.1z"/>
<path color="#00a7ff" d="M128.2 168.5l6.7 2.8 2.4-2.4-6.7-3.1z"/>
<path color="#0097ff" d="M134.9 171.3l14.4 5.2 2.4-2.3-14.4-5.3z"/>
<path color="#0087ff" d="M149.3 176.5l18 6.5 2.4-2.4-18-6.4z"/>
<path color="#0078ff" d="M167.3 183l18.1 6.4 2.3-2.4-18-6.4z"/>
<path color="#0068ff" d="M185.4 189.4l15.4 5.6 2.4-2.3-15.5-5.7z"/>
<path color="#0058ff" d="M200.8 195l7.2 3.1 2.4-2.3-7.2-3.1z"/>
<path color="#0048ff" d="M208 198.1l6.2 2.4 10.3 3.2 2.4-2.3-10.3-3.2-6.2-2.4z"/>
</g>
<g id="pa-labels">
<text x="2" y="20.5">(a)</text>
<text x="208.4" y="9.1" text-anchor="middle" font-size="11.8">Laser 1</text>
<text x="245.8" y="23.7" text-anchor="middle" font-size="11.8">Laser 2</text>
<path d="M209 15V30.2M205.4 24.8L209 30.6L212.6 24.8" stroke="#111" stroke-width="1.3" fill="none"/>
<path d="M245.9 29.8V42.3M242.4 37L245.9 42.7L249.4 37" stroke="#111" stroke-width="1.3" fill="none"/>
<text x="50.5" y="104.8" text-anchor="end" font-size="11.9" stroke="#111" stroke-width=".45">5</text>
<text x="50.5" y="119.6" text-anchor="end" font-size="11.9" stroke="#111" stroke-width=".45">-15</text>
<text x="50.5" y="133.8" text-anchor="end" font-size="11.9" stroke="#111" stroke-width=".45">-35</text>
<text x="50.5" y="148.2" text-anchor="end" font-size="11.9" stroke="#111" stroke-width=".45">-55</text>
<text x="50.5" y="163" text-anchor="end" font-size="11.9" stroke="#111" stroke-width=".45">-75</text>
<text x="27.6" y="128.3" font-weight="bold" text-anchor="middle" transform="rotate(-90 27.6 128.3)" font-size="12.9">Power (dBm)</text>
<text x="54.2" y="178.9" text-anchor="middle" font-size="11.9" stroke="#111" stroke-width=".45">2010</text>
<text x="95.3" y="191.4" text-anchor="middle" font-size="11.9" stroke="#111" stroke-width=".45">2020</text>
<text x="136.2" y="204.5" text-anchor="middle" font-size="11.9" stroke="#111" stroke-width=".45">2030</text>
<text x="179.6" y="215.8" text-anchor="middle" font-size="11.9" stroke="#111" stroke-width=".45">2040</text>
<text x="218.1" y="228.2" text-anchor="middle" font-size="11.9" stroke="#111" stroke-width=".45">2050</text>
<text x="241.7" y="221.3" text-anchor="middle" font-size="11.6" stroke="#111" stroke-width=".45">1.1</text>
<text x="265.4" y="200.8" text-anchor="middle" font-size="11.6" stroke="#111" stroke-width=".45">1.5</text>
<text x="289.7" y="180.2" text-anchor="middle" font-size="11.6" stroke="#111" stroke-width=".45">1.9</text>
<text x="312.5" y="157.3" text-anchor="middle" font-size="11.6" stroke="#111" stroke-width=".45">2.3</text>
<text x="337.2" y="134.5" text-anchor="middle" font-size="11.6" stroke="#111" stroke-width=".45">2.7</text>
<text x="125.6" y="217.3" font-weight="bold" text-anchor="middle" transform="rotate(13.6 125.6 217.3)" font-size="12.7" dy="4">Wavelength (nm)</text>
<text x="305.3" y="189.4" font-weight="bold" text-anchor="middle" transform="rotate(-42.3 305.3 189.4)" font-size="12.5" dy="4">Pump power (W)</text>
</g>
<g id="pb-map" shape-rendering="crispEdges">
<path fill="#0000e7" d="M259 252h24v5h-24zM257 257h26v5h-26zM257 262h26v5h-26zM257 267h26v5h-26zM258 272h25v4h-25zM256 276h27v5h-27zM261 281h22v5h-22zM262 291h21v5h-21zM261 296h22v4h-22zM258 300h25v5h-25zM263 310h20v5h-20zM262 329h21v5h-21zM271 334h12v5h-12zM263 339h20v5h-20zM262 344h21v4h-21zM268 363h15v4h-15zM262 372h21v5h-21zM261 377h22v5h-22zM265 382h18v5h-18zM268 387h15v4h-15zM278 391h5v5h-5zM265 396h18v5h-18zM265 401h18v5h-18zM209 411h12v4h-12zM263 411h20v4h-20zM237 420h46v5h-46z"/>
<path fill="#0000f7" d="M213 252h5v5h-5zM253 252h6v5h-6zM209 257h12v5h-12zM253 257h4v5h-4zM211 262h8v5h-8zM252 262h5v5h-5zM210 267h8v5h-8zM252 267h5v5h-5zM211 272h7v4h-7zM252 272h6v4h-6zM209 276h11v5h-11zM252 276h4v5h-4zM213 281h4v5h-4zM253 281h8v5h-8zM255 286h28v5h-28zM213 291h7v5h-7zM255 291h7v5h-7zM212 296h10v4h-10zM255 296h6v4h-6zM210 300h13v5h-13zM254 300h4v5h-4zM258 305h25v5h-25zM214 310h7v5h-7zM256 310h7v5h-7zM259 315h24v5h-24zM260 320h23v4h-23zM261 324h22v5h-22zM212 329h13v5h-13zM257 329h5v5h-5zM217 334h5v5h-5zM259 334h12v5h-12zM214 339h12v5h-12zM258 339h5v5h-5zM212 344h16v4h-16zM258 344h4v4h-4zM219 348h4v5h-4zM261 348h22v5h-22zM263 353h20v5h-20zM220 358h3v5h-3zM262 358h21v5h-21zM217 363h8v4h-8zM260 363h8v4h-8zM220 367h2v5h-2zM261 367h22v5h-22zM212 372h16v5h-16zM258 372h4v5h-4zM53 377h3v5h-3zM211 377h17v5h-17zM258 377h3v5h-3zM209 382h17v5h-17zM259 382h6v5h-6zM210 387h15v4h-15zM260 387h8v4h-8zM211 391h13v5h-13zM260 391h18v5h-18zM208 396h18v5h-18zM259 396h6v5h-6zM208 401h18v5h-18zM259 401h6v5h-6zM212 406h11v5h-11zM261 406h22v5h-22zM204 411h5v4h-5zM221 411h6v4h-6zM258 411h5v4h-5zM208 415h14v5h-14zM262 415h21v5h-21zM204 420h33v5h-33zM204 425h79v5h-79z"/>
<path fill="#0008ff" d="M205 252h8v5h-8zM218 252h5v5h-5zM250 252h3v5h-3zM204 257h5v5h-5zM221 257h4v5h-4zM250 257h3v5h-3zM204 262h7v5h-7zM219 262h4v5h-4zM249 262h3v5h-3zM203 267h7v5h-7zM218 267h4v5h-4zM249 267h3v5h-3zM204 272h7v4h-7zM218 272h5v4h-5zM249 272h3v4h-3zM204 276h5v5h-5zM220 276h4v5h-4zM249 276h3v5h-3zM205 281h8v5h-8zM217 281h5v5h-5zM250 281h3v5h-3zM208 286h14v5h-14zM251 286h4v5h-4zM206 291h7v5h-7zM220 291h5v5h-5zM252 291h3v5h-3zM53 296h1v4h-1zM206 296h6v4h-6zM222 296h4v4h-4zM253 296h2v4h-2zM53 300h2v5h-2zM205 300h5v5h-5zM223 300h3v5h-3zM251 300h3v5h-3zM209 305h14v5h-14zM254 305h4v5h-4zM207 310h7v5h-7zM221 310h4v5h-4zM253 310h3v5h-3zM211 315h14v5h-14zM256 315h3v5h-3zM211 320h14v4h-14zM256 320h4v4h-4zM212 324h13v5h-13zM257 324h4v5h-4zM53 329h4v5h-4zM207 329h5v5h-5zM225 329h4v5h-4zM254 329h3v5h-3zM53 334h1v5h-1zM210 334h7v5h-7zM222 334h5v5h-5zM256 334h3v5h-3zM53 339h4v5h-4zM209 339h5v5h-5zM226 339h3v5h-3zM255 339h3v5h-3zM53 344h6v4h-6zM208 344h4v4h-4zM228 344h3v4h-3zM255 344h3v4h-3zM53 348h2v5h-2zM211 348h8v5h-8zM223 348h6v5h-6zM257 348h4v5h-4zM214 353h14v5h-14zM259 353h4v5h-4zM53 358h3v5h-3zM212 358h8v5h-8zM223 358h6v5h-6zM258 358h4v5h-4zM53 363h4v4h-4zM210 363h7v4h-7zM225 363h4v4h-4zM257 363h3v4h-3zM53 367h2v5h-2zM211 367h9v5h-9zM222 367h6v5h-6zM257 367h4v5h-4zM53 372h7v5h-7zM208 372h4v5h-4zM228 372h3v5h-3zM255 372h3v5h-3zM56 377h6v5h-6zM207 377h4v5h-4zM228 377h3v5h-3zM255 377h3v5h-3zM53 382h5v5h-5zM206 382h3v5h-3zM226 382h4v5h-4zM256 382h3v5h-3zM53 387h4v4h-4zM206 387h4v4h-4zM225 387h4v4h-4zM257 387h3v4h-3zM53 391h3v5h-3zM206 391h5v5h-5zM224 391h5v5h-5zM257 391h3v5h-3zM53 396h5v5h-5zM205 396h3v5h-3zM226 396h4v5h-4zM256 396h3v5h-3zM53 401h7v5h-7zM205 401h3v5h-3zM226 401h4v5h-4zM256 401h3v5h-3zM53 406h5v5h-5zM205 406h7v5h-7zM223 406h5v5h-5zM258 406h3v5h-3zM53 411h11v4h-11zM202 411h2v4h-2zM227 411h4v4h-4zM256 411h2v4h-2zM53 415h3v5h-3zM203 415h5v5h-5zM222 415h6v5h-6zM258 415h4v5h-4zM53 420h11v5h-11zM201 420h3v5h-3zM53 425h12v5h-12zM200 425h4v5h-4z"/>
<path fill="#0018ff" d="M53 252h1v5h-1zM201 252h4v5h-4zM223 252h3v5h-3zM247 252h3v5h-3zM53 257h2v5h-2zM99 257h5v5h-5zM200 257h4v5h-4zM225 257h3v5h-3zM247 257h3v5h-3zM53 262h1v5h-1zM200 262h4v5h-4zM223 262h3v5h-3zM247 262h2v5h-2zM53 267h1v5h-1zM99 267h3v5h-3zM199 267h4v5h-4zM222 267h3v5h-3zM246 267h3v5h-3zM99 272h3v4h-3zM200 272h4v4h-4zM223 272h3v4h-3zM247 272h2v4h-2zM53 276h2v5h-2zM97 276h7v5h-7zM200 276h4v5h-4zM224 276h3v5h-3zM246 276h3v5h-3zM53 281h1v5h-1zM201 281h4v5h-4zM222 281h4v5h-4zM248 281h2v5h-2zM53 286h1v5h-1zM203 286h5v5h-5zM222 286h3v5h-3zM249 286h2v5h-2zM53 291h4v5h-4zM202 291h4v5h-4zM225 291h3v5h-3zM249 291h3v5h-3zM54 296h4v4h-4zM203 296h3v4h-3zM226 296h3v4h-3zM250 296h3v4h-3zM55 300h3v5h-3zM101 300h5v5h-5zM201 300h4v5h-4zM226 300h3v5h-3zM249 300h2v5h-2zM53 305h2v5h-2zM204 305h5v5h-5zM223 305h4v5h-4zM251 305h3v5h-3zM53 310h4v5h-4zM203 310h4v5h-4zM225 310h3v5h-3zM250 310h3v5h-3zM53 315h3v5h-3zM206 315h5v5h-5zM225 315h3v5h-3zM253 315h3v5h-3zM53 320h3v4h-3zM206 320h5v4h-5zM225 320h3v4h-3zM253 320h3v4h-3zM53 324h4v5h-4zM207 324h5v5h-5zM225 324h4v5h-4zM254 324h3v5h-3zM57 329h3v5h-3zM204 329h3v5h-3zM229 329h3v5h-3zM252 329h2v5h-2zM54 334h5v5h-5zM205 334h5v5h-5zM227 334h3v5h-3zM253 334h3v5h-3zM57 339h4v5h-4zM205 339h4v5h-4zM229 339h3v5h-3zM253 339h2v5h-2zM59 344h4v4h-4zM105 344h3v4h-3zM204 344h4v4h-4zM231 344h3v4h-3zM252 344h3v4h-3zM55 348h5v5h-5zM206 348h5v5h-5zM229 348h3v5h-3zM255 348h2v5h-2zM53 353h7v5h-7zM209 353h5v5h-5zM228 353h3v5h-3zM256 353h3v5h-3zM56 358h5v5h-5zM208 358h4v5h-4zM229 358h3v5h-3zM256 358h2v5h-2zM57 363h5v4h-5zM207 363h3v4h-3zM229 363h3v4h-3zM254 363h3v4h-3zM55 367h6v5h-6zM206 367h5v5h-5zM228 367h3v5h-3zM255 367h2v5h-2zM60 372h4v5h-4zM106 372h2v5h-2zM204 372h4v5h-4zM231 372h3v5h-3zM253 372h2v5h-2zM62 377h3v5h-3zM106 377h4v5h-4zM204 377h3v5h-3zM231 377h3v5h-3zM252 377h3v5h-3zM58 382h4v5h-4zM205 382h1v5h-1zM230 382h2v5h-2zM254 382h2v5h-2zM57 387h5v4h-5zM204 387h2v4h-2zM229 387h3v4h-3zM254 387h3v4h-3zM56 391h5v5h-5zM204 391h2v5h-2zM229 391h3v5h-3zM254 391h3v5h-3zM58 396h4v5h-4zM203 396h2v5h-2zM230 396h2v5h-2zM254 396h2v5h-2zM60 401h4v5h-4zM203 401h2v5h-2zM230 401h2v5h-2zM254 401h2v5h-2zM58 406h6v5h-6zM203 406h2v5h-2zM228 406h3v5h-3zM255 406h3v5h-3zM64 411h4v4h-4zM200 411h2v4h-2zM231 411h2v4h-2zM253 411h3v4h-3zM56 415h9v5h-9zM201 415h2v5h-2zM228 415h3v5h-3zM255 415h3v5h-3zM64 420h5v5h-5zM199 420h2v5h-2zM65 425h7v5h-7zM100 425h8v5h-8zM164 425h14v5h-14zM197 425h3v5h-3zM279 430h4v5h-4zM273 435h10v4h-10z"/>
<path fill="#0028ff" d="M54 252h3v5h-3zM96 252h12v5h-12zM198 252h3v5h-3zM226 252h3v5h-3zM244 252h3v5h-3zM55 257h3v5h-3zM95 257h4v5h-4zM104 257h6v5h-6zM197 257h3v5h-3zM228 257h3v5h-3zM244 257h3v5h-3zM54 262h3v5h-3zM95 262h14v5h-14zM197 262h3v5h-3zM226 262h3v5h-3zM244 262h3v5h-3zM54 267h2v5h-2zM94 267h5v5h-5zM102 267h7v5h-7zM196 267h3v5h-3zM225 267h3v5h-3zM243 267h3v5h-3zM53 272h3v4h-3zM94 272h5v4h-5zM102 272h6v4h-6zM197 272h3v4h-3zM226 272h3v4h-3zM244 272h3v4h-3zM55 276h2v5h-2zM93 276h4v5h-4zM104 276h5v5h-5zM197 276h3v5h-3zM227 276h3v5h-3zM243 276h3v5h-3zM54 281h3v5h-3zM95 281h13v5h-13zM198 281h3v5h-3zM226 281h2v5h-2zM245 281h3v5h-3zM54 286h3v5h-3zM98 286h9v5h-9zM199 286h4v5h-4zM225 286h3v5h-3zM246 286h3v5h-3zM57 291h2v5h-2zM98 291h12v5h-12zM199 291h3v5h-3zM228 291h3v5h-3zM247 291h2v5h-2zM58 296h2v4h-2zM98 296h13v4h-13zM200 296h3v4h-3zM229 296h3v4h-3zM247 296h3v4h-3zM58 300h3v5h-3zM96 300h5v5h-5zM106 300h6v5h-6zM198 300h3v5h-3zM229 300h3v5h-3zM246 300h3v5h-3zM55 305h3v5h-3zM100 305h7v5h-7zM201 305h3v5h-3zM227 305h3v5h-3zM249 305h2v5h-2zM57 310h2v5h-2zM97 310h12v5h-12zM200 310h3v5h-3zM228 310h3v5h-3zM247 310h3v5h-3zM56 315h3v5h-3zM100 315h7v5h-7zM203 315h3v5h-3zM228 315h3v5h-3zM250 315h3v5h-3zM56 320h3v4h-3zM103 320h3v4h-3zM202 320h4v4h-4zM228 320h3v4h-3zM251 320h2v4h-2zM57 324h4v5h-4zM204 324h3v5h-3zM229 324h3v5h-3zM251 324h3v5h-3zM60 329h3v5h-3zM99 329h14v5h-14zM201 329h3v5h-3zM232 329h3v5h-3zM249 329h3v5h-3zM59 334h3v5h-3zM100 334h11v5h-11zM202 334h3v5h-3zM230 334h3v5h-3zM250 334h3v5h-3zM61 339h2v5h-2zM100 339h13v5h-13zM202 339h3v5h-3zM232 339h3v5h-3zM250 339h3v5h-3zM63 344h2v4h-2zM100 344h5v4h-5zM108 344h7v4h-7zM202 344h2v4h-2zM234 344h3v4h-3zM249 344h3v4h-3zM60 348h3v5h-3zM103 348h7v5h-7zM203 348h3v5h-3zM232 348h2v5h-2zM252 348h3v5h-3zM60 353h3v5h-3zM205 353h4v5h-4zM231 353h3v5h-3zM254 353h2v5h-2zM61 358h3v5h-3zM104 358h7v5h-7zM204 358h4v5h-4zM232 358h3v5h-3zM253 358h3v5h-3zM62 363h3v4h-3zM103 363h9v4h-9zM204 363h3v4h-3zM232 363h3v4h-3zM251 363h3v4h-3zM61 367h3v5h-3zM103 367h8v5h-8zM203 367h3v5h-3zM231 367h3v5h-3zM252 367h3v5h-3zM64 372h2v5h-2zM100 372h6v5h-6zM108 372h8v5h-8zM202 372h2v5h-2zM234 372h3v5h-3zM249 372h4v5h-4zM65 377h3v5h-3zM101 377h5v5h-5zM110 377h7v5h-7zM201 377h3v5h-3zM234 377h3v5h-3zM249 377h3v5h-3zM62 382h3v5h-3zM101 382h13v5h-13zM203 382h2v5h-2zM232 382h3v5h-3zM251 382h3v5h-3zM62 387h3v4h-3zM102 387h11v4h-11zM203 387h1v4h-1zM232 387h3v4h-3zM251 387h3v4h-3zM61 391h3v5h-3zM102 391h9v5h-9zM203 391h1v5h-1zM232 391h2v5h-2zM252 391h2v5h-2zM62 396h3v5h-3zM101 396h11v5h-11zM202 396h1v5h-1zM232 396h3v5h-3zM251 396h3v5h-3zM64 401h3v5h-3zM101 401h12v5h-12zM201 401h2v5h-2zM232 401h3v5h-3zM251 401h3v5h-3zM64 406h4v5h-4zM103 406h9v5h-9zM201 406h2v5h-2zM231 406h3v5h-3zM252 406h3v5h-3zM68 411h3v4h-3zM199 411h1v4h-1zM233 411h3v4h-3zM250 411h3v4h-3zM65 415h4v5h-4zM199 415h2v5h-2zM231 415h3v5h-3zM253 415h2v5h-2zM69 420h3v5h-3zM100 420h7v5h-7zM166 420h12v5h-12zM197 420h2v5h-2zM72 425h3v5h-3zM94 425h6v5h-6zM108 425h8v5h-8zM158 425h6v5h-6zM178 425h3v5h-3zM195 425h2v5h-2zM221 430h58v5h-58zM215 435h58v4h-58zM236 439h47v5h-47z"/>
<path fill="#0038ff" d="M57 252h2v5h-2zM93 252h3v5h-3zM108 252h5v5h-5zM195 252h3v5h-3zM229 252h4v5h-4zM240 252h4v5h-4zM58 257h2v5h-2zM92 257h3v5h-3zM110 257h3v5h-3zM194 257h3v5h-3zM231 257h5v5h-5zM238 257h6v5h-6zM57 262h2v5h-2zM92 262h3v5h-3zM109 262h4v5h-4zM194 262h3v5h-3zM229 262h4v5h-4zM239 262h5v5h-5zM56 267h3v5h-3zM91 267h3v5h-3zM109 267h4v5h-4zM193 267h3v5h-3zM228 267h5v5h-5zM239 267h4v5h-4zM56 272h2v4h-2zM91 272h3v4h-3zM108 272h4v4h-4zM194 272h3v4h-3zM229 272h4v4h-4zM240 272h4v4h-4zM57 276h3v5h-3zM90 276h3v5h-3zM109 276h4v5h-4zM194 276h3v5h-3zM230 276h13v5h-13zM57 281h2v5h-2zM92 281h3v5h-3zM108 281h4v5h-4zM195 281h3v5h-3zM228 281h4v5h-4zM241 281h4v5h-4zM57 286h3v5h-3zM94 286h4v5h-4zM107 286h5v5h-5zM196 286h3v5h-3zM228 286h3v5h-3zM243 286h3v5h-3zM59 291h3v5h-3zM94 291h4v5h-4zM110 291h4v5h-4zM196 291h3v5h-3zM231 291h3v5h-3zM243 291h4v5h-4zM60 296h3v4h-3zM95 296h3v4h-3zM111 296h4v4h-4zM197 296h3v4h-3zM232 296h5v4h-5zM243 296h4v4h-4zM61 300h2v5h-2zM93 300h3v5h-3zM112 300h4v5h-4zM196 300h2v5h-2zM232 300h14v5h-14zM58 305h3v5h-3zM96 305h4v5h-4zM107 305h5v5h-5zM198 305h3v5h-3zM230 305h3v5h-3zM245 305h4v5h-4zM59 310h3v5h-3zM94 310h3v5h-3zM109 310h5v5h-5zM197 310h3v5h-3zM231 310h4v5h-4zM243 310h4v5h-4zM59 315h2v5h-2zM96 315h4v5h-4zM107 315h6v5h-6zM200 315h3v5h-3zM231 315h3v5h-3zM247 315h3v5h-3zM59 320h3v4h-3zM97 320h6v4h-6zM106 320h6v4h-6zM199 320h3v4h-3zM231 320h3v4h-3zM247 320h4v4h-4zM61 324h3v5h-3zM99 324h14v5h-14zM201 324h3v5h-3zM232 324h3v5h-3zM248 324h3v5h-3zM63 329h3v5h-3zM96 329h3v5h-3zM113 329h4v5h-4zM198 329h3v5h-3zM235 329h5v5h-5zM244 329h5v5h-5zM62 334h2v5h-2zM97 334h3v5h-3zM111 334h5v5h-5zM200 334h2v5h-2zM233 334h4v5h-4zM247 334h3v5h-3zM63 339h3v5h-3zM96 339h4v5h-4zM113 339h5v5h-5zM200 339h2v5h-2zM235 339h5v5h-5zM245 339h5v5h-5zM65 344h3v4h-3zM96 344h4v4h-4zM115 344h4v4h-4zM199 344h3v4h-3zM237 344h12v4h-12zM63 348h3v5h-3zM99 348h4v5h-4zM110 348h6v5h-6zM201 348h2v5h-2zM234 348h4v5h-4zM249 348h3v5h-3zM63 353h3v5h-3zM101 353h14v5h-14zM203 353h2v5h-2zM234 353h3v5h-3zM251 353h3v5h-3zM64 358h3v5h-3zM100 358h4v5h-4zM111 358h5v5h-5zM202 358h2v5h-2zM235 358h4v5h-4zM249 358h4v5h-4zM65 363h2v4h-2zM99 363h4v4h-4zM112 363h5v4h-5zM201 363h3v4h-3zM235 363h4v4h-4zM248 363h3v4h-3zM64 367h2v5h-2zM99 367h4v5h-4zM111 367h6v5h-6zM201 367h2v5h-2zM234 367h4v5h-4zM249 367h3v5h-3zM66 372h3v5h-3zM97 372h3v5h-3zM116 372h4v5h-4zM199 372h3v5h-3zM237 372h12v5h-12zM68 377h2v5h-2zM97 377h4v5h-4zM117 377h4v5h-4zM165 377h3v5h-3zM199 377h2v5h-2zM237 377h12v5h-12zM65 382h3v5h-3zM98 382h3v5h-3zM114 382h4v5h-4zM167 382h4v5h-4zM202 382h1v5h-1zM235 382h4v5h-4zM247 382h4v5h-4zM65 387h2v4h-2zM98 387h4v4h-4zM113 387h4v4h-4zM202 387h1v4h-1zM235 387h4v4h-4zM248 387h3v4h-3zM64 391h3v5h-3zM98 391h4v5h-4zM111 391h5v5h-5zM201 391h2v5h-2zM234 391h4v5h-4zM248 391h4v5h-4zM65 396h3v5h-3zM98 396h3v5h-3zM112 396h5v5h-5zM168 396h5v5h-5zM200 396h2v5h-2zM235 396h4v5h-4zM247 396h4v5h-4zM67 401h3v5h-3zM97 401h4v5h-4zM113 401h4v5h-4zM168 401h6v5h-6zM200 401h1v5h-1zM235 401h4v5h-4zM247 401h4v5h-4zM68 406h3v5h-3zM99 406h4v5h-4zM112 406h6v5h-6zM200 406h1v5h-1zM234 406h3v5h-3zM249 406h3v5h-3zM71 411h3v4h-3zM173 411h3v4h-3zM197 411h2v4h-2zM236 411h6v4h-6zM244 411h6v4h-6zM69 415h4v5h-4zM172 415h4v5h-4zM198 415h1v5h-1zM234 415h3v5h-3zM250 415h3v5h-3zM72 420h3v5h-3zM95 420h5v5h-5zM107 420h7v5h-7zM160 420h6v5h-6zM178 420h3v5h-3zM196 420h1v5h-1zM75 425h2v5h-2zM92 425h2v5h-2zM116 425h4v5h-4zM155 425h3v5h-3zM181 425h4v5h-4zM192 425h3v5h-3zM196 430h25v5h-25zM165 435h50v4h-50zM179 439h57v5h-57z"/>
<path fill="#0048ff" d="M59 252h3v5h-3zM90 252h3v5h-3zM113 252h3v5h-3zM193 252h2v5h-2zM233 252h7v5h-7zM60 257h3v5h-3zM89 257h3v5h-3zM113 257h3v5h-3zM192 257h2v5h-2zM236 257h2v5h-2zM59 262h3v5h-3zM89 262h3v5h-3zM113 262h3v5h-3zM192 262h2v5h-2zM233 262h6v5h-6zM59 267h2v5h-2zM88 267h3v5h-3zM113 267h3v5h-3zM191 267h2v5h-2zM233 267h6v5h-6zM58 272h3v4h-3zM88 272h3v4h-3zM112 272h3v4h-3zM192 272h2v4h-2zM233 272h7v4h-7zM60 276h2v5h-2zM88 276h2v5h-2zM113 276h2v5h-2zM153 276h12v5h-12zM192 276h2v5h-2zM59 281h3v5h-3zM90 281h2v5h-2zM112 281h4v5h-4zM192 281h3v5h-3zM232 281h9v5h-9zM60 286h2v5h-2zM91 286h3v5h-3zM112 286h3v5h-3zM194 286h2v5h-2zM231 286h12v5h-12zM62 291h2v5h-2zM92 291h2v5h-2zM114 291h3v5h-3zM194 291h2v5h-2zM234 291h9v5h-9zM63 296h2v4h-2zM92 296h3v4h-3zM115 296h3v4h-3zM158 296h10v4h-10zM195 296h2v4h-2zM237 296h6v4h-6zM63 300h3v5h-3zM91 300h2v5h-2zM116 300h3v5h-3zM153 300h16v5h-16zM194 300h2v5h-2zM61 305h2v5h-2zM93 305h3v5h-3zM112 305h4v5h-4zM195 305h3v5h-3zM233 305h12v5h-12zM62 310h2v5h-2zM91 310h3v5h-3zM114 310h3v5h-3zM195 310h2v5h-2zM235 310h8v5h-8zM61 315h3v5h-3zM93 315h3v5h-3zM113 315h3v5h-3zM198 315h2v5h-2zM234 315h13v5h-13zM62 320h2v4h-2zM94 320h3v4h-3zM112 320h4v4h-4zM197 320h2v4h-2zM234 320h6v4h-6zM241 320h6v4h-6zM64 324h2v5h-2zM96 324h3v5h-3zM113 324h5v5h-5zM199 324h2v5h-2zM235 324h5v5h-5zM243 324h5v5h-5zM66 329h2v5h-2zM93 329h3v5h-3zM117 329h3v5h-3zM154 329h18v5h-18zM196 329h2v5h-2zM240 329h4v5h-4zM64 334h3v5h-3zM94 334h3v5h-3zM116 334h3v5h-3zM162 334h7v5h-7zM198 334h2v5h-2zM237 334h10v5h-10zM66 339h3v5h-3zM94 339h2v5h-2zM118 339h3v5h-3zM156 339h18v5h-18zM198 339h2v5h-2zM240 339h5v5h-5zM68 344h3v4h-3zM93 344h3v4h-3zM119 344h3v4h-3zM152 344h24v4h-24zM197 344h2v4h-2zM66 348h3v5h-3zM96 348h3v5h-3zM116 348h4v5h-4zM164 348h5v5h-5zM198 348h3v5h-3zM238 348h11v5h-11zM66 353h2v5h-2zM98 353h3v5h-3zM115 353h4v5h-4zM200 353h3v5h-3zM237 353h6v5h-6zM245 353h6v5h-6zM67 358h2v5h-2zM96 358h4v5h-4zM116 358h4v5h-4zM162 358h10v5h-10zM200 358h2v5h-2zM239 358h10v5h-10zM67 363h3v4h-3zM96 363h3v4h-3zM117 363h4v4h-4zM158 363h16v4h-16zM199 363h2v4h-2zM239 363h9v4h-9zM66 367h3v5h-3zM96 367h3v5h-3zM117 367h4v5h-4zM163 367h6v5h-6zM198 367h3v5h-3zM238 367h11v5h-11zM69 372h3v5h-3zM94 372h3v5h-3zM120 372h3v5h-3zM152 372h24v5h-24zM197 372h2v5h-2zM70 377h3v5h-3zM94 377h3v5h-3zM121 377h3v5h-3zM152 377h13v5h-13zM168 377h8v5h-8zM197 377h2v5h-2zM68 382h2v5h-2zM95 382h3v5h-3zM118 382h4v5h-4zM155 382h12v5h-12zM171 382h3v5h-3zM201 382h1v5h-1zM239 382h8v5h-8zM67 387h3v4h-3zM95 387h3v4h-3zM117 387h4v4h-4zM156 387h18v4h-18zM201 387h1v4h-1zM239 387h9v4h-9zM67 391h3v5h-3zM95 391h3v5h-3zM116 391h3v5h-3zM162 391h13v5h-13zM200 391h1v5h-1zM238 391h10v5h-10zM68 396h3v5h-3zM95 396h3v5h-3zM117 396h3v5h-3zM160 396h8v5h-8zM173 396h3v5h-3zM199 396h1v5h-1zM239 396h8v5h-8zM70 401h2v5h-2zM94 401h3v5h-3zM117 401h3v5h-3zM160 401h8v5h-8zM174 401h3v5h-3zM199 401h1v5h-1zM239 401h8v5h-8zM71 406h2v5h-2zM95 406h4v5h-4zM118 406h4v5h-4zM159 406h18v5h-18zM198 406h2v5h-2zM237 406h12v5h-12zM74 411h2v4h-2zM95 411h11v4h-11zM168 411h5v4h-5zM176 411h4v4h-4zM196 411h1v4h-1zM242 411h2v4h-2zM73 415h2v5h-2zM96 415h11v5h-11zM167 415h5v5h-5zM176 415h3v5h-3zM196 415h2v5h-2zM237 415h13v5h-13zM75 420h1v5h-1zM93 420h2v5h-2zM114 420h4v5h-4zM157 420h3v5h-3zM181 420h2v5h-2zM194 420h2v5h-2zM77 425h1v5h-1zM91 425h1v5h-1zM120 425h3v5h-3zM152 425h3v5h-3zM185 425h7v5h-7zM154 430h42v5h-42zM102 435h20v4h-20zM149 435h16v4h-16zM149 439h30v5h-30z"/>
<path fill="#0058ff" d="M62 252h2v5h-2zM88 252h2v5h-2zM116 252h3v5h-3zM145 252h24v5h-24zM190 252h3v5h-3zM63 257h2v5h-2zM87 257h2v5h-2zM116 257h3v5h-3zM142 257h29v5h-29zM190 257h2v5h-2zM62 262h2v5h-2zM86 262h3v5h-3zM116 262h3v5h-3zM143 262h27v5h-27zM190 262h2v5h-2zM61 267h3v5h-3zM86 267h2v5h-2zM116 267h2v5h-2zM143 267h25v5h-25zM189 267h2v5h-2zM61 272h3v4h-3zM85 272h3v4h-3zM115 272h3v4h-3zM142 272h28v4h-28zM190 272h2v4h-2zM62 276h3v5h-3zM85 276h3v5h-3zM115 276h3v5h-3zM140 276h13v5h-13zM165 276h6v5h-6zM190 276h2v5h-2zM62 281h2v5h-2zM87 281h3v5h-3zM116 281h2v5h-2zM145 281h24v5h-24zM190 281h2v5h-2zM62 286h3v5h-3zM89 286h2v5h-2zM115 286h3v5h-3zM149 286h19v5h-19zM192 286h2v5h-2zM64 291h3v5h-3zM89 291h3v5h-3zM117 291h3v5h-3zM146 291h25v5h-25zM192 291h2v5h-2zM65 296h3v4h-3zM89 296h3v4h-3zM118 296h3v4h-3zM145 296h13v4h-13zM168 296h6v4h-6zM193 296h2v4h-2zM66 300h2v5h-2zM88 300h3v5h-3zM119 300h3v5h-3zM144 300h9v5h-9zM169 300h5v5h-5zM192 300h2v5h-2zM63 305h3v5h-3zM90 305h3v5h-3zM116 305h3v5h-3zM151 305h18v5h-18zM193 305h2v5h-2zM64 310h3v5h-3zM89 310h2v5h-2zM117 310h3v5h-3zM145 310h28v5h-28zM193 310h2v5h-2zM64 315h3v5h-3zM91 315h2v5h-2zM116 315h3v5h-3zM151 315h22v5h-22zM195 315h3v5h-3zM64 320h3v4h-3zM92 320h2v4h-2zM116 320h3v4h-3zM152 320h19v4h-19zM195 320h2v4h-2zM240 320h1v4h-1zM66 324h3v5h-3zM93 324h3v5h-3zM118 324h3v5h-3zM154 324h19v5h-19zM196 324h3v5h-3zM240 324h3v5h-3zM68 329h3v5h-3zM90 329h3v5h-3zM120 329h3v5h-3zM146 329h8v5h-8zM172 329h4v5h-4zM194 329h2v5h-2zM67 334h2v5h-2zM91 334h3v5h-3zM119 334h3v5h-3zM149 334h13v5h-13zM169 334h6v5h-6zM195 334h3v5h-3zM69 339h2v5h-2zM91 339h3v5h-3zM121 339h3v5h-3zM148 339h8v5h-8zM174 339h4v5h-4zM196 339h2v5h-2zM71 344h2v4h-2zM90 344h3v4h-3zM122 344h3v4h-3zM146 344h6v4h-6zM176 344h3v4h-3zM195 344h2v4h-2zM69 348h2v5h-2zM93 348h3v5h-3zM120 348h3v5h-3zM151 348h13v5h-13zM169 348h7v5h-7zM196 348h2v5h-2zM68 353h3v5h-3zM95 353h3v5h-3zM119 353h4v5h-4zM154 353h22v5h-22zM198 353h2v5h-2zM243 353h2v5h-2zM69 358h3v5h-3zM93 358h3v5h-3zM120 358h3v5h-3zM151 358h11v5h-11zM172 358h6v5h-6zM198 358h2v5h-2zM70 363h3v4h-3zM93 363h3v4h-3zM121 363h3v4h-3zM149 363h9v4h-9zM174 363h4v4h-4zM197 363h2v4h-2zM69 367h3v5h-3zM93 367h3v5h-3zM121 367h3v5h-3zM151 367h12v5h-12zM169 367h7v5h-7zM196 367h2v5h-2zM72 372h2v5h-2zM91 372h3v5h-3zM123 372h3v5h-3zM147 372h5v5h-5zM176 372h3v5h-3zM195 372h2v5h-2zM73 377h2v5h-2zM92 377h2v5h-2zM124 377h3v5h-3zM147 377h5v5h-5zM176 377h3v5h-3zM195 377h2v5h-2zM70 382h3v5h-3zM92 382h3v5h-3zM122 382h3v5h-3zM148 382h7v5h-7zM174 382h2v5h-2zM200 382h1v5h-1zM70 387h3v4h-3zM92 387h3v4h-3zM121 387h3v4h-3zM148 387h8v4h-8zM174 387h2v4h-2zM200 387h1v4h-1zM70 391h2v5h-2zM92 391h3v5h-3zM119 391h3v5h-3zM156 391h6v5h-6zM175 391h2v5h-2zM199 391h1v5h-1zM71 396h2v5h-2zM92 396h3v5h-3zM120 396h3v5h-3zM155 396h5v5h-5zM176 396h2v5h-2zM198 396h1v5h-1zM72 401h2v5h-2zM92 401h2v5h-2zM120 401h3v5h-3zM155 401h5v5h-5zM177 401h2v5h-2zM197 401h2v5h-2zM73 406h2v5h-2zM93 406h2v5h-2zM122 406h3v5h-3zM152 406h7v5h-7zM177 406h2v5h-2zM197 406h1v5h-1zM76 411h1v4h-1zM93 411h2v4h-2zM106 411h5v4h-5zM164 411h4v4h-4zM180 411h2v4h-2zM194 411h2v4h-2zM75 415h1v5h-1zM93 415h3v5h-3zM107 415h6v5h-6zM162 415h5v5h-5zM179 415h3v5h-3zM194 415h2v5h-2zM76 420h1v5h-1zM92 420h1v5h-1zM118 420h3v5h-3zM154 420h3v5h-3zM183 420h4v5h-4zM190 420h4v5h-4zM78 425h1v5h-1zM90 425h1v5h-1zM123 425h2v5h-2zM150 425h2v5h-2zM53 430h24v5h-24zM92 430h34v5h-34zM148 430h6v5h-6zM53 435h49v4h-49zM122 435h10v4h-10zM142 435h7v4h-7zM63 439h86v5h-86z"/>
<path fill="#0068ff" d="M64 252h3v5h-3zM84 252h4v5h-4zM119 252h2v5h-2zM139 252h6v5h-6zM169 252h4v5h-4zM189 252h1v5h-1zM65 257h4v5h-4zM83 257h4v5h-4zM119 257h2v5h-2zM137 257h5v5h-5zM171 257h3v5h-3zM188 257h2v5h-2zM64 262h4v5h-4zM83 262h3v5h-3zM119 262h2v5h-2zM138 262h5v5h-5zM170 262h3v5h-3zM188 262h2v5h-2zM64 267h3v5h-3zM82 267h4v5h-4zM118 267h3v5h-3zM138 267h5v5h-5zM168 267h4v5h-4zM187 267h2v5h-2zM64 272h3v4h-3zM82 272h3v4h-3zM118 272h2v4h-2zM137 272h5v4h-5zM170 272h3v4h-3zM188 272h2v4h-2zM65 276h3v5h-3zM81 276h4v5h-4zM118 276h2v5h-2zM135 276h5v5h-5zM171 276h4v5h-4zM188 276h2v5h-2zM64 281h4v5h-4zM84 281h3v5h-3zM118 281h3v5h-3zM139 281h6v5h-6zM169 281h4v5h-4zM188 281h2v5h-2zM65 286h2v5h-2zM86 286h3v5h-3zM118 286h3v5h-3zM141 286h8v5h-8zM168 286h5v5h-5zM190 286h2v5h-2zM67 291h3v5h-3zM86 291h3v5h-3zM120 291h3v5h-3zM141 291h5v5h-5zM171 291h4v5h-4zM190 291h2v5h-2zM68 296h3v4h-3zM86 296h3v4h-3zM121 296h3v4h-3zM140 296h5v4h-5zM174 296h3v4h-3zM191 296h2v4h-2zM68 300h4v5h-4zM84 300h4v5h-4zM122 300h2v5h-2zM140 300h4v5h-4zM174 300h3v5h-3zM190 300h2v5h-2zM66 305h3v5h-3zM87 305h3v5h-3zM119 305h2v5h-2zM143 305h8v5h-8zM169 305h5v5h-5zM191 305h2v5h-2zM67 310h3v5h-3zM85 310h4v5h-4zM120 310h2v5h-2zM140 310h5v5h-5zM173 310h3v5h-3zM191 310h2v5h-2zM67 315h3v5h-3zM87 315h4v5h-4zM119 315h3v5h-3zM143 315h8v5h-8zM173 315h4v5h-4zM193 315h2v5h-2zM67 320h3v4h-3zM89 320h3v4h-3zM119 320h3v4h-3zM144 320h8v4h-8zM171 320h4v4h-4zM193 320h2v4h-2zM69 324h3v5h-3zM90 324h3v5h-3zM121 324h3v5h-3zM146 324h8v5h-8zM173 324h4v5h-4zM194 324h2v5h-2zM71 329h3v5h-3zM87 329h3v5h-3zM123 329h2v5h-2zM141 329h5v5h-5zM176 329h3v5h-3zM192 329h2v5h-2zM69 334h3v5h-3zM88 334h3v5h-3zM122 334h3v5h-3zM144 334h5v5h-5zM175 334h4v5h-4zM194 334h1v5h-1zM71 339h3v5h-3zM88 339h3v5h-3zM124 339h3v5h-3zM143 339h5v5h-5zM178 339h2v5h-2zM194 339h2v5h-2zM73 344h2v4h-2zM88 344h2v4h-2zM125 344h2v4h-2zM142 344h4v4h-4zM179 344h3v4h-3zM194 344h1v4h-1zM71 348h3v5h-3zM90 348h3v5h-3zM123 348h3v5h-3zM145 348h6v5h-6zM176 348h3v5h-3zM194 348h2v5h-2zM71 353h3v5h-3zM91 353h4v5h-4zM123 353h2v5h-2zM147 353h7v5h-7zM176 353h4v5h-4zM196 353h2v5h-2zM72 358h3v5h-3zM91 358h2v5h-2zM123 358h3v5h-3zM146 358h5v5h-5zM178 358h3v5h-3zM196 358h2v5h-2zM73 363h2v4h-2zM90 363h3v4h-3zM124 363h3v4h-3zM145 363h4v4h-4zM178 363h3v4h-3zM195 363h2v4h-2zM72 367h2v5h-2zM90 367h3v5h-3zM124 367h2v5h-2zM146 367h5v5h-5zM176 367h3v5h-3zM194 367h2v5h-2zM74 372h2v5h-2zM90 372h1v5h-1zM126 372h2v5h-2zM143 372h4v5h-4zM179 372h2v5h-2zM194 372h1v5h-1zM75 377h2v5h-2zM90 377h2v5h-2zM127 377h3v5h-3zM144 377h3v5h-3zM179 377h2v5h-2zM193 377h2v5h-2zM73 382h2v5h-2zM90 382h2v5h-2zM125 382h2v5h-2zM144 382h4v5h-4zM176 382h1v5h-1zM199 382h1v5h-1zM73 387h1v4h-1zM90 387h2v4h-2zM124 387h2v4h-2zM144 387h4v4h-4zM176 387h2v4h-2zM198 387h2v4h-2zM72 391h2v5h-2zM90 391h2v5h-2zM122 391h3v5h-3zM152 391h4v5h-4zM177 391h1v5h-1zM198 391h1v5h-1zM73 396h2v5h-2zM90 396h2v5h-2zM123 396h2v5h-2zM151 396h4v5h-4zM178 396h2v5h-2zM197 396h1v5h-1zM74 401h1v5h-1zM91 401h1v5h-1zM123 401h3v5h-3zM151 401h4v5h-4zM179 401h2v5h-2zM196 401h1v5h-1zM75 406h2v5h-2zM92 406h1v5h-1zM125 406h3v5h-3zM148 406h4v5h-4zM179 406h2v5h-2zM195 406h2v5h-2zM77 411h1v4h-1zM92 411h1v4h-1zM111 411h4v4h-4zM160 411h4v4h-4zM182 411h3v4h-3zM191 411h3v4h-3zM76 415h2v5h-2zM92 415h1v5h-1zM113 415h4v5h-4zM158 415h4v5h-4zM182 415h3v5h-3zM192 415h2v5h-2zM77 420h1v5h-1zM91 420h1v5h-1zM121 420h2v5h-2zM152 420h2v5h-2zM187 420h3v5h-3zM79 425h1v5h-1zM89 425h1v5h-1zM125 425h2v5h-2zM148 425h2v5h-2zM77 430h3v5h-3zM89 430h3v5h-3zM126 430h5v5h-5zM144 430h4v5h-4zM132 435h10v4h-10zM53 439h10v5h-10z"/>
<path fill="#0078ff" d="M67 252h4v5h-4zM81 252h3v5h-3zM121 252h2v5h-2zM136 252h3v5h-3zM173 252h2v5h-2zM188 252h1v5h-1zM69 257h2v5h-2zM80 257h3v5h-3zM121 257h1v5h-1zM135 257h2v5h-2zM174 257h2v5h-2zM68 262h3v5h-3zM80 262h3v5h-3zM121 262h1v5h-1zM135 262h3v5h-3zM173 262h2v5h-2zM187 262h1v5h-1zM67 267h3v5h-3zM80 267h2v5h-2zM121 267h1v5h-1zM135 267h3v5h-3zM172 267h2v5h-2zM186 267h1v5h-1zM67 272h2v4h-2zM79 272h3v4h-3zM120 272h1v4h-1zM134 272h3v4h-3zM173 272h2v4h-2zM187 272h1v4h-1zM68 276h2v5h-2zM80 276h1v5h-1zM120 276h1v5h-1zM133 276h2v5h-2zM175 276h1v5h-1zM68 281h2v5h-2zM81 281h3v5h-3zM121 281h1v5h-1zM136 281h3v5h-3zM173 281h2v5h-2zM187 281h1v5h-1zM67 286h4v5h-4zM83 286h3v5h-3zM121 286h2v5h-2zM137 286h4v5h-4zM173 286h2v5h-2zM188 286h2v5h-2zM70 291h2v5h-2zM83 291h3v5h-3zM123 291h1v5h-1zM138 291h3v5h-3zM175 291h2v5h-2zM189 291h1v5h-1zM71 296h2v4h-2zM84 296h2v4h-2zM124 296h1v4h-1zM138 296h2v4h-2zM177 296h1v4h-1zM190 296h1v4h-1zM72 300h1v5h-1zM83 300h1v5h-1zM124 300h1v5h-1zM138 300h2v5h-2zM177 300h1v5h-1zM69 305h2v5h-2zM84 305h3v5h-3zM121 305h3v5h-3zM139 305h4v5h-4zM174 305h3v5h-3zM190 305h1v5h-1zM70 310h2v5h-2zM83 310h2v5h-2zM122 310h2v5h-2zM137 310h3v5h-3zM176 310h2v5h-2zM190 310h1v5h-1zM70 315h2v5h-2zM85 315h2v5h-2zM122 315h2v5h-2zM139 315h4v5h-4zM177 315h2v5h-2zM192 315h1v5h-1zM70 320h3v4h-3zM86 320h3v4h-3zM122 320h2v4h-2zM140 320h4v4h-4zM175 320h3v4h-3zM191 320h2v4h-2zM72 324h2v5h-2zM87 324h3v5h-3zM124 324h2v5h-2zM142 324h4v5h-4zM177 324h3v5h-3zM193 324h1v5h-1zM74 329h1v5h-1zM86 329h1v5h-1zM125 329h2v5h-2zM139 329h2v5h-2zM179 329h1v5h-1zM72 334h2v5h-2zM86 334h2v5h-2zM125 334h2v5h-2zM140 334h4v5h-4zM179 334h1v5h-1zM193 334h1v5h-1zM74 339h1v5h-1zM87 339h1v5h-1zM127 339h1v5h-1zM141 339h2v5h-2zM180 339h1v5h-1zM193 339h1v5h-1zM75 344h1v4h-1zM87 344h1v4h-1zM127 344h1v4h-1zM141 344h1v4h-1zM74 348h2v5h-2zM88 348h2v5h-2zM126 348h2v5h-2zM142 348h3v5h-3zM179 348h2v5h-2zM193 348h1v5h-1zM74 353h2v5h-2zM90 353h1v5h-1zM125 353h3v5h-3zM144 353h3v5h-3zM180 353h2v5h-2zM195 353h1v5h-1zM75 358h1v5h-1zM89 358h2v5h-2zM126 358h2v5h-2zM142 358h4v5h-4zM181 358h1v5h-1zM195 358h1v5h-1zM75 363h1v4h-1zM89 363h1v4h-1zM127 363h2v4h-2zM142 363h3v4h-3zM181 363h1v4h-1zM194 363h1v4h-1zM74 367h1v5h-1zM89 367h1v5h-1zM126 367h3v5h-3zM143 367h3v5h-3zM179 367h2v5h-2zM193 367h1v5h-1zM76 372h1v5h-1zM89 372h1v5h-1zM128 372h1v5h-1zM142 372h1v5h-1zM181 372h1v5h-1zM143 377h1v5h-1zM181 377h1v5h-1zM75 382h1v5h-1zM89 382h1v5h-1zM127 382h2v5h-2zM142 382h2v5h-2zM177 382h2v5h-2zM198 382h1v5h-1zM74 387h1v4h-1zM89 387h1v4h-1zM126 387h2v4h-2zM141 387h3v4h-3zM178 387h1v4h-1zM197 387h1v4h-1zM74 391h1v5h-1zM89 391h1v5h-1zM125 391h2v5h-2zM149 391h3v5h-3zM178 391h2v5h-2zM196 391h2v5h-2zM75 396h1v5h-1zM89 396h1v5h-1zM125 396h3v5h-3zM148 396h3v5h-3zM180 396h1v5h-1zM195 396h2v5h-2zM75 401h1v5h-1zM90 401h1v5h-1zM126 401h2v5h-2zM149 401h2v5h-2zM181 401h2v5h-2zM194 401h2v5h-2zM91 406h1v5h-1zM128 406h3v5h-3zM145 406h3v5h-3zM181 406h2v5h-2zM193 406h2v5h-2zM78 411h1v4h-1zM91 411h1v4h-1zM115 411h3v4h-3zM157 411h3v4h-3zM185 411h6v4h-6zM91 415h1v5h-1zM117 415h3v5h-3zM156 415h2v5h-2zM185 415h7v5h-7zM78 420h1v5h-1zM90 420h1v5h-1zM123 420h2v5h-2zM150 420h2v5h-2zM80 425h1v5h-1zM88 425h1v5h-1zM127 425h2v5h-2zM146 425h2v5h-2zM80 430h4v5h-4zM85 430h4v5h-4zM131 430h13v5h-13z"/>
<path fill="#0087ff" d="M71 252h1v5h-1zM80 252h1v5h-1zM135 252h1v5h-1zM175 252h1v5h-1zM187 252h1v5h-1zM71 257h1v5h-1zM79 262h1v5h-1zM134 262h1v5h-1zM70 267h1v5h-1zM79 267h1v5h-1zM134 267h1v5h-1zM69 272h1v4h-1zM121 272h1v4h-1zM70 276h1v5h-1zM79 276h1v5h-1zM187 276h1v5h-1zM70 281h1v5h-1zM80 281h1v5h-1zM122 281h1v5h-1zM135 281h1v5h-1zM71 286h1v5h-1zM81 286h2v5h-2zM136 286h1v5h-1zM175 286h1v5h-1zM72 291h1v5h-1zM82 291h1v5h-1zM124 291h1v5h-1zM137 291h1v5h-1zM73 296h1v4h-1zM83 296h1v4h-1zM137 296h1v4h-1zM178 296h1v4h-1zM73 300h1v5h-1zM82 300h1v5h-1zM137 300h1v5h-1zM189 300h1v5h-1zM71 305h2v5h-2zM83 305h1v5h-1zM137 305h2v5h-2zM189 305h1v5h-1zM72 310h1v5h-1zM136 310h1v5h-1zM72 315h1v5h-1zM84 315h1v5h-1zM124 315h1v5h-1zM138 315h1v5h-1zM179 315h1v5h-1zM73 320h1v4h-1zM85 320h1v4h-1zM124 320h1v4h-1zM138 320h2v4h-2zM178 320h1v4h-1zM74 324h1v5h-1zM86 324h1v5h-1zM126 324h1v5h-1zM140 324h2v5h-2zM180 324h1v5h-1zM192 324h1v5h-1zM75 329h1v5h-1zM85 329h1v5h-1zM74 334h1v5h-1zM85 334h1v5h-1zM180 334h1v5h-1zM192 334h1v5h-1zM75 339h1v5h-1zM86 339h1v5h-1zM140 339h1v5h-1zM181 339h1v5h-1zM76 344h1v4h-1zM140 344h1v4h-1zM128 348h1v5h-1zM141 348h1v5h-1zM76 353h1v5h-1zM89 353h1v5h-1zM128 353h1v5h-1zM142 353h2v5h-2zM182 353h1v5h-1zM194 353h1v5h-1zM76 358h1v5h-1zM88 358h1v5h-1zM128 358h1v5h-1zM141 358h1v5h-1zM182 358h1v5h-1zM194 358h1v5h-1zM76 363h1v4h-1zM88 363h1v4h-1zM141 363h1v4h-1zM182 363h1v4h-1zM75 367h1v5h-1zM88 367h1v5h-1zM141 367h2v5h-2zM88 372h1v5h-1zM141 372h1v5h-1zM193 372h1v5h-1zM77 377h1v5h-1zM89 377h1v5h-1zM130 377h1v5h-1zM142 377h1v5h-1zM76 382h1v5h-1zM88 382h1v5h-1zM141 382h1v5h-1zM179 382h1v5h-1zM197 382h1v5h-1zM75 387h1v4h-1zM88 387h1v4h-1zM128 387h1v4h-1zM179 387h2v4h-2zM196 387h1v4h-1zM75 391h1v5h-1zM88 391h1v5h-1zM127 391h2v5h-2zM146 391h3v5h-3zM180 391h2v5h-2zM195 391h1v5h-1zM88 396h1v5h-1zM128 396h1v5h-1zM146 396h2v5h-2zM181 396h3v5h-3zM193 396h2v5h-2zM76 401h1v5h-1zM89 401h1v5h-1zM128 401h1v5h-1zM146 401h3v5h-3zM183 401h3v5h-3zM191 401h3v5h-3zM77 406h1v5h-1zM90 406h1v5h-1zM131 406h1v5h-1zM143 406h2v5h-2zM183 406h10v5h-10zM79 411h1v4h-1zM90 411h1v4h-1zM118 411h3v4h-3zM155 411h2v4h-2zM78 415h1v5h-1zM90 415h1v5h-1zM120 415h2v5h-2zM153 415h3v5h-3zM79 420h1v5h-1zM89 420h1v5h-1zM125 420h2v5h-2zM148 420h2v5h-2zM81 425h2v5h-2zM86 425h2v5h-2zM129 425h3v5h-3zM143 425h3v5h-3zM84 430h1v5h-1z"/>
<path fill="#0097ff" d="M72 252h1v5h-1zM79 252h1v5h-1zM72 257h1v5h-1zM79 257h1v5h-1zM122 257h1v5h-1zM134 257h1v5h-1zM187 257h1v5h-1zM71 262h1v5h-1zM122 262h1v5h-1zM78 267h1v5h-1zM70 272h1v4h-1zM78 272h1v4h-1zM175 272h1v4h-1zM78 276h1v5h-1zM71 281h1v5h-1zM123 286h1v5h-1zM73 291h1v5h-1zM188 291h1v5h-1zM74 296h1v4h-1zM82 296h1v4h-1zM125 300h1v5h-1zM82 305h1v5h-1zM124 305h1v5h-1zM177 305h1v5h-1zM73 310h1v5h-1zM82 310h1v5h-1zM124 310h1v5h-1zM189 310h1v5h-1zM73 315h1v5h-1zM83 315h1v5h-1zM137 315h1v5h-1zM191 315h1v5h-1zM84 320h1v4h-1zM125 320h1v4h-1zM190 320h1v4h-1zM75 324h1v5h-1zM139 324h1v5h-1zM180 329h1v5h-1zM127 334h1v5h-1zM139 334h1v5h-1zM85 339h1v5h-1zM128 339h1v5h-1zM86 344h1v4h-1zM128 344h1v4h-1zM193 344h1v4h-1zM76 348h1v5h-1zM87 348h1v5h-1zM181 348h1v5h-1zM88 353h1v5h-1zM141 353h1v5h-1zM77 358h1v5h-1zM77 363h1v4h-1zM76 367h1v5h-1zM87 367h1v5h-1zM129 367h1v5h-1zM181 367h1v5h-1zM77 372h1v5h-1zM87 372h1v5h-1zM129 372h1v5h-1zM182 372h1v5h-1zM78 377h1v5h-1zM88 377h1v5h-1zM87 382h1v5h-1zM129 382h1v5h-1zM180 382h2v5h-2zM195 382h2v5h-2zM76 387h1v4h-1zM87 387h1v4h-1zM140 387h1v4h-1zM181 387h2v4h-2zM194 387h2v4h-2zM76 391h1v5h-1zM145 391h1v5h-1zM182 391h2v5h-2zM193 391h2v5h-2zM76 396h1v5h-1zM129 396h1v5h-1zM145 396h1v5h-1zM184 396h9v5h-9zM77 401h1v5h-1zM88 401h1v5h-1zM129 401h1v5h-1zM186 401h5v5h-5zM78 406h1v5h-1zM89 406h1v5h-1zM142 406h1v5h-1zM80 411h1v4h-1zM89 411h1v4h-1zM121 411h2v4h-2zM153 411h2v4h-2zM79 415h1v5h-1zM89 415h1v5h-1zM122 415h2v5h-2zM152 415h1v5h-1zM80 420h1v5h-1zM88 420h1v5h-1zM127 420h2v5h-2zM146 420h2v5h-2zM83 425h3v5h-3zM132 425h11v5h-11z"/>
<path fill="#00a7ff" d="M78 262h1v5h-1zM175 262h1v5h-1zM71 267h1v5h-1zM122 267h1v5h-1zM185 267h1v5h-1zM133 272h1v4h-1zM71 276h1v5h-1zM79 281h1v5h-1zM175 281h1v5h-1zM72 286h1v5h-1zM80 286h1v5h-1zM135 286h1v5h-1zM81 291h1v5h-1zM74 300h1v5h-1zM81 300h1v5h-1zM73 305h1v5h-1zM136 305h1v5h-1zM81 310h1v5h-1zM178 310h1v5h-1zM82 315h1v5h-1zM74 320h1v4h-1zM83 320h1v4h-1zM137 320h1v4h-1zM85 324h1v5h-1zM127 324h1v5h-1zM76 329h1v5h-1zM84 329h1v5h-1zM138 329h1v5h-1zM191 329h1v5h-1zM75 334h1v5h-1zM84 334h1v5h-1zM76 339h1v5h-1zM77 344h1v4h-1zM182 344h1v4h-1zM77 348h1v5h-1zM86 348h1v5h-1zM140 348h1v5h-1zM77 353h1v5h-1zM87 353h1v5h-1zM129 353h1v5h-1zM87 358h1v5h-1zM87 363h1v4h-1zM77 367h1v5h-1zM192 367h1v5h-1zM78 372h1v5h-1zM79 377h1v5h-1zM87 377h1v5h-1zM192 377h1v5h-1zM77 382h1v5h-1zM182 382h2v5h-2zM193 382h2v5h-2zM77 387h1v4h-1zM183 387h2v4h-2zM192 387h2v4h-2zM77 391h1v5h-1zM87 391h1v5h-1zM129 391h1v5h-1zM184 391h9v5h-9zM77 396h1v5h-1zM87 396h1v5h-1zM78 401h1v5h-1zM87 401h1v5h-1zM145 401h1v5h-1zM79 406h1v5h-1zM88 406h1v5h-1zM81 411h1v4h-1zM88 411h1v4h-1zM123 411h1v4h-1zM151 411h2v4h-2zM80 415h1v5h-1zM88 415h1v5h-1zM124 415h1v5h-1zM150 415h2v5h-2zM81 420h2v5h-2zM87 420h1v5h-1zM129 420h2v5h-2zM144 420h2v5h-2z"/>
<path fill="#00b7ff" d="M78 252h1v5h-1zM78 257h1v5h-1zM72 262h1v5h-1zM186 262h1v5h-1zM77 267h1v5h-1zM174 267h1v5h-1zM71 272h1v4h-1zM77 272h1v4h-1zM77 276h1v5h-1zM121 276h1v5h-1zM72 281h1v5h-1zM134 281h1v5h-1zM186 281h1v5h-1zM176 286h1v5h-1zM187 286h1v5h-1zM74 291h1v5h-1zM75 296h1v4h-1zM81 296h1v4h-1zM125 296h1v4h-1zM81 305h1v5h-1zM74 310h1v5h-1zM74 315h1v5h-1zM125 315h1v5h-1zM75 320h1v4h-1zM179 320h1v4h-1zM76 324h1v5h-1zM84 324h1v5h-1zM76 334h1v5h-1zM83 334h1v5h-1zM77 339h1v5h-1zM84 339h1v5h-1zM78 344h1v4h-1zM85 344h1v4h-1zM78 353h1v5h-1zM86 353h1v5h-1zM78 358h1v5h-1zM86 358h1v5h-1zM129 358h1v5h-1zM78 363h1v4h-1zM86 363h1v4h-1zM129 363h1v4h-1zM140 363h1v4h-1zM86 367h1v5h-1zM86 372h1v5h-1zM78 382h1v5h-1zM86 382h1v5h-1zM184 382h3v5h-3zM190 382h3v5h-3zM86 387h1v4h-1zM185 387h7v4h-7zM86 391h1v5h-1zM78 396h1v5h-1zM86 396h1v5h-1zM79 401h1v5h-1zM86 401h1v5h-1zM80 406h1v5h-1zM87 406h1v5h-1zM82 411h1v4h-1zM86 411h2v4h-2zM124 411h2v4h-2zM149 411h2v4h-2zM81 415h1v5h-1zM87 415h1v5h-1zM125 415h2v5h-2zM148 415h2v5h-2zM83 420h4v5h-4zM131 420h4v5h-4zM140 420h4v5h-4z"/>
<path fill="#00c7ff" d="M73 252h1v5h-1zM123 252h1v5h-1zM73 257h1v5h-1zM77 262h1v5h-1zM72 267h1v5h-1zM186 272h1v4h-1zM72 276h1v5h-1zM132 276h1v5h-1zM176 276h1v5h-1zM78 281h1v5h-1zM73 286h1v5h-1zM79 286h1v5h-1zM80 291h1v5h-1zM136 291h1v5h-1zM177 291h1v5h-1zM75 300h1v5h-1zM80 300h1v5h-1zM74 305h1v5h-1zM80 305h1v5h-1zM80 310h1v5h-1zM75 315h1v5h-1zM81 315h1v5h-1zM82 320h1v4h-1zM77 324h1v5h-1zM77 329h1v5h-1zM83 329h1v5h-1zM83 339h1v5h-1zM79 344h1v4h-1zM84 344h1v4h-1zM78 348h1v5h-1zM85 348h1v5h-1zM192 348h1v5h-1zM79 358h1v5h-1zM140 358h1v5h-1zM79 363h1v4h-1zM85 363h1v4h-1zM193 363h1v4h-1zM78 367h1v5h-1zM85 367h1v5h-1zM79 372h1v5h-1zM85 372h1v5h-1zM80 377h1v5h-1zM86 377h1v5h-1zM79 382h1v5h-1zM85 382h1v5h-1zM187 382h3v5h-3zM78 387h1v4h-1zM85 387h1v4h-1zM129 387h1v4h-1zM78 391h1v5h-1zM85 391h1v5h-1zM79 396h1v5h-1zM85 396h1v5h-1zM80 401h1v5h-1zM85 401h1v5h-1zM81 406h1v5h-1zM86 406h1v5h-1zM132 406h1v5h-1zM83 411h3v4h-3zM126 411h2v4h-2zM147 411h2v4h-2zM82 415h5v5h-5zM127 415h2v5h-2zM146 415h2v5h-2zM135 420h5v5h-5z"/>
<path fill="#00d7ff" d="M134 252h1v5h-1zM77 257h1v5h-1zM176 257h1v5h-1zM73 262h1v5h-1zM76 267h1v5h-1zM72 272h1v4h-1zM76 272h1v4h-1zM76 276h1v5h-1zM73 281h1v5h-1zM77 281h1v5h-1zM123 281h1v5h-1zM74 286h1v5h-1zM75 291h1v5h-1zM125 291h1v5h-1zM76 296h1v4h-1zM80 296h1v4h-1zM189 296h1v4h-1zM76 300h1v5h-1zM79 300h1v5h-1zM178 300h1v5h-1zM75 305h1v5h-1zM75 310h1v5h-1zM180 315h1v5h-1zM76 320h1v4h-1zM81 320h1v4h-1zM83 324h1v5h-1zM78 329h1v5h-1zM82 329h1v5h-1zM127 329h1v5h-1zM77 334h1v5h-1zM82 334h1v5h-1zM78 339h1v5h-1zM192 339h1v5h-1zM80 344h1v4h-1zM83 344h1v4h-1zM79 348h1v5h-1zM84 348h1v5h-1zM79 353h1v5h-1zM85 353h1v5h-1zM85 358h1v5h-1zM80 363h1v4h-1zM84 363h1v4h-1zM79 367h1v5h-1zM84 367h1v5h-1zM80 372h2v5h-2zM83 372h2v5h-2zM140 372h1v5h-1zM81 377h5v5h-5zM182 377h1v5h-1zM80 382h1v5h-1zM84 382h1v5h-1zM140 382h1v5h-1zM79 387h1v4h-1zM84 387h1v4h-1zM79 391h1v5h-1zM84 391h1v5h-1zM144 391h1v5h-1zM80 396h1v5h-1zM84 396h1v5h-1zM144 396h1v5h-1zM81 401h4v5h-4zM130 401h1v5h-1zM82 406h4v5h-4zM128 411h2v4h-2zM145 411h2v4h-2zM129 415h3v5h-3zM144 415h2v5h-2z"/>
<path fill="#00e7ff" d="M74 252h1v5h-1zM77 252h1v5h-1zM74 257h1v5h-1zM76 257h1v5h-1zM74 262h1v5h-1zM76 262h1v5h-1zM73 267h1v5h-1zM75 267h1v5h-1zM133 267h1v5h-1zM73 272h1v4h-1zM75 272h1v4h-1zM73 276h3v5h-3zM74 281h1v5h-1zM78 286h1v5h-1zM76 291h1v5h-1zM79 291h1v5h-1zM77 296h1v4h-1zM79 296h1v4h-1zM136 296h1v4h-1zM77 300h2v5h-2zM79 305h1v5h-1zM188 305h1v5h-1zM76 310h1v5h-1zM78 310h2v5h-2zM76 315h1v5h-1zM80 315h1v5h-1zM136 315h1v5h-1zM77 320h1v4h-1zM78 324h1v5h-1zM82 324h1v5h-1zM181 324h1v5h-1zM79 329h3v5h-3zM78 334h1v5h-1zM81 334h1v5h-1zM181 334h1v5h-1zM79 339h4v5h-4zM182 339h1v5h-1zM81 344h2v4h-2zM139 344h1v4h-1zM80 348h1v5h-1zM83 348h1v5h-1zM129 348h1v5h-1zM80 353h1v5h-1zM84 353h1v5h-1zM140 353h1v5h-1zM193 353h1v5h-1zM80 358h2v5h-2zM83 358h2v5h-2zM183 358h1v5h-1zM193 358h1v5h-1zM81 363h3v4h-3zM183 363h1v4h-1zM80 367h4v5h-4zM140 367h1v5h-1zM82 372h1v5h-1zM141 377h1v5h-1zM81 382h3v5h-3zM80 387h4v4h-4zM80 391h4v5h-4zM81 396h3v5h-3zM130 411h3v4h-3zM143 411h2v4h-2zM132 415h4v5h-4zM139 415h5v5h-5z"/>
<path fill="#00f7ff" d="M75 252h2v5h-2zM176 252h1v5h-1zM75 257h1v5h-1zM75 262h1v5h-1zM74 267h1v5h-1zM74 272h1v4h-1zM122 272h1v4h-1zM75 281h2v5h-2zM75 286h3v5h-3zM77 291h2v5h-2zM78 296h1v4h-1zM76 305h3v5h-3zM178 305h1v5h-1zM77 310h1v5h-1zM135 310h1v5h-1zM77 315h3v5h-3zM78 320h3v4h-3zM126 320h1v4h-1zM79 324h3v5h-3zM191 324h1v5h-1zM79 334h2v5h-2zM191 334h1v5h-1zM139 339h1v5h-1zM81 348h2v5h-2zM81 353h3v5h-3zM183 353h1v5h-1zM82 358h1v5h-1zM192 372h1v5h-1zM131 377h1v5h-1zM139 387h1v4h-1zM130 396h1v5h-1zM133 411h10v4h-10zM136 415h3v5h-3z"/>
<path fill="#08fff7" d="M186 252h1v5h-1zM133 262h1v5h-1zM124 286h1v5h-1zM179 296h1v4h-1zM136 300h1v5h-1zM188 300h1v5h-1zM125 305h1v5h-1zM138 324h1v5h-1zM138 334h1v5h-1zM182 348h1v5h-1zM182 367h1v5h-1zM144 401h1v5h-1zM141 406h1v5h-1z"/>
<path fill="#18ffe7" d="M123 257h1v5h-1zM133 257h1v5h-1zM186 257h1v5h-1zM176 272h1v4h-1zM186 276h1v5h-1zM126 300h1v5h-1zM190 315h1v5h-1zM130 367h1v5h-1zM130 372h1v5h-1z"/>
<path fill="#28ffd7" d="M123 262h1v5h-1zM176 281h1v5h-1zM134 286h1v5h-1zM187 291h1v5h-1zM135 305h1v5h-1zM125 310h1v5h-1zM188 310h1v5h-1zM189 320h1v4h-1zM128 324h1v5h-1zM181 329h1v5h-1zM128 334h1v5h-1zM129 339h1v5h-1zM129 344h1v4h-1zM192 344h1v4h-1zM139 348h1v5h-1zM183 372h1v5h-1zM130 382h1v5h-1zM130 391h1v5h-1z"/>
<path fill="#38ffc7" d="M176 262h1v5h-1zM184 267h1v5h-1zM132 272h1v4h-1zM136 320h1v4h-1zM137 329h1v5h-1zM190 329h1v5h-1zM183 344h1v4h-1zM130 353h1v5h-1zM191 367h1v5h-1zM191 377h1v5h-1z"/>
<path fill="#48ffb7" d="M123 267h1v5h-1zM177 286h1v5h-1zM186 286h1v5h-1zM179 310h1v5h-1zM126 315h1v5h-1zM130 358h1v5h-1zM130 363h1v4h-1zM139 363h1v4h-1z"/>
<path fill="#58ffa7" d="M185 262h1v5h-1zM175 267h1v5h-1zM122 276h1v5h-1zM177 276h1v5h-1zM133 281h1v5h-1zM185 281h1v5h-1zM126 296h1v4h-1zM180 320h1v4h-1zM139 358h1v5h-1zM192 363h1v4h-1zM143 396h1v5h-1zM133 406h1v5h-1z"/>
<path fill="#68ff97" d="M185 272h1v4h-1zM131 276h1v5h-1zM135 291h1v5h-1zM178 291h1v5h-1zM181 315h1v5h-1zM191 348h1v5h-1zM130 387h1v4h-1zM143 391h1v5h-1zM131 401h1v5h-1z"/>
<path fill="#78ff87" d="M124 252h1v5h-1zM133 252h1v5h-1zM177 257h1v5h-1zM124 281h1v5h-1zM188 296h1v4h-1zM179 300h1v5h-1zM182 324h1v5h-1zM128 329h1v5h-1zM191 339h1v5h-1zM184 358h1v5h-1zM139 372h1v5h-1zM183 377h1v5h-1zM139 382h1v5h-1z"/>
<path fill="#87ff78" d="M126 291h1v5h-1zM135 296h1v4h-1zM187 305h1v5h-1zM135 315h1v5h-1zM182 334h1v5h-1zM183 339h1v5h-1zM138 344h1v4h-1zM139 353h1v5h-1zM192 353h1v5h-1zM192 358h1v5h-1zM184 363h1v4h-1zM139 367h1v5h-1zM191 372h1v5h-1zM140 377h1v5h-1zM131 396h1v5h-1z"/>
<path fill="#97ff68" d="M177 252h1v5h-1zM132 267h1v5h-1zM179 305h1v5h-1zM134 310h1v5h-1zM127 320h1v4h-1zM190 324h1v5h-1zM190 334h1v5h-1zM138 339h1v5h-1zM130 348h1v5h-1zM184 353h1v5h-1zM132 377h1v5h-1zM138 387h1v4h-1zM143 401h1v5h-1z"/>
<path fill="#a7ff58" d="M185 252h1v5h-1zM132 262h1v5h-1zM123 272h1v4h-1zM180 296h1v4h-1zM135 300h1v5h-1zM187 300h1v5h-1zM126 305h1v5h-1zM137 324h1v5h-1zM137 334h1v5h-1zM183 348h1v5h-1zM183 367h1v5h-1zM140 406h1v5h-1z"/>
<path fill="#b7ff48" d="M124 257h1v5h-1zM132 257h1v5h-1zM185 257h1v5h-1zM177 272h1v4h-1zM185 276h1v5h-1zM125 286h1v5h-1zM189 315h1v5h-1zM191 344h1v4h-1zM131 367h1v5h-1zM131 372h1v5h-1zM131 391h1v5h-1z"/>
<path fill="#c7ff38" d="M124 262h1v5h-1zM177 262h1v5h-1zM177 281h1v5h-1zM133 286h1v5h-1zM186 291h1v5h-1zM127 300h1v5h-1zM134 305h1v5h-1zM126 310h1v5h-1zM187 310h1v5h-1zM188 320h1v4h-1zM129 324h1v5h-1zM182 329h1v5h-1zM129 334h1v5h-1zM130 339h1v5h-1zM130 344h1v4h-1zM184 344h1v4h-1zM138 348h1v5h-1zM190 367h1v5h-1zM184 372h1v5h-1zM131 382h1v5h-1z"/>
<path fill="#d7ff28" d="M183 267h1v5h-1zM131 272h1v4h-1zM180 310h1v5h-1zM135 320h1v4h-1zM136 329h1v5h-1zM189 329h1v5h-1zM131 353h1v5h-1zM190 377h1v5h-1z"/>
<path fill="#e7ff18" d="M184 262h1v5h-1zM124 267h1v5h-1zM176 267h1v5h-1zM184 281h1v5h-1zM178 286h1v5h-1zM185 286h1v5h-1zM127 315h1v5h-1zM131 358h1v5h-1zM131 363h1v4h-1zM138 363h1v4h-1zM142 391h1v5h-1zM142 396h1v5h-1zM134 406h1v5h-1z"/>
<path fill="#f7ff08" d="M123 276h1v5h-1zM178 276h1v5h-1zM132 281h1v5h-1zM127 296h1v4h-1zM181 320h1v4h-1zM190 348h1v5h-1zM138 358h1v5h-1zM191 363h1v4h-1zM131 387h1v4h-1zM132 401h1v5h-1z"/>
<path fill="#fff700" d="M178 257h1v5h-1zM184 272h1v4h-1zM130 276h1v5h-1zM134 291h1v5h-1zM179 291h1v5h-1zM180 300h1v5h-1zM182 315h1v5h-1zM138 372h1v5h-1zM184 377h1v5h-1zM138 382h1v5h-1z"/>
<path fill="#ffe700" d="M125 252h1v5h-1zM132 252h1v5h-1zM125 281h1v5h-1zM127 291h1v5h-1zM187 296h1v4h-1zM186 305h1v5h-1zM183 324h1v5h-1zM129 329h1v5h-1zM183 334h1v5h-1zM190 339h1v5h-1zM137 344h1v4h-1zM191 353h1v5h-1zM185 358h1v5h-1zM191 358h1v5h-1zM185 363h1v4h-1zM138 367h1v5h-1zM190 372h1v5h-1zM132 396h1v5h-1zM142 401h1v5h-1z"/>
<path fill="#ffd700" d="M178 252h1v5h-1zM131 267h1v5h-1zM134 296h1v4h-1zM133 310h1v5h-1zM134 315h1v5h-1zM189 324h1v5h-1zM189 334h1v5h-1zM184 339h1v5h-1zM131 348h1v5h-1zM138 353h1v5h-1zM185 353h1v5h-1zM133 377h1v5h-1zM139 377h1v5h-1zM137 387h1v4h-1zM138 401h1v5h-1zM139 406h1v5h-1z"/>
<path fill="#ffc700" d="M124 272h1v4h-1zM181 296h1v4h-1zM134 300h1v5h-1zM186 300h1v5h-1zM180 305h1v5h-1zM128 320h1v4h-1zM136 324h1v5h-1zM136 334h1v5h-1zM137 339h1v5h-1zM184 348h1v5h-1zM184 367h1v5h-1zM137 401h1v5h-1z"/>
<path fill="#ffb700" d="M184 252h1v5h-1zM184 257h1v5h-1zM131 262h1v5h-1zM178 272h1v4h-1zM184 276h1v5h-1zM126 286h1v5h-1zM127 305h1v5h-1zM188 315h1v5h-1zM190 344h1v4h-1zM132 367h1v5h-1zM132 372h1v5h-1zM185 372h1v5h-1zM132 391h1v5h-1zM137 396h1v5h-1z"/>
<path fill="#ffa700" d="M125 257h1v5h-1zM131 257h1v5h-1zM125 262h1v5h-1zM178 262h1v5h-1zM182 267h1v5h-1zM178 281h1v5h-1zM185 291h1v5h-1zM128 300h1v5h-1zM133 305h1v5h-1zM127 310h1v5h-1zM186 310h1v5h-1zM187 320h1v4h-1zM130 324h1v5h-1zM183 329h1v5h-1zM188 329h1v5h-1zM130 334h1v5h-1zM131 339h1v5h-1zM131 344h1v4h-1zM185 344h1v4h-1zM137 348h1v5h-1zM189 367h1v5h-1zM189 377h1v5h-1zM132 382h1v5h-1zM141 396h1v5h-1zM135 406h1v5h-1z"/>
<path fill="#ff9700" d="M130 272h1v4h-1zM132 286h1v5h-1zM184 286h1v5h-1zM181 310h1v5h-1zM134 320h1v4h-1zM135 329h1v5h-1zM132 353h1v5h-1zM137 391h1v5h-1zM141 391h1v5h-1zM138 396h1v5h-1zM133 401h1v5h-1z"/>
<path fill="#ff8700" d="M183 262h1v5h-1zM125 267h1v5h-1zM177 267h1v5h-1zM124 276h1v5h-1zM179 276h1v5h-1zM183 281h1v5h-1zM179 286h1v5h-1zM128 315h1v5h-1zM182 320h1v4h-1zM132 358h1v5h-1zM132 363h1v4h-1zM137 363h1v4h-1zM190 363h1v4h-1zM185 377h1v5h-1zM132 387h1v4h-1zM139 401h1v5h-1zM141 401h1v5h-1z"/>
<path fill="#ff7800" d="M179 257h1v5h-1zM183 272h1v4h-1zM131 281h1v5h-1zM133 291h1v5h-1zM180 291h1v5h-1zM128 296h1v4h-1zM181 300h1v5h-1zM183 315h1v5h-1zM189 348h1v5h-1zM137 358h1v5h-1zM137 372h1v5h-1zM133 396h1v5h-1zM138 406h1v5h-1z"/>
<path fill="#ff6800" d="M126 252h1v5h-1zM129 276h1v5h-1zM126 281h1v5h-1zM186 296h1v4h-1zM185 305h1v5h-1zM184 324h1v5h-1zM130 329h1v5h-1zM184 334h1v5h-1zM185 339h1v5h-1zM189 339h1v5h-1zM136 344h1v4h-1zM190 353h1v5h-1zM186 358h1v5h-1zM190 358h1v5h-1zM186 363h1v4h-1zM137 367h1v5h-1zM189 372h1v5h-1zM137 382h1v5h-1zM138 391h1v5h-1zM136 401h1v5h-1z"/>
<path fill="#ff5800" d="M131 252h1v5h-1zM179 252h1v5h-1zM130 267h1v5h-1zM128 291h1v5h-1zM133 296h1v4h-1zM185 300h1v5h-1zM181 305h1v5h-1zM132 310h1v5h-1zM133 315h1v5h-1zM188 324h1v5h-1zM188 334h1v5h-1zM132 348h1v5h-1zM185 348h1v5h-1zM137 353h1v5h-1zM186 353h1v5h-1zM185 367h1v5h-1zM134 377h1v5h-1zM138 377h1v5h-1zM136 387h1v4h-1zM136 396h1v5h-1zM140 396h1v5h-1z"/>
<path fill="#ff4800" d="M183 252h1v5h-1zM125 272h1v4h-1zM179 272h1v4h-1zM183 276h1v5h-1zM182 296h1v4h-1zM133 300h1v5h-1zM187 315h1v5h-1zM129 320h1v4h-1zM135 324h1v5h-1zM135 334h1v5h-1zM136 339h1v5h-1zM189 344h1v4h-1zM188 367h1v5h-1zM133 372h1v5h-1zM186 372h1v5h-1zM188 377h1v5h-1zM133 391h1v5h-1zM136 391h1v5h-1zM140 391h1v5h-1zM139 396h1v5h-1zM140 401h1v5h-1zM136 406h1v5h-1z"/>
<path fill="#ff3800" d="M183 257h1v5h-1zM130 262h1v5h-1zM179 262h1v5h-1zM179 281h1v5h-1zM127 286h1v5h-1zM184 291h1v5h-1zM128 305h1v5h-1zM185 310h1v5h-1zM186 320h1v4h-1zM184 329h1v5h-1zM187 329h1v5h-1zM132 344h1v4h-1zM186 344h1v4h-1zM133 367h1v5h-1zM133 382h1v5h-1zM134 401h1v5h-1z"/>
<path fill="#ff2800" d="M126 257h1v5h-1zM130 257h1v5h-1zM126 262h1v5h-1zM181 267h1v5h-1zM129 272h1v4h-1zM131 286h1v5h-1zM129 300h1v5h-1zM132 305h1v5h-1zM128 310h1v5h-1zM182 310h1v5h-1zM133 320h1v4h-1zM131 324h1v5h-1zM134 329h1v5h-1zM131 334h1v5h-1zM132 339h1v5h-1zM136 348h1v5h-1zM189 363h1v4h-1zM186 377h1v5h-1zM139 391h1v5h-1zM134 396h1v5h-1zM135 401h1v5h-1zM137 406h1v5h-1z"/>
<path fill="#ff1800" d="M182 262h1v5h-1zM126 267h1v5h-1zM178 267h1v5h-1zM180 276h1v5h-1zM182 281h1v5h-1zM180 286h1v5h-1zM183 286h1v5h-1zM129 315h1v5h-1zM183 320h1v4h-1zM188 348h1v5h-1zM133 353h1v5h-1zM133 358h1v5h-1zM136 358h1v5h-1zM133 363h1v4h-1zM136 363h1v4h-1zM188 372h1v5h-1zM133 387h1v4h-1zM135 396h1v5h-1z"/>
<path fill="#ff0800" d="M180 257h1v5h-1zM182 272h1v4h-1zM125 276h1v5h-1zM130 281h1v5h-1zM132 291h1v5h-1zM181 291h1v5h-1zM129 296h1v4h-1zM185 296h1v4h-1zM182 300h1v5h-1zM184 305h1v5h-1zM184 315h1v5h-1zM185 324h1v5h-1zM185 334h1v5h-1zM186 339h1v5h-1zM188 339h1v5h-1zM189 353h1v5h-1zM187 358h1v5h-1zM189 358h1v5h-1zM187 363h1v4h-1zM186 367h1v5h-1zM136 372h1v5h-1zM187 372h1v5h-1zM187 377h1v5h-1zM136 382h1v5h-1z"/>
<path fill="#f70000" d="M127 252h1v5h-1zM128 276h1v5h-1zM127 281h1v5h-1zM184 300h1v5h-1zM182 305h1v5h-1zM187 324h1v5h-1zM131 329h1v5h-1zM187 334h1v5h-1zM135 344h1v4h-1zM188 344h1v4h-1zM186 348h1v5h-1zM187 353h1v5h-1zM136 367h1v5h-1zM187 367h1v5h-1zM135 377h1v5h-1zM137 377h1v5h-1zM135 387h1v4h-1zM134 391h2v5h-2z"/>
<path fill="#e70000" d="M130 252h1v5h-1zM180 252h1v5h-1zM182 252h1v5h-1zM182 257h1v5h-1zM129 267h1v5h-1zM180 272h1v4h-1zM182 276h1v5h-1zM180 281h1v5h-1zM129 291h1v5h-1zM132 296h1v4h-1zM183 296h1v4h-1zM131 310h1v5h-1zM184 310h1v5h-1zM132 315h1v5h-1zM186 315h1v5h-1zM130 320h1v4h-1zM185 320h1v4h-1zM185 329h2v5h-2zM135 339h1v5h-1zM187 344h1v4h-1zM133 348h1v5h-1zM136 353h1v5h-1zM188 363h1v4h-1zM134 367h1v5h-1zM134 372h1v5h-1z"/>
<path fill="#d70000" d="M129 262h1v5h-1zM180 262h2v5h-2zM179 267h2v5h-2zM126 272h1v4h-1zM181 276h1v5h-1zM181 281h1v5h-1zM128 286h1v5h-1zM182 286h1v5h-1zM183 291h1v5h-1zM130 300h1v5h-1zM132 300h1v5h-1zM129 305h1v5h-1zM183 310h1v5h-1zM184 320h1v4h-1zM134 324h1v5h-1zM134 334h1v5h-1zM133 339h1v5h-1zM187 339h1v5h-1zM133 344h1v4h-1zM135 348h1v5h-1zM187 348h1v5h-1zM188 358h1v5h-1zM134 382h1v5h-1zM134 387h1v4h-1z"/>
<path fill="#c70000" d="M127 257h1v5h-1zM129 257h1v5h-1zM181 257h1v5h-1zM127 262h1v5h-1zM128 272h1v4h-1zM181 272h1v4h-1zM130 286h1v5h-1zM181 286h1v5h-1zM182 291h1v5h-1zM184 296h1v4h-1zM183 300h1v5h-1zM131 305h1v5h-1zM183 305h1v5h-1zM129 310h1v5h-1zM185 315h1v5h-1zM132 320h1v4h-1zM132 324h1v5h-1zM186 324h1v5h-1zM133 329h1v5h-1zM132 334h1v5h-1zM186 334h1v5h-1zM134 353h1v5h-1zM188 353h1v5h-1zM134 358h2v5h-2zM134 363h2v4h-2zM135 372h1v5h-1zM136 377h1v5h-1zM135 382h1v5h-1z"/>
<path fill="#b70000" d="M181 252h1v5h-1zM127 267h1v5h-1zM126 276h2v5h-2zM129 281h1v5h-1zM130 296h1v4h-1zM130 315h1v5h-1zM132 329h1v5h-1zM134 344h1v4h-1zM135 367h1v5h-1z"/>
<path fill="#a70000" d="M128 252h1v5h-1zM128 267h1v5h-1zM127 272h1v4h-1zM128 281h1v5h-1zM130 291h2v5h-2zM131 296h1v4h-1zM131 300h1v5h-1zM130 310h1v5h-1zM131 315h1v5h-1zM131 320h1v4h-1zM133 324h1v5h-1zM133 334h1v5h-1zM134 339h1v5h-1zM134 348h1v5h-1zM135 353h1v5h-1z"/>
<path fill="#970000" d="M129 252h1v5h-1zM128 257h1v5h-1zM128 262h1v5h-1zM129 286h1v5h-1zM130 305h1v5h-1z"/>
</g>
<g id="pb-frame">
<path d="M52.5 448H283" stroke="#555" stroke-width="1.2" fill="none"/>
<path d="M108.7 448v-2.5" stroke="#555" stroke-width="1" fill="none"/>
<path d="M166.5 448v-2.5" stroke="#555" stroke-width="1" fill="none"/>
<path d="M224.3 448v-2.5" stroke="#555" stroke-width="1" fill="none"/>
<path d="M282.1 448v-2.5" stroke="#555" stroke-width="1" fill="none"/>
<text x="2.5" y="257">(b)</text>
<text x="38.8" y="257" font-weight="bold" text-anchor="middle" font-size="11.8">2.7</text>
<text x="38.8" y="305.5" font-weight="bold" text-anchor="middle" font-size="11.8">2.3</text>
<text x="38.8" y="354.2" font-weight="bold" text-anchor="middle" font-size="11.8">1.9</text>
<text x="38.8" y="405" font-weight="bold" text-anchor="middle" font-size="11.8">1.5</text>
<text x="38.8" y="454" font-weight="bold" text-anchor="middle" font-size="11.8">1.1</text>
<text x="57.7" y="467.5" text-anchor="middle" font-size="11.6">2010</text>
<text x="113.7" y="467.5" text-anchor="middle" font-size="11.6">2020</text>
<text x="171.4" y="467.5" text-anchor="middle" font-size="11.6">2030</text>
<text x="230" y="467.5" text-anchor="middle" font-size="11.6">2040</text>
<text x="285.7" y="465.8" text-anchor="middle" font-size="11.6">2050</text>
<text x="172" y="484.7" font-weight="bold" text-anchor="middle" font-size="12.9">Wavelength (nm)</text>
<text x="21.8" y="349.5" font-weight="bold" text-anchor="middle" transform="rotate(-90 21.8 349.5)" font-size="13.1">Pump power (W)</text>
<path d="M163 379.5H211M117 411.3H163" stroke="#fff" stroke-width="1" stroke-dasharray="4 1.5 1 1.5" fill="none"/>
<text x="220" y="385" fill="#ffff3c" font-size="11.8">1.67 W</text>
<text x="169" y="415" fill="#ffff3c" font-size="11.8">1.4 W</text>
<g shape-rendering="crispEdges">
<rect x="297.2" y="444.6" width="12.8" height="3.7" fill="#000087"/>
<rect x="297.2" y="441.6" width="12.8" height="3.7" fill="#000097"/>
<rect x="297.2" y="438.5" width="12.8" height="3.7" fill="#0000a7"/>
<rect x="297.2" y="435.4" width="12.8" height="3.7" fill="#0000b7"/>
<rect x="297.2" y="432.3" width="12.8" height="3.7" fill="#0000c7"/>
<rect x="297.2" y="429.3" width="12.8" height="3.7" fill="#0000d7"/>
<rect x="297.2" y="426.2" width="12.8" height="3.7" fill="#0000e7"/>
<rect x="297.2" y="423.1" width="12.8" height="3.7" fill="#0000f7"/>
<rect x="297.2" y="420.1" width="12.8" height="3.7" fill="#0008ff"/>
<rect x="297.2" y="417" width="12.8" height="3.7" fill="#0018ff"/>
<rect x="297.2" y="413.9" width="12.8" height="3.7" fill="#0028ff"/>
<rect x="297.2" y="410.9" width="12.8" height="3.7" fill="#0038ff"/>
<rect x="297.2" y="407.8" width="12.8" height="3.7" fill="#0048ff"/>
<rect x="297.2" y="404.7" width="12.8" height="3.7" fill="#0058ff"/>
<rect x="297.2" y="401.6" width="12.8" height="3.7" fill="#0068ff"/>
<rect x="297.2" y="398.6" width="12.8" height="3.7" fill="#0078ff"/>
<rect x="297.2" y="395.5" width="12.8" height="3.7" fill="#0087ff"/>
<rect x="297.2" y="392.4" width="12.8" height="3.7" fill="#0097ff"/>
<rect x="297.2" y="389.4" width="12.8" height="3.7" fill="#00a7ff"/>
<rect x="297.2" y="386.3" width="12.8" height="3.7" fill="#00b7ff"/>
<rect x="297.2" y="383.2" width="12.8" height="3.7" fill="#00c7ff"/>
<rect x="297.2" y="380.2" width="12.8" height="3.7" fill="#00d7ff"/>
<rect x="297.2" y="377.1" width="12.8" height="3.7" fill="#00e7ff"/>
<rect x="297.2" y="374" width="12.8" height="3.7" fill="#00f7ff"/>
<rect x="297.2" y="370.9" width="12.8" height="3.7" fill="#08fff7"/>
<rect x="297.2" y="367.9" width="12.8" height="3.7" fill="#18ffe7"/>
<rect x="297.2" y="364.8" width="12.8" height="3.7" fill="#28ffd7"/>
<rect x="297.2" y="361.7" width="12.8" height="3.7" fill="#38ffc7"/>
<rect x="297.2" y="358.7" width="12.8" height="3.7" fill="#48ffb7"/>
<rect x="297.2" y="355.6" width="12.8" height="3.7" fill="#58ffa7"/>
<rect x="297.2" y="352.5" width="12.8" height="3.7" fill="#68ff97"/>
<rect x="297.2" y="349.4" width="12.8" height="3.7" fill="#78ff87"/>
<rect x="297.2" y="346.4" width="12.8" height="3.7" fill="#87ff78"/>
<rect x="297.2" y="343.3" width="12.8" height="3.7" fill="#97ff68"/>
<rect x="297.2" y="340.2" width="12.8" height="3.7" fill="#a7ff58"/>
<rect x="297.2" y="337.2" width="12.8" height="3.7" fill="#b7ff48"/>
<rect x="297.2" y="334.1" width="12.8" height="3.7" fill="#c7ff38"/>
<rect x="297.2" y="331" width="12.8" height="3.7" fill="#d7ff28"/>
<rect x="297.2" y="328" width="12.8" height="3.7" fill="#e7ff18"/>
<rect x="297.2" y="324.9" width="12.8" height="3.7" fill="#f7ff08"/>
<rect x="297.2" y="321.8" width="12.8" height="3.7" fill="#fff700"/>
<rect x="297.2" y="318.7" width="12.8" height="3.7" fill="#ffe700"/>
<rect x="297.2" y="315.7" width="12.8" height="3.7" fill="#ffd700"/>
<rect x="297.2" y="312.6" width="12.8" height="3.7" fill="#ffc700"/>
<rect x="297.2" y="309.5" width="12.8" height="3.7" fill="#ffb700"/>
<rect x="297.2" y="306.5" width="12.8" height="3.7" fill="#ffa700"/>
<rect x="297.2" y="303.4" width="12.8" height="3.7" fill="#ff9700"/>
<rect x="297.2" y="300.3" width="12.8" height="3.7" fill="#ff8700"/>
<rect x="297.2" y="297.3" width="12.8" height="3.7" fill="#ff7800"/>
<rect x="297.2" y="294.2" width="12.8" height="3.7" fill="#ff6800"/>
<rect x="297.2" y="291.1" width="12.8" height="3.7" fill="#ff5800"/>
<rect x="297.2" y="288" width="12.8" height="3.7" fill="#ff4800"/>
<rect x="297.2" y="285" width="12.8" height="3.7" fill="#ff3800"/>
<rect x="297.2" y="281.9" width="12.8" height="3.7" fill="#ff2800"/>
<rect x="297.2" y="278.8" width="12.8" height="3.7" fill="#ff1800"/>
<rect x="297.2" y="275.8" width="12.8" height="3.7" fill="#ff0800"/>
<rect x="297.2" y="272.7" width="12.8" height="3.7" fill="#f70000"/>
<rect x="297.2" y="269.6" width="12.8" height="3.7" fill="#e70000"/>
<rect x="297.2" y="266.6" width="12.8" height="3.7" fill="#d70000"/>
<rect x="297.2" y="263.5" width="12.8" height="3.7" fill="#c70000"/>
<rect x="297.2" y="260.4" width="12.8" height="3.7" fill="#b70000"/>
<rect x="297.2" y="257.3" width="12.8" height="3.7" fill="#a70000"/>
<rect x="297.2" y="254.3" width="12.8" height="3.7" fill="#970000"/>
<rect x="297.2" y="251.2" width="12.8" height="3.7" fill="#870000"/>
</g>
<rect x="297.2" y="251.2" width="12.8" height="196.5" fill="none" stroke="#333" stroke-width=".6"/>
<text x="320.2" y="256.4" font-weight="bold" font-size="11.6">5</text>
<path d="M310 275.8h-2" stroke="#222" stroke-width=".8"/>
<text x="316.7" y="281" font-weight="bold" font-size="11.6">-5</text>
<path d="M310 300.3h-2" stroke="#222" stroke-width=".8"/>
<text x="316.7" y="305.5" font-weight="bold" font-size="11.6">-15</text>
<path d="M310 324.9h-2" stroke="#222" stroke-width=".8"/>
<text x="316.7" y="330.1" font-weight="bold" font-size="11.6">-25</text>
<path d="M310 349.4h-2" stroke="#222" stroke-width=".8"/>
<text x="316.7" y="354.6" font-weight="bold" font-size="11.6">-35</text>
<path d="M310 374h-2" stroke="#222" stroke-width=".8"/>
<text x="316.7" y="379.2" font-weight="bold" font-size="11.6">-45</text>
<path d="M310 398.6h-2" stroke="#222" stroke-width=".8"/>
<text x="316.7" y="403.8" font-weight="bold" font-size="11.6">-55</text>
<path d="M310 423.1h-2" stroke="#222" stroke-width=".8"/>
<text x="316.7" y="428.3" font-weight="bold" font-size="11.6">-65</text>
<text x="316.7" y="452.9" font-weight="bold" font-size="11.6">-75</text>
</g>
<g id="pc">
<path d="M55.5 492.8V696.7H304.2V492.8Z" fill="none" stroke="#444" stroke-width="1.1"/>
<path d="M55.5 696.7h-3.5" stroke="#444" stroke-width="1"/>
<text x="44.8" y="700.9" text-anchor="end" font-size="11.6">2022</text>
<path d="M55.5 667.6h-3.5" stroke="#444" stroke-width="1"/>
<text x="44.8" y="671.8" text-anchor="end" font-size="11.6">2024</text>
<path d="M55.5 638.4h-3.5" stroke="#444" stroke-width="1"/>
<text x="44.8" y="642.6" text-anchor="end" font-size="11.6">2026</text>
<path d="M55.5 609.3h-3.5" stroke="#444" stroke-width="1"/>
<text x="44.8" y="613.5" text-anchor="end" font-size="11.6">2028</text>
<path d="M55.5 580.2h-3.5" stroke="#444" stroke-width="1"/>
<text x="44.8" y="584.4" text-anchor="end" font-size="11.6">2030</text>
<path d="M55.5 551.1h-3.5" stroke="#444" stroke-width="1"/>
<text x="44.8" y="555.3" text-anchor="end" font-size="11.6">2032</text>
<path d="M55.5 521.9h-3.5" stroke="#444" stroke-width="1"/>
<text x="44.8" y="526.1" text-anchor="end" font-size="11.6">2034</text>
<path d="M55.5 492.8h-3.5" stroke="#444" stroke-width="1"/>
<text x="44.8" y="497" text-anchor="end" font-size="11.6">2036</text>
<path d="M304.2 696.7h3.5" stroke="#444" stroke-width="1"/>
<text x="314.5" y="701" font-size="11.3">8.5</text>
<path d="M304.2 655.9h3.5" stroke="#444" stroke-width="1"/>
<text x="314.5" y="660.2" font-size="11.3">8.8</text>
<path d="M304.2 615.1h3.5" stroke="#444" stroke-width="1"/>
<text x="314.5" y="619.4" font-size="11.3">9.1</text>
<path d="M304.2 574.4h3.5" stroke="#444" stroke-width="1"/>
<text x="314.5" y="578.7" font-size="11.3">9.4</text>
<path d="M304.2 533.6h3.5" stroke="#444" stroke-width="1"/>
<text x="314.5" y="537.9" font-size="11.3">9.7</text>
<path d="M304.2 492.8h3.5" stroke="#444" stroke-width="1"/>
<text x="314.5" y="497.1" font-size="11.3">10.0</text>
<path d="M55.5 696.7v3.5" stroke="#444" stroke-width="1"/>
<text x="56.7" y="714.3" text-anchor="middle" font-size="11.6">1.3</text>
<text x="106.4" y="714.3" text-anchor="middle" font-size="11.6">1.6</text>
<text x="156.2" y="714.3" text-anchor="middle" font-size="11.6">1.9</text>
<text x="205.9" y="714.3" text-anchor="middle" font-size="11.6">2.2</text>
<text x="255.7" y="714.3" text-anchor="middle" font-size="11.6">2.5</text>
<path d="M304.2 696.7v3.5" stroke="#444" stroke-width="1"/>
<text x="305.4" y="714.3" text-anchor="middle" font-size="11.6">2.8</text>
<text x="2" y="499">(c)</text>
<text x="11.2" y="597.6" font-weight="bold" text-anchor="middle" transform="rotate(-90 11.2 597.6)" font-size="12.7">Centre wavelength (nm)</text>
<text x="344.1" y="591.6" font-weight="bold" text-anchor="middle" transform="rotate(-90 344.1 591.6)" font-size="12.4">Wavelength separation (nm)</text>
<text x="179.7" y="728" font-weight="bold" text-anchor="middle" font-size="12.4">Pump power (W)</text>
<g fill="#7030a0" stroke="#2a1040" stroke-width=".8"><path d="M116 652.6l3.1 5.6h-6.2z"/><path d="M122.3 617l3.1 5.6h-6.2z"/><path d="M128.6 601.4l3.1 5.6h-6.2z"/><path d="M134.2 614.4l3.1 5.6h-6.2z"/><path d="M141.6 598.4l3.1 5.6h-6.2z"/><path d="M148.3 595.8l3.1 5.6h-6.2z"/><path d="M156.5 601.4l3.1 5.6h-6.2z"/><path d="M165 598.4l3.1 5.6h-6.2z"/><path d="M171.3 598.4l3.1 5.6h-6.2z"/><path d="M178 601.4l3.1 5.6h-6.2z"/><path d="M186.6 617l3.1 5.6h-6.2z"/><path d="M194.7 598.4l3.1 5.6h-6.2z"/><path d="M201 582.1l3.1 5.6h-6.2z"/><path d="M208.5 598.4l3.1 5.6h-6.2z"/><path d="M214 598.4l3.1 5.6h-6.2z"/><path d="M219.8 601.4l3.1 5.6h-6.2z"/><path d="M225.4 617l3.1 5.6h-6.2z"/><path d="M231.1 598.4l3.1 5.6h-6.2z"/><path d="M236.7 623.7l3.1 5.6h-6.2z"/><path d="M243 620l3.1 5.6h-6.2z"/><path d="M249.7 601.4l3.1 5.6h-6.2z"/><path d="M257.1 584.7l3.1 5.6h-6.2z"/><path d="M264.6 604l3.1 5.6h-6.2z"/><path d="M272.7 620l3.1 5.6h-6.2z"/><path d="M279.4 604l3.1 5.6h-6.2z"/><path d="M285.7 617l3.1 5.6h-6.2z"/></g>
<g fill="#0cb14b" stroke="#14532d" stroke-width=".9"><circle cx="72.3" cy="653.1" r="2.7"/><circle cx="81.6" cy="657.3" r="2.7"/><circle cx="90.9" cy="659.3" r="2.7"/><circle cx="100.1" cy="659.3" r="2.7"/><circle cx="109.5" cy="659" r="2.7"/><circle cx="116" cy="655.6" r="2.7"/><circle cx="122.3" cy="658.4" r="2.7"/><circle cx="128.6" cy="659.6" r="2.7"/><circle cx="134.2" cy="658.4" r="2.7"/><circle cx="141.6" cy="658.4" r="2.7"/><circle cx="148.3" cy="658.4" r="2.7"/><circle cx="156.5" cy="660.3" r="2.7"/><circle cx="165" cy="660.3" r="2.7"/><circle cx="171.3" cy="664.8" r="2.7"/><circle cx="178" cy="664.8" r="2.7"/><circle cx="186.6" cy="662.2" r="2.7"/><circle cx="194.7" cy="667" r="2.7"/><circle cx="201" cy="668.8" r="2.7"/><circle cx="208.5" cy="670.7" r="2.7"/><circle cx="214" cy="670.7" r="2.7"/><circle cx="219.8" cy="670.5" r="2.7"/><circle cx="225.4" cy="668.8" r="2.7"/><circle cx="231.1" cy="668.8" r="2.7"/><circle cx="236.7" cy="671.4" r="2.7"/><circle cx="243" cy="674.4" r="2.7"/><circle cx="249.7" cy="676.3" r="2.7"/><circle cx="257.1" cy="678.9" r="2.7"/><circle cx="264.6" cy="678.9" r="2.7"/><circle cx="272.7" cy="677" r="2.7"/><circle cx="279.4" cy="675.2" r="2.7"/><circle cx="285.7" cy="675.2" r="2.7"/></g>
<g fill="#ee1111" stroke="#7a0000" stroke-width=".9"><rect x="113.5" y="524.3" width="5" height="5"/><rect x="119.8" y="524.3" width="5" height="5"/><rect x="126.1" y="524.3" width="5" height="5"/><rect x="131.7" y="524.3" width="5" height="5"/><rect x="139.1" y="522.1" width="5" height="5"/><rect x="145.8" y="522.1" width="5" height="5"/><rect x="154" y="524.3" width="5" height="5"/><rect x="162.5" y="524.3" width="5" height="5"/><rect x="168.8" y="527.6" width="5" height="5"/><rect x="175.5" y="527.6" width="5" height="5"/><rect x="184.1" y="527.6" width="5" height="5"/><rect x="192.2" y="530.2" width="5" height="5"/><rect x="198.5" y="530.2" width="5" height="5"/><rect x="206" y="534.3" width="5" height="5"/><rect x="211.5" y="534.3" width="5" height="5"/><rect x="217.3" y="534.7" width="5" height="5"/><rect x="222.9" y="534" width="5" height="5"/><rect x="228.6" y="532.1" width="5" height="5"/><rect x="234.2" y="538" width="5" height="5"/><rect x="240.5" y="540.6" width="5" height="5"/><rect x="247.2" y="540.6" width="5" height="5"/><rect x="254.6" y="540.6" width="5" height="5"/><rect x="262.1" y="542.5" width="5" height="5"/><rect x="270.2" y="542.5" width="5" height="5"/><rect x="276.9" y="538" width="5" height="5"/><rect x="283.2" y="540.6" width="5" height="5"/></g>
<g fill="none" stroke="#222" stroke-width=".9"><ellipse cx="140.9" cy="525.3" rx="6.4" ry="10"/><path d="M140.9 515.3H99.5M104 512.6L99 515.3L104 518"/><ellipse cx="100.8" cy="659.8" rx="6.3" ry="10.8"/><path d="M99.5 670.4H70.8M75.3 667.7L70.3 670.4L75.3 673.1"/><ellipse cx="257.1" cy="588.3" rx="6" ry="10.3"/><path d="M257.1 578H284M279.5 575.3L284.5 578L279.5 580.7"/></g>
<rect x="270.2" y="494.2" width="32.2" height="24.8" fill="#fff" stroke="#888" stroke-width=".8"/>
<circle cx="275.7" cy="500.4" r="2.5" fill="#0cb14b" stroke="#14532d" stroke-width=".7"/>
<rect x="273.3" y="510.3" width="4.8" height="4.8" fill="#ee1111" stroke="#7a0000" stroke-width=".7"/>
<text x="280.6" y="504.5" font-size="12.2">λc1</text>
<text x="280.6" y="516.9" font-size="12.2">λc2</text>
</g>
</svg>
</body></html>
